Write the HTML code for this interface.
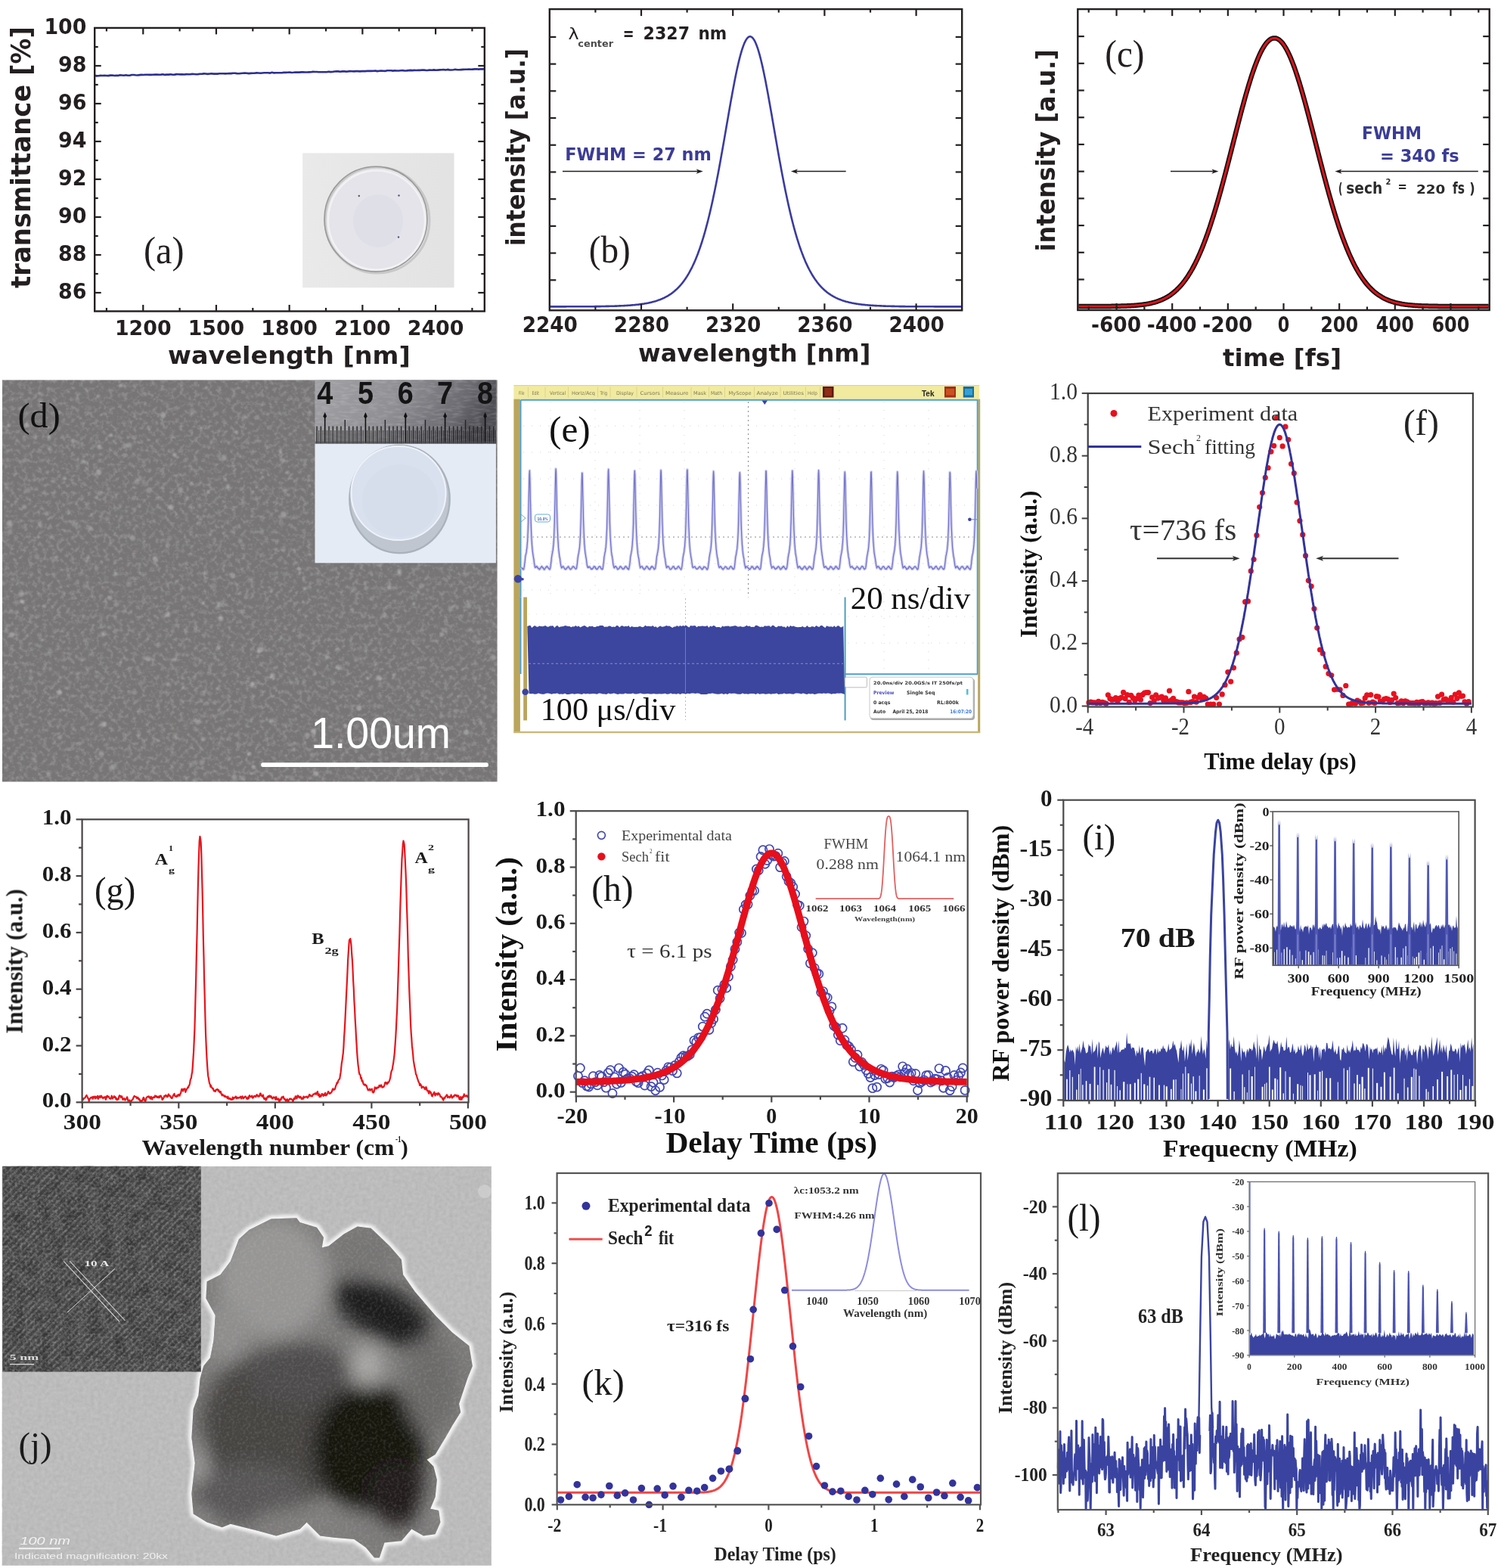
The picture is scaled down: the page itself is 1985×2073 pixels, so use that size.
<!DOCTYPE html>
<html><head><meta charset="utf-8"><title>Figure</title>
<style>html,body{margin:0;padding:0;background:#fff;} svg{display:block;}</style></head>
<body><svg xmlns="http://www.w3.org/2000/svg" width="1985" height="2073" viewBox="0 0 1985 2073">
<defs>
<linearGradient id="ga_inset" x1="0" y1="0" x2="1" y2="0"><stop offset="0" stop-color="#ececec" stop-opacity="0.5"/><stop offset="1" stop-color="#dedede" stop-opacity="0.5"/></linearGradient>
<filter id="semA" x="0" y="0" width="100%" height="100%" color-interpolation-filters="sRGB">
  <feTurbulence type="fractalNoise" baseFrequency="0.16" numOctaves="3" seed="7" result="n"/>
  <feColorMatrix in="n" type="matrix" values="0 0 0 0 1  0 0 0 0 1  0 0 0 0 1  0.6 0 0 0 -0.27"/>
  <feGaussianBlur stdDeviation="0.7"/>
</filter>
<filter id="semB" x="0" y="0" width="100%" height="100%" color-interpolation-filters="sRGB">
  <feTurbulence type="fractalNoise" baseFrequency="0.08 0.3" numOctaves="2" seed="3" result="n"/>
  <feColorMatrix in="n" type="matrix" values="0 0 0 0 1  0 0 0 0 1  0 0 0 0 1  0.8 0 0 0 -0.35"/>
</filter>
<filter id="blur1" x="-5%" y="-5%" width="110%" height="110%"><feGaussianBlur stdDeviation="0.9"/></filter>
<linearGradient id="ruler" x1="0" y1="0" x2="1" y2="0.2">
  <stop offset="0" stop-color="#a2a2a6"/><stop offset="0.5" stop-color="#8e8e93"/><stop offset="0.85" stop-color="#6a6a70"/><stop offset="1" stop-color="#4e4e54"/>
</linearGradient>
<filter id="blur3" x="-5%" y="-5%" width="110%" height="110%"><feGaussianBlur stdDeviation="2.2"/></filter>
<filter id="blur8" x="-20%" y="-20%" width="140%" height="140%"><feGaussianBlur stdDeviation="12"/></filter>
<filter id="temBg" x="0" y="0" width="100%" height="100%" color-interpolation-filters="sRGB">
  <feTurbulence type="fractalNoise" baseFrequency="0.2" numOctaves="2" seed="4" result="n"/>
  <feColorMatrix in="n" type="matrix" values="0 0 0 0 0.5  0 0 0 0 0.5  0 0 0 0 0.5  0 0 0 0.5 -0.1"/>
</filter>
<filter id="temTex" x="0" y="0" width="100%" height="100%" color-interpolation-filters="sRGB">
  <feTurbulence type="fractalNoise" baseFrequency="0.28" numOctaves="2" seed="9" result="n"/>
  <feColorMatrix in="n" type="matrix" values="0 0 0 0 0.85  0 0 0 0 0.85  0 0 0 0 0.85  1.0 0 0 0 -0.42"/>
</filter>
<filter id="temTex3" x="0" y="0" width="100%" height="100%" color-interpolation-filters="sRGB">
  <feTurbulence type="fractalNoise" baseFrequency="0.3" numOctaves="2" seed="15" result="n"/>
  <feColorMatrix in="n" type="matrix" values="0 0 0 0 1  0 0 0 0 1  0 0 0 0 1  1.2 0 0 0 -0.5"/>
</filter>
<filter id="temTex2" x="0" y="0" width="100%" height="100%" color-interpolation-filters="sRGB">
  <feTurbulence type="fractalNoise" baseFrequency="0.06" numOctaves="2" seed="12" result="n"/>
  <feColorMatrix in="n" type="matrix" values="0 0 0 0 0  0 0 0 0 0  0 0 0 0 0  1.0 0 0 0 -0.4"/>
</filter>
<pattern id="lattice" patternUnits="userSpaceOnUse" width="6.8" height="6.8" patternTransform="rotate(45)">
  <rect x="0" y="0" width="2.6" height="6.8" fill="#7a7a7a"/>
</pattern>

</defs>
<rect width="1985" height="2073" fill="#fff"/>
<!-- panel_a -->
<rect x="400.30" y="202.50" width="200.10" height="177.70" fill="#e7e7e7" stroke="none" stroke-width="1"/>
<rect x="400.30" y="202.50" width="200.10" height="177.70" fill="url(#ga_inset)" stroke="none" stroke-width="1"/>
<ellipse cx="499" cy="291" rx="69" ry="70" fill="#e4e4ea" stroke="#c8c8c8" stroke-width="3"/>
<ellipse cx="497" cy="289.7" rx="68" ry="69.4" fill="none" stroke="#9a9a9a" stroke-width="1.6"/>
<ellipse cx="498" cy="291" rx="64" ry="65.5" fill="none" stroke="#f2f2f2" stroke-width="2.5"/>
<ellipse cx="500" cy="292" rx="33" ry="35" fill="#dcdce6" opacity="0.6"/>
<circle cx="474.80" cy="259.00" r="1.20" fill="#555577" stroke="none" stroke-width="1"/>
<circle cx="527.50" cy="258.50" r="1.20" fill="#555577" stroke="none" stroke-width="1"/>
<circle cx="527.00" cy="313.50" r="1.20" fill="#555577" stroke="none" stroke-width="1"/>
<polyline points="125.2,99.9 127.8,100.4 130.4,100.3 132.9,99.9 135.5,100.0 138.1,99.9 140.7,100.0 143.2,100.1 145.8,99.6 148.4,99.5 151.0,100.0 153.6,99.7 156.1,99.9 158.7,99.3 161.3,99.5 163.9,99.7 166.4,99.3 169.0,99.8 171.6,99.7 174.2,99.0 176.8,99.0 179.3,99.3 181.9,99.5 184.5,99.1 187.1,98.9 189.6,99.0 192.2,98.7 194.8,98.8 197.4,98.9 200.0,98.9 202.5,98.7 205.1,98.6 207.7,98.6 210.3,98.7 212.9,98.6 215.4,98.3 218.0,98.9 220.6,98.6 223.2,98.6 225.7,98.3 228.3,98.8 230.9,98.6 233.5,98.1 236.1,98.2 238.6,98.4 241.2,98.4 243.8,98.5 246.4,98.1 248.9,98.3 251.5,98.2 254.1,97.9 256.7,98.0 259.3,98.2 261.8,98.1 264.4,97.8 267.0,97.8 269.6,97.4 272.1,97.5 274.7,97.9 277.3,97.5 279.9,97.3 282.5,97.6 285.0,97.6 287.6,97.6 290.2,97.3 292.8,97.3 295.3,97.3 297.9,97.4 300.5,97.2 303.1,97.1 305.7,97.1 308.2,96.7 310.8,96.7 313.4,97.1 316.0,97.3 318.5,97.0 321.1,96.8 323.7,96.6 326.3,96.8 328.9,97.1 331.4,96.9 334.0,96.7 336.6,96.8 339.2,96.4 341.8,96.5 344.3,96.8 346.9,96.5 349.5,96.3 352.1,96.2 354.6,96.3 357.2,96.6 359.8,95.8 362.4,96.4 365.0,96.3 367.5,96.3 370.1,96.2 372.7,96.2 375.3,95.9 377.8,95.9 380.4,95.8 383.0,95.5 385.6,96.0 388.2,95.8 390.7,95.5 393.3,95.6 395.9,95.6 398.5,95.4 401.0,95.4 403.6,95.5 406.2,95.5 408.8,95.4 411.4,95.3 413.9,94.9 416.5,95.0 419.1,95.0 421.7,95.2 424.2,95.3 426.8,95.3 429.4,95.2 432.0,95.2 434.6,94.7 437.1,95.1 439.7,95.0 442.3,94.5 444.9,94.4 447.4,94.4 450.0,94.8 452.6,94.4 455.2,94.3 457.8,94.6 460.3,94.4 462.9,94.1 465.5,94.2 468.1,94.4 470.7,94.1 473.2,94.1 475.8,94.4 478.4,94.1 481.0,94.0 483.5,94.1 486.1,93.7 488.7,93.9 491.3,93.9 493.9,93.7 496.4,93.6 499.0,94.1 501.6,93.8 504.2,93.5 506.7,93.8 509.3,93.9 511.9,93.3 514.5,93.2 517.1,93.3 519.6,93.6 522.2,93.2 524.8,93.5 527.4,93.5 529.9,93.3 532.5,93.1 535.1,93.5 537.7,93.4 540.3,93.1 542.8,92.9 545.4,93.1 548.0,92.9 550.6,93.0 553.1,92.8 555.7,92.9 558.3,92.5 560.9,92.6 563.5,93.0 566.0,92.9 568.6,92.5 571.2,92.8 573.8,92.4 576.3,92.8 578.9,92.6 581.5,92.4 584.1,92.2 586.7,92.0 589.2,92.5 591.8,91.9 594.4,92.4 597.0,92.5 599.6,92.2 602.1,91.8 604.7,92.3 607.3,92.3 609.9,92.1 612.4,91.9 615.0,91.8 617.6,91.7 620.2,91.5 622.8,91.8 625.3,91.6 627.9,91.4 630.5,91.3 633.1,91.6 635.6,91.3 638.2,91.4 640.8,91.3" fill="none" stroke="#2e2f8f" stroke-width="2.6" stroke-linejoin="round"/>
<rect x="125.20" y="36.90" width="515.60" height="374.60" fill="none" stroke="#231f20" stroke-width="2.4"/>
<line x1="125.20" y1="387.00" x2="133.70" y2="387.00" stroke="#231f20" stroke-width="2.2"/>
<line x1="640.80" y1="387.00" x2="632.30" y2="387.00" stroke="#231f20" stroke-width="2.2"/>
<line x1="125.20" y1="362.00" x2="129.70" y2="362.00" stroke="#231f20" stroke-width="2.2"/>
<line x1="640.80" y1="362.00" x2="636.30" y2="362.00" stroke="#231f20" stroke-width="2.2"/>
<line x1="125.20" y1="337.00" x2="133.70" y2="337.00" stroke="#231f20" stroke-width="2.2"/>
<line x1="640.80" y1="337.00" x2="632.30" y2="337.00" stroke="#231f20" stroke-width="2.2"/>
<line x1="125.20" y1="312.00" x2="129.70" y2="312.00" stroke="#231f20" stroke-width="2.2"/>
<line x1="640.80" y1="312.00" x2="636.30" y2="312.00" stroke="#231f20" stroke-width="2.2"/>
<line x1="125.20" y1="287.00" x2="133.70" y2="287.00" stroke="#231f20" stroke-width="2.2"/>
<line x1="640.80" y1="287.00" x2="632.30" y2="287.00" stroke="#231f20" stroke-width="2.2"/>
<line x1="125.20" y1="262.00" x2="129.70" y2="262.00" stroke="#231f20" stroke-width="2.2"/>
<line x1="640.80" y1="262.00" x2="636.30" y2="262.00" stroke="#231f20" stroke-width="2.2"/>
<line x1="125.20" y1="237.00" x2="133.70" y2="237.00" stroke="#231f20" stroke-width="2.2"/>
<line x1="640.80" y1="237.00" x2="632.30" y2="237.00" stroke="#231f20" stroke-width="2.2"/>
<line x1="125.20" y1="212.00" x2="129.70" y2="212.00" stroke="#231f20" stroke-width="2.2"/>
<line x1="640.80" y1="212.00" x2="636.30" y2="212.00" stroke="#231f20" stroke-width="2.2"/>
<line x1="125.20" y1="187.00" x2="133.70" y2="187.00" stroke="#231f20" stroke-width="2.2"/>
<line x1="640.80" y1="187.00" x2="632.30" y2="187.00" stroke="#231f20" stroke-width="2.2"/>
<line x1="125.20" y1="162.00" x2="129.70" y2="162.00" stroke="#231f20" stroke-width="2.2"/>
<line x1="640.80" y1="162.00" x2="636.30" y2="162.00" stroke="#231f20" stroke-width="2.2"/>
<line x1="125.20" y1="137.00" x2="133.70" y2="137.00" stroke="#231f20" stroke-width="2.2"/>
<line x1="640.80" y1="137.00" x2="632.30" y2="137.00" stroke="#231f20" stroke-width="2.2"/>
<line x1="125.20" y1="112.00" x2="129.70" y2="112.00" stroke="#231f20" stroke-width="2.2"/>
<line x1="640.80" y1="112.00" x2="636.30" y2="112.00" stroke="#231f20" stroke-width="2.2"/>
<line x1="125.20" y1="87.00" x2="133.70" y2="87.00" stroke="#231f20" stroke-width="2.2"/>
<line x1="640.80" y1="87.00" x2="632.30" y2="87.00" stroke="#231f20" stroke-width="2.2"/>
<line x1="125.20" y1="62.00" x2="129.70" y2="62.00" stroke="#231f20" stroke-width="2.2"/>
<line x1="640.80" y1="62.00" x2="636.30" y2="62.00" stroke="#231f20" stroke-width="2.2"/>
<line x1="140.92" y1="411.50" x2="140.92" y2="407.00" stroke="#231f20" stroke-width="2.2"/>
<line x1="140.92" y1="36.90" x2="140.92" y2="41.40" stroke="#231f20" stroke-width="2.2"/>
<line x1="189.27" y1="411.50" x2="189.27" y2="403.00" stroke="#231f20" stroke-width="2.2"/>
<line x1="189.27" y1="36.90" x2="189.27" y2="45.40" stroke="#231f20" stroke-width="2.2"/>
<line x1="237.62" y1="411.50" x2="237.62" y2="407.00" stroke="#231f20" stroke-width="2.2"/>
<line x1="237.62" y1="36.90" x2="237.62" y2="41.40" stroke="#231f20" stroke-width="2.2"/>
<line x1="285.96" y1="411.50" x2="285.96" y2="403.00" stroke="#231f20" stroke-width="2.2"/>
<line x1="285.96" y1="36.90" x2="285.96" y2="45.40" stroke="#231f20" stroke-width="2.2"/>
<line x1="334.31" y1="411.50" x2="334.31" y2="407.00" stroke="#231f20" stroke-width="2.2"/>
<line x1="334.31" y1="36.90" x2="334.31" y2="41.40" stroke="#231f20" stroke-width="2.2"/>
<line x1="382.66" y1="411.50" x2="382.66" y2="403.00" stroke="#231f20" stroke-width="2.2"/>
<line x1="382.66" y1="36.90" x2="382.66" y2="45.40" stroke="#231f20" stroke-width="2.2"/>
<line x1="431.01" y1="411.50" x2="431.01" y2="407.00" stroke="#231f20" stroke-width="2.2"/>
<line x1="431.01" y1="36.90" x2="431.01" y2="41.40" stroke="#231f20" stroke-width="2.2"/>
<line x1="479.36" y1="411.50" x2="479.36" y2="403.00" stroke="#231f20" stroke-width="2.2"/>
<line x1="479.36" y1="36.90" x2="479.36" y2="45.40" stroke="#231f20" stroke-width="2.2"/>
<line x1="527.71" y1="411.50" x2="527.71" y2="407.00" stroke="#231f20" stroke-width="2.2"/>
<line x1="527.71" y1="36.90" x2="527.71" y2="41.40" stroke="#231f20" stroke-width="2.2"/>
<line x1="576.06" y1="411.50" x2="576.06" y2="403.00" stroke="#231f20" stroke-width="2.2"/>
<line x1="576.06" y1="36.90" x2="576.06" y2="45.40" stroke="#231f20" stroke-width="2.2"/>
<line x1="624.41" y1="411.50" x2="624.41" y2="407.00" stroke="#231f20" stroke-width="2.2"/>
<line x1="624.41" y1="36.90" x2="624.41" y2="41.40" stroke="#231f20" stroke-width="2.2"/>
<text x="76.90" y="394.70" font-family='"DejaVu Sans", sans-serif' font-size="28.00" font-weight="bold" fill="#231f20" textLength="37.49" lengthAdjust="spacingAndGlyphs">86</text>
<text x="76.90" y="344.70" font-family='"DejaVu Sans", sans-serif' font-size="28.00" font-weight="bold" fill="#231f20" textLength="37.49" lengthAdjust="spacingAndGlyphs">88</text>
<text x="76.90" y="294.70" font-family='"DejaVu Sans", sans-serif' font-size="28.00" font-weight="bold" fill="#231f20" textLength="37.49" lengthAdjust="spacingAndGlyphs">90</text>
<text x="76.90" y="244.70" font-family='"DejaVu Sans", sans-serif' font-size="28.00" font-weight="bold" fill="#231f20" textLength="37.49" lengthAdjust="spacingAndGlyphs">92</text>
<text x="76.90" y="194.70" font-family='"DejaVu Sans", sans-serif' font-size="28.00" font-weight="bold" fill="#231f20" textLength="37.49" lengthAdjust="spacingAndGlyphs">94</text>
<text x="76.90" y="144.70" font-family='"DejaVu Sans", sans-serif' font-size="28.00" font-weight="bold" fill="#231f20" textLength="37.49" lengthAdjust="spacingAndGlyphs">96</text>
<text x="76.90" y="94.70" font-family='"DejaVu Sans", sans-serif' font-size="28.00" font-weight="bold" fill="#231f20" textLength="37.49" lengthAdjust="spacingAndGlyphs">98</text>
<text x="58.40" y="44.70" font-family='"DejaVu Sans", sans-serif' font-size="28.00" font-weight="bold" fill="#231f20" textLength="56.01" lengthAdjust="spacingAndGlyphs">100</text>
<text x="151.97" y="442.80" font-family='"DejaVu Sans", sans-serif' font-size="27.00" font-weight="bold" fill="#231f20" textLength="74.61" lengthAdjust="spacingAndGlyphs">1200</text>
<text x="248.66" y="442.80" font-family='"DejaVu Sans", sans-serif' font-size="27.00" font-weight="bold" fill="#231f20" textLength="74.61" lengthAdjust="spacingAndGlyphs">1500</text>
<text x="345.36" y="442.80" font-family='"DejaVu Sans", sans-serif' font-size="27.00" font-weight="bold" fill="#231f20" textLength="74.61" lengthAdjust="spacingAndGlyphs">1800</text>
<text x="442.06" y="442.80" font-family='"DejaVu Sans", sans-serif' font-size="27.00" font-weight="bold" fill="#231f20" textLength="74.61" lengthAdjust="spacingAndGlyphs">2100</text>
<text x="538.76" y="442.80" font-family='"DejaVu Sans", sans-serif' font-size="27.00" font-weight="bold" fill="#231f20" textLength="74.61" lengthAdjust="spacingAndGlyphs">2400</text>
<text x="222.10" y="481.20" font-family='"DejaVu Sans", sans-serif' font-size="32.00" font-weight="bold" fill="#231f20" textLength="320.68" lengthAdjust="spacingAndGlyphs">wavelength [nm]</text>
<text transform="translate(40.00,381.00) rotate(-90)" x="0" y="0" font-family='"DejaVu Sans", sans-serif' font-size="35.00" font-weight="bold" fill="#231f20" textLength="346.00" lengthAdjust="spacingAndGlyphs">transmittance [%]</text>
<text x="190.00" y="347.60" font-family='"Liberation Serif", serif' font-size="50.00" fill="#231f20" textLength="53.49" lengthAdjust="spacingAndGlyphs">(a)</text>
<!-- panel_b -->
<polyline points="726.8,405.4 727.6,405.4 728.4,405.4 729.2,405.4 730.0,405.4 730.8,405.4 731.6,405.4 732.4,405.4 733.2,405.4 734.0,405.4 734.8,405.4 735.6,405.4 736.4,405.4 737.2,405.4 738.0,405.4 738.8,405.4 739.6,405.4 740.4,405.4 741.2,405.4 742.0,405.4 742.8,405.4 743.6,405.4 744.4,405.4 745.2,405.4 746.0,405.4 746.8,405.4 747.6,405.4 748.4,405.4 749.2,405.3 750.0,405.3 750.8,405.3 751.6,405.3 752.4,405.3 753.2,405.3 754.0,405.3 754.8,405.3 755.6,405.3 756.4,405.3 757.2,405.3 758.0,405.3 758.8,405.3 759.6,405.3 760.4,405.3 761.2,405.3 762.0,405.3 762.8,405.3 763.6,405.3 764.4,405.3 765.2,405.3 766.0,405.3 766.8,405.3 767.6,405.3 768.4,405.3 769.2,405.3 770.0,405.3 770.8,405.3 771.6,405.3 772.4,405.3 773.2,405.3 774.0,405.3 774.8,405.2 775.6,405.2 776.4,405.2 777.2,405.2 778.0,405.2 778.8,405.2 779.6,405.2 780.4,405.2 781.2,405.2 782.0,405.2 782.8,405.2 783.6,405.2 784.4,405.2 785.2,405.2 786.0,405.2 786.8,405.1 787.6,405.1 788.4,405.1 789.2,405.1 790.0,405.1 790.8,405.1 791.6,405.1 792.4,405.1 793.2,405.1 794.0,405.1 794.8,405.0 795.6,405.0 796.4,405.0 797.2,405.0 798.0,405.0 798.8,405.0 799.6,405.0 800.4,405.0 801.2,404.9 802.0,404.9 802.8,404.9 803.6,404.9 804.4,404.9 805.2,404.9 806.0,404.8 806.8,404.8 807.6,404.8 808.4,404.8 809.2,404.8 810.0,404.7 810.8,404.7 811.6,404.7 812.4,404.7 813.2,404.6 814.0,404.6 814.8,404.6 815.6,404.6 816.4,404.5 817.2,404.5 818.0,404.5 818.8,404.4 819.6,404.4 820.4,404.4 821.2,404.3 822.0,404.3 822.8,404.3 823.6,404.2 824.4,404.2 825.2,404.1 826.0,404.1 826.8,404.0 827.6,404.0 828.4,404.0 829.2,403.9 830.0,403.9 830.8,403.8 831.6,403.7 832.4,403.7 833.2,403.6 834.0,403.6 834.8,403.5 835.6,403.4 836.4,403.4 837.2,403.3 838.0,403.2 838.8,403.2 839.6,403.1 840.4,403.0 841.2,402.9 842.0,402.8 842.8,402.8 843.6,402.7 844.4,402.6 845.2,402.5 846.0,402.4 846.8,402.3 847.6,402.2 848.4,402.0 849.2,401.9 850.0,401.8 850.8,401.7 851.6,401.6 852.4,401.4 853.2,401.3 854.0,401.2 854.8,401.0 855.6,400.9 856.4,400.7 857.2,400.6 858.0,400.4 858.8,400.2 859.6,400.0 860.4,399.9 861.2,399.7 862.0,399.5 862.8,399.3 863.6,399.1 864.4,398.9 865.2,398.6 866.0,398.4 866.8,398.2 867.6,397.9 868.4,397.7 869.2,397.4 870.0,397.1 870.8,396.8 871.6,396.6 872.4,396.3 873.2,396.0 874.0,395.6 874.8,395.3 875.6,395.0 876.4,394.6 877.2,394.2 878.0,393.9 878.8,393.5 879.6,393.1 880.4,392.7 881.2,392.2 882.0,391.8 882.8,391.3 883.6,390.9 884.4,390.4 885.2,389.9 886.0,389.3 886.8,388.8 887.6,388.3 888.4,387.7 889.2,387.1 890.0,386.5 890.8,385.8 891.6,385.2 892.4,384.5 893.2,383.8 894.0,383.1 894.8,382.4 895.6,381.6 896.4,380.8 897.2,380.0 898.0,379.2 898.8,378.3 899.6,377.4 900.4,376.5 901.2,375.5 902.0,374.6 902.8,373.6 903.6,372.5 904.4,371.4 905.2,370.3 906.0,369.2 906.8,368.0 907.6,366.8 908.4,365.6 909.2,364.3 910.0,362.9 910.8,361.6 911.6,360.2 912.4,358.7 913.2,357.2 914.0,355.7 914.8,354.1 915.6,352.5 916.4,350.8 917.2,349.1 918.0,347.4 918.8,345.5 919.6,343.7 920.4,341.8 921.2,339.8 922.0,337.8 922.8,335.7 923.6,333.5 924.4,331.3 925.2,329.1 926.0,326.8 926.8,324.4 927.6,322.0 928.4,319.5 929.2,316.9 930.0,314.3 930.8,311.6 931.6,308.9 932.4,306.1 933.2,303.2 934.0,300.2 934.8,297.2 935.6,294.1 936.4,291.0 937.2,287.8 938.0,284.5 938.8,281.1 939.6,277.7 940.4,274.2 941.2,270.7 942.0,267.1 942.8,263.4 943.6,259.6 944.4,255.8 945.2,251.9 946.0,248.0 946.8,244.0 947.6,239.9 948.4,235.8 949.2,231.7 950.0,227.4 950.8,223.2 951.6,218.8 952.4,214.5 953.2,210.0 954.0,205.6 954.8,201.1 955.6,196.6 956.4,192.0 957.2,187.5 958.0,182.9 958.8,178.2 959.6,173.6 960.4,169.0 961.2,164.3 962.0,159.7 962.8,155.1 963.6,150.5 964.4,145.9 965.2,141.3 966.0,136.8 966.8,132.3 967.6,127.9 968.4,123.5 969.2,119.2 970.0,114.9 970.8,110.7 971.6,106.6 972.4,102.6 973.2,98.6 974.0,94.8 974.8,91.1 975.6,87.5 976.4,84.0 977.2,80.6 978.0,77.4 978.8,74.3 979.6,71.4 980.4,68.6 981.2,65.9 982.0,63.5 982.8,61.2 983.6,59.1 984.4,57.1 985.2,55.4 986.0,53.8 986.8,52.4 987.6,51.3 988.4,50.3 989.2,49.5 990.0,48.9 990.8,48.5 991.6,48.3 992.4,48.3 993.2,48.6 994.0,49.0 994.8,49.6 995.6,50.4 996.4,51.5 997.2,52.7 998.0,54.1 998.8,55.7 999.6,57.5 1000.4,59.5 1001.2,61.6 1002.0,63.9 1002.8,66.4 1003.6,69.1 1004.4,71.9 1005.2,74.9 1006.0,78.0 1006.8,81.2 1007.6,84.6 1008.4,88.1 1009.2,91.8 1010.0,95.5 1010.8,99.4 1011.6,103.3 1012.4,107.3 1013.2,111.5 1014.0,115.7 1014.8,120.0 1015.6,124.3 1016.4,128.7 1017.2,133.2 1018.0,137.7 1018.8,142.2 1019.6,146.8 1020.4,151.3 1021.2,156.0 1022.0,160.6 1022.8,165.2 1023.6,169.9 1024.4,174.5 1025.2,179.1 1026.0,183.7 1026.8,188.3 1027.6,192.9 1028.4,197.4 1029.2,202.0 1030.0,206.4 1030.8,210.9 1031.6,215.3 1032.4,219.6 1033.2,224.0 1034.0,228.2 1034.8,232.4 1035.6,236.6 1036.4,240.7 1037.2,244.8 1038.0,248.7 1038.8,252.7 1039.6,256.5 1040.4,260.3 1041.2,264.1 1042.0,267.8 1042.8,271.4 1043.6,274.9 1044.4,278.4 1045.2,281.8 1046.0,285.1 1046.8,288.4 1047.6,291.6 1048.4,294.7 1049.2,297.8 1050.0,300.8 1050.8,303.7 1051.6,306.6 1052.4,309.4 1053.2,312.1 1054.0,314.8 1054.8,317.4 1055.6,319.9 1056.4,322.4 1057.2,324.9 1058.0,327.2 1058.8,329.5 1059.6,331.8 1060.4,333.9 1061.2,336.1 1062.0,338.1 1062.8,340.2 1063.6,342.1 1064.4,344.0 1065.2,345.9 1066.0,347.7 1066.8,349.4 1067.6,351.2 1068.4,352.8 1069.2,354.4 1070.0,356.0 1070.8,357.5 1071.6,359.0 1072.4,360.4 1073.2,361.8 1074.0,363.2 1074.8,364.5 1075.6,365.8 1076.4,367.0 1077.2,368.2 1078.0,369.4 1078.8,370.5 1079.6,371.6 1080.4,372.7 1081.2,373.7 1082.0,374.7 1082.8,375.7 1083.6,376.7 1084.4,377.6 1085.2,378.5 1086.0,379.3 1086.8,380.2 1087.6,381.0 1088.4,381.7 1089.2,382.5 1090.0,383.2 1090.8,384.0 1091.6,384.6 1092.4,385.3 1093.2,386.0 1094.0,386.6 1094.8,387.2 1095.6,387.8 1096.4,388.4 1097.2,388.9 1098.0,389.4 1098.8,390.0 1099.6,390.5 1100.4,390.9 1101.2,391.4 1102.0,391.9 1102.8,392.3 1103.6,392.7 1104.4,393.2 1105.2,393.6 1106.0,393.9 1106.8,394.3 1107.6,394.7 1108.4,395.0 1109.2,395.4 1110.0,395.7 1110.8,396.0 1111.6,396.3 1112.4,396.6 1113.2,396.9 1114.0,397.2 1114.8,397.4 1115.6,397.7 1116.4,398.0 1117.2,398.2 1118.0,398.4 1118.8,398.7 1119.6,398.9 1120.4,399.1 1121.2,399.3 1122.0,399.5 1122.8,399.7 1123.6,399.9 1124.4,400.1 1125.2,400.3 1126.0,400.4 1126.8,400.6 1127.6,400.7 1128.4,400.9 1129.2,401.0 1130.0,401.2 1130.8,401.3 1131.6,401.5 1132.4,401.6 1133.2,401.7 1134.0,401.8 1134.8,402.0 1135.6,402.1 1136.4,402.2 1137.2,402.3 1138.0,402.4 1138.8,402.5 1139.6,402.6 1140.4,402.7 1141.2,402.8 1142.0,402.9 1142.8,402.9 1143.6,403.0 1144.4,403.1 1145.2,403.2 1146.0,403.2 1146.8,403.3 1147.6,403.4 1148.4,403.5 1149.2,403.5 1150.0,403.6 1150.8,403.6 1151.6,403.7 1152.4,403.8 1153.2,403.8 1154.0,403.9 1154.8,403.9 1155.6,404.0 1156.4,404.0 1157.2,404.1 1158.0,404.1 1158.8,404.1 1159.6,404.2 1160.4,404.2 1161.2,404.3 1162.0,404.3 1162.8,404.3 1163.6,404.4 1164.4,404.4 1165.2,404.4 1166.0,404.5 1166.8,404.5 1167.6,404.5 1168.4,404.6 1169.2,404.6 1170.0,404.6 1170.8,404.6 1171.6,404.7 1172.4,404.7 1173.2,404.7 1174.0,404.7 1174.8,404.8 1175.6,404.8 1176.4,404.8 1177.2,404.8 1178.0,404.8 1178.8,404.9 1179.6,404.9 1180.4,404.9 1181.2,404.9 1182.0,404.9 1182.8,404.9 1183.6,405.0 1184.4,405.0 1185.2,405.0 1186.0,405.0 1186.8,405.0 1187.6,405.0 1188.4,405.0 1189.2,405.1 1190.0,405.1 1190.8,405.1 1191.6,405.1 1192.4,405.1 1193.2,405.1 1194.0,405.1 1194.8,405.1 1195.6,405.1 1196.4,405.1 1197.2,405.2 1198.0,405.2 1198.8,405.2 1199.6,405.2 1200.4,405.2 1201.2,405.2 1202.0,405.2 1202.8,405.2 1203.6,405.2 1204.4,405.2 1205.2,405.2 1206.0,405.2 1206.8,405.2 1207.6,405.2 1208.4,405.2 1209.2,405.2 1210.0,405.3 1210.8,405.3 1211.6,405.3 1212.4,405.3 1213.2,405.3 1214.0,405.3 1214.8,405.3 1215.6,405.3 1216.4,405.3 1217.2,405.3 1218.0,405.3 1218.8,405.3 1219.6,405.3 1220.4,405.3 1221.2,405.3 1222.0,405.3 1222.8,405.3 1223.6,405.3 1224.4,405.3 1225.2,405.3 1226.0,405.3 1226.8,405.3 1227.6,405.3 1228.4,405.3 1229.2,405.3 1230.0,405.3 1230.8,405.3 1231.6,405.3 1232.4,405.3 1233.2,405.3 1234.0,405.3 1234.8,405.3 1235.6,405.4 1236.4,405.4 1237.2,405.4 1238.0,405.4 1238.8,405.4 1239.6,405.4 1240.4,405.4 1241.2,405.4 1242.0,405.4 1242.8,405.4 1243.6,405.4 1244.4,405.4 1245.2,405.4 1246.0,405.4 1246.8,405.4 1247.6,405.4 1248.4,405.4 1249.2,405.4 1250.0,405.4 1250.8,405.4 1251.6,405.4 1252.4,405.4 1253.2,405.4 1254.0,405.4 1254.8,405.4 1255.6,405.4 1256.4,405.4 1257.2,405.4 1258.0,405.4 1258.8,405.4 1259.6,405.4 1260.4,405.4 1261.2,405.4 1262.0,405.4 1262.8,405.4 1263.6,405.4 1264.4,405.4 1265.2,405.4 1266.0,405.4 1266.8,405.4 1267.6,405.4 1268.4,405.4 1269.2,405.4 1270.0,405.4 1270.8,405.4 1271.6,405.4" fill="none" stroke="#3a3b9e" stroke-width="2.6" stroke-linejoin="round"/>
<rect x="726.80" y="12.10" width="545.40" height="398.20" fill="none" stroke="#231f20" stroke-width="2.4"/>
<line x1="726.80" y1="48.90" x2="735.30" y2="48.90" stroke="#231f20" stroke-width="2.2"/>
<line x1="1272.20" y1="48.90" x2="1263.70" y2="48.90" stroke="#231f20" stroke-width="2.2"/>
<line x1="726.80" y1="84.61" x2="735.30" y2="84.61" stroke="#231f20" stroke-width="2.2"/>
<line x1="1272.20" y1="84.61" x2="1263.70" y2="84.61" stroke="#231f20" stroke-width="2.2"/>
<line x1="726.80" y1="120.32" x2="735.30" y2="120.32" stroke="#231f20" stroke-width="2.2"/>
<line x1="1272.20" y1="120.32" x2="1263.70" y2="120.32" stroke="#231f20" stroke-width="2.2"/>
<line x1="726.80" y1="156.03" x2="735.30" y2="156.03" stroke="#231f20" stroke-width="2.2"/>
<line x1="1272.20" y1="156.03" x2="1263.70" y2="156.03" stroke="#231f20" stroke-width="2.2"/>
<line x1="726.80" y1="191.74" x2="735.30" y2="191.74" stroke="#231f20" stroke-width="2.2"/>
<line x1="1272.20" y1="191.74" x2="1263.70" y2="191.74" stroke="#231f20" stroke-width="2.2"/>
<line x1="726.80" y1="227.45" x2="735.30" y2="227.45" stroke="#231f20" stroke-width="2.2"/>
<line x1="1272.20" y1="227.45" x2="1263.70" y2="227.45" stroke="#231f20" stroke-width="2.2"/>
<line x1="726.80" y1="263.16" x2="735.30" y2="263.16" stroke="#231f20" stroke-width="2.2"/>
<line x1="1272.20" y1="263.16" x2="1263.70" y2="263.16" stroke="#231f20" stroke-width="2.2"/>
<line x1="726.80" y1="298.87" x2="735.30" y2="298.87" stroke="#231f20" stroke-width="2.2"/>
<line x1="1272.20" y1="298.87" x2="1263.70" y2="298.87" stroke="#231f20" stroke-width="2.2"/>
<line x1="726.80" y1="334.58" x2="735.30" y2="334.58" stroke="#231f20" stroke-width="2.2"/>
<line x1="1272.20" y1="334.58" x2="1263.70" y2="334.58" stroke="#231f20" stroke-width="2.2"/>
<line x1="726.80" y1="370.29" x2="735.30" y2="370.29" stroke="#231f20" stroke-width="2.2"/>
<line x1="1272.20" y1="370.29" x2="1263.70" y2="370.29" stroke="#231f20" stroke-width="2.2"/>
<line x1="787.40" y1="410.30" x2="787.40" y2="405.80" stroke="#231f20" stroke-width="2.2"/>
<line x1="787.40" y1="12.10" x2="787.40" y2="16.60" stroke="#231f20" stroke-width="2.2"/>
<line x1="848.00" y1="410.30" x2="848.00" y2="401.30" stroke="#231f20" stroke-width="2.2"/>
<line x1="848.00" y1="12.10" x2="848.00" y2="21.10" stroke="#231f20" stroke-width="2.2"/>
<line x1="908.60" y1="410.30" x2="908.60" y2="405.80" stroke="#231f20" stroke-width="2.2"/>
<line x1="908.60" y1="12.10" x2="908.60" y2="16.60" stroke="#231f20" stroke-width="2.2"/>
<line x1="969.20" y1="410.30" x2="969.20" y2="401.30" stroke="#231f20" stroke-width="2.2"/>
<line x1="969.20" y1="12.10" x2="969.20" y2="21.10" stroke="#231f20" stroke-width="2.2"/>
<line x1="1029.80" y1="410.30" x2="1029.80" y2="405.80" stroke="#231f20" stroke-width="2.2"/>
<line x1="1029.80" y1="12.10" x2="1029.80" y2="16.60" stroke="#231f20" stroke-width="2.2"/>
<line x1="1090.40" y1="410.30" x2="1090.40" y2="401.30" stroke="#231f20" stroke-width="2.2"/>
<line x1="1090.40" y1="12.10" x2="1090.40" y2="21.10" stroke="#231f20" stroke-width="2.2"/>
<line x1="1151.00" y1="410.30" x2="1151.00" y2="405.80" stroke="#231f20" stroke-width="2.2"/>
<line x1="1151.00" y1="12.10" x2="1151.00" y2="16.60" stroke="#231f20" stroke-width="2.2"/>
<line x1="1211.60" y1="410.30" x2="1211.60" y2="401.30" stroke="#231f20" stroke-width="2.2"/>
<line x1="1211.60" y1="12.10" x2="1211.60" y2="21.10" stroke="#231f20" stroke-width="2.2"/>
<text x="690.65" y="439.30" font-family='"DejaVu Sans", sans-serif' font-size="28.00" font-weight="bold" fill="#231f20" textLength="73.30" lengthAdjust="spacingAndGlyphs">2240</text>
<text x="811.85" y="439.30" font-family='"DejaVu Sans", sans-serif' font-size="28.00" font-weight="bold" fill="#231f20" textLength="73.30" lengthAdjust="spacingAndGlyphs">2280</text>
<text x="933.05" y="439.30" font-family='"DejaVu Sans", sans-serif' font-size="28.00" font-weight="bold" fill="#231f20" textLength="73.30" lengthAdjust="spacingAndGlyphs">2320</text>
<text x="1054.25" y="439.30" font-family='"DejaVu Sans", sans-serif' font-size="28.00" font-weight="bold" fill="#231f20" textLength="73.30" lengthAdjust="spacingAndGlyphs">2360</text>
<text x="1175.45" y="439.30" font-family='"DejaVu Sans", sans-serif' font-size="28.00" font-weight="bold" fill="#231f20" textLength="73.30" lengthAdjust="spacingAndGlyphs">2400</text>
<text x="844.00" y="477.50" font-family='"DejaVu Sans", sans-serif' font-size="32.00" font-weight="bold" fill="#231f20" textLength="307.39" lengthAdjust="spacingAndGlyphs">wavelength [nm]</text>
<text transform="translate(694.20,325.10) rotate(-90)" x="0" y="0" font-family='"DejaVu Sans", sans-serif' font-size="33.00" font-weight="bold" fill="#231f20" textLength="261.02" lengthAdjust="spacingAndGlyphs">intensity [a.u.]</text>
<text x="751.50" y="52.00" font-family='"DejaVu Sans", sans-serif' font-size="21.00" fill="#231f20" textLength="14.10" lengthAdjust="spacingAndGlyphs">λ</text>
<text x="764.30" y="62.10" font-family='"DejaVu Sans", sans-serif' font-size="11.50" font-weight="bold" fill="#4a4a4a" textLength="46.70" lengthAdjust="spacingAndGlyphs">center</text>
<text x="823.70" y="52.20" font-family='"DejaVu Sans", sans-serif' font-size="22.50" font-weight="bold" fill="#231f20" textLength="14.80" lengthAdjust="spacingAndGlyphs">=</text>
<text x="850.60" y="52.20" font-family='"DejaVu Sans", sans-serif' font-size="22.50" font-weight="bold" fill="#231f20" textLength="61.40" lengthAdjust="spacingAndGlyphs">2327</text>
<text x="923.50" y="52.20" font-family='"DejaVu Sans", sans-serif' font-size="22.50" font-weight="bold" fill="#231f20" textLength="37.70" lengthAdjust="spacingAndGlyphs">nm</text>
<text x="747.30" y="211.60" font-family='"DejaVu Sans", sans-serif' font-size="23.00" font-weight="bold" fill="#3b3c97" textLength="193.60" lengthAdjust="spacingAndGlyphs">FWHM = 27 nm</text>
<line x1="744.00" y1="226.60" x2="924.30" y2="226.60" stroke="#231f20" stroke-width="1.5"/>
<polygon points="929.7,226.6 920.7,223.4 923.0,226.6 920.7,229.8" fill="#231f20"/>
<line x1="1051.40" y1="226.60" x2="1118.70" y2="226.60" stroke="#231f20" stroke-width="1.5"/>
<polygon points="1046.0,226.6 1055.0,223.4 1052.8,226.6 1055.0,229.8" fill="#231f20"/>
<text x="778.70" y="347.00" font-family='"Liberation Serif", serif' font-size="50.00" fill="#231f20" textLength="55.00" lengthAdjust="spacingAndGlyphs">(b)</text>
<!-- panel_c -->
<polyline points="1426.3,405.0 1427.1,405.0 1427.9,405.0 1428.7,405.0 1429.5,405.0 1430.3,405.0 1431.1,405.0 1431.9,405.0 1432.7,405.0 1433.5,405.0 1434.3,405.0 1435.1,405.0 1435.9,405.0 1436.7,405.0 1437.5,405.0 1438.3,405.0 1439.1,405.0 1439.9,405.0 1440.7,405.0 1441.5,405.0 1442.3,405.0 1443.1,405.0 1443.9,405.0 1444.7,405.0 1445.5,405.0 1446.3,405.0 1447.1,405.0 1447.9,405.0 1448.7,405.0 1449.5,405.0 1450.3,405.0 1451.1,405.0 1451.9,405.0 1452.7,405.0 1453.5,405.0 1454.3,405.0 1455.1,404.9 1455.9,404.9 1456.7,404.9 1457.5,404.9 1458.3,404.9 1459.1,404.9 1459.9,404.9 1460.7,404.9 1461.5,404.9 1462.3,404.9 1463.1,404.9 1463.9,404.9 1464.7,404.9 1465.5,404.9 1466.3,404.9 1467.1,404.9 1467.9,404.9 1468.7,404.9 1469.5,404.9 1470.3,404.8 1471.1,404.8 1471.9,404.8 1472.7,404.8 1473.5,404.8 1474.3,404.8 1475.1,404.8 1475.9,404.8 1476.7,404.8 1477.5,404.7 1478.3,404.7 1479.1,404.7 1479.9,404.7 1480.7,404.7 1481.5,404.7 1482.3,404.6 1483.1,404.6 1483.9,404.6 1484.7,404.6 1485.5,404.5 1486.3,404.5 1487.1,404.5 1487.9,404.5 1488.7,404.4 1489.5,404.4 1490.3,404.4 1491.1,404.3 1491.9,404.3 1492.7,404.3 1493.5,404.2 1494.3,404.2 1495.1,404.2 1495.9,404.1 1496.7,404.1 1497.5,404.0 1498.3,404.0 1499.1,403.9 1499.9,403.9 1500.7,403.8 1501.5,403.7 1502.3,403.7 1503.1,403.6 1503.9,403.5 1504.7,403.5 1505.5,403.4 1506.3,403.3 1507.1,403.2 1507.9,403.1 1508.7,403.1 1509.5,403.0 1510.3,402.9 1511.1,402.8 1511.9,402.7 1512.7,402.5 1513.5,402.4 1514.3,402.3 1515.1,402.2 1515.9,402.1 1516.7,401.9 1517.5,401.8 1518.3,401.6 1519.1,401.5 1519.9,401.3 1520.7,401.2 1521.5,401.0 1522.3,400.8 1523.1,400.6 1523.9,400.4 1524.7,400.2 1525.5,400.0 1526.3,399.8 1527.1,399.6 1527.9,399.3 1528.7,399.1 1529.5,398.8 1530.3,398.6 1531.1,398.3 1531.9,398.0 1532.7,397.7 1533.5,397.4 1534.3,397.1 1535.1,396.8 1535.9,396.5 1536.7,396.1 1537.5,395.8 1538.3,395.4 1539.1,395.0 1539.9,394.6 1540.7,394.2 1541.5,393.8 1542.3,393.3 1543.1,392.9 1543.9,392.4 1544.7,391.9 1545.5,391.4 1546.3,390.9 1547.1,390.4 1547.9,389.9 1548.7,389.3 1549.5,388.7 1550.3,388.1 1551.1,387.5 1551.9,386.8 1552.7,386.2 1553.5,385.5 1554.3,384.8 1555.1,384.1 1555.9,383.4 1556.7,382.6 1557.5,381.8 1558.3,381.0 1559.1,380.2 1559.9,379.4 1560.7,378.5 1561.5,377.6 1562.3,376.7 1563.1,375.7 1563.9,374.8 1564.7,373.8 1565.5,372.7 1566.3,371.7 1567.1,370.6 1567.9,369.5 1568.7,368.4 1569.5,367.2 1570.3,366.1 1571.1,364.9 1571.9,363.6 1572.7,362.3 1573.5,361.0 1574.3,359.7 1575.1,358.4 1575.9,357.0 1576.7,355.6 1577.5,354.1 1578.3,352.6 1579.1,351.1 1579.9,349.6 1580.7,348.0 1581.5,346.4 1582.3,344.7 1583.1,343.1 1583.9,341.3 1584.7,339.6 1585.5,337.8 1586.3,336.0 1587.1,334.2 1587.9,332.3 1588.7,330.4 1589.5,328.5 1590.3,326.5 1591.1,324.5 1591.9,322.4 1592.7,320.4 1593.5,318.2 1594.3,316.1 1595.1,313.9 1595.9,311.7 1596.7,309.5 1597.5,307.2 1598.3,304.9 1599.1,302.5 1599.9,300.2 1600.7,297.7 1601.5,295.3 1602.3,292.8 1603.1,290.3 1603.9,287.8 1604.7,285.2 1605.5,282.6 1606.3,280.0 1607.1,277.4 1607.9,274.7 1608.7,272.0 1609.5,269.2 1610.3,266.5 1611.1,263.7 1611.9,260.9 1612.7,258.0 1613.5,255.2 1614.3,252.3 1615.1,249.4 1615.9,246.4 1616.7,243.5 1617.5,240.5 1618.3,237.5 1619.1,234.5 1619.9,231.5 1620.7,228.5 1621.5,225.4 1622.3,222.3 1623.1,219.2 1623.9,216.2 1624.7,213.1 1625.5,209.9 1626.3,206.8 1627.1,203.7 1627.9,200.6 1628.7,197.4 1629.5,194.3 1630.3,191.1 1631.1,188.0 1631.9,184.8 1632.7,181.7 1633.5,178.6 1634.3,175.4 1635.1,172.3 1635.9,169.2 1636.7,166.1 1637.5,163.0 1638.3,159.9 1639.1,156.8 1639.9,153.8 1640.7,150.7 1641.5,147.7 1642.3,144.7 1643.1,141.7 1643.9,138.8 1644.7,135.8 1645.5,132.9 1646.3,130.0 1647.1,127.2 1647.9,124.4 1648.7,121.6 1649.5,118.8 1650.3,116.1 1651.1,113.4 1651.9,110.8 1652.7,108.2 1653.5,105.6 1654.3,103.1 1655.1,100.6 1655.9,98.1 1656.7,95.8 1657.5,93.4 1658.3,91.1 1659.1,88.9 1659.9,86.7 1660.7,84.6 1661.5,82.5 1662.3,80.4 1663.1,78.5 1663.9,76.6 1664.7,74.7 1665.5,72.9 1666.3,71.2 1667.1,69.5 1667.9,67.9 1668.7,66.4 1669.5,64.9 1670.3,63.5 1671.1,62.2 1671.9,60.9 1672.7,59.7 1673.5,58.6 1674.3,57.5 1675.1,56.5 1675.9,55.6 1676.7,54.8 1677.5,54.0 1678.3,53.3 1679.1,52.7 1679.9,52.1 1680.7,51.6 1681.5,51.2 1682.3,50.9 1683.1,50.7 1683.9,50.5 1684.7,50.4 1685.5,50.4 1686.3,50.4 1687.1,50.5 1687.9,50.7 1688.7,51.0 1689.5,51.4 1690.3,51.8 1691.1,52.3 1691.9,52.9 1692.7,53.5 1693.5,54.3 1694.3,55.1 1695.1,55.9 1695.9,56.9 1696.7,57.9 1697.5,59.0 1698.3,60.1 1699.1,61.4 1699.9,62.7 1700.7,64.0 1701.5,65.5 1702.3,67.0 1703.1,68.5 1703.9,70.2 1704.7,71.8 1705.5,73.6 1706.3,75.4 1707.1,77.3 1707.9,79.2 1708.7,81.2 1709.5,83.3 1710.3,85.4 1711.1,87.5 1711.9,89.7 1712.7,92.0 1713.5,94.3 1714.3,96.7 1715.1,99.1 1715.9,101.5 1716.7,104.0 1717.5,106.6 1718.3,109.1 1719.1,111.8 1719.9,114.4 1720.7,117.1 1721.5,119.9 1722.3,122.6 1723.1,125.4 1723.9,128.3 1724.7,131.1 1725.5,134.0 1726.3,136.9 1727.1,139.9 1727.9,142.9 1728.7,145.8 1729.5,148.9 1730.3,151.9 1731.1,154.9 1731.9,158.0 1732.7,161.1 1733.5,164.2 1734.3,167.3 1735.1,170.4 1735.9,173.5 1736.7,176.6 1737.5,179.8 1738.3,182.9 1739.1,186.0 1739.9,189.2 1740.7,192.3 1741.5,195.5 1742.3,198.6 1743.1,201.7 1743.9,204.9 1744.7,208.0 1745.5,211.1 1746.3,214.2 1747.1,217.3 1747.9,220.4 1748.7,223.5 1749.5,226.6 1750.3,229.6 1751.1,232.6 1751.9,235.7 1752.7,238.7 1753.5,241.6 1754.3,244.6 1755.1,247.6 1755.9,250.5 1756.7,253.4 1757.5,256.3 1758.3,259.1 1759.1,261.9 1759.9,264.7 1760.7,267.5 1761.5,270.3 1762.3,273.0 1763.1,275.7 1763.9,278.4 1764.7,281.0 1765.5,283.6 1766.3,286.2 1767.1,288.8 1767.9,291.3 1768.7,293.8 1769.5,296.2 1770.3,298.7 1771.1,301.1 1771.9,303.4 1772.7,305.8 1773.5,308.1 1774.3,310.3 1775.1,312.6 1775.9,314.8 1776.7,316.9 1777.5,319.0 1778.3,321.1 1779.1,323.2 1779.9,325.2 1780.7,327.2 1781.5,329.2 1782.3,331.1 1783.1,333.0 1783.9,334.9 1784.7,336.7 1785.5,338.5 1786.3,340.3 1787.1,342.0 1787.9,343.7 1788.7,345.4 1789.5,347.0 1790.3,348.6 1791.1,350.2 1791.9,351.7 1792.7,353.2 1793.5,354.7 1794.3,356.1 1795.1,357.5 1795.9,358.9 1796.7,360.2 1797.5,361.5 1798.3,362.8 1799.1,364.1 1799.9,365.3 1800.7,366.5 1801.5,367.7 1802.3,368.8 1803.1,369.9 1803.9,371.0 1804.7,372.1 1805.5,373.1 1806.3,374.1 1807.1,375.1 1807.9,376.1 1808.7,377.0 1809.5,377.9 1810.3,378.8 1811.1,379.7 1811.9,380.5 1812.7,381.3 1813.5,382.1 1814.3,382.9 1815.1,383.6 1815.9,384.4 1816.7,385.1 1817.5,385.8 1818.3,386.4 1819.1,387.1 1819.9,387.7 1820.7,388.3 1821.5,388.9 1822.3,389.5 1823.1,390.1 1823.9,390.6 1824.7,391.1 1825.5,391.6 1826.3,392.1 1827.1,392.6 1827.9,393.1 1828.7,393.5 1829.5,393.9 1830.3,394.4 1831.1,394.8 1831.9,395.2 1832.7,395.5 1833.5,395.9 1834.3,396.3 1835.1,396.6 1835.9,396.9 1836.7,397.2 1837.5,397.6 1838.3,397.9 1839.1,398.1 1839.9,398.4 1840.7,398.7 1841.5,398.9 1842.3,399.2 1843.1,399.4 1843.9,399.7 1844.7,399.9 1845.5,400.1 1846.3,400.3 1847.1,400.5 1847.9,400.7 1848.7,400.9 1849.5,401.0 1850.3,401.2 1851.1,401.4 1851.9,401.5 1852.7,401.7 1853.5,401.8 1854.3,402.0 1855.1,402.1 1855.9,402.2 1856.7,402.4 1857.5,402.5 1858.3,402.6 1859.1,402.7 1859.9,402.8 1860.7,402.9 1861.5,403.0 1862.3,403.1 1863.1,403.2 1863.9,403.3 1864.7,403.3 1865.5,403.4 1866.3,403.5 1867.1,403.6 1867.9,403.6 1868.7,403.7 1869.5,403.8 1870.3,403.8 1871.1,403.9 1871.9,403.9 1872.7,404.0 1873.5,404.0 1874.3,404.1 1875.1,404.1 1875.9,404.2 1876.7,404.2 1877.5,404.3 1878.3,404.3 1879.1,404.3 1879.9,404.4 1880.7,404.4 1881.5,404.4 1882.3,404.5 1883.1,404.5 1883.9,404.5 1884.7,404.5 1885.5,404.6 1886.3,404.6 1887.1,404.6 1887.9,404.6 1888.7,404.6 1889.5,404.7 1890.3,404.7 1891.1,404.7 1891.9,404.7 1892.7,404.7 1893.5,404.7 1894.3,404.8 1895.1,404.8 1895.9,404.8 1896.7,404.8 1897.5,404.8 1898.3,404.8 1899.1,404.8 1899.9,404.8 1900.7,404.8 1901.5,404.9 1902.3,404.9 1903.1,404.9 1903.9,404.9 1904.7,404.9 1905.5,404.9 1906.3,404.9 1907.1,404.9 1907.9,404.9 1908.7,404.9 1909.5,404.9 1910.3,404.9 1911.1,404.9 1911.9,404.9 1912.7,404.9 1913.5,404.9 1914.3,404.9 1915.1,404.9 1915.9,405.0 1916.7,405.0 1917.5,405.0 1918.3,405.0 1919.1,405.0 1919.9,405.0 1920.7,405.0 1921.5,405.0 1922.3,405.0 1923.1,405.0 1923.9,405.0 1924.7,405.0 1925.5,405.0 1926.3,405.0 1927.1,405.0 1927.9,405.0 1928.7,405.0 1929.5,405.0 1930.3,405.0 1931.1,405.0 1931.9,405.0 1932.7,405.0 1933.5,405.0 1934.3,405.0 1935.1,405.0 1935.9,405.0 1936.7,405.0 1937.5,405.0 1938.3,405.0 1939.1,405.0 1939.9,405.0 1940.7,405.0 1941.5,405.0 1942.3,405.0 1943.1,405.0 1943.9,405.0 1944.7,405.0 1945.5,405.0 1946.3,405.0 1947.1,405.0 1947.9,405.0 1948.7,405.0 1949.5,405.0 1950.3,405.0 1951.1,405.0 1951.9,405.0 1952.7,405.0 1953.5,405.0 1954.3,405.0 1955.1,405.0 1955.9,405.0 1956.7,405.0 1957.5,405.0 1958.3,405.0 1959.1,405.0 1959.9,405.0 1960.7,405.0 1961.5,405.0 1962.3,405.0 1963.1,405.0 1963.9,405.0 1964.7,405.0 1965.5,405.0 1966.3,405.0 1967.1,405.0 1967.9,405.0 1968.7,405.0" fill="none" stroke="#111111" stroke-width="6.5" stroke-linejoin="round"/>
<polyline points="1426.3,405.0 1427.1,405.0 1427.9,405.0 1428.7,405.0 1429.5,405.0 1430.3,405.0 1431.1,405.0 1431.9,405.0 1432.7,405.0 1433.5,405.0 1434.3,405.0 1435.1,405.0 1435.9,405.0 1436.7,405.0 1437.5,405.0 1438.3,405.0 1439.1,405.0 1439.9,405.0 1440.7,405.0 1441.5,405.0 1442.3,405.0 1443.1,405.0 1443.9,405.0 1444.7,405.0 1445.5,405.0 1446.3,405.0 1447.1,405.0 1447.9,405.0 1448.7,405.0 1449.5,405.0 1450.3,405.0 1451.1,405.0 1451.9,405.0 1452.7,405.0 1453.5,405.0 1454.3,405.0 1455.1,404.9 1455.9,404.9 1456.7,404.9 1457.5,404.9 1458.3,404.9 1459.1,404.9 1459.9,404.9 1460.7,404.9 1461.5,404.9 1462.3,404.9 1463.1,404.9 1463.9,404.9 1464.7,404.9 1465.5,404.9 1466.3,404.9 1467.1,404.9 1467.9,404.9 1468.7,404.9 1469.5,404.9 1470.3,404.8 1471.1,404.8 1471.9,404.8 1472.7,404.8 1473.5,404.8 1474.3,404.8 1475.1,404.8 1475.9,404.8 1476.7,404.8 1477.5,404.7 1478.3,404.7 1479.1,404.7 1479.9,404.7 1480.7,404.7 1481.5,404.7 1482.3,404.6 1483.1,404.6 1483.9,404.6 1484.7,404.6 1485.5,404.5 1486.3,404.5 1487.1,404.5 1487.9,404.5 1488.7,404.4 1489.5,404.4 1490.3,404.4 1491.1,404.3 1491.9,404.3 1492.7,404.3 1493.5,404.2 1494.3,404.2 1495.1,404.2 1495.9,404.1 1496.7,404.1 1497.5,404.0 1498.3,404.0 1499.1,403.9 1499.9,403.9 1500.7,403.8 1501.5,403.7 1502.3,403.7 1503.1,403.6 1503.9,403.5 1504.7,403.5 1505.5,403.4 1506.3,403.3 1507.1,403.2 1507.9,403.1 1508.7,403.1 1509.5,403.0 1510.3,402.9 1511.1,402.8 1511.9,402.7 1512.7,402.5 1513.5,402.4 1514.3,402.3 1515.1,402.2 1515.9,402.1 1516.7,401.9 1517.5,401.8 1518.3,401.6 1519.1,401.5 1519.9,401.3 1520.7,401.2 1521.5,401.0 1522.3,400.8 1523.1,400.6 1523.9,400.4 1524.7,400.2 1525.5,400.0 1526.3,399.8 1527.1,399.6 1527.9,399.3 1528.7,399.1 1529.5,398.8 1530.3,398.6 1531.1,398.3 1531.9,398.0 1532.7,397.7 1533.5,397.4 1534.3,397.1 1535.1,396.8 1535.9,396.5 1536.7,396.1 1537.5,395.8 1538.3,395.4 1539.1,395.0 1539.9,394.6 1540.7,394.2 1541.5,393.8 1542.3,393.3 1543.1,392.9 1543.9,392.4 1544.7,391.9 1545.5,391.4 1546.3,390.9 1547.1,390.4 1547.9,389.9 1548.7,389.3 1549.5,388.7 1550.3,388.1 1551.1,387.5 1551.9,386.8 1552.7,386.2 1553.5,385.5 1554.3,384.8 1555.1,384.1 1555.9,383.4 1556.7,382.6 1557.5,381.8 1558.3,381.0 1559.1,380.2 1559.9,379.4 1560.7,378.5 1561.5,377.6 1562.3,376.7 1563.1,375.7 1563.9,374.8 1564.7,373.8 1565.5,372.7 1566.3,371.7 1567.1,370.6 1567.9,369.5 1568.7,368.4 1569.5,367.2 1570.3,366.1 1571.1,364.9 1571.9,363.6 1572.7,362.3 1573.5,361.0 1574.3,359.7 1575.1,358.4 1575.9,357.0 1576.7,355.6 1577.5,354.1 1578.3,352.6 1579.1,351.1 1579.9,349.6 1580.7,348.0 1581.5,346.4 1582.3,344.7 1583.1,343.1 1583.9,341.3 1584.7,339.6 1585.5,337.8 1586.3,336.0 1587.1,334.2 1587.9,332.3 1588.7,330.4 1589.5,328.5 1590.3,326.5 1591.1,324.5 1591.9,322.4 1592.7,320.4 1593.5,318.2 1594.3,316.1 1595.1,313.9 1595.9,311.7 1596.7,309.5 1597.5,307.2 1598.3,304.9 1599.1,302.5 1599.9,300.2 1600.7,297.7 1601.5,295.3 1602.3,292.8 1603.1,290.3 1603.9,287.8 1604.7,285.2 1605.5,282.6 1606.3,280.0 1607.1,277.4 1607.9,274.7 1608.7,272.0 1609.5,269.2 1610.3,266.5 1611.1,263.7 1611.9,260.9 1612.7,258.0 1613.5,255.2 1614.3,252.3 1615.1,249.4 1615.9,246.4 1616.7,243.5 1617.5,240.5 1618.3,237.5 1619.1,234.5 1619.9,231.5 1620.7,228.5 1621.5,225.4 1622.3,222.3 1623.1,219.2 1623.9,216.2 1624.7,213.1 1625.5,209.9 1626.3,206.8 1627.1,203.7 1627.9,200.6 1628.7,197.4 1629.5,194.3 1630.3,191.1 1631.1,188.0 1631.9,184.8 1632.7,181.7 1633.5,178.6 1634.3,175.4 1635.1,172.3 1635.9,169.2 1636.7,166.1 1637.5,163.0 1638.3,159.9 1639.1,156.8 1639.9,153.8 1640.7,150.7 1641.5,147.7 1642.3,144.7 1643.1,141.7 1643.9,138.8 1644.7,135.8 1645.5,132.9 1646.3,130.0 1647.1,127.2 1647.9,124.4 1648.7,121.6 1649.5,118.8 1650.3,116.1 1651.1,113.4 1651.9,110.8 1652.7,108.2 1653.5,105.6 1654.3,103.1 1655.1,100.6 1655.9,98.1 1656.7,95.8 1657.5,93.4 1658.3,91.1 1659.1,88.9 1659.9,86.7 1660.7,84.6 1661.5,82.5 1662.3,80.4 1663.1,78.5 1663.9,76.6 1664.7,74.7 1665.5,72.9 1666.3,71.2 1667.1,69.5 1667.9,67.9 1668.7,66.4 1669.5,64.9 1670.3,63.5 1671.1,62.2 1671.9,60.9 1672.7,59.7 1673.5,58.6 1674.3,57.5 1675.1,56.5 1675.9,55.6 1676.7,54.8 1677.5,54.0 1678.3,53.3 1679.1,52.7 1679.9,52.1 1680.7,51.6 1681.5,51.2 1682.3,50.9 1683.1,50.7 1683.9,50.5 1684.7,50.4 1685.5,50.4 1686.3,50.4 1687.1,50.5 1687.9,50.7 1688.7,51.0 1689.5,51.4 1690.3,51.8 1691.1,52.3 1691.9,52.9 1692.7,53.5 1693.5,54.3 1694.3,55.1 1695.1,55.9 1695.9,56.9 1696.7,57.9 1697.5,59.0 1698.3,60.1 1699.1,61.4 1699.9,62.7 1700.7,64.0 1701.5,65.5 1702.3,67.0 1703.1,68.5 1703.9,70.2 1704.7,71.8 1705.5,73.6 1706.3,75.4 1707.1,77.3 1707.9,79.2 1708.7,81.2 1709.5,83.3 1710.3,85.4 1711.1,87.5 1711.9,89.7 1712.7,92.0 1713.5,94.3 1714.3,96.7 1715.1,99.1 1715.9,101.5 1716.7,104.0 1717.5,106.6 1718.3,109.1 1719.1,111.8 1719.9,114.4 1720.7,117.1 1721.5,119.9 1722.3,122.6 1723.1,125.4 1723.9,128.3 1724.7,131.1 1725.5,134.0 1726.3,136.9 1727.1,139.9 1727.9,142.9 1728.7,145.8 1729.5,148.9 1730.3,151.9 1731.1,154.9 1731.9,158.0 1732.7,161.1 1733.5,164.2 1734.3,167.3 1735.1,170.4 1735.9,173.5 1736.7,176.6 1737.5,179.8 1738.3,182.9 1739.1,186.0 1739.9,189.2 1740.7,192.3 1741.5,195.5 1742.3,198.6 1743.1,201.7 1743.9,204.9 1744.7,208.0 1745.5,211.1 1746.3,214.2 1747.1,217.3 1747.9,220.4 1748.7,223.5 1749.5,226.6 1750.3,229.6 1751.1,232.6 1751.9,235.7 1752.7,238.7 1753.5,241.6 1754.3,244.6 1755.1,247.6 1755.9,250.5 1756.7,253.4 1757.5,256.3 1758.3,259.1 1759.1,261.9 1759.9,264.7 1760.7,267.5 1761.5,270.3 1762.3,273.0 1763.1,275.7 1763.9,278.4 1764.7,281.0 1765.5,283.6 1766.3,286.2 1767.1,288.8 1767.9,291.3 1768.7,293.8 1769.5,296.2 1770.3,298.7 1771.1,301.1 1771.9,303.4 1772.7,305.8 1773.5,308.1 1774.3,310.3 1775.1,312.6 1775.9,314.8 1776.7,316.9 1777.5,319.0 1778.3,321.1 1779.1,323.2 1779.9,325.2 1780.7,327.2 1781.5,329.2 1782.3,331.1 1783.1,333.0 1783.9,334.9 1784.7,336.7 1785.5,338.5 1786.3,340.3 1787.1,342.0 1787.9,343.7 1788.7,345.4 1789.5,347.0 1790.3,348.6 1791.1,350.2 1791.9,351.7 1792.7,353.2 1793.5,354.7 1794.3,356.1 1795.1,357.5 1795.9,358.9 1796.7,360.2 1797.5,361.5 1798.3,362.8 1799.1,364.1 1799.9,365.3 1800.7,366.5 1801.5,367.7 1802.3,368.8 1803.1,369.9 1803.9,371.0 1804.7,372.1 1805.5,373.1 1806.3,374.1 1807.1,375.1 1807.9,376.1 1808.7,377.0 1809.5,377.9 1810.3,378.8 1811.1,379.7 1811.9,380.5 1812.7,381.3 1813.5,382.1 1814.3,382.9 1815.1,383.6 1815.9,384.4 1816.7,385.1 1817.5,385.8 1818.3,386.4 1819.1,387.1 1819.9,387.7 1820.7,388.3 1821.5,388.9 1822.3,389.5 1823.1,390.1 1823.9,390.6 1824.7,391.1 1825.5,391.6 1826.3,392.1 1827.1,392.6 1827.9,393.1 1828.7,393.5 1829.5,393.9 1830.3,394.4 1831.1,394.8 1831.9,395.2 1832.7,395.5 1833.5,395.9 1834.3,396.3 1835.1,396.6 1835.9,396.9 1836.7,397.2 1837.5,397.6 1838.3,397.9 1839.1,398.1 1839.9,398.4 1840.7,398.7 1841.5,398.9 1842.3,399.2 1843.1,399.4 1843.9,399.7 1844.7,399.9 1845.5,400.1 1846.3,400.3 1847.1,400.5 1847.9,400.7 1848.7,400.9 1849.5,401.0 1850.3,401.2 1851.1,401.4 1851.9,401.5 1852.7,401.7 1853.5,401.8 1854.3,402.0 1855.1,402.1 1855.9,402.2 1856.7,402.4 1857.5,402.5 1858.3,402.6 1859.1,402.7 1859.9,402.8 1860.7,402.9 1861.5,403.0 1862.3,403.1 1863.1,403.2 1863.9,403.3 1864.7,403.3 1865.5,403.4 1866.3,403.5 1867.1,403.6 1867.9,403.6 1868.7,403.7 1869.5,403.8 1870.3,403.8 1871.1,403.9 1871.9,403.9 1872.7,404.0 1873.5,404.0 1874.3,404.1 1875.1,404.1 1875.9,404.2 1876.7,404.2 1877.5,404.3 1878.3,404.3 1879.1,404.3 1879.9,404.4 1880.7,404.4 1881.5,404.4 1882.3,404.5 1883.1,404.5 1883.9,404.5 1884.7,404.5 1885.5,404.6 1886.3,404.6 1887.1,404.6 1887.9,404.6 1888.7,404.6 1889.5,404.7 1890.3,404.7 1891.1,404.7 1891.9,404.7 1892.7,404.7 1893.5,404.7 1894.3,404.8 1895.1,404.8 1895.9,404.8 1896.7,404.8 1897.5,404.8 1898.3,404.8 1899.1,404.8 1899.9,404.8 1900.7,404.8 1901.5,404.9 1902.3,404.9 1903.1,404.9 1903.9,404.9 1904.7,404.9 1905.5,404.9 1906.3,404.9 1907.1,404.9 1907.9,404.9 1908.7,404.9 1909.5,404.9 1910.3,404.9 1911.1,404.9 1911.9,404.9 1912.7,404.9 1913.5,404.9 1914.3,404.9 1915.1,404.9 1915.9,405.0 1916.7,405.0 1917.5,405.0 1918.3,405.0 1919.1,405.0 1919.9,405.0 1920.7,405.0 1921.5,405.0 1922.3,405.0 1923.1,405.0 1923.9,405.0 1924.7,405.0 1925.5,405.0 1926.3,405.0 1927.1,405.0 1927.9,405.0 1928.7,405.0 1929.5,405.0 1930.3,405.0 1931.1,405.0 1931.9,405.0 1932.7,405.0 1933.5,405.0 1934.3,405.0 1935.1,405.0 1935.9,405.0 1936.7,405.0 1937.5,405.0 1938.3,405.0 1939.1,405.0 1939.9,405.0 1940.7,405.0 1941.5,405.0 1942.3,405.0 1943.1,405.0 1943.9,405.0 1944.7,405.0 1945.5,405.0 1946.3,405.0 1947.1,405.0 1947.9,405.0 1948.7,405.0 1949.5,405.0 1950.3,405.0 1951.1,405.0 1951.9,405.0 1952.7,405.0 1953.5,405.0 1954.3,405.0 1955.1,405.0 1955.9,405.0 1956.7,405.0 1957.5,405.0 1958.3,405.0 1959.1,405.0 1959.9,405.0 1960.7,405.0 1961.5,405.0 1962.3,405.0 1963.1,405.0 1963.9,405.0 1964.7,405.0 1965.5,405.0 1966.3,405.0 1967.1,405.0 1967.9,405.0 1968.7,405.0" fill="none" stroke="#d8141c" stroke-width="3.0" stroke-linejoin="round"/>
<rect x="1425.30" y="12.10" width="544.40" height="397.90" fill="none" stroke="#231f20" stroke-width="2.4"/>
<line x1="1425.30" y1="48.10" x2="1433.80" y2="48.10" stroke="#231f20" stroke-width="2.2"/>
<line x1="1969.70" y1="48.10" x2="1961.20" y2="48.10" stroke="#231f20" stroke-width="2.2"/>
<line x1="1425.30" y1="83.81" x2="1433.80" y2="83.81" stroke="#231f20" stroke-width="2.2"/>
<line x1="1969.70" y1="83.81" x2="1961.20" y2="83.81" stroke="#231f20" stroke-width="2.2"/>
<line x1="1425.30" y1="119.52" x2="1433.80" y2="119.52" stroke="#231f20" stroke-width="2.2"/>
<line x1="1969.70" y1="119.52" x2="1961.20" y2="119.52" stroke="#231f20" stroke-width="2.2"/>
<line x1="1425.30" y1="155.23" x2="1433.80" y2="155.23" stroke="#231f20" stroke-width="2.2"/>
<line x1="1969.70" y1="155.23" x2="1961.20" y2="155.23" stroke="#231f20" stroke-width="2.2"/>
<line x1="1425.30" y1="190.94" x2="1433.80" y2="190.94" stroke="#231f20" stroke-width="2.2"/>
<line x1="1969.70" y1="190.94" x2="1961.20" y2="190.94" stroke="#231f20" stroke-width="2.2"/>
<line x1="1425.30" y1="226.65" x2="1433.80" y2="226.65" stroke="#231f20" stroke-width="2.2"/>
<line x1="1969.70" y1="226.65" x2="1961.20" y2="226.65" stroke="#231f20" stroke-width="2.2"/>
<line x1="1425.30" y1="262.36" x2="1433.80" y2="262.36" stroke="#231f20" stroke-width="2.2"/>
<line x1="1969.70" y1="262.36" x2="1961.20" y2="262.36" stroke="#231f20" stroke-width="2.2"/>
<line x1="1425.30" y1="298.07" x2="1433.80" y2="298.07" stroke="#231f20" stroke-width="2.2"/>
<line x1="1969.70" y1="298.07" x2="1961.20" y2="298.07" stroke="#231f20" stroke-width="2.2"/>
<line x1="1425.30" y1="333.78" x2="1433.80" y2="333.78" stroke="#231f20" stroke-width="2.2"/>
<line x1="1969.70" y1="333.78" x2="1961.20" y2="333.78" stroke="#231f20" stroke-width="2.2"/>
<line x1="1425.30" y1="369.49" x2="1433.80" y2="369.49" stroke="#231f20" stroke-width="2.2"/>
<line x1="1969.70" y1="369.49" x2="1961.20" y2="369.49" stroke="#231f20" stroke-width="2.2"/>
<line x1="1439.72" y1="410.00" x2="1439.72" y2="405.50" stroke="#231f20" stroke-width="2.2"/>
<line x1="1439.72" y1="12.10" x2="1439.72" y2="16.60" stroke="#231f20" stroke-width="2.2"/>
<line x1="1476.55" y1="410.00" x2="1476.55" y2="401.00" stroke="#231f20" stroke-width="2.2"/>
<line x1="1476.55" y1="12.10" x2="1476.55" y2="21.10" stroke="#231f20" stroke-width="2.2"/>
<line x1="1513.38" y1="410.00" x2="1513.38" y2="405.50" stroke="#231f20" stroke-width="2.2"/>
<line x1="1513.38" y1="12.10" x2="1513.38" y2="16.60" stroke="#231f20" stroke-width="2.2"/>
<line x1="1550.20" y1="410.00" x2="1550.20" y2="401.00" stroke="#231f20" stroke-width="2.2"/>
<line x1="1550.20" y1="12.10" x2="1550.20" y2="21.10" stroke="#231f20" stroke-width="2.2"/>
<line x1="1587.03" y1="410.00" x2="1587.03" y2="405.50" stroke="#231f20" stroke-width="2.2"/>
<line x1="1587.03" y1="12.10" x2="1587.03" y2="16.60" stroke="#231f20" stroke-width="2.2"/>
<line x1="1623.85" y1="410.00" x2="1623.85" y2="401.00" stroke="#231f20" stroke-width="2.2"/>
<line x1="1623.85" y1="12.10" x2="1623.85" y2="21.10" stroke="#231f20" stroke-width="2.2"/>
<line x1="1660.67" y1="410.00" x2="1660.67" y2="405.50" stroke="#231f20" stroke-width="2.2"/>
<line x1="1660.67" y1="12.10" x2="1660.67" y2="16.60" stroke="#231f20" stroke-width="2.2"/>
<line x1="1697.50" y1="410.00" x2="1697.50" y2="401.00" stroke="#231f20" stroke-width="2.2"/>
<line x1="1697.50" y1="12.10" x2="1697.50" y2="21.10" stroke="#231f20" stroke-width="2.2"/>
<line x1="1734.33" y1="410.00" x2="1734.33" y2="405.50" stroke="#231f20" stroke-width="2.2"/>
<line x1="1734.33" y1="12.10" x2="1734.33" y2="16.60" stroke="#231f20" stroke-width="2.2"/>
<line x1="1771.15" y1="410.00" x2="1771.15" y2="401.00" stroke="#231f20" stroke-width="2.2"/>
<line x1="1771.15" y1="12.10" x2="1771.15" y2="21.10" stroke="#231f20" stroke-width="2.2"/>
<line x1="1807.97" y1="410.00" x2="1807.97" y2="405.50" stroke="#231f20" stroke-width="2.2"/>
<line x1="1807.97" y1="12.10" x2="1807.97" y2="16.60" stroke="#231f20" stroke-width="2.2"/>
<line x1="1844.80" y1="410.00" x2="1844.80" y2="401.00" stroke="#231f20" stroke-width="2.2"/>
<line x1="1844.80" y1="12.10" x2="1844.80" y2="21.10" stroke="#231f20" stroke-width="2.2"/>
<line x1="1881.62" y1="410.00" x2="1881.62" y2="405.50" stroke="#231f20" stroke-width="2.2"/>
<line x1="1881.62" y1="12.10" x2="1881.62" y2="16.60" stroke="#231f20" stroke-width="2.2"/>
<line x1="1918.45" y1="410.00" x2="1918.45" y2="401.00" stroke="#231f20" stroke-width="2.2"/>
<line x1="1918.45" y1="12.10" x2="1918.45" y2="21.10" stroke="#231f20" stroke-width="2.2"/>
<line x1="1955.28" y1="410.00" x2="1955.28" y2="405.50" stroke="#231f20" stroke-width="2.2"/>
<line x1="1955.28" y1="12.10" x2="1955.28" y2="16.60" stroke="#231f20" stroke-width="2.2"/>
<text x="1443.05" y="439.00" font-family='"DejaVu Sans", sans-serif' font-size="28.00" font-weight="bold" fill="#231f20" textLength="66.01" lengthAdjust="spacingAndGlyphs">-600</text>
<text x="1516.70" y="439.00" font-family='"DejaVu Sans", sans-serif' font-size="28.00" font-weight="bold" fill="#231f20" textLength="66.01" lengthAdjust="spacingAndGlyphs">-400</text>
<text x="1590.35" y="439.00" font-family='"DejaVu Sans", sans-serif' font-size="28.00" font-weight="bold" fill="#231f20" textLength="66.01" lengthAdjust="spacingAndGlyphs">-200</text>
<text x="1689.75" y="439.00" font-family='"DejaVu Sans", sans-serif' font-size="28.00" font-weight="bold" fill="#231f20" textLength="15.50" lengthAdjust="spacingAndGlyphs">0</text>
<text x="1746.15" y="439.00" font-family='"DejaVu Sans", sans-serif' font-size="28.00" font-weight="bold" fill="#231f20" textLength="50.01" lengthAdjust="spacingAndGlyphs">200</text>
<text x="1819.80" y="439.00" font-family='"DejaVu Sans", sans-serif' font-size="28.00" font-weight="bold" fill="#231f20" textLength="50.01" lengthAdjust="spacingAndGlyphs">400</text>
<text x="1893.45" y="439.00" font-family='"DejaVu Sans", sans-serif' font-size="28.00" font-weight="bold" fill="#231f20" textLength="50.01" lengthAdjust="spacingAndGlyphs">600</text>
<text x="1617.00" y="483.80" font-family='"DejaVu Sans", sans-serif' font-size="32.00" font-weight="bold" fill="#231f20" textLength="156.98" lengthAdjust="spacingAndGlyphs">time [fs]</text>
<text transform="translate(1394.50,332.40) rotate(-90)" x="0" y="0" font-family='"DejaVu Sans", sans-serif' font-size="33.00" font-weight="bold" fill="#231f20" textLength="267.12" lengthAdjust="spacingAndGlyphs">intensity [a.u.]</text>
<text x="1801.00" y="183.70" font-family='"DejaVu Sans", sans-serif' font-size="23.00" font-weight="bold" fill="#3b3c97" textLength="79.00" lengthAdjust="spacingAndGlyphs">FWHM</text>
<text x="1825.00" y="214.40" font-family='"DejaVu Sans", sans-serif' font-size="23.00" font-weight="bold" fill="#3b3c97" textLength="104.60" lengthAdjust="spacingAndGlyphs">= 340 fs</text>
<text x="1770.10" y="255.60" font-family='"DejaVu Sans", sans-serif' font-size="20.00" font-weight="bold" fill="#2a2a2a" textLength="5.40" lengthAdjust="spacingAndGlyphs">(</text>
<text x="1780.20" y="255.60" font-family='"DejaVu Sans", sans-serif' font-size="21.00" font-weight="bold" fill="#2a2a2a" textLength="48.00" lengthAdjust="spacingAndGlyphs">sech</text>
<text x="1832.50" y="243.90" font-family='"DejaVu Sans", sans-serif' font-size="10.00" font-weight="bold" fill="#2a2a2a" textLength="6.90" lengthAdjust="spacingAndGlyphs">2</text>
<text x="1848.40" y="253.00" font-family='"DejaVu Sans", sans-serif' font-size="17.00" font-weight="bold" fill="#2a2a2a" textLength="12.30" lengthAdjust="spacingAndGlyphs">=</text>
<text x="1873.00" y="255.60" font-family='"DejaVu Sans", sans-serif' font-size="16.00" font-weight="bold" fill="#2a2a2a" textLength="38.31" lengthAdjust="spacingAndGlyphs">220</text>
<text x="1920.90" y="255.60" font-family='"DejaVu Sans", sans-serif' font-size="21.00" font-weight="bold" fill="#2a2a2a" textLength="16.00" lengthAdjust="spacingAndGlyphs">fs</text>
<text x="1943.30" y="255.60" font-family='"DejaVu Sans", sans-serif' font-size="20.00" font-weight="bold" fill="#2a2a2a" textLength="7.40" lengthAdjust="spacingAndGlyphs">)</text>
<line x1="1548.00" y1="226.60" x2="1606.00" y2="226.60" stroke="#231f20" stroke-width="1.5"/>
<polygon points="1611.4,226.6 1602.4,223.4 1604.7,226.6 1602.4,229.8" fill="#231f20"/>
<line x1="1770.90" y1="226.60" x2="1954.80" y2="226.60" stroke="#231f20" stroke-width="1.5"/>
<polygon points="1765.5,226.6 1774.5,223.4 1772.2,226.6 1774.5,229.8" fill="#231f20"/>
<text x="1461.30" y="87.60" font-family='"Liberation Serif", serif' font-size="50.00" fill="#231f20" textLength="52.19" lengthAdjust="spacingAndGlyphs">(c)</text>
<rect x="3.00" y="502.40" width="654.60" height="531.10" fill="#777575" stroke="none" stroke-width="1"/>
<rect x="3.00" y="502.40" width="654.60" height="531.10" fill="#000" stroke="none" stroke-width="1" filter="url(#semA)" opacity="0.9"/>
<g filter="url(#blur1)"><circle cx="299.3" cy="799.5" r="2.2" fill="#d0d0d0" opacity="0.29"/><circle cx="528.0" cy="755.2" r="2.8" fill="#d0d0d0" opacity="0.39"/><circle cx="66.2" cy="664.3" r="1.2" fill="#d0d0d0" opacity="0.31"/><circle cx="584.3" cy="838.8" r="2.8" fill="#d0d0d0" opacity="0.44"/><circle cx="632.7" cy="849.1" r="2.8" fill="#d0d0d0" opacity="0.35"/><circle cx="410.4" cy="942.8" r="1.2" fill="#d0d0d0" opacity="0.17"/><circle cx="128.7" cy="631.9" r="1.2" fill="#d0d0d0" opacity="0.38"/><circle cx="217.3" cy="815.9" r="1.5" fill="#d0d0d0" opacity="0.31"/><circle cx="421.6" cy="767.8" r="3.5" fill="#d0d0d0" opacity="0.18"/><circle cx="363.7" cy="995.5" r="1.2" fill="#d0d0d0" opacity="0.36"/><circle cx="210.1" cy="625.5" r="1.8" fill="#d0d0d0" opacity="0.16"/><circle cx="371.4" cy="561.3" r="1.2" fill="#d0d0d0" opacity="0.40"/><circle cx="256.5" cy="1009.4" r="3.5" fill="#d0d0d0" opacity="0.15"/><circle cx="141.4" cy="984.2" r="2.2" fill="#d0d0d0" opacity="0.26"/><circle cx="373.4" cy="609.0" r="3.5" fill="#d0d0d0" opacity="0.23"/><circle cx="61.7" cy="679.7" r="2.2" fill="#d0d0d0" opacity="0.38"/><circle cx="81.8" cy="634.3" r="1.2" fill="#d0d0d0" opacity="0.15"/><circle cx="307.5" cy="761.0" r="3.5" fill="#d0d0d0" opacity="0.32"/><circle cx="296.1" cy="604.9" r="3.5" fill="#d0d0d0" opacity="0.38"/><circle cx="277.8" cy="706.7" r="2.2" fill="#d0d0d0" opacity="0.28"/><circle cx="143.5" cy="646.6" r="2.8" fill="#d0d0d0" opacity="0.24"/><circle cx="261.5" cy="954.7" r="3.5" fill="#d0d0d0" opacity="0.32"/><circle cx="32.4" cy="581.5" r="2.2" fill="#d0d0d0" opacity="0.23"/><circle cx="197.8" cy="543.1" r="1.2" fill="#d0d0d0" opacity="0.21"/><circle cx="244.9" cy="832.3" r="1.5" fill="#d0d0d0" opacity="0.44"/><circle cx="319.7" cy="807.3" r="2.2" fill="#d0d0d0" opacity="0.20"/><circle cx="105.3" cy="983.2" r="2.8" fill="#d0d0d0" opacity="0.22"/><circle cx="128.5" cy="894.2" r="2.8" fill="#d0d0d0" opacity="0.21"/><circle cx="623.2" cy="969.4" r="2.8" fill="#d0d0d0" opacity="0.17"/><circle cx="35.8" cy="561.9" r="2.8" fill="#d0d0d0" opacity="0.44"/><circle cx="160.1" cy="875.8" r="1.8" fill="#d0d0d0" opacity="0.28"/><circle cx="593.7" cy="763.2" r="2.8" fill="#d0d0d0" opacity="0.20"/><circle cx="153.6" cy="799.2" r="2.8" fill="#d0d0d0" opacity="0.33"/><circle cx="187.3" cy="987.9" r="1.5" fill="#d0d0d0" opacity="0.37"/><circle cx="50.0" cy="721.3" r="1.5" fill="#d0d0d0" opacity="0.17"/><circle cx="119.7" cy="698.8" r="2.8" fill="#d0d0d0" opacity="0.44"/><circle cx="65.0" cy="577.4" r="2.2" fill="#d0d0d0" opacity="0.44"/><circle cx="432.4" cy="868.7" r="2.8" fill="#d0d0d0" opacity="0.43"/><circle cx="388.8" cy="991.2" r="2.2" fill="#d0d0d0" opacity="0.42"/><circle cx="461.1" cy="1011.9" r="1.2" fill="#d0d0d0" opacity="0.33"/><circle cx="53.7" cy="539.9" r="1.8" fill="#d0d0d0" opacity="0.25"/><circle cx="360.3" cy="892.9" r="3.5" fill="#d0d0d0" opacity="0.37"/><circle cx="89.3" cy="1012.2" r="1.8" fill="#d0d0d0" opacity="0.26"/><circle cx="450.8" cy="979.2" r="2.2" fill="#d0d0d0" opacity="0.43"/><circle cx="24.7" cy="767.9" r="1.2" fill="#d0d0d0" opacity="0.34"/><circle cx="253.7" cy="811.5" r="2.8" fill="#d0d0d0" opacity="0.17"/><circle cx="64.0" cy="565.3" r="1.8" fill="#d0d0d0" opacity="0.41"/><circle cx="483.2" cy="810.6" r="2.2" fill="#d0d0d0" opacity="0.29"/><circle cx="357.1" cy="777.8" r="2.8" fill="#d0d0d0" opacity="0.16"/><circle cx="396.2" cy="757.9" r="1.5" fill="#d0d0d0" opacity="0.44"/><circle cx="78.4" cy="915.5" r="3.5" fill="#d0d0d0" opacity="0.43"/><circle cx="171.4" cy="510.4" r="1.8" fill="#d0d0d0" opacity="0.19"/><circle cx="403.0" cy="777.6" r="1.8" fill="#d0d0d0" opacity="0.35"/><circle cx="292.5" cy="974.4" r="1.8" fill="#d0d0d0" opacity="0.27"/><circle cx="168.0" cy="838.7" r="1.5" fill="#d0d0d0" opacity="0.41"/><circle cx="255.1" cy="811.8" r="1.8" fill="#d0d0d0" opacity="0.21"/><circle cx="92.5" cy="689.3" r="1.2" fill="#d0d0d0" opacity="0.36"/><circle cx="115.0" cy="741.9" r="1.8" fill="#d0d0d0" opacity="0.43"/><circle cx="343.3" cy="858.7" r="3.5" fill="#d0d0d0" opacity="0.40"/><circle cx="53.6" cy="521.0" r="2.8" fill="#d0d0d0" opacity="0.16"/><circle cx="466.0" cy="805.2" r="1.8" fill="#d0d0d0" opacity="0.34"/><circle cx="372.0" cy="842.3" r="2.2" fill="#d0d0d0" opacity="0.29"/><circle cx="21.1" cy="941.7" r="1.5" fill="#d0d0d0" opacity="0.38"/><circle cx="523.4" cy="1023.1" r="1.2" fill="#d0d0d0" opacity="0.28"/><circle cx="414.9" cy="849.7" r="1.8" fill="#d0d0d0" opacity="0.44"/><circle cx="314.1" cy="598.6" r="1.2" fill="#d0d0d0" opacity="0.38"/><circle cx="353.0" cy="523.5" r="1.5" fill="#d0d0d0" opacity="0.23"/><circle cx="229.9" cy="872.0" r="2.8" fill="#d0d0d0" opacity="0.30"/><circle cx="557.2" cy="873.3" r="1.5" fill="#d0d0d0" opacity="0.18"/><circle cx="611.8" cy="885.2" r="1.5" fill="#d0d0d0" opacity="0.29"/><circle cx="133.1" cy="972.1" r="1.2" fill="#d0d0d0" opacity="0.26"/><circle cx="375.1" cy="967.9" r="1.8" fill="#d0d0d0" opacity="0.29"/><circle cx="474.7" cy="935.7" r="3.5" fill="#d0d0d0" opacity="0.43"/><circle cx="85.3" cy="632.1" r="2.2" fill="#d0d0d0" opacity="0.44"/><circle cx="640.9" cy="787.4" r="1.8" fill="#d0d0d0" opacity="0.23"/><circle cx="333.4" cy="524.0" r="1.8" fill="#d0d0d0" opacity="0.32"/><circle cx="504.8" cy="761.3" r="1.2" fill="#d0d0d0" opacity="0.22"/><circle cx="27.8" cy="785.4" r="3.5" fill="#d0d0d0" opacity="0.39"/><circle cx="96.4" cy="582.8" r="2.8" fill="#d0d0d0" opacity="0.42"/><circle cx="342.1" cy="861.7" r="2.2" fill="#d0d0d0" opacity="0.43"/><circle cx="325.5" cy="1004.7" r="1.2" fill="#d0d0d0" opacity="0.38"/><circle cx="290.9" cy="798.9" r="3.5" fill="#d0d0d0" opacity="0.32"/><circle cx="111.9" cy="775.4" r="2.8" fill="#d0d0d0" opacity="0.23"/><circle cx="441.7" cy="1007.7" r="2.8" fill="#d0d0d0" opacity="0.21"/><circle cx="558.5" cy="1014.9" r="2.8" fill="#d0d0d0" opacity="0.23"/><circle cx="328.8" cy="721.1" r="1.2" fill="#d0d0d0" opacity="0.30"/><circle cx="398.8" cy="519.0" r="1.2" fill="#d0d0d0" opacity="0.30"/><circle cx="265.6" cy="926.6" r="2.8" fill="#d0d0d0" opacity="0.19"/><circle cx="65.7" cy="592.3" r="2.8" fill="#d0d0d0" opacity="0.29"/><circle cx="604.1" cy="926.3" r="2.2" fill="#d0d0d0" opacity="0.23"/><circle cx="312.8" cy="571.3" r="2.2" fill="#d0d0d0" opacity="0.42"/><circle cx="613.8" cy="989.3" r="2.8" fill="#d0d0d0" opacity="0.25"/><circle cx="129.6" cy="830.1" r="1.8" fill="#d0d0d0" opacity="0.19"/><circle cx="131.3" cy="624.2" r="3.5" fill="#d0d0d0" opacity="0.24"/><circle cx="329.5" cy="767.8" r="2.8" fill="#d0d0d0" opacity="0.19"/><circle cx="337.1" cy="636.5" r="1.5" fill="#d0d0d0" opacity="0.36"/><circle cx="416.8" cy="939.4" r="2.8" fill="#d0d0d0" opacity="0.20"/><circle cx="137.9" cy="837.2" r="3.5" fill="#d0d0d0" opacity="0.22"/><circle cx="145.6" cy="790.6" r="2.8" fill="#d0d0d0" opacity="0.41"/><circle cx="156.4" cy="894.9" r="1.8" fill="#d0d0d0" opacity="0.42"/><circle cx="210.5" cy="670.4" r="1.5" fill="#d0d0d0" opacity="0.22"/><circle cx="654.5" cy="972.2" r="1.5" fill="#d0d0d0" opacity="0.42"/><circle cx="91.2" cy="550.9" r="2.2" fill="#d0d0d0" opacity="0.18"/><circle cx="267.0" cy="865.6" r="1.2" fill="#d0d0d0" opacity="0.18"/><circle cx="375.8" cy="692.9" r="1.8" fill="#d0d0d0" opacity="0.18"/><circle cx="334.0" cy="904.0" r="2.8" fill="#d0d0d0" opacity="0.45"/><circle cx="546.9" cy="927.6" r="2.2" fill="#d0d0d0" opacity="0.18"/><circle cx="29.4" cy="795.2" r="2.8" fill="#d0d0d0" opacity="0.42"/><circle cx="318.1" cy="604.3" r="1.2" fill="#d0d0d0" opacity="0.21"/><circle cx="551.6" cy="1026.4" r="3.5" fill="#d0d0d0" opacity="0.18"/><circle cx="45.3" cy="1005.9" r="2.2" fill="#d0d0d0" opacity="0.17"/><circle cx="67.9" cy="710.4" r="2.2" fill="#d0d0d0" opacity="0.30"/><circle cx="284.8" cy="821.2" r="1.2" fill="#d0d0d0" opacity="0.34"/><circle cx="31.6" cy="610.0" r="2.2" fill="#d0d0d0" opacity="0.29"/><circle cx="131.9" cy="591.4" r="2.8" fill="#d0d0d0" opacity="0.39"/><circle cx="215.6" cy="549.1" r="3.5" fill="#d0d0d0" opacity="0.41"/><circle cx="596.2" cy="999.7" r="2.8" fill="#d0d0d0" opacity="0.33"/><circle cx="333.1" cy="1022.4" r="1.8" fill="#d0d0d0" opacity="0.23"/><circle cx="80.6" cy="896.0" r="1.5" fill="#d0d0d0" opacity="0.39"/><circle cx="268.9" cy="977.0" r="2.8" fill="#d0d0d0" opacity="0.36"/><circle cx="504.2" cy="907.8" r="2.2" fill="#d0d0d0" opacity="0.21"/><circle cx="125.2" cy="924.7" r="1.8" fill="#d0d0d0" opacity="0.29"/><circle cx="11.9" cy="691.9" r="3.5" fill="#d0d0d0" opacity="0.42"/><circle cx="37.3" cy="648.3" r="3.5" fill="#d0d0d0" opacity="0.24"/><circle cx="145.6" cy="718.5" r="1.5" fill="#d0d0d0" opacity="0.31"/><circle cx="258.5" cy="1031.4" r="3.5" fill="#d0d0d0" opacity="0.21"/><circle cx="82.8" cy="712.8" r="2.8" fill="#d0d0d0" opacity="0.16"/><circle cx="405.4" cy="893.8" r="1.8" fill="#d0d0d0" opacity="0.28"/><circle cx="333.4" cy="905.7" r="3.5" fill="#d0d0d0" opacity="0.26"/><circle cx="69.1" cy="636.6" r="1.8" fill="#d0d0d0" opacity="0.32"/><circle cx="335.4" cy="1014.2" r="2.8" fill="#d0d0d0" opacity="0.40"/><circle cx="69.8" cy="738.6" r="3.5" fill="#d0d0d0" opacity="0.17"/><circle cx="393.8" cy="904.6" r="1.2" fill="#d0d0d0" opacity="0.27"/><circle cx="636.1" cy="955.4" r="2.8" fill="#d0d0d0" opacity="0.33"/><circle cx="43.1" cy="1002.7" r="2.2" fill="#d0d0d0" opacity="0.24"/><circle cx="264.3" cy="669.1" r="2.8" fill="#d0d0d0" opacity="0.24"/><circle cx="431.2" cy="799.9" r="1.8" fill="#d0d0d0" opacity="0.35"/><circle cx="507.6" cy="813.2" r="3.5" fill="#d0d0d0" opacity="0.20"/><circle cx="588.9" cy="898.9" r="1.2" fill="#d0d0d0" opacity="0.32"/><circle cx="69.1" cy="931.4" r="2.2" fill="#d0d0d0" opacity="0.19"/><circle cx="276.4" cy="566.6" r="1.2" fill="#d0d0d0" opacity="0.26"/><circle cx="105.7" cy="695.9" r="1.5" fill="#d0d0d0" opacity="0.35"/><circle cx="301.4" cy="642.6" r="2.8" fill="#d0d0d0" opacity="0.35"/><circle cx="241.8" cy="896.5" r="1.5" fill="#d0d0d0" opacity="0.44"/><circle cx="79.1" cy="974.9" r="2.8" fill="#d0d0d0" opacity="0.34"/><circle cx="238.7" cy="647.5" r="3.5" fill="#d0d0d0" opacity="0.37"/><circle cx="186.3" cy="630.6" r="1.5" fill="#d0d0d0" opacity="0.30"/><circle cx="449.5" cy="835.6" r="1.2" fill="#d0d0d0" opacity="0.23"/><circle cx="281.6" cy="833.0" r="1.2" fill="#d0d0d0" opacity="0.22"/><circle cx="186.1" cy="902.8" r="3.5" fill="#d0d0d0" opacity="0.20"/><circle cx="157.7" cy="1021.7" r="2.2" fill="#d0d0d0" opacity="0.29"/><circle cx="142.0" cy="685.6" r="3.5" fill="#d0d0d0" opacity="0.19"/><circle cx="570.8" cy="927.3" r="2.2" fill="#d0d0d0" opacity="0.39"/><circle cx="410.8" cy="909.6" r="1.5" fill="#d0d0d0" opacity="0.28"/><circle cx="103.0" cy="585.3" r="2.8" fill="#d0d0d0" opacity="0.25"/><circle cx="361.9" cy="897.7" r="1.5" fill="#d0d0d0" opacity="0.28"/><circle cx="245.2" cy="555.5" r="1.8" fill="#d0d0d0" opacity="0.17"/><circle cx="59.0" cy="801.8" r="2.2" fill="#d0d0d0" opacity="0.39"/><circle cx="306.6" cy="938.5" r="1.2" fill="#d0d0d0" opacity="0.17"/><circle cx="143.7" cy="853.4" r="1.2" fill="#d0d0d0" opacity="0.36"/><circle cx="326.9" cy="907.2" r="1.8" fill="#d0d0d0" opacity="0.23"/><circle cx="98.0" cy="693.0" r="3.5" fill="#d0d0d0" opacity="0.25"/><circle cx="291.9" cy="817.9" r="3.5" fill="#d0d0d0" opacity="0.42"/><circle cx="290.0" cy="927.7" r="1.8" fill="#d0d0d0" opacity="0.29"/><circle cx="148.9" cy="1014.5" r="3.5" fill="#d0d0d0" opacity="0.42"/><circle cx="166.5" cy="695.0" r="1.8" fill="#d0d0d0" opacity="0.16"/><circle cx="445.5" cy="812.7" r="1.5" fill="#d0d0d0" opacity="0.37"/><circle cx="244.6" cy="710.1" r="1.5" fill="#d0d0d0" opacity="0.40"/><circle cx="371.1" cy="597.5" r="2.2" fill="#d0d0d0" opacity="0.41"/><circle cx="188.1" cy="516.1" r="2.8" fill="#d0d0d0" opacity="0.17"/><circle cx="108.2" cy="660.4" r="1.2" fill="#d0d0d0" opacity="0.35"/><circle cx="360.8" cy="919.8" r="1.2" fill="#d0d0d0" opacity="0.25"/><circle cx="183.0" cy="560.0" r="1.8" fill="#d0d0d0" opacity="0.18"/><circle cx="490.2" cy="846.5" r="1.5" fill="#d0d0d0" opacity="0.36"/><circle cx="323.1" cy="982.9" r="1.8" fill="#d0d0d0" opacity="0.38"/><circle cx="261.6" cy="682.5" r="1.8" fill="#d0d0d0" opacity="0.35"/><circle cx="326.2" cy="787.6" r="3.5" fill="#d0d0d0" opacity="0.17"/><circle cx="407.2" cy="528.8" r="3.5" fill="#d0d0d0" opacity="0.25"/><circle cx="7.5" cy="703.6" r="1.2" fill="#d0d0d0" opacity="0.42"/><circle cx="628.1" cy="841.9" r="2.8" fill="#d0d0d0" opacity="0.26"/><circle cx="11.6" cy="562.3" r="2.2" fill="#d0d0d0" opacity="0.42"/><circle cx="164.9" cy="589.9" r="3.5" fill="#d0d0d0" opacity="0.26"/><circle cx="114.1" cy="612.1" r="2.2" fill="#d0d0d0" opacity="0.31"/><circle cx="183.3" cy="971.5" r="2.2" fill="#d0d0d0" opacity="0.24"/><circle cx="79.7" cy="846.0" r="1.5" fill="#d0d0d0" opacity="0.42"/><circle cx="318.0" cy="926.3" r="1.8" fill="#d0d0d0" opacity="0.18"/><circle cx="125.1" cy="619.0" r="1.5" fill="#d0d0d0" opacity="0.33"/><circle cx="312.0" cy="772.5" r="2.2" fill="#d0d0d0" opacity="0.21"/><circle cx="187.9" cy="595.3" r="1.8" fill="#d0d0d0" opacity="0.34"/><circle cx="617.9" cy="794.5" r="1.8" fill="#d0d0d0" opacity="0.30"/><circle cx="266.9" cy="1008.1" r="3.5" fill="#d0d0d0" opacity="0.31"/><circle cx="627.6" cy="758.8" r="1.5" fill="#d0d0d0" opacity="0.27"/><circle cx="146.5" cy="575.2" r="2.2" fill="#d0d0d0" opacity="0.44"/><circle cx="522.0" cy="912.5" r="1.2" fill="#d0d0d0" opacity="0.35"/><circle cx="159.6" cy="510.1" r="2.2" fill="#d0d0d0" opacity="0.42"/><circle cx="297.8" cy="634.4" r="2.2" fill="#d0d0d0" opacity="0.33"/><circle cx="107.3" cy="587.1" r="1.8" fill="#d0d0d0" opacity="0.19"/><circle cx="595.8" cy="931.4" r="1.5" fill="#d0d0d0" opacity="0.34"/><circle cx="352.8" cy="583.8" r="1.5" fill="#d0d0d0" opacity="0.15"/><circle cx="539.4" cy="950.4" r="1.5" fill="#d0d0d0" opacity="0.17"/><circle cx="180.6" cy="882.1" r="1.2" fill="#d0d0d0" opacity="0.42"/><circle cx="492.0" cy="790.8" r="2.8" fill="#d0d0d0" opacity="0.24"/><circle cx="358.5" cy="781.5" r="1.5" fill="#d0d0d0" opacity="0.43"/><circle cx="268.8" cy="797.7" r="2.2" fill="#d0d0d0" opacity="0.35"/><circle cx="48.6" cy="543.6" r="1.5" fill="#d0d0d0" opacity="0.18"/><circle cx="261.5" cy="747.8" r="1.2" fill="#d0d0d0" opacity="0.35"/><circle cx="13.0" cy="703.2" r="3.5" fill="#d0d0d0" opacity="0.29"/><circle cx="195.9" cy="564.1" r="1.2" fill="#d0d0d0" opacity="0.41"/><circle cx="554.4" cy="883.5" r="2.8" fill="#d0d0d0" opacity="0.20"/><circle cx="413.4" cy="998.5" r="3.5" fill="#d0d0d0" opacity="0.24"/><circle cx="224.5" cy="711.1" r="3.5" fill="#d0d0d0" opacity="0.18"/><circle cx="127.7" cy="702.9" r="1.2" fill="#d0d0d0" opacity="0.25"/><circle cx="619.8" cy="801.1" r="3.5" fill="#d0d0d0" opacity="0.34"/><circle cx="295.7" cy="706.0" r="1.2" fill="#d0d0d0" opacity="0.19"/><circle cx="66.4" cy="861.6" r="3.5" fill="#d0d0d0" opacity="0.20"/><circle cx="130.7" cy="523.6" r="2.2" fill="#d0d0d0" opacity="0.33"/><circle cx="63.6" cy="623.8" r="1.5" fill="#d0d0d0" opacity="0.45"/><circle cx="287.2" cy="910.9" r="1.8" fill="#d0d0d0" opacity="0.43"/><circle cx="282.8" cy="774.0" r="3.5" fill="#d0d0d0" opacity="0.21"/><circle cx="101.3" cy="868.8" r="2.2" fill="#d0d0d0" opacity="0.25"/><circle cx="273.1" cy="512.5" r="2.2" fill="#d0d0d0" opacity="0.33"/><circle cx="211.7" cy="920.2" r="1.5" fill="#d0d0d0" opacity="0.35"/><circle cx="401.0" cy="514.2" r="1.8" fill="#d0d0d0" opacity="0.21"/><circle cx="204.6" cy="737.0" r="2.8" fill="#d0d0d0" opacity="0.26"/><circle cx="336.4" cy="920.0" r="1.2" fill="#d0d0d0" opacity="0.33"/><circle cx="108.0" cy="908.4" r="1.8" fill="#d0d0d0" opacity="0.31"/><circle cx="234.4" cy="768.2" r="1.5" fill="#d0d0d0" opacity="0.32"/><circle cx="133.9" cy="996.5" r="3.5" fill="#d0d0d0" opacity="0.36"/><circle cx="613.9" cy="803.5" r="1.2" fill="#d0d0d0" opacity="0.34"/><circle cx="133.8" cy="548.3" r="1.5" fill="#d0d0d0" opacity="0.29"/><circle cx="276.6" cy="680.2" r="1.2" fill="#d0d0d0" opacity="0.43"/><circle cx="240.0" cy="748.5" r="1.2" fill="#d0d0d0" opacity="0.29"/><circle cx="375.4" cy="792.3" r="1.2" fill="#d0d0d0" opacity="0.32"/><circle cx="177.0" cy="983.7" r="1.8" fill="#d0d0d0" opacity="0.33"/><circle cx="84.8" cy="939.1" r="1.8" fill="#d0d0d0" opacity="0.36"/><circle cx="241.6" cy="904.1" r="1.8" fill="#d0d0d0" opacity="0.40"/><circle cx="125.7" cy="793.2" r="1.2" fill="#d0d0d0" opacity="0.29"/><circle cx="267.4" cy="917.0" r="3.5" fill="#d0d0d0" opacity="0.19"/><circle cx="496.9" cy="951.0" r="2.2" fill="#d0d0d0" opacity="0.33"/><circle cx="421.6" cy="906.7" r="1.5" fill="#d0d0d0" opacity="0.21"/><circle cx="309.5" cy="579.8" r="2.2" fill="#d0d0d0" opacity="0.19"/><circle cx="269.0" cy="681.6" r="1.5" fill="#d0d0d0" opacity="0.23"/><circle cx="374.6" cy="679.4" r="3.5" fill="#d0d0d0" opacity="0.39"/><circle cx="474.5" cy="919.5" r="2.2" fill="#d0d0d0" opacity="0.44"/><circle cx="395.4" cy="752.1" r="2.2" fill="#d0d0d0" opacity="0.42"/><circle cx="599.0" cy="802.1" r="2.2" fill="#d0d0d0" opacity="0.38"/><circle cx="321.1" cy="1028.7" r="3.5" fill="#d0d0d0" opacity="0.27"/><circle cx="287.3" cy="802.7" r="2.8" fill="#d0d0d0" opacity="0.25"/><circle cx="343.8" cy="726.0" r="1.2" fill="#d0d0d0" opacity="0.25"/><circle cx="40.6" cy="886.9" r="2.2" fill="#d0d0d0" opacity="0.37"/><circle cx="393.7" cy="900.7" r="1.8" fill="#d0d0d0" opacity="0.41"/><circle cx="573.0" cy="1017.0" r="2.2" fill="#d0d0d0" opacity="0.36"/><circle cx="347.4" cy="630.5" r="1.8" fill="#d0d0d0" opacity="0.35"/><circle cx="616.7" cy="968.1" r="3.5" fill="#d0d0d0" opacity="0.44"/><circle cx="438.1" cy="961.1" r="2.2" fill="#d0d0d0" opacity="0.32"/><circle cx="111.8" cy="846.8" r="2.2" fill="#d0d0d0" opacity="0.32"/><circle cx="354.8" cy="1005.7" r="1.2" fill="#d0d0d0" opacity="0.24"/><circle cx="116.9" cy="736.7" r="2.2" fill="#d0d0d0" opacity="0.39"/><circle cx="263.5" cy="692.3" r="2.8" fill="#d0d0d0" opacity="0.22"/><circle cx="204.2" cy="744.2" r="1.8" fill="#d0d0d0" opacity="0.24"/><circle cx="329.3" cy="996.7" r="2.2" fill="#d0d0d0" opacity="0.41"/><circle cx="136.9" cy="957.2" r="3.5" fill="#d0d0d0" opacity="0.42"/><circle cx="132.2" cy="946.1" r="1.8" fill="#d0d0d0" opacity="0.42"/><circle cx="15.4" cy="839.3" r="3.5" fill="#d0d0d0" opacity="0.45"/><circle cx="136.4" cy="837.7" r="1.5" fill="#d0d0d0" opacity="0.43"/><circle cx="640.2" cy="847.1" r="1.8" fill="#d0d0d0" opacity="0.37"/><circle cx="208.6" cy="979.0" r="2.2" fill="#d0d0d0" opacity="0.36"/><circle cx="92.8" cy="871.2" r="2.2" fill="#d0d0d0" opacity="0.27"/><circle cx="115.2" cy="958.5" r="1.2" fill="#d0d0d0" opacity="0.36"/><circle cx="132.8" cy="599.8" r="1.5" fill="#d0d0d0" opacity="0.30"/><circle cx="197.2" cy="648.5" r="3.5" fill="#d0d0d0" opacity="0.31"/><circle cx="80.3" cy="776.3" r="1.8" fill="#d0d0d0" opacity="0.42"/><circle cx="122.5" cy="623.5" r="1.5" fill="#d0d0d0" opacity="0.34"/><circle cx="63.5" cy="1022.6" r="2.2" fill="#d0d0d0" opacity="0.43"/><circle cx="53.0" cy="982.7" r="1.2" fill="#d0d0d0" opacity="0.33"/><circle cx="190.1" cy="636.7" r="2.8" fill="#d0d0d0" opacity="0.18"/><circle cx="190.5" cy="902.7" r="1.5" fill="#d0d0d0" opacity="0.20"/><circle cx="589.2" cy="832.2" r="2.8" fill="#d0d0d0" opacity="0.27"/><circle cx="609.6" cy="767.9" r="1.5" fill="#d0d0d0" opacity="0.17"/><circle cx="510.4" cy="983.9" r="1.8" fill="#d0d0d0" opacity="0.35"/><circle cx="514.4" cy="776.8" r="2.8" fill="#d0d0d0" opacity="0.40"/><circle cx="418.0" cy="1022.8" r="3.5" fill="#d0d0d0" opacity="0.44"/><circle cx="118.2" cy="915.4" r="1.5" fill="#d0d0d0" opacity="0.18"/><circle cx="288.4" cy="856.7" r="2.8" fill="#d0d0d0" opacity="0.38"/><circle cx="516.7" cy="921.4" r="1.5" fill="#d0d0d0" opacity="0.23"/><circle cx="359.0" cy="953.8" r="2.8" fill="#d0d0d0" opacity="0.30"/><circle cx="28.0" cy="819.0" r="3.5" fill="#d0d0d0" opacity="0.17"/><circle cx="296.7" cy="968.6" r="1.8" fill="#d0d0d0" opacity="0.20"/><circle cx="16.6" cy="765.9" r="2.2" fill="#d0d0d0" opacity="0.30"/><circle cx="475.5" cy="956.0" r="1.2" fill="#d0d0d0" opacity="0.17"/><circle cx="595.3" cy="804.3" r="2.8" fill="#d0d0d0" opacity="0.32"/><circle cx="474.9" cy="832.9" r="1.2" fill="#d0d0d0" opacity="0.24"/><circle cx="32.5" cy="670.1" r="2.8" fill="#d0d0d0" opacity="0.37"/><circle cx="512.9" cy="907.8" r="2.2" fill="#d0d0d0" opacity="0.18"/><circle cx="170.8" cy="588.6" r="3.5" fill="#d0d0d0" opacity="0.35"/><circle cx="392.7" cy="744.0" r="1.8" fill="#d0d0d0" opacity="0.27"/><circle cx="242.1" cy="618.4" r="1.2" fill="#d0d0d0" opacity="0.19"/><circle cx="496.5" cy="821.1" r="1.5" fill="#d0d0d0" opacity="0.19"/><circle cx="301.2" cy="897.1" r="1.2" fill="#d0d0d0" opacity="0.15"/><circle cx="271.7" cy="781.4" r="1.2" fill="#d0d0d0" opacity="0.27"/><circle cx="198.9" cy="728.1" r="1.2" fill="#d0d0d0" opacity="0.44"/><circle cx="447.3" cy="882.3" r="3.5" fill="#d0d0d0" opacity="0.33"/><circle cx="197.4" cy="567.0" r="1.5" fill="#d0d0d0" opacity="0.28"/><circle cx="61.0" cy="624.2" r="1.8" fill="#d0d0d0" opacity="0.25"/><circle cx="643.4" cy="826.4" r="1.2" fill="#d0d0d0" opacity="0.20"/><circle cx="385.7" cy="1028.7" r="3.5" fill="#d0d0d0" opacity="0.25"/><circle cx="457.0" cy="960.0" r="2.8" fill="#d0d0d0" opacity="0.43"/><circle cx="120.3" cy="957.7" r="1.5" fill="#d0d0d0" opacity="0.26"/><circle cx="231.0" cy="601.2" r="2.8" fill="#d0d0d0" opacity="0.39"/><circle cx="317.4" cy="715.4" r="2.8" fill="#d0d0d0" opacity="0.29"/><circle cx="205.7" cy="740.1" r="3.5" fill="#d0d0d0" opacity="0.35"/><circle cx="254.2" cy="542.8" r="3.5" fill="#d0d0d0" opacity="0.23"/><circle cx="622.2" cy="831.7" r="2.8" fill="#d0d0d0" opacity="0.20"/><circle cx="175.7" cy="711.5" r="3.5" fill="#d0d0d0" opacity="0.36"/><circle cx="179.8" cy="694.7" r="1.5" fill="#d0d0d0" opacity="0.37"/><circle cx="161.7" cy="946.8" r="1.2" fill="#d0d0d0" opacity="0.16"/><circle cx="214.5" cy="707.0" r="1.2" fill="#d0d0d0" opacity="0.41"/><circle cx="253.1" cy="639.5" r="2.8" fill="#d0d0d0" opacity="0.35"/><circle cx="201.6" cy="824.8" r="2.2" fill="#d0d0d0" opacity="0.16"/><circle cx="103.2" cy="818.2" r="1.2" fill="#d0d0d0" opacity="0.21"/><circle cx="272.2" cy="756.7" r="3.5" fill="#d0d0d0" opacity="0.19"/><circle cx="477.0" cy="855.5" r="1.5" fill="#d0d0d0" opacity="0.41"/><circle cx="548.0" cy="786.4" r="2.2" fill="#d0d0d0" opacity="0.27"/><circle cx="256.5" cy="960.9" r="1.5" fill="#d0d0d0" opacity="0.18"/><circle cx="246.0" cy="826.6" r="1.5" fill="#d0d0d0" opacity="0.16"/><circle cx="21.0" cy="836.7" r="2.8" fill="#d0d0d0" opacity="0.15"/><circle cx="500.5" cy="896.1" r="3.5" fill="#d0d0d0" opacity="0.35"/><circle cx="453.4" cy="855.8" r="1.8" fill="#d0d0d0" opacity="0.22"/><circle cx="283.3" cy="711.3" r="1.2" fill="#d0d0d0" opacity="0.30"/><circle cx="468.4" cy="778.7" r="3.5" fill="#d0d0d0" opacity="0.25"/><circle cx="279.8" cy="583.9" r="2.8" fill="#d0d0d0" opacity="0.23"/><circle cx="600.0" cy="980.1" r="1.2" fill="#d0d0d0" opacity="0.26"/><circle cx="45.9" cy="717.5" r="1.2" fill="#d0d0d0" opacity="0.26"/><circle cx="472.9" cy="971.5" r="1.2" fill="#d0d0d0" opacity="0.16"/><circle cx="230.8" cy="974.4" r="2.8" fill="#d0d0d0" opacity="0.24"/><circle cx="535.3" cy="972.0" r="3.5" fill="#d0d0d0" opacity="0.29"/><circle cx="405.3" cy="1007.6" r="1.8" fill="#d0d0d0" opacity="0.16"/><circle cx="54.1" cy="529.5" r="2.8" fill="#d0d0d0" opacity="0.27"/><circle cx="275.4" cy="650.0" r="2.2" fill="#d0d0d0" opacity="0.41"/><circle cx="253.4" cy="983.9" r="1.2" fill="#d0d0d0" opacity="0.39"/><circle cx="327.1" cy="753.7" r="1.2" fill="#d0d0d0" opacity="0.19"/><circle cx="130.2" cy="624.8" r="3.5" fill="#d0d0d0" opacity="0.22"/><circle cx="343.7" cy="992.7" r="2.2" fill="#d0d0d0" opacity="0.15"/><circle cx="360.9" cy="951.9" r="2.8" fill="#d0d0d0" opacity="0.17"/><circle cx="540.7" cy="970.4" r="3.5" fill="#d0d0d0" opacity="0.44"/><circle cx="222.0" cy="687.1" r="1.2" fill="#d0d0d0" opacity="0.24"/><circle cx="470.8" cy="870.9" r="3.5" fill="#d0d0d0" opacity="0.20"/><circle cx="130.0" cy="589.3" r="1.8" fill="#d0d0d0" opacity="0.34"/><circle cx="324.2" cy="801.6" r="1.8" fill="#d0d0d0" opacity="0.27"/><circle cx="243.7" cy="856.5" r="2.2" fill="#d0d0d0" opacity="0.22"/><circle cx="167.2" cy="675.7" r="1.5" fill="#d0d0d0" opacity="0.43"/><circle cx="484.8" cy="966.9" r="1.2" fill="#d0d0d0" opacity="0.40"/><circle cx="557.3" cy="774.5" r="3.5" fill="#d0d0d0" opacity="0.29"/><circle cx="110.8" cy="961.0" r="2.2" fill="#d0d0d0" opacity="0.17"/><circle cx="170.2" cy="771.9" r="3.5" fill="#d0d0d0" opacity="0.27"/><circle cx="222.2" cy="904.6" r="2.8" fill="#d0d0d0" opacity="0.40"/><circle cx="374.2" cy="726.1" r="3.5" fill="#d0d0d0" opacity="0.19"/><circle cx="109.6" cy="610.3" r="2.8" fill="#d0d0d0" opacity="0.35"/><circle cx="155.3" cy="601.7" r="1.2" fill="#d0d0d0" opacity="0.29"/><circle cx="456.4" cy="921.2" r="1.5" fill="#d0d0d0" opacity="0.23"/><circle cx="181.4" cy="637.2" r="3.5" fill="#d0d0d0" opacity="0.27"/><circle cx="612.3" cy="1025.6" r="1.2" fill="#d0d0d0" opacity="0.20"/><circle cx="653.9" cy="963.4" r="1.5" fill="#d0d0d0" opacity="0.24"/><circle cx="480.7" cy="1028.1" r="1.2" fill="#d0d0d0" opacity="0.27"/><circle cx="593.6" cy="943.4" r="2.2" fill="#d0d0d0" opacity="0.20"/><circle cx="48.8" cy="735.7" r="3.5" fill="#d0d0d0" opacity="0.24"/><circle cx="259.8" cy="830.0" r="1.5" fill="#d0d0d0" opacity="0.44"/><circle cx="258.3" cy="870.2" r="2.8" fill="#d0d0d0" opacity="0.23"/><circle cx="547.5" cy="797.6" r="1.8" fill="#d0d0d0" opacity="0.41"/><circle cx="286.5" cy="584.4" r="1.2" fill="#d0d0d0" opacity="0.23"/><circle cx="375.1" cy="648.7" r="2.2" fill="#d0d0d0" opacity="0.23"/><circle cx="153.1" cy="758.6" r="1.8" fill="#d0d0d0" opacity="0.32"/><circle cx="368.6" cy="584.3" r="1.2" fill="#d0d0d0" opacity="0.42"/><circle cx="206.3" cy="545.7" r="1.5" fill="#d0d0d0" opacity="0.25"/><circle cx="95.9" cy="920.3" r="2.2" fill="#d0d0d0" opacity="0.30"/><circle cx="274.7" cy="929.8" r="2.2" fill="#d0d0d0" opacity="0.32"/><circle cx="144.8" cy="829.5" r="2.8" fill="#d0d0d0" opacity="0.23"/><circle cx="127.7" cy="657.7" r="1.5" fill="#d0d0d0" opacity="0.45"/><circle cx="293.3" cy="943.9" r="3.5" fill="#d0d0d0" opacity="0.16"/><circle cx="562.7" cy="1002.4" r="2.8" fill="#d0d0d0" opacity="0.19"/><circle cx="53.6" cy="693.6" r="2.8" fill="#d0d0d0" opacity="0.24"/><circle cx="339.6" cy="509.9" r="1.5" fill="#d0d0d0" opacity="0.17"/><circle cx="242.2" cy="908.6" r="1.8" fill="#d0d0d0" opacity="0.39"/><circle cx="520.5" cy="892.0" r="2.2" fill="#d0d0d0" opacity="0.24"/><circle cx="350.7" cy="855.4" r="1.2" fill="#d0d0d0" opacity="0.43"/><circle cx="318.6" cy="947.1" r="2.2" fill="#d0d0d0" opacity="0.23"/><circle cx="380.3" cy="624.2" r="2.2" fill="#d0d0d0" opacity="0.37"/><circle cx="334.3" cy="650.3" r="1.8" fill="#d0d0d0" opacity="0.34"/><circle cx="297.6" cy="668.9" r="1.2" fill="#d0d0d0" opacity="0.42"/><circle cx="214.2" cy="554.0" r="1.8" fill="#d0d0d0" opacity="0.21"/><circle cx="122.2" cy="529.1" r="1.5" fill="#d0d0d0" opacity="0.31"/><circle cx="73.8" cy="579.7" r="1.8" fill="#d0d0d0" opacity="0.20"/><circle cx="19.3" cy="715.1" r="1.2" fill="#d0d0d0" opacity="0.27"/><circle cx="214.2" cy="787.5" r="1.5" fill="#d0d0d0" opacity="0.16"/><circle cx="118.6" cy="539.5" r="2.8" fill="#d0d0d0" opacity="0.18"/><circle cx="270.6" cy="876.6" r="1.5" fill="#d0d0d0" opacity="0.39"/><circle cx="50.5" cy="710.0" r="1.8" fill="#d0d0d0" opacity="0.41"/><circle cx="511.0" cy="781.2" r="1.2" fill="#d0d0d0" opacity="0.19"/><circle cx="405.9" cy="972.3" r="3.5" fill="#d0d0d0" opacity="0.34"/><circle cx="333.5" cy="803.7" r="1.2" fill="#d0d0d0" opacity="0.19"/><circle cx="485.6" cy="896.6" r="2.2" fill="#d0d0d0" opacity="0.35"/><circle cx="277.8" cy="707.1" r="1.5" fill="#d0d0d0" opacity="0.26"/><circle cx="357.1" cy="526.8" r="1.2" fill="#d0d0d0" opacity="0.31"/><circle cx="298.9" cy="654.2" r="1.2" fill="#d0d0d0" opacity="0.33"/><circle cx="309.9" cy="1027.7" r="3.5" fill="#d0d0d0" opacity="0.34"/><circle cx="127.5" cy="751.6" r="2.8" fill="#d0d0d0" opacity="0.27"/><circle cx="649.1" cy="763.2" r="1.5" fill="#d0d0d0" opacity="0.21"/><circle cx="606.1" cy="920.8" r="1.5" fill="#d0d0d0" opacity="0.40"/><circle cx="524.0" cy="774.1" r="1.8" fill="#d0d0d0" opacity="0.17"/><circle cx="571.1" cy="879.5" r="1.8" fill="#d0d0d0" opacity="0.31"/><circle cx="231.9" cy="613.7" r="1.2" fill="#d0d0d0" opacity="0.41"/><circle cx="132.5" cy="651.8" r="3.5" fill="#d0d0d0" opacity="0.22"/><circle cx="74.8" cy="736.6" r="2.2" fill="#d0d0d0" opacity="0.41"/><circle cx="51.9" cy="766.2" r="1.2" fill="#d0d0d0" opacity="0.38"/><circle cx="362.4" cy="981.8" r="1.5" fill="#d0d0d0" opacity="0.39"/><circle cx="121.2" cy="680.3" r="1.8" fill="#d0d0d0" opacity="0.44"/><circle cx="147.9" cy="656.5" r="2.2" fill="#d0d0d0" opacity="0.20"/><circle cx="257.8" cy="952.0" r="2.8" fill="#d0d0d0" opacity="0.29"/><circle cx="323.3" cy="550.9" r="3.5" fill="#d0d0d0" opacity="0.21"/><circle cx="414.4" cy="966.4" r="3.5" fill="#d0d0d0" opacity="0.44"/><circle cx="369.3" cy="1028.5" r="2.2" fill="#d0d0d0" opacity="0.15"/><circle cx="225.9" cy="670.6" r="3.5" fill="#d0d0d0" opacity="0.43"/><circle cx="141.4" cy="908.4" r="1.5" fill="#d0d0d0" opacity="0.36"/><circle cx="308.5" cy="572.5" r="1.2" fill="#d0d0d0" opacity="0.23"/><circle cx="228.8" cy="832.7" r="1.8" fill="#d0d0d0" opacity="0.21"/><circle cx="652.2" cy="869.0" r="3.5" fill="#d0d0d0" opacity="0.37"/><circle cx="571.3" cy="910.2" r="1.5" fill="#d0d0d0" opacity="0.19"/><circle cx="302.2" cy="771.4" r="1.2" fill="#d0d0d0" opacity="0.25"/><circle cx="381.9" cy="654.6" r="1.8" fill="#d0d0d0" opacity="0.44"/><circle cx="55.9" cy="846.1" r="1.5" fill="#d0d0d0" opacity="0.43"/><circle cx="257.2" cy="896.2" r="2.8" fill="#d0d0d0" opacity="0.22"/><circle cx="221.8" cy="812.4" r="3.5" fill="#d0d0d0" opacity="0.44"/><circle cx="195.6" cy="870.7" r="3.5" fill="#d0d0d0" opacity="0.33"/></g>
<rect x="416.50" y="502.50" width="239.40" height="84.20" fill="url(#ruler)" stroke="none" stroke-width="1"/>
<rect x="416.50" y="502.50" width="239.40" height="84.20" fill="#000" stroke="none" stroke-width="1" filter="url(#semB)" opacity="0.5"/>
<text x="419.20" y="534.40" font-family='"Liberation Sans", sans-serif' font-size="43.00" font-weight="bold" fill="#141414" textLength="21.01" lengthAdjust="spacingAndGlyphs">4</text>
<line x1="429.70" y1="550.00" x2="429.70" y2="586.00" stroke="#111" stroke-width="1.6"/>
<polygon points="429.7,545.0 432.1,550.5 429.7,553.5 427.3,550.5" fill="#111"/>
<text x="472.90" y="534.40" font-family='"Liberation Sans", sans-serif' font-size="43.00" font-weight="bold" fill="#141414" textLength="21.01" lengthAdjust="spacingAndGlyphs">5</text>
<line x1="483.40" y1="550.00" x2="483.40" y2="586.00" stroke="#111" stroke-width="1.6"/>
<polygon points="483.4,545.0 485.8,550.5 483.4,553.5 481.0,550.5" fill="#111"/>
<text x="525.80" y="534.40" font-family='"Liberation Sans", sans-serif' font-size="43.00" font-weight="bold" fill="#141414" textLength="21.01" lengthAdjust="spacingAndGlyphs">6</text>
<line x1="536.30" y1="550.00" x2="536.30" y2="586.00" stroke="#111" stroke-width="1.6"/>
<polygon points="536.3,545.0 538.7,550.5 536.3,553.5 533.9,550.5" fill="#111"/>
<text x="578.10" y="534.40" font-family='"Liberation Sans", sans-serif' font-size="43.00" font-weight="bold" fill="#141414" textLength="21.01" lengthAdjust="spacingAndGlyphs">7</text>
<line x1="588.60" y1="550.00" x2="588.60" y2="586.00" stroke="#111" stroke-width="1.6"/>
<polygon points="588.6,545.0 591.0,550.5 588.6,553.5 586.2,550.5" fill="#111"/>
<text x="631.10" y="534.40" font-family='"Liberation Sans", sans-serif' font-size="43.00" font-weight="bold" fill="#141414" textLength="21.01" lengthAdjust="spacingAndGlyphs">8</text>
<line x1="641.60" y1="550.00" x2="641.60" y2="586.00" stroke="#111" stroke-width="1.6"/>
<polygon points="641.6,545.0 644.0,550.5 641.6,553.5 639.2,550.5" fill="#111"/>
<line x1="419.08" y1="563.50" x2="419.08" y2="586.70" stroke="#262626" stroke-width="1.4"/>
<line x1="421.73" y1="569.00" x2="421.73" y2="586.70" stroke="#3a3a3a" stroke-width="1.0"/>
<line x1="424.39" y1="563.50" x2="424.39" y2="586.70" stroke="#262626" stroke-width="1.4"/>
<line x1="427.04" y1="569.00" x2="427.04" y2="586.70" stroke="#3a3a3a" stroke-width="1.0"/>
<line x1="432.35" y1="569.00" x2="432.35" y2="586.70" stroke="#3a3a3a" stroke-width="1.0"/>
<line x1="435.01" y1="563.50" x2="435.01" y2="586.70" stroke="#262626" stroke-width="1.4"/>
<line x1="437.66" y1="569.00" x2="437.66" y2="586.70" stroke="#3a3a3a" stroke-width="1.0"/>
<line x1="440.32" y1="563.50" x2="440.32" y2="586.70" stroke="#262626" stroke-width="1.4"/>
<line x1="442.97" y1="569.00" x2="442.97" y2="586.70" stroke="#3a3a3a" stroke-width="1.0"/>
<line x1="445.63" y1="563.50" x2="445.63" y2="586.70" stroke="#262626" stroke-width="1.4"/>
<line x1="448.28" y1="569.00" x2="448.28" y2="586.70" stroke="#3a3a3a" stroke-width="1.0"/>
<line x1="450.94" y1="563.50" x2="450.94" y2="586.70" stroke="#262626" stroke-width="1.4"/>
<line x1="453.59" y1="569.00" x2="453.59" y2="586.70" stroke="#3a3a3a" stroke-width="1.0"/>
<line x1="456.25" y1="555.00" x2="456.25" y2="586.70" stroke="#262626" stroke-width="1.4"/>
<line x1="458.90" y1="569.00" x2="458.90" y2="586.70" stroke="#3a3a3a" stroke-width="1.0"/>
<line x1="461.56" y1="563.50" x2="461.56" y2="586.70" stroke="#262626" stroke-width="1.4"/>
<line x1="464.21" y1="569.00" x2="464.21" y2="586.70" stroke="#3a3a3a" stroke-width="1.0"/>
<line x1="466.87" y1="563.50" x2="466.87" y2="586.70" stroke="#262626" stroke-width="1.4"/>
<line x1="469.52" y1="569.00" x2="469.52" y2="586.70" stroke="#3a3a3a" stroke-width="1.0"/>
<line x1="472.18" y1="563.50" x2="472.18" y2="586.70" stroke="#262626" stroke-width="1.4"/>
<line x1="474.83" y1="569.00" x2="474.83" y2="586.70" stroke="#3a3a3a" stroke-width="1.0"/>
<line x1="477.49" y1="563.50" x2="477.49" y2="586.70" stroke="#262626" stroke-width="1.4"/>
<line x1="480.14" y1="569.00" x2="480.14" y2="586.70" stroke="#3a3a3a" stroke-width="1.0"/>
<line x1="485.45" y1="569.00" x2="485.45" y2="586.70" stroke="#3a3a3a" stroke-width="1.0"/>
<line x1="488.11" y1="563.50" x2="488.11" y2="586.70" stroke="#262626" stroke-width="1.4"/>
<line x1="490.76" y1="569.00" x2="490.76" y2="586.70" stroke="#3a3a3a" stroke-width="1.0"/>
<line x1="493.42" y1="563.50" x2="493.42" y2="586.70" stroke="#262626" stroke-width="1.4"/>
<line x1="496.07" y1="569.00" x2="496.07" y2="586.70" stroke="#3a3a3a" stroke-width="1.0"/>
<line x1="498.73" y1="563.50" x2="498.73" y2="586.70" stroke="#262626" stroke-width="1.4"/>
<line x1="501.38" y1="569.00" x2="501.38" y2="586.70" stroke="#3a3a3a" stroke-width="1.0"/>
<line x1="504.04" y1="563.50" x2="504.04" y2="586.70" stroke="#262626" stroke-width="1.4"/>
<line x1="506.69" y1="569.00" x2="506.69" y2="586.70" stroke="#3a3a3a" stroke-width="1.0"/>
<line x1="509.35" y1="555.00" x2="509.35" y2="586.70" stroke="#262626" stroke-width="1.4"/>
<line x1="512.00" y1="569.00" x2="512.00" y2="586.70" stroke="#3a3a3a" stroke-width="1.0"/>
<line x1="514.66" y1="563.50" x2="514.66" y2="586.70" stroke="#262626" stroke-width="1.4"/>
<line x1="517.31" y1="569.00" x2="517.31" y2="586.70" stroke="#3a3a3a" stroke-width="1.0"/>
<line x1="519.97" y1="563.50" x2="519.97" y2="586.70" stroke="#262626" stroke-width="1.4"/>
<line x1="522.62" y1="569.00" x2="522.62" y2="586.70" stroke="#3a3a3a" stroke-width="1.0"/>
<line x1="525.28" y1="563.50" x2="525.28" y2="586.70" stroke="#262626" stroke-width="1.4"/>
<line x1="527.93" y1="569.00" x2="527.93" y2="586.70" stroke="#3a3a3a" stroke-width="1.0"/>
<line x1="530.59" y1="563.50" x2="530.59" y2="586.70" stroke="#262626" stroke-width="1.4"/>
<line x1="533.24" y1="569.00" x2="533.24" y2="586.70" stroke="#3a3a3a" stroke-width="1.0"/>
<line x1="538.55" y1="569.00" x2="538.55" y2="586.70" stroke="#3a3a3a" stroke-width="1.0"/>
<line x1="541.21" y1="563.50" x2="541.21" y2="586.70" stroke="#262626" stroke-width="1.4"/>
<line x1="543.86" y1="569.00" x2="543.86" y2="586.70" stroke="#3a3a3a" stroke-width="1.0"/>
<line x1="546.52" y1="563.50" x2="546.52" y2="586.70" stroke="#262626" stroke-width="1.4"/>
<line x1="549.17" y1="569.00" x2="549.17" y2="586.70" stroke="#3a3a3a" stroke-width="1.0"/>
<line x1="551.83" y1="563.50" x2="551.83" y2="586.70" stroke="#262626" stroke-width="1.4"/>
<line x1="554.48" y1="569.00" x2="554.48" y2="586.70" stroke="#3a3a3a" stroke-width="1.0"/>
<line x1="557.14" y1="563.50" x2="557.14" y2="586.70" stroke="#262626" stroke-width="1.4"/>
<line x1="559.79" y1="569.00" x2="559.79" y2="586.70" stroke="#3a3a3a" stroke-width="1.0"/>
<line x1="562.45" y1="555.00" x2="562.45" y2="586.70" stroke="#262626" stroke-width="1.4"/>
<line x1="565.10" y1="569.00" x2="565.10" y2="586.70" stroke="#3a3a3a" stroke-width="1.0"/>
<line x1="567.76" y1="563.50" x2="567.76" y2="586.70" stroke="#262626" stroke-width="1.4"/>
<line x1="570.41" y1="569.00" x2="570.41" y2="586.70" stroke="#3a3a3a" stroke-width="1.0"/>
<line x1="573.07" y1="563.50" x2="573.07" y2="586.70" stroke="#262626" stroke-width="1.4"/>
<line x1="575.72" y1="569.00" x2="575.72" y2="586.70" stroke="#3a3a3a" stroke-width="1.0"/>
<line x1="578.38" y1="563.50" x2="578.38" y2="586.70" stroke="#262626" stroke-width="1.4"/>
<line x1="581.03" y1="569.00" x2="581.03" y2="586.70" stroke="#3a3a3a" stroke-width="1.0"/>
<line x1="583.69" y1="563.50" x2="583.69" y2="586.70" stroke="#262626" stroke-width="1.4"/>
<line x1="586.34" y1="569.00" x2="586.34" y2="586.70" stroke="#3a3a3a" stroke-width="1.0"/>
<line x1="591.65" y1="569.00" x2="591.65" y2="586.70" stroke="#3a3a3a" stroke-width="1.0"/>
<line x1="594.31" y1="563.50" x2="594.31" y2="586.70" stroke="#262626" stroke-width="1.4"/>
<line x1="596.96" y1="569.00" x2="596.96" y2="586.70" stroke="#3a3a3a" stroke-width="1.0"/>
<line x1="599.62" y1="563.50" x2="599.62" y2="586.70" stroke="#262626" stroke-width="1.4"/>
<line x1="602.27" y1="569.00" x2="602.27" y2="586.70" stroke="#3a3a3a" stroke-width="1.0"/>
<line x1="604.93" y1="563.50" x2="604.93" y2="586.70" stroke="#262626" stroke-width="1.4"/>
<line x1="607.58" y1="569.00" x2="607.58" y2="586.70" stroke="#3a3a3a" stroke-width="1.0"/>
<line x1="610.24" y1="563.50" x2="610.24" y2="586.70" stroke="#262626" stroke-width="1.4"/>
<line x1="612.89" y1="569.00" x2="612.89" y2="586.70" stroke="#3a3a3a" stroke-width="1.0"/>
<line x1="615.55" y1="555.00" x2="615.55" y2="586.70" stroke="#262626" stroke-width="1.4"/>
<line x1="618.20" y1="569.00" x2="618.20" y2="586.70" stroke="#3a3a3a" stroke-width="1.0"/>
<line x1="620.86" y1="563.50" x2="620.86" y2="586.70" stroke="#262626" stroke-width="1.4"/>
<line x1="623.51" y1="569.00" x2="623.51" y2="586.70" stroke="#3a3a3a" stroke-width="1.0"/>
<line x1="626.17" y1="563.50" x2="626.17" y2="586.70" stroke="#262626" stroke-width="1.4"/>
<line x1="628.82" y1="569.00" x2="628.82" y2="586.70" stroke="#3a3a3a" stroke-width="1.0"/>
<line x1="631.48" y1="563.50" x2="631.48" y2="586.70" stroke="#262626" stroke-width="1.4"/>
<line x1="634.13" y1="569.00" x2="634.13" y2="586.70" stroke="#3a3a3a" stroke-width="1.0"/>
<line x1="636.79" y1="563.50" x2="636.79" y2="586.70" stroke="#262626" stroke-width="1.4"/>
<line x1="639.44" y1="569.00" x2="639.44" y2="586.70" stroke="#3a3a3a" stroke-width="1.0"/>
<line x1="644.75" y1="569.00" x2="644.75" y2="586.70" stroke="#3a3a3a" stroke-width="1.0"/>
<line x1="647.41" y1="563.50" x2="647.41" y2="586.70" stroke="#262626" stroke-width="1.4"/>
<line x1="650.06" y1="569.00" x2="650.06" y2="586.70" stroke="#3a3a3a" stroke-width="1.0"/>
<line x1="652.72" y1="563.50" x2="652.72" y2="586.70" stroke="#262626" stroke-width="1.4"/>
<line x1="655.37" y1="569.00" x2="655.37" y2="586.70" stroke="#3a3a3a" stroke-width="1.0"/>
<rect x="416.50" y="583.50" width="239.40" height="3.20" fill="#4a4a4e" stroke="none" stroke-width="1" opacity="0.6"/>
<rect x="416.50" y="586.70" width="239.40" height="157.60" fill="#e5ebf5" stroke="none" stroke-width="1"/>
<ellipse cx="528.5" cy="660" rx="67.5" ry="72.5" fill="#bfc6cf"/>
<ellipse cx="528.5" cy="660" rx="66" ry="71" fill="none" stroke="#a9b1bb" stroke-width="2"/>
<ellipse cx="527" cy="652" rx="63.5" ry="63" fill="#d9e1ef"/>
<ellipse cx="527" cy="652" rx="62.5" ry="62" fill="none" stroke="#eef2f8" stroke-width="2"/>
<ellipse cx="529" cy="662" rx="50" ry="48" fill="#d3dbea" opacity="0.5"/>
<text x="23.50" y="565.00" font-family='"Liberation Serif", serif' font-size="47.00" fill="#111" textLength="56.20" lengthAdjust="spacingAndGlyphs">(d)</text>
<text x="411.20" y="988.70" font-family='"Liberation Sans", sans-serif' font-size="58.00" fill="#ffffff" textLength="184.73" lengthAdjust="spacingAndGlyphs">1.00um</text>
<rect x="345.2" y="1008.3" width="300.7" height="5.6" rx="2.5" fill="#ffffff"/>
<rect x="679.40" y="508.80" width="616.60" height="460.20" fill="#ffffff" stroke="none" stroke-width="1"/>
<rect x="679.40" y="509.50" width="615.80" height="18.10" fill="#f1ea9f" stroke="none" stroke-width="1"/>
<line x1="679.40" y1="509.60" x2="1295.20" y2="509.60" stroke="#d9d08a" stroke-width="1.0"/>
<text x="686.00" y="521.60" font-family='"DejaVu Sans", sans-serif' font-size="6.50" fill="#7a7a5a" textLength="7.50" lengthAdjust="spacingAndGlyphs">File</text>
<text x="703.50" y="521.60" font-family='"DejaVu Sans", sans-serif' font-size="6.50" fill="#7a7a5a" textLength="9.50" lengthAdjust="spacingAndGlyphs">Edit</text>
<text x="727.00" y="521.60" font-family='"DejaVu Sans", sans-serif' font-size="6.50" fill="#7a7a5a" textLength="21.00" lengthAdjust="spacingAndGlyphs">Vertical</text>
<text x="756.00" y="521.60" font-family='"DejaVu Sans", sans-serif' font-size="6.50" fill="#7a7a5a" textLength="31.00" lengthAdjust="spacingAndGlyphs">Horiz/Acq</text>
<text x="793.52" y="521.60" font-family='"DejaVu Sans", sans-serif' font-size="6.50" fill="#7a7a5a" textLength="9.48" lengthAdjust="spacingAndGlyphs">Trig</text>
<text x="815.00" y="521.60" font-family='"DejaVu Sans", sans-serif' font-size="6.50" fill="#7a7a5a" textLength="23.00" lengthAdjust="spacingAndGlyphs">Display</text>
<text x="846.50" y="521.60" font-family='"DejaVu Sans", sans-serif' font-size="6.50" fill="#7a7a5a" textLength="26.50" lengthAdjust="spacingAndGlyphs">Cursors</text>
<text x="880.00" y="521.60" font-family='"DejaVu Sans", sans-serif' font-size="6.50" fill="#7a7a5a" textLength="30.50" lengthAdjust="spacingAndGlyphs">Measure</text>
<text x="917.00" y="521.60" font-family='"DejaVu Sans", sans-serif' font-size="6.50" fill="#7a7a5a" textLength="17.00" lengthAdjust="spacingAndGlyphs">Mask</text>
<text x="940.00" y="521.60" font-family='"DejaVu Sans", sans-serif' font-size="6.50" fill="#7a7a5a" textLength="15.00" lengthAdjust="spacingAndGlyphs">Math</text>
<text x="963.50" y="521.60" font-family='"DejaVu Sans", sans-serif' font-size="6.50" fill="#7a7a5a" textLength="30.00" lengthAdjust="spacingAndGlyphs">MyScope</text>
<text x="1000.50" y="521.60" font-family='"DejaVu Sans", sans-serif' font-size="6.50" fill="#7a7a5a" textLength="28.50" lengthAdjust="spacingAndGlyphs">Analyze</text>
<text x="1035.50" y="521.60" font-family='"DejaVu Sans", sans-serif' font-size="6.50" fill="#7a7a5a" textLength="27.50" lengthAdjust="spacingAndGlyphs">Utilities</text>
<text x="1068.00" y="521.60" font-family='"DejaVu Sans", sans-serif' font-size="6.50" fill="#7a7a5a" textLength="13.00" lengthAdjust="spacingAndGlyphs">Help</text>
<line x1="698.50" y1="511.50" x2="698.50" y2="525.50" stroke="#d8cf8c" stroke-width="0.8"/>
<line x1="721.00" y1="511.50" x2="721.00" y2="525.50" stroke="#d8cf8c" stroke-width="0.8"/>
<line x1="751.50" y1="511.50" x2="751.50" y2="525.50" stroke="#d8cf8c" stroke-width="0.8"/>
<line x1="790.50" y1="511.50" x2="790.50" y2="525.50" stroke="#d8cf8c" stroke-width="0.8"/>
<line x1="807.00" y1="511.50" x2="807.00" y2="525.50" stroke="#d8cf8c" stroke-width="0.8"/>
<line x1="842.00" y1="511.50" x2="842.00" y2="525.50" stroke="#d8cf8c" stroke-width="0.8"/>
<line x1="876.50" y1="511.50" x2="876.50" y2="525.50" stroke="#d8cf8c" stroke-width="0.8"/>
<line x1="914.00" y1="511.50" x2="914.00" y2="525.50" stroke="#d8cf8c" stroke-width="0.8"/>
<line x1="937.50" y1="511.50" x2="937.50" y2="525.50" stroke="#d8cf8c" stroke-width="0.8"/>
<line x1="958.50" y1="511.50" x2="958.50" y2="525.50" stroke="#d8cf8c" stroke-width="0.8"/>
<line x1="997.50" y1="511.50" x2="997.50" y2="525.50" stroke="#d8cf8c" stroke-width="0.8"/>
<line x1="1032.00" y1="511.50" x2="1032.00" y2="525.50" stroke="#d8cf8c" stroke-width="0.8"/>
<line x1="1065.50" y1="511.50" x2="1065.50" y2="525.50" stroke="#d8cf8c" stroke-width="0.8"/>
<line x1="1084.50" y1="511.50" x2="1084.50" y2="525.50" stroke="#d8cf8c" stroke-width="0.8"/>
<rect x="1088.00" y="511.00" width="14.50" height="14.50" fill="#5a1a10" stroke="none" stroke-width="1"/>
<rect x="1090.50" y="513.00" width="9.50" height="10.50" fill="#b83a20" stroke="none" stroke-width="1" opacity="0.6"/>
<text x="1219.00" y="523.50" font-family='"Liberation Sans", sans-serif' font-size="11.00" font-weight="bold" fill="#222" textLength="16.48" lengthAdjust="spacingAndGlyphs">Tek</text>
<rect x="1249.00" y="511.00" width="15.00" height="14.50" fill="#a0301a" stroke="none" stroke-width="1"/>
<rect x="1251.00" y="514.00" width="11.00" height="8.50" fill="#d85a20" stroke="none" stroke-width="1" opacity="0.8"/>
<rect x="1273.80" y="511.00" width="14.20" height="14.50" fill="#1a6aa0" stroke="none" stroke-width="1"/>
<rect x="1275.80" y="514.00" width="10.20" height="8.50" fill="#38b0e0" stroke="none" stroke-width="1" opacity="0.8"/>
<rect x="679.40" y="527.60" width="8.50" height="441.40" fill="#bba55c" stroke="none" stroke-width="1"/>
<rect x="1293.20" y="527.60" width="3.00" height="441.40" fill="#bba55c" stroke="none" stroke-width="1"/>
<rect x="679.40" y="966.80" width="616.80" height="2.40" fill="#c9b77a" stroke="none" stroke-width="1"/>
<line x1="688.60" y1="528.70" x2="1293.00" y2="528.70" stroke="#4a9fd3" stroke-width="2.0"/>
<line x1="688.60" y1="528.70" x2="688.60" y2="891.00" stroke="#4a9fd3" stroke-width="1.8"/>
<line x1="1292.60" y1="528.70" x2="1292.60" y2="891.00" stroke="#4a9fd3" stroke-width="1.8"/>
<line x1="1117.50" y1="891.20" x2="1293.00" y2="891.20" stroke="#4a9fd3" stroke-width="2.0"/>
<g opacity="0.8"><line x1="692.00" y1="563.00" x2="1290.00" y2="563.00" stroke="#c8c8c8" stroke-width="0.9" stroke-dasharray="1.2,9.8"/><line x1="692.00" y1="598.00" x2="1290.00" y2="598.00" stroke="#c8c8c8" stroke-width="0.9" stroke-dasharray="1.2,9.8"/><line x1="692.00" y1="633.00" x2="1290.00" y2="633.00" stroke="#c8c8c8" stroke-width="0.9" stroke-dasharray="1.2,9.8"/><line x1="692.00" y1="668.00" x2="1290.00" y2="668.00" stroke="#c8c8c8" stroke-width="0.9" stroke-dasharray="1.2,9.8"/><line x1="692.00" y1="745.00" x2="1290.00" y2="745.00" stroke="#c8c8c8" stroke-width="0.9" stroke-dasharray="1.2,9.8"/><line x1="692.00" y1="780.00" x2="1290.00" y2="780.00" stroke="#c8c8c8" stroke-width="0.9" stroke-dasharray="1.2,9.8"/><line x1="692.00" y1="815.00" x2="1290.00" y2="815.00" stroke="#c8c8c8" stroke-width="0.9" stroke-dasharray="1.2,9.8"/><line x1="692.00" y1="850.00" x2="1290.00" y2="850.00" stroke="#c8c8c8" stroke-width="0.9" stroke-dasharray="1.2,9.8"/><line x1="728.00" y1="531.00" x2="728.00" y2="888.00" stroke="#c8c8c8" stroke-width="0.9" stroke-dasharray="1.2,9.8"/><line x1="787.00" y1="531.00" x2="787.00" y2="888.00" stroke="#c8c8c8" stroke-width="0.9" stroke-dasharray="1.2,9.8"/><line x1="846.00" y1="531.00" x2="846.00" y2="888.00" stroke="#c8c8c8" stroke-width="0.9" stroke-dasharray="1.2,9.8"/><line x1="905.00" y1="531.00" x2="905.00" y2="888.00" stroke="#c8c8c8" stroke-width="0.9" stroke-dasharray="1.2,9.8"/><line x1="1051.00" y1="531.00" x2="1051.00" y2="888.00" stroke="#c8c8c8" stroke-width="0.9" stroke-dasharray="1.2,9.8"/><line x1="1110.00" y1="531.00" x2="1110.00" y2="888.00" stroke="#c8c8c8" stroke-width="0.9" stroke-dasharray="1.2,9.8"/><line x1="1169.00" y1="531.00" x2="1169.00" y2="888.00" stroke="#c8c8c8" stroke-width="0.9" stroke-dasharray="1.2,9.8"/><line x1="1228.00" y1="531.00" x2="1228.00" y2="888.00" stroke="#c8c8c8" stroke-width="0.9" stroke-dasharray="1.2,9.8"/></g>
<line x1="692.00" y1="710.00" x2="1290.00" y2="710.00" stroke="#8a8a8a" stroke-width="1.0" stroke-dasharray="2,4"/>
<line x1="989.50" y1="531.00" x2="989.50" y2="790.00" stroke="#8a8a8a" stroke-width="1.0" stroke-dasharray="2,4"/>
<polyline points="689.5,750.0 689.9,750.5 690.2,751.2 690.6,751.5 690.9,752.2 691.3,751.5 691.6,752.3 692.0,753.0 692.3,752.6 692.7,752.7 693.0,750.5 693.4,748.6 693.7,745.7 694.1,743.2 694.4,740.0 694.8,735.7 695.1,734.1 695.5,732.6 695.8,731.6 696.2,729.5 696.5,726.4 696.9,724.3 697.2,719.9 697.6,715.7 697.9,708.7 698.3,700.1 698.6,690.0 699.0,675.0 699.3,658.1 699.7,641.4 700.0,627.4 700.4,622.1 700.7,629.7 701.1,643.8 701.4,661.1 701.8,676.4 702.1,690.5 702.5,700.7 702.8,709.3 703.2,715.8 703.5,720.4 703.9,724.8 704.2,728.2 704.6,731.2 704.9,733.6 705.3,736.0 705.6,738.0 706.0,739.6 706.3,743.4 706.7,745.5 707.0,747.4 707.4,749.6 707.7,750.4 708.1,750.2 708.4,749.9 708.8,749.8 709.1,748.7 709.5,749.7 709.8,748.6 710.2,749.6 710.5,750.1 710.9,749.6 711.2,751.0 711.6,751.0 711.9,751.8 712.3,751.5 712.6,751.8 713.0,752.1 713.3,753.0 713.7,751.9 714.0,752.2 714.4,752.0 714.7,751.5 715.1,750.2 715.4,749.8 715.8,749.5 716.1,749.6 716.5,748.6 716.8,749.4 717.2,749.7 717.5,750.1 717.9,751.0 718.2,750.5 718.6,751.3 718.9,752.1 719.3,752.8 719.6,752.3 720.0,753.0 720.3,752.4 720.7,751.8 721.0,751.4 721.4,750.7 721.7,750.1 722.1,749.6 722.4,749.9 722.8,749.9 723.1,748.7 723.5,748.6 723.8,749.9 724.2,749.6 724.5,749.9 724.9,750.2 725.2,751.1 725.6,751.9 725.9,751.9 726.3,752.2 726.6,751.9 727.0,753.0 727.3,751.8 727.7,751.5 728.0,749.7 728.4,746.3 728.7,744.2 729.1,741.2 729.4,737.3 729.8,735.0 730.1,732.6 730.5,731.2 730.8,729.0 731.2,727.6 731.5,724.2 731.9,720.9 732.2,717.0 732.6,710.8 732.9,703.0 733.3,691.8 733.6,678.3 734.0,662.0 734.3,643.5 734.7,627.5 735.0,619.8 735.4,623.2 735.7,636.7 736.1,654.7 736.4,671.5 736.8,685.4 737.1,696.7 737.5,705.6 737.8,712.4 738.2,718.4 738.5,723.7 738.9,727.7 739.2,730.3 739.6,733.5 739.9,735.8 740.3,737.5 740.6,739.2 741.0,742.6 741.3,744.8 741.7,747.3 742.0,748.5 742.4,750.1 742.7,750.9 743.1,750.3 743.4,749.4 743.8,749.8 744.1,749.3 744.5,749.2 744.8,748.7 745.2,749.6 745.5,749.7 745.9,750.7 746.2,751.0 746.6,751.9 746.9,752.2 747.3,752.7 747.6,752.3 748.0,752.7 748.3,752.6 748.7,752.4 749.0,751.4 749.4,751.5 749.7,751.0 750.1,750.3 750.4,750.2 750.8,749.9 751.1,749.1 751.5,749.2 751.8,748.9 752.2,750.0 752.5,750.3 752.9,751.1 753.2,751.7 753.6,752.1 753.9,751.8 754.3,752.8 754.6,752.6 755.0,752.6 755.3,752.0 755.7,751.9 756.0,751.6 756.4,750.9 756.7,750.5 757.1,749.2 757.4,749.0 757.8,749.1 758.1,749.3 758.5,748.9 758.8,749.7 759.2,750.0 759.5,749.8 759.9,750.8 760.2,751.1 760.6,751.3 760.9,751.8 761.3,752.2 761.6,752.1 762.0,752.0 762.3,751.6 762.7,750.0 763.0,747.4 763.4,745.0 763.7,741.9 764.1,738.1 764.4,735.9 764.8,733.3 765.1,732.1 765.5,730.2 765.8,728.3 766.2,725.4 766.5,723.2 766.9,718.6 767.2,712.8 767.6,706.4 767.9,696.4 768.3,684.6 768.6,669.1 769.0,652.0 769.3,635.9 769.7,625.4 770.0,625.3 770.4,636.4 770.7,652.3 771.1,668.7 771.4,683.1 771.8,695.5 772.1,704.8 772.5,712.7 772.8,718.6 773.2,723.0 773.5,726.7 773.9,730.6 774.2,732.3 774.6,734.8 774.9,737.2 775.3,738.8 775.6,741.2 776.0,744.6 776.3,747.1 776.7,748.2 777.0,749.7 777.4,750.4 777.7,750.0 778.1,750.3 778.4,749.2 778.8,749.7 779.1,749.6 779.5,749.3 779.8,749.2 780.2,750.4 780.5,750.3 780.9,750.8 781.2,751.2 781.6,752.4 781.9,752.2 782.3,752.2 782.6,752.5 783.0,751.9 783.3,752.3 783.7,751.7 784.0,751.0 784.4,751.1 784.7,750.6 785.1,749.2 785.4,749.4 785.8,748.9 786.1,749.6 786.5,749.5 786.8,749.2 787.2,749.6 787.5,751.3 787.9,751.0 788.2,751.9 788.6,752.1 788.9,752.6 789.3,752.6 789.6,752.7 790.0,751.8 790.3,752.2 790.7,751.2 791.0,750.9 791.4,750.2 791.7,749.6 792.1,749.5 792.4,749.2 792.8,748.9 793.1,749.5 793.5,749.5 793.8,749.2 794.2,749.9 794.5,750.7 794.9,751.8 795.2,752.2 795.6,752.2 795.9,751.8 796.3,752.8 796.6,752.4 797.0,752.3 797.3,750.9 797.7,748.4 798.0,745.5 798.4,743.1 798.7,739.1 799.1,735.4 799.4,734.4 799.8,732.0 800.1,730.3 800.5,729.0 800.8,725.6 801.2,723.5 801.5,719.5 801.9,714.1 802.2,707.2 802.6,698.8 802.9,687.2 803.3,671.4 803.6,654.3 804.0,636.7 804.3,623.6 804.7,620.4 805.0,628.5 805.4,644.6 805.7,662.3 806.1,677.2 806.4,690.4 806.8,701.4 807.1,709.6 807.5,715.9 807.8,720.3 808.2,725.5 808.5,729.4 808.9,732.4 809.2,734.5 809.6,735.8 809.9,738.4 810.3,740.2 810.6,743.7 811.0,746.4 811.3,748.1 811.7,748.9 812.0,750.4 812.4,750.8 812.7,749.4 813.1,749.6 813.4,749.1 813.8,748.7 814.1,749.3 814.5,748.8 814.8,749.3 815.2,750.1 815.5,750.2 815.9,750.7 816.2,751.8 816.6,752.4 816.9,752.8 817.3,752.1 817.6,752.4 818.0,752.0 818.3,752.0 818.7,751.4 819.0,751.4 819.4,750.2 819.7,749.3 820.1,749.7 820.4,748.8 820.8,749.3 821.1,749.2 821.5,749.9 821.8,749.8 822.2,750.3 822.5,751.2 822.9,751.3 823.2,752.3 823.6,752.4 823.9,752.0 824.3,752.2 824.6,752.1 825.0,752.3 825.3,751.2 825.7,751.3 826.0,750.7 826.4,749.5 826.7,749.8 827.1,748.8 827.4,748.7 827.8,749.2 828.1,749.0 828.5,750.1 828.8,750.0 829.2,750.4 829.5,751.5 829.9,751.0 830.2,752.3 830.6,751.8 830.9,752.1 831.3,753.0 831.6,752.5 832.0,750.9 832.3,748.5 832.7,747.0 833.0,743.7 833.4,740.7 833.7,736.4 834.1,734.8 834.4,732.9 834.8,731.0 835.1,729.2 835.5,727.3 835.8,724.2 836.2,720.8 836.5,715.8 836.9,710.6 837.2,702.2 837.6,691.7 837.9,677.5 838.3,661.4 838.6,643.2 839.0,628.6 839.3,622.4 839.7,627.8 840.0,641.3 840.4,658.0 840.7,674.1 841.1,687.9 841.4,698.6 841.8,708.2 842.1,714.5 842.5,720.3 842.8,723.8 843.2,728.1 843.5,731.7 843.9,734.0 844.2,735.9 844.6,737.6 844.9,739.2 845.3,742.4 845.6,744.9 846.0,747.2 846.3,748.8 846.7,750.8 847.0,750.1 847.4,749.7 847.7,749.3 848.1,748.9 848.4,748.9 848.8,748.8 849.1,749.3 849.5,749.1 849.8,750.6 850.2,750.4 850.5,751.6 850.9,751.8 851.2,752.2 851.6,752.3 851.9,753.0 852.3,752.0 852.6,752.5 853.0,751.7 853.3,751.7 853.7,751.3 854.0,750.1 854.4,749.6 854.7,749.0 855.1,748.9 855.4,748.6 855.8,749.0 856.1,749.9 856.5,749.5 856.8,750.4 857.2,750.7 857.5,751.7 857.9,752.2 858.2,751.9 858.6,752.1 858.9,752.7 859.3,752.9 859.6,752.3 860.0,751.6 860.3,751.7 860.7,750.1 861.0,749.6 861.4,750.0 861.7,749.2 862.1,748.6 862.4,749.2 862.8,749.8 863.1,749.5 863.5,749.7 863.8,749.9 864.2,750.4 864.5,751.9 864.9,751.9 865.2,752.8 865.6,751.9 865.9,752.2 866.3,751.8 866.6,751.7 867.0,749.1 867.3,746.9 867.7,744.2 868.0,741.0 868.4,737.2 868.7,734.4 869.1,733.9 869.4,731.3 869.8,729.9 870.1,727.6 870.5,725.1 870.8,721.2 871.2,717.2 871.5,711.2 871.9,704.2 872.2,694.6 872.6,681.2 872.9,665.4 873.3,646.7 873.6,630.2 874.0,621.6 874.3,623.6 874.7,635.7 875.0,652.4 875.4,669.6 875.7,684.3 876.1,696.2 876.4,704.8 876.8,712.3 877.1,718.6 877.5,722.6 877.8,726.5 878.2,730.0 878.5,732.5 878.9,735.6 879.2,737.5 879.6,738.4 879.9,741.5 880.3,744.1 880.6,746.5 881.0,748.0 881.3,749.9 881.7,750.7 882.0,749.8 882.4,749.2 882.7,749.6 883.1,748.6 883.4,748.7 883.8,749.0 884.1,749.4 884.5,749.4 884.8,750.3 885.2,750.7 885.5,751.8 885.9,752.0 886.2,752.7 886.6,752.6 886.9,752.8 887.3,752.5 887.6,752.0 888.0,752.1 888.3,751.4 888.7,751.2 889.0,750.4 889.4,749.9 889.7,749.1 890.1,749.5 890.4,749.0 890.8,748.8 891.1,749.0 891.5,750.0 891.8,751.0 892.2,751.1 892.5,751.3 892.9,752.5 893.2,752.5 893.6,751.9 893.9,751.9 894.3,751.7 894.6,751.6 895.0,751.8 895.3,751.3 895.7,750.4 896.0,749.5 896.4,749.3 896.7,749.0 897.1,748.9 897.4,748.6 897.8,749.5 898.1,750.2 898.5,750.5 898.8,750.3 899.2,751.4 899.5,751.4 899.9,752.4 900.2,752.4 900.6,753.0 900.9,752.8 901.3,751.7 901.6,750.1 902.0,748.4 902.3,745.1 902.7,742.1 903.0,738.7 903.4,735.6 903.7,734.3 904.1,732.2 904.4,730.9 904.8,728.4 905.1,725.3 905.5,723.0 905.8,718.5 906.2,712.8 906.5,706.9 906.9,696.4 907.2,684.9 907.6,669.5 907.9,652.2 908.3,634.3 908.6,622.2 909.0,620.9 909.3,630.5 909.7,647.1 910.0,664.2 910.4,680.1 910.7,692.1 911.1,702.2 911.4,709.9 911.8,717.1 912.1,722.0 912.5,726.2 912.8,729.4 913.2,732.0 913.5,734.2 913.9,737.0 914.2,738.1 914.6,740.4 914.9,743.5 915.3,745.7 915.6,748.3 916.0,750.0 916.3,750.4 916.7,750.6 917.0,749.6 917.4,749.6 917.7,749.6 918.1,749.2 918.4,749.5 918.8,749.3 919.1,749.2 919.5,750.3 919.8,750.9 920.2,750.9 920.5,751.7 920.9,752.0 921.2,751.8 921.6,752.3 921.9,752.3 922.3,752.1 922.6,752.0 923.0,751.2 923.3,751.4 923.7,750.7 924.0,750.3 924.4,749.7 924.7,749.4 925.1,749.1 925.4,749.5 925.8,749.3 926.1,749.9 926.5,750.7 926.8,750.9 927.2,751.2 927.5,751.6 927.9,752.2 928.2,752.6 928.6,752.8 928.9,752.5 929.3,751.7 929.6,752.0 930.0,750.7 930.3,750.7 930.7,749.4 931.0,749.8 931.4,749.4 931.7,749.7 932.1,749.6 932.4,749.6 932.8,750.1 933.1,750.4 933.5,750.8 933.8,750.8 934.2,751.7 934.5,752.6 934.9,752.1 935.2,753.1 935.6,752.5 935.9,752.1 936.3,750.3 936.6,748.5 937.0,745.6 937.3,743.3 937.7,740.4 938.0,736.8 938.4,734.6 938.7,732.7 939.1,730.7 939.4,729.4 939.8,726.9 940.1,724.3 940.5,720.2 940.8,716.0 941.2,708.9 941.5,700.5 941.9,689.4 942.2,675.7 942.6,659.1 942.9,640.6 943.3,627.4 943.6,623.0 944.0,629.0 944.3,643.5 944.7,661.2 945.0,677.3 945.4,690.5 945.7,700.8 946.1,708.7 946.4,715.3 946.8,720.7 947.1,725.5 947.5,728.4 947.8,731.4 948.2,734.3 948.5,736.8 948.9,737.6 949.2,739.6 949.6,742.8 949.9,745.7 950.3,747.7 950.6,748.8 951.0,750.1 951.3,750.5 951.7,750.1 952.0,749.7 952.4,749.5 952.7,748.6 953.1,749.1 953.4,749.7 953.8,750.2 954.1,749.9 954.5,751.1 954.8,751.4 955.2,752.2 955.5,751.8 955.9,752.6 956.2,752.9 956.6,752.4 956.9,751.8 957.3,751.6 957.6,751.1 958.0,750.5 958.3,750.0 958.7,750.1 959.0,749.0 959.4,749.5 959.7,749.4 960.1,749.5 960.4,749.7 960.8,749.9 961.1,751.0 961.5,751.2 961.8,752.1 962.2,751.5 962.5,751.8 962.9,752.0 963.2,752.1 963.6,752.2 963.9,752.0 964.3,751.8 964.6,751.4 965.0,750.1 965.3,749.9 965.7,749.7 966.0,749.2 966.4,748.7 966.7,749.2 967.1,749.1 967.4,749.8 967.8,750.0 968.1,751.1 968.5,751.6 968.8,751.0 969.2,752.3 969.5,752.6 969.9,752.2 970.2,752.0 970.6,752.3 970.9,751.4 971.3,749.6 971.6,747.3 972.0,743.9 972.3,740.6 972.7,737.4 973.0,735.2 973.4,733.8 973.7,731.8 974.1,729.7 974.4,727.5 974.8,725.5 975.1,721.8 975.5,716.8 975.8,711.5 976.2,703.5 976.5,693.8 976.9,680.0 977.2,664.1 977.6,646.3 977.9,631.4 978.3,624.5 978.6,627.5 979.0,640.1 979.3,657.5 979.7,672.8 980.0,687.0 980.4,698.6 980.7,706.4 981.1,714.3 981.4,719.4 981.8,723.5 982.1,727.5 982.5,731.0 982.8,733.5 983.2,735.8 983.5,737.1 983.9,739.0 984.2,743.1 984.6,745.0 984.9,747.1 985.3,748.3 985.6,749.9 986.0,751.1 986.3,750.3 986.7,749.6 987.0,748.8 987.4,749.0 987.7,749.4 988.1,749.2 988.4,749.7 988.8,750.5 989.1,750.7 989.5,751.2 989.8,751.0 990.2,751.4 990.5,752.6 990.9,752.4 991.2,752.9 991.6,752.7 991.9,752.5 992.3,751.5 992.6,751.7 993.0,750.9 993.3,750.5 993.7,749.2 994.0,749.6 994.4,749.0 994.7,749.7 995.1,749.9 995.4,749.2 995.8,750.1 996.1,750.8 996.5,751.1 996.8,752.1 997.2,751.8 997.5,752.0 997.9,752.4 998.2,751.9 998.6,752.0 998.9,752.2 999.3,751.7 999.6,750.4 1000.0,749.6 1000.3,750.1 1000.7,749.9 1001.0,749.3 1001.4,748.7 1001.7,748.9 1002.1,750.0 1002.4,750.4 1002.8,749.8 1003.1,750.5 1003.5,751.3 1003.8,751.6 1004.2,752.5 1004.5,752.3 1004.9,752.8 1005.2,752.0 1005.6,752.2 1005.9,750.6 1006.3,747.8 1006.6,744.3 1007.0,741.3 1007.3,738.5 1007.7,735.1 1008.0,733.5 1008.4,732.0 1008.7,730.3 1009.1,728.6 1009.4,725.2 1009.8,722.4 1010.1,717.9 1010.5,712.8 1010.8,705.8 1011.2,695.5 1011.5,683.4 1011.9,668.0 1012.2,649.5 1012.6,633.6 1012.9,622.6 1013.3,623.1 1013.6,634.1 1014.0,650.8 1014.3,666.9 1014.7,682.3 1015.0,693.9 1015.4,703.8 1015.7,711.3 1016.1,717.0 1016.4,722.2 1016.8,726.4 1017.1,730.0 1017.5,733.2 1017.8,734.9 1018.2,737.0 1018.5,738.7 1018.9,742.0 1019.2,744.8 1019.6,747.1 1019.9,748.1 1020.3,749.4 1020.6,751.2 1021.0,749.7 1021.3,749.7 1021.7,749.7 1022.0,749.2 1022.4,749.0 1022.7,749.7 1023.1,749.2 1023.4,749.9 1023.8,750.7 1024.1,750.4 1024.5,751.2 1024.8,751.9 1025.2,752.3 1025.5,752.1 1025.9,752.4 1026.2,751.9 1026.6,751.6 1026.9,751.5 1027.3,750.8 1027.6,751.3 1028.0,749.9 1028.3,749.5 1028.7,749.7 1029.0,749.5 1029.4,748.8 1029.7,749.6 1030.1,749.6 1030.4,749.7 1030.8,750.4 1031.1,751.0 1031.5,752.2 1031.8,752.1 1032.2,752.9 1032.5,752.1 1032.9,752.0 1033.2,751.7 1033.6,752.1 1033.9,751.5 1034.3,750.3 1034.6,749.8 1035.0,750.3 1035.3,749.5 1035.7,749.7 1036.0,748.5 1036.4,749.3 1036.7,748.9 1037.1,750.0 1037.4,750.3 1037.8,750.9 1038.1,750.9 1038.5,752.3 1038.8,751.7 1039.2,751.9 1039.5,752.7 1039.9,752.0 1040.2,751.7 1040.6,750.6 1040.9,748.5 1041.3,746.1 1041.6,742.9 1042.0,738.9 1042.3,735.9 1042.7,734.6 1043.0,732.1 1043.4,731.1 1043.7,728.5 1044.1,726.2 1044.4,722.9 1044.8,720.0 1045.1,714.7 1045.5,708.6 1045.8,699.2 1046.2,687.3 1046.5,672.8 1046.9,655.6 1047.2,639.0 1047.6,625.3 1047.9,622.2 1048.3,630.7 1048.6,645.7 1049.0,663.2 1049.3,679.0 1049.7,691.8 1050.0,701.4 1050.4,709.4 1050.7,716.2 1051.1,721.5 1051.4,725.5 1051.8,729.2 1052.1,732.5 1052.5,734.1 1052.8,736.2 1053.2,738.1 1053.5,740.7 1053.9,744.1 1054.2,746.0 1054.6,748.1 1054.9,749.3 1055.3,751.0 1055.6,750.8 1056.0,749.6 1056.3,749.0 1056.7,748.9 1057.0,748.9 1057.4,749.6 1057.7,749.1 1058.1,749.9 1058.4,750.4 1058.8,751.3 1059.1,750.8 1059.5,752.1 1059.8,751.9 1060.2,751.9 1060.5,752.7 1060.9,752.9 1061.2,752.3 1061.6,751.3 1061.9,752.0 1062.3,750.7 1062.6,750.5 1063.0,750.1 1063.3,749.2 1063.7,749.1 1064.0,748.9 1064.4,748.7 1064.7,748.9 1065.1,750.0 1065.4,751.0 1065.8,750.6 1066.1,751.4 1066.5,751.6 1066.8,752.9 1067.2,752.8 1067.5,752.9 1067.9,752.3 1068.2,751.5 1068.6,751.4 1068.9,750.7 1069.3,749.9 1069.6,750.1 1070.0,749.3 1070.3,748.8 1070.7,749.1 1071.0,749.6 1071.4,749.8 1071.7,749.6 1072.1,749.6 1072.4,750.9 1072.8,750.6 1073.1,751.7 1073.5,751.5 1073.8,752.9 1074.2,752.5 1074.5,752.4 1074.9,752.0 1075.2,751.3 1075.6,749.5 1075.9,746.3 1076.3,743.2 1076.6,740.3 1077.0,737.2 1077.3,734.4 1077.7,733.1 1078.0,731.7 1078.4,729.1 1078.7,727.4 1079.1,724.3 1079.4,720.3 1079.8,715.5 1080.1,710.4 1080.5,701.7 1080.8,690.8 1081.2,677.5 1081.5,660.4 1081.9,642.4 1082.2,627.3 1082.6,621.7 1082.9,626.3 1083.3,640.6 1083.6,658.1 1084.0,674.2 1084.3,687.4 1084.7,698.4 1085.0,707.6 1085.4,714.5 1085.7,719.3 1086.1,724.9 1086.4,727.6 1086.8,730.7 1087.1,733.2 1087.5,735.8 1087.8,737.8 1088.2,740.1 1088.5,742.4 1088.9,745.5 1089.2,746.9 1089.6,749.1 1089.9,750.0 1090.3,750.3 1090.6,749.5 1091.0,749.8 1091.3,748.8 1091.7,749.4 1092.0,748.9 1092.4,749.4 1092.7,749.8 1093.1,750.0 1093.4,751.0 1093.8,751.6 1094.1,751.3 1094.5,751.8 1094.8,752.8 1095.2,752.0 1095.5,752.4 1095.9,752.2 1096.2,752.5 1096.6,751.1 1096.9,751.2 1097.3,750.8 1097.6,750.3 1098.0,749.0 1098.3,749.8 1098.7,748.9 1099.0,749.6 1099.4,749.5 1099.7,749.5 1100.1,750.6 1100.4,750.8 1100.8,751.7 1101.1,751.9 1101.5,752.5 1101.8,752.6 1102.2,752.8 1102.5,752.0 1102.9,752.1 1103.2,751.1 1103.6,751.5 1103.9,751.0 1104.3,750.5 1104.6,749.1 1105.0,749.4 1105.3,749.1 1105.7,748.7 1106.0,748.9 1106.4,750.1 1106.7,750.4 1107.1,750.1 1107.4,751.3 1107.8,751.6 1108.1,751.8 1108.4,752.4 1108.8,752.1 1109.1,752.2 1109.5,751.8 1109.8,752.0 1110.2,749.8 1110.5,747.5 1110.9,744.4 1111.2,741.3 1111.6,737.7 1111.9,735.4 1112.3,733.5 1112.6,732.1 1113.0,730.4 1113.3,727.9 1113.7,725.7 1114.0,721.7 1114.4,717.7 1114.7,712.8 1115.1,704.5 1115.4,694.6 1115.8,681.8 1116.1,666.9 1116.5,648.5 1116.8,632.9 1117.2,623.9 1117.5,626.3 1117.9,637.7 1118.2,654.3 1118.6,670.3 1118.9,685.5 1119.3,697.0 1119.6,705.9 1120.0,713.4 1120.3,718.8 1120.7,723.7 1121.0,727.7 1121.4,730.7 1121.7,732.7 1122.1,736.0 1122.4,737.9 1122.8,738.4 1123.1,741.5 1123.5,744.5 1123.8,746.4 1124.2,748.4 1124.5,749.5 1124.9,750.3 1125.2,749.5 1125.6,749.6 1125.9,749.1 1126.3,749.4 1126.6,749.0 1127.0,748.8 1127.3,750.1 1127.7,750.4 1128.0,750.6 1128.4,750.6 1128.7,751.4 1129.1,751.9 1129.4,752.1 1129.8,751.9 1130.1,752.4 1130.5,752.7 1130.8,752.3 1131.2,752.1 1131.5,751.4 1131.9,751.0 1132.2,750.6 1132.6,750.2 1132.9,749.7 1133.3,749.0 1133.6,749.3 1134.0,749.4 1134.3,750.0 1134.7,750.2 1135.0,750.4 1135.4,751.1 1135.7,751.5 1136.1,752.4 1136.4,752.7 1136.8,752.1 1137.1,752.5 1137.5,752.6 1137.8,751.6 1138.2,750.8 1138.5,750.9 1138.9,750.1 1139.2,749.4 1139.6,749.2 1139.9,748.6 1140.3,748.7 1140.6,749.1 1141.0,749.0 1141.3,749.2 1141.7,750.3 1142.0,751.3 1142.4,751.7 1142.7,751.6 1143.1,752.7 1143.4,751.9 1143.8,752.1 1144.1,751.8 1144.5,751.6 1144.8,750.4 1145.2,748.2 1145.5,745.2 1145.9,742.6 1146.2,738.8 1146.6,736.0 1146.9,734.1 1147.3,732.4 1147.6,730.2 1148.0,728.5 1148.3,726.1 1148.7,723.5 1149.0,718.8 1149.4,713.7 1149.7,707.5 1150.1,697.5 1150.4,686.1 1150.8,670.7 1151.1,653.8 1151.5,636.7 1151.8,624.4 1152.2,623.9 1152.5,633.0 1152.9,648.7 1153.2,666.4 1153.6,681.4 1153.9,693.2 1154.3,703.4 1154.6,710.5 1155.0,717.1 1155.3,721.5 1155.7,726.3 1156.0,730.1 1156.4,732.6 1156.7,734.3 1157.1,736.8 1157.4,738.3 1157.8,741.1 1158.1,743.6 1158.5,746.0 1158.8,748.0 1159.2,749.1 1159.5,751.0 1159.9,750.0 1160.2,749.5 1160.6,748.9 1160.9,748.9 1161.3,749.6 1161.6,748.9 1162.0,748.9 1162.3,749.6 1162.7,750.8 1163.0,750.3 1163.4,751.1 1163.7,751.5 1164.1,752.4 1164.4,752.4 1164.8,752.0 1165.1,752.9 1165.5,752.0 1165.8,752.0 1166.2,751.3 1166.5,751.2 1166.9,749.7 1167.2,749.5 1167.6,749.2 1167.9,748.9 1168.3,749.5 1168.6,749.2 1169.0,749.2 1169.3,749.8 1169.7,750.7 1170.0,751.1 1170.4,751.9 1170.7,752.2 1171.1,752.2 1171.4,752.4 1171.8,752.0 1172.1,752.2 1172.5,752.4 1172.8,751.2 1173.2,750.8 1173.5,750.5 1173.9,750.0 1174.2,749.1 1174.6,749.2 1174.9,749.4 1175.3,748.6 1175.6,748.9 1176.0,750.0 1176.3,750.6 1176.7,750.1 1177.0,750.7 1177.4,751.8 1177.7,751.8 1178.1,752.6 1178.4,751.9 1178.8,752.4 1179.1,751.9 1179.5,750.7 1179.8,748.9 1180.2,746.1 1180.5,743.6 1180.9,740.3 1181.2,736.5 1181.6,734.9 1181.9,732.5 1182.3,731.2 1182.6,729.1 1183.0,727.1 1183.3,723.7 1183.7,721.0 1184.0,715.6 1184.4,709.8 1184.7,701.6 1185.1,690.6 1185.4,675.8 1185.8,659.6 1186.1,642.3 1186.5,627.5 1186.8,623.7 1187.2,630.3 1187.5,644.5 1187.9,661.3 1188.2,676.9 1188.6,690.3 1188.9,701.4 1189.3,708.9 1189.6,715.3 1190.0,721.0 1190.3,725.1 1190.7,728.9 1191.0,731.7 1191.4,734.0 1191.7,735.8 1192.1,738.4 1192.4,740.5 1192.8,743.0 1193.1,745.7 1193.5,747.7 1193.8,749.2 1194.2,751.0 1194.5,750.8 1194.9,749.7 1195.2,749.3 1195.6,749.4 1195.9,748.7 1196.3,749.7 1196.6,748.8 1197.0,749.7 1197.3,749.9 1197.7,750.7 1198.0,750.6 1198.4,751.3 1198.7,752.7 1199.1,752.7 1199.4,752.2 1199.8,752.4 1200.1,751.7 1200.5,751.5 1200.8,751.1 1201.2,751.5 1201.5,750.2 1201.9,749.6 1202.2,749.0 1202.6,748.8 1202.9,749.7 1203.3,749.4 1203.6,749.8 1204.0,750.1 1204.3,750.2 1204.7,750.6 1205.0,751.3 1205.4,751.5 1205.7,751.9 1206.1,752.7 1206.4,752.5 1206.8,751.7 1207.1,751.8 1207.5,752.0 1207.8,751.5 1208.2,750.8 1208.5,750.3 1208.9,750.1 1209.2,749.4 1209.6,749.0 1209.9,749.2 1210.3,749.0 1210.6,749.0 1211.0,749.7 1211.3,750.4 1211.7,750.6 1212.0,751.0 1212.4,751.7 1212.7,752.1 1213.1,753.0 1213.4,752.5 1213.8,752.7 1214.1,751.8 1214.5,749.4 1214.8,746.6 1215.2,743.9 1215.5,740.6 1215.9,737.5 1216.2,735.3 1216.6,733.7 1216.9,731.4 1217.3,729.4 1217.6,727.0 1218.0,725.1 1218.3,721.3 1218.7,716.6 1219.0,711.1 1219.4,703.3 1219.7,693.0 1220.1,680.3 1220.4,664.1 1220.8,646.0 1221.1,631.1 1221.5,622.9 1221.8,627.4 1222.2,639.3 1222.5,656.7 1222.9,673.2 1223.2,687.1 1223.6,698.0 1223.9,707.3 1224.3,713.9 1224.6,719.6 1225.0,723.5 1225.3,727.4 1225.7,730.9 1226.0,733.6 1226.4,735.3 1226.7,737.8 1227.1,739.1 1227.4,742.4 1227.8,745.1 1228.1,747.5 1228.5,748.5 1228.8,750.2 1229.2,750.7 1229.5,750.2 1229.9,749.4 1230.2,749.0 1230.6,749.1 1230.9,749.2 1231.3,749.4 1231.6,749.1 1232.0,749.9 1232.3,750.6 1232.7,750.7 1233.0,751.1 1233.4,752.5 1233.7,751.7 1234.1,752.5 1234.4,752.2 1234.8,751.8 1235.1,751.8 1235.5,751.2 1235.8,751.0 1236.2,751.1 1236.5,749.6 1236.9,749.4 1237.2,749.5 1237.6,749.3 1237.9,748.5 1238.3,748.9 1238.6,749.3 1239.0,750.3 1239.3,750.6 1239.7,751.4 1240.0,751.8 1240.4,751.8 1240.7,752.6 1241.1,752.8 1241.4,752.4 1241.8,752.2 1242.1,752.1 1242.5,751.8 1242.8,750.9 1243.2,749.7 1243.5,749.7 1243.9,749.6 1244.2,749.0 1244.6,749.3 1244.9,749.0 1245.3,749.6 1245.6,750.0 1246.0,750.6 1246.3,751.4 1246.7,751.6 1247.0,752.1 1247.4,752.5 1247.7,752.1 1248.1,752.6 1248.4,752.5 1248.8,751.6 1249.1,750.3 1249.5,747.2 1249.8,744.8 1250.2,741.8 1250.5,738.7 1250.9,735.7 1251.2,733.8 1251.6,732.8 1251.9,730.4 1252.3,728.5 1252.6,726.5 1253.0,722.5 1253.3,719.0 1253.7,713.9 1254.0,705.7 1254.4,697.1 1254.7,684.7 1255.1,669.2 1255.4,652.1 1255.8,635.6 1256.1,624.4 1256.5,625.2 1256.8,636.0 1257.2,652.3 1257.5,669.3 1257.9,683.8 1258.2,695.7 1258.6,704.1 1258.9,712.0 1259.3,718.5 1259.6,723.4 1260.0,727.1 1260.3,729.9 1260.7,733.2 1261.0,735.3 1261.4,737.3 1261.7,738.8 1262.1,742.1 1262.4,744.6 1262.8,747.2 1263.1,748.3 1263.5,749.8 1263.8,750.9 1264.2,750.3 1264.5,749.2 1264.9,749.9 1265.2,748.9 1265.6,749.1 1265.9,748.7 1266.3,749.1 1266.6,750.4 1267.0,750.1 1267.3,750.6 1267.7,751.8 1268.0,751.5 1268.4,752.4 1268.7,752.5 1269.1,753.0 1269.4,752.4 1269.8,751.9 1270.1,751.4 1270.5,751.1 1270.8,750.1 1271.2,749.7 1271.5,749.3 1271.9,749.2 1272.2,749.5 1272.6,749.6 1272.9,749.0 1273.3,749.2 1273.6,749.6 1274.0,750.7 1274.3,750.8 1274.7,751.8 1275.0,751.9 1275.4,752.0 1275.7,752.8 1276.1,752.0 1276.4,752.1 1276.8,752.2 1277.1,751.4 1277.5,751.3 1277.8,750.1 1278.2,750.4 1278.5,748.9 1278.9,749.7 1279.2,749.0 1279.6,748.6 1279.9,749.1 1280.3,750.3 1280.6,750.5 1281.0,751.0 1281.3,751.6 1281.7,751.1 1282.0,751.9 1282.4,752.4 1282.7,753.0 1283.1,752.9 1283.4,751.8 1283.8,751.2 1284.1,748.3 1284.5,745.4 1284.8,742.2 1285.2,739.3 1285.5,735.7 1285.9,734.1 1286.2,732.4 1286.6,731.4 1286.9,728.8 1287.3,726.2 1287.6,723.8 1288.0,719.4 1288.3,714.6 1288.7,707.6 1289.0,699.0 1289.4,688.3 1289.7,673.2 1290.1,655.9 1290.4,638.7 1290.8,625.9 1291.1,622.7 1291.5,630.7 1291.8,645.8" fill="none" stroke="#d0d0f2" stroke-width="3.6" stroke-linejoin="round"/>
<polyline points="689.5,750.0 689.9,750.5 690.2,751.2 690.6,751.5 690.9,752.2 691.3,751.5 691.6,752.3 692.0,753.0 692.3,752.6 692.7,752.7 693.0,750.5 693.4,748.6 693.7,745.7 694.1,743.2 694.4,740.0 694.8,735.7 695.1,734.1 695.5,732.6 695.8,731.6 696.2,729.5 696.5,726.4 696.9,724.3 697.2,719.9 697.6,715.7 697.9,708.7 698.3,700.1 698.6,690.0 699.0,675.0 699.3,658.1 699.7,641.4 700.0,627.4 700.4,622.1 700.7,629.7 701.1,643.8 701.4,661.1 701.8,676.4 702.1,690.5 702.5,700.7 702.8,709.3 703.2,715.8 703.5,720.4 703.9,724.8 704.2,728.2 704.6,731.2 704.9,733.6 705.3,736.0 705.6,738.0 706.0,739.6 706.3,743.4 706.7,745.5 707.0,747.4 707.4,749.6 707.7,750.4 708.1,750.2 708.4,749.9 708.8,749.8 709.1,748.7 709.5,749.7 709.8,748.6 710.2,749.6 710.5,750.1 710.9,749.6 711.2,751.0 711.6,751.0 711.9,751.8 712.3,751.5 712.6,751.8 713.0,752.1 713.3,753.0 713.7,751.9 714.0,752.2 714.4,752.0 714.7,751.5 715.1,750.2 715.4,749.8 715.8,749.5 716.1,749.6 716.5,748.6 716.8,749.4 717.2,749.7 717.5,750.1 717.9,751.0 718.2,750.5 718.6,751.3 718.9,752.1 719.3,752.8 719.6,752.3 720.0,753.0 720.3,752.4 720.7,751.8 721.0,751.4 721.4,750.7 721.7,750.1 722.1,749.6 722.4,749.9 722.8,749.9 723.1,748.7 723.5,748.6 723.8,749.9 724.2,749.6 724.5,749.9 724.9,750.2 725.2,751.1 725.6,751.9 725.9,751.9 726.3,752.2 726.6,751.9 727.0,753.0 727.3,751.8 727.7,751.5 728.0,749.7 728.4,746.3 728.7,744.2 729.1,741.2 729.4,737.3 729.8,735.0 730.1,732.6 730.5,731.2 730.8,729.0 731.2,727.6 731.5,724.2 731.9,720.9 732.2,717.0 732.6,710.8 732.9,703.0 733.3,691.8 733.6,678.3 734.0,662.0 734.3,643.5 734.7,627.5 735.0,619.8 735.4,623.2 735.7,636.7 736.1,654.7 736.4,671.5 736.8,685.4 737.1,696.7 737.5,705.6 737.8,712.4 738.2,718.4 738.5,723.7 738.9,727.7 739.2,730.3 739.6,733.5 739.9,735.8 740.3,737.5 740.6,739.2 741.0,742.6 741.3,744.8 741.7,747.3 742.0,748.5 742.4,750.1 742.7,750.9 743.1,750.3 743.4,749.4 743.8,749.8 744.1,749.3 744.5,749.2 744.8,748.7 745.2,749.6 745.5,749.7 745.9,750.7 746.2,751.0 746.6,751.9 746.9,752.2 747.3,752.7 747.6,752.3 748.0,752.7 748.3,752.6 748.7,752.4 749.0,751.4 749.4,751.5 749.7,751.0 750.1,750.3 750.4,750.2 750.8,749.9 751.1,749.1 751.5,749.2 751.8,748.9 752.2,750.0 752.5,750.3 752.9,751.1 753.2,751.7 753.6,752.1 753.9,751.8 754.3,752.8 754.6,752.6 755.0,752.6 755.3,752.0 755.7,751.9 756.0,751.6 756.4,750.9 756.7,750.5 757.1,749.2 757.4,749.0 757.8,749.1 758.1,749.3 758.5,748.9 758.8,749.7 759.2,750.0 759.5,749.8 759.9,750.8 760.2,751.1 760.6,751.3 760.9,751.8 761.3,752.2 761.6,752.1 762.0,752.0 762.3,751.6 762.7,750.0 763.0,747.4 763.4,745.0 763.7,741.9 764.1,738.1 764.4,735.9 764.8,733.3 765.1,732.1 765.5,730.2 765.8,728.3 766.2,725.4 766.5,723.2 766.9,718.6 767.2,712.8 767.6,706.4 767.9,696.4 768.3,684.6 768.6,669.1 769.0,652.0 769.3,635.9 769.7,625.4 770.0,625.3 770.4,636.4 770.7,652.3 771.1,668.7 771.4,683.1 771.8,695.5 772.1,704.8 772.5,712.7 772.8,718.6 773.2,723.0 773.5,726.7 773.9,730.6 774.2,732.3 774.6,734.8 774.9,737.2 775.3,738.8 775.6,741.2 776.0,744.6 776.3,747.1 776.7,748.2 777.0,749.7 777.4,750.4 777.7,750.0 778.1,750.3 778.4,749.2 778.8,749.7 779.1,749.6 779.5,749.3 779.8,749.2 780.2,750.4 780.5,750.3 780.9,750.8 781.2,751.2 781.6,752.4 781.9,752.2 782.3,752.2 782.6,752.5 783.0,751.9 783.3,752.3 783.7,751.7 784.0,751.0 784.4,751.1 784.7,750.6 785.1,749.2 785.4,749.4 785.8,748.9 786.1,749.6 786.5,749.5 786.8,749.2 787.2,749.6 787.5,751.3 787.9,751.0 788.2,751.9 788.6,752.1 788.9,752.6 789.3,752.6 789.6,752.7 790.0,751.8 790.3,752.2 790.7,751.2 791.0,750.9 791.4,750.2 791.7,749.6 792.1,749.5 792.4,749.2 792.8,748.9 793.1,749.5 793.5,749.5 793.8,749.2 794.2,749.9 794.5,750.7 794.9,751.8 795.2,752.2 795.6,752.2 795.9,751.8 796.3,752.8 796.6,752.4 797.0,752.3 797.3,750.9 797.7,748.4 798.0,745.5 798.4,743.1 798.7,739.1 799.1,735.4 799.4,734.4 799.8,732.0 800.1,730.3 800.5,729.0 800.8,725.6 801.2,723.5 801.5,719.5 801.9,714.1 802.2,707.2 802.6,698.8 802.9,687.2 803.3,671.4 803.6,654.3 804.0,636.7 804.3,623.6 804.7,620.4 805.0,628.5 805.4,644.6 805.7,662.3 806.1,677.2 806.4,690.4 806.8,701.4 807.1,709.6 807.5,715.9 807.8,720.3 808.2,725.5 808.5,729.4 808.9,732.4 809.2,734.5 809.6,735.8 809.9,738.4 810.3,740.2 810.6,743.7 811.0,746.4 811.3,748.1 811.7,748.9 812.0,750.4 812.4,750.8 812.7,749.4 813.1,749.6 813.4,749.1 813.8,748.7 814.1,749.3 814.5,748.8 814.8,749.3 815.2,750.1 815.5,750.2 815.9,750.7 816.2,751.8 816.6,752.4 816.9,752.8 817.3,752.1 817.6,752.4 818.0,752.0 818.3,752.0 818.7,751.4 819.0,751.4 819.4,750.2 819.7,749.3 820.1,749.7 820.4,748.8 820.8,749.3 821.1,749.2 821.5,749.9 821.8,749.8 822.2,750.3 822.5,751.2 822.9,751.3 823.2,752.3 823.6,752.4 823.9,752.0 824.3,752.2 824.6,752.1 825.0,752.3 825.3,751.2 825.7,751.3 826.0,750.7 826.4,749.5 826.7,749.8 827.1,748.8 827.4,748.7 827.8,749.2 828.1,749.0 828.5,750.1 828.8,750.0 829.2,750.4 829.5,751.5 829.9,751.0 830.2,752.3 830.6,751.8 830.9,752.1 831.3,753.0 831.6,752.5 832.0,750.9 832.3,748.5 832.7,747.0 833.0,743.7 833.4,740.7 833.7,736.4 834.1,734.8 834.4,732.9 834.8,731.0 835.1,729.2 835.5,727.3 835.8,724.2 836.2,720.8 836.5,715.8 836.9,710.6 837.2,702.2 837.6,691.7 837.9,677.5 838.3,661.4 838.6,643.2 839.0,628.6 839.3,622.4 839.7,627.8 840.0,641.3 840.4,658.0 840.7,674.1 841.1,687.9 841.4,698.6 841.8,708.2 842.1,714.5 842.5,720.3 842.8,723.8 843.2,728.1 843.5,731.7 843.9,734.0 844.2,735.9 844.6,737.6 844.9,739.2 845.3,742.4 845.6,744.9 846.0,747.2 846.3,748.8 846.7,750.8 847.0,750.1 847.4,749.7 847.7,749.3 848.1,748.9 848.4,748.9 848.8,748.8 849.1,749.3 849.5,749.1 849.8,750.6 850.2,750.4 850.5,751.6 850.9,751.8 851.2,752.2 851.6,752.3 851.9,753.0 852.3,752.0 852.6,752.5 853.0,751.7 853.3,751.7 853.7,751.3 854.0,750.1 854.4,749.6 854.7,749.0 855.1,748.9 855.4,748.6 855.8,749.0 856.1,749.9 856.5,749.5 856.8,750.4 857.2,750.7 857.5,751.7 857.9,752.2 858.2,751.9 858.6,752.1 858.9,752.7 859.3,752.9 859.6,752.3 860.0,751.6 860.3,751.7 860.7,750.1 861.0,749.6 861.4,750.0 861.7,749.2 862.1,748.6 862.4,749.2 862.8,749.8 863.1,749.5 863.5,749.7 863.8,749.9 864.2,750.4 864.5,751.9 864.9,751.9 865.2,752.8 865.6,751.9 865.9,752.2 866.3,751.8 866.6,751.7 867.0,749.1 867.3,746.9 867.7,744.2 868.0,741.0 868.4,737.2 868.7,734.4 869.1,733.9 869.4,731.3 869.8,729.9 870.1,727.6 870.5,725.1 870.8,721.2 871.2,717.2 871.5,711.2 871.9,704.2 872.2,694.6 872.6,681.2 872.9,665.4 873.3,646.7 873.6,630.2 874.0,621.6 874.3,623.6 874.7,635.7 875.0,652.4 875.4,669.6 875.7,684.3 876.1,696.2 876.4,704.8 876.8,712.3 877.1,718.6 877.5,722.6 877.8,726.5 878.2,730.0 878.5,732.5 878.9,735.6 879.2,737.5 879.6,738.4 879.9,741.5 880.3,744.1 880.6,746.5 881.0,748.0 881.3,749.9 881.7,750.7 882.0,749.8 882.4,749.2 882.7,749.6 883.1,748.6 883.4,748.7 883.8,749.0 884.1,749.4 884.5,749.4 884.8,750.3 885.2,750.7 885.5,751.8 885.9,752.0 886.2,752.7 886.6,752.6 886.9,752.8 887.3,752.5 887.6,752.0 888.0,752.1 888.3,751.4 888.7,751.2 889.0,750.4 889.4,749.9 889.7,749.1 890.1,749.5 890.4,749.0 890.8,748.8 891.1,749.0 891.5,750.0 891.8,751.0 892.2,751.1 892.5,751.3 892.9,752.5 893.2,752.5 893.6,751.9 893.9,751.9 894.3,751.7 894.6,751.6 895.0,751.8 895.3,751.3 895.7,750.4 896.0,749.5 896.4,749.3 896.7,749.0 897.1,748.9 897.4,748.6 897.8,749.5 898.1,750.2 898.5,750.5 898.8,750.3 899.2,751.4 899.5,751.4 899.9,752.4 900.2,752.4 900.6,753.0 900.9,752.8 901.3,751.7 901.6,750.1 902.0,748.4 902.3,745.1 902.7,742.1 903.0,738.7 903.4,735.6 903.7,734.3 904.1,732.2 904.4,730.9 904.8,728.4 905.1,725.3 905.5,723.0 905.8,718.5 906.2,712.8 906.5,706.9 906.9,696.4 907.2,684.9 907.6,669.5 907.9,652.2 908.3,634.3 908.6,622.2 909.0,620.9 909.3,630.5 909.7,647.1 910.0,664.2 910.4,680.1 910.7,692.1 911.1,702.2 911.4,709.9 911.8,717.1 912.1,722.0 912.5,726.2 912.8,729.4 913.2,732.0 913.5,734.2 913.9,737.0 914.2,738.1 914.6,740.4 914.9,743.5 915.3,745.7 915.6,748.3 916.0,750.0 916.3,750.4 916.7,750.6 917.0,749.6 917.4,749.6 917.7,749.6 918.1,749.2 918.4,749.5 918.8,749.3 919.1,749.2 919.5,750.3 919.8,750.9 920.2,750.9 920.5,751.7 920.9,752.0 921.2,751.8 921.6,752.3 921.9,752.3 922.3,752.1 922.6,752.0 923.0,751.2 923.3,751.4 923.7,750.7 924.0,750.3 924.4,749.7 924.7,749.4 925.1,749.1 925.4,749.5 925.8,749.3 926.1,749.9 926.5,750.7 926.8,750.9 927.2,751.2 927.5,751.6 927.9,752.2 928.2,752.6 928.6,752.8 928.9,752.5 929.3,751.7 929.6,752.0 930.0,750.7 930.3,750.7 930.7,749.4 931.0,749.8 931.4,749.4 931.7,749.7 932.1,749.6 932.4,749.6 932.8,750.1 933.1,750.4 933.5,750.8 933.8,750.8 934.2,751.7 934.5,752.6 934.9,752.1 935.2,753.1 935.6,752.5 935.9,752.1 936.3,750.3 936.6,748.5 937.0,745.6 937.3,743.3 937.7,740.4 938.0,736.8 938.4,734.6 938.7,732.7 939.1,730.7 939.4,729.4 939.8,726.9 940.1,724.3 940.5,720.2 940.8,716.0 941.2,708.9 941.5,700.5 941.9,689.4 942.2,675.7 942.6,659.1 942.9,640.6 943.3,627.4 943.6,623.0 944.0,629.0 944.3,643.5 944.7,661.2 945.0,677.3 945.4,690.5 945.7,700.8 946.1,708.7 946.4,715.3 946.8,720.7 947.1,725.5 947.5,728.4 947.8,731.4 948.2,734.3 948.5,736.8 948.9,737.6 949.2,739.6 949.6,742.8 949.9,745.7 950.3,747.7 950.6,748.8 951.0,750.1 951.3,750.5 951.7,750.1 952.0,749.7 952.4,749.5 952.7,748.6 953.1,749.1 953.4,749.7 953.8,750.2 954.1,749.9 954.5,751.1 954.8,751.4 955.2,752.2 955.5,751.8 955.9,752.6 956.2,752.9 956.6,752.4 956.9,751.8 957.3,751.6 957.6,751.1 958.0,750.5 958.3,750.0 958.7,750.1 959.0,749.0 959.4,749.5 959.7,749.4 960.1,749.5 960.4,749.7 960.8,749.9 961.1,751.0 961.5,751.2 961.8,752.1 962.2,751.5 962.5,751.8 962.9,752.0 963.2,752.1 963.6,752.2 963.9,752.0 964.3,751.8 964.6,751.4 965.0,750.1 965.3,749.9 965.7,749.7 966.0,749.2 966.4,748.7 966.7,749.2 967.1,749.1 967.4,749.8 967.8,750.0 968.1,751.1 968.5,751.6 968.8,751.0 969.2,752.3 969.5,752.6 969.9,752.2 970.2,752.0 970.6,752.3 970.9,751.4 971.3,749.6 971.6,747.3 972.0,743.9 972.3,740.6 972.7,737.4 973.0,735.2 973.4,733.8 973.7,731.8 974.1,729.7 974.4,727.5 974.8,725.5 975.1,721.8 975.5,716.8 975.8,711.5 976.2,703.5 976.5,693.8 976.9,680.0 977.2,664.1 977.6,646.3 977.9,631.4 978.3,624.5 978.6,627.5 979.0,640.1 979.3,657.5 979.7,672.8 980.0,687.0 980.4,698.6 980.7,706.4 981.1,714.3 981.4,719.4 981.8,723.5 982.1,727.5 982.5,731.0 982.8,733.5 983.2,735.8 983.5,737.1 983.9,739.0 984.2,743.1 984.6,745.0 984.9,747.1 985.3,748.3 985.6,749.9 986.0,751.1 986.3,750.3 986.7,749.6 987.0,748.8 987.4,749.0 987.7,749.4 988.1,749.2 988.4,749.7 988.8,750.5 989.1,750.7 989.5,751.2 989.8,751.0 990.2,751.4 990.5,752.6 990.9,752.4 991.2,752.9 991.6,752.7 991.9,752.5 992.3,751.5 992.6,751.7 993.0,750.9 993.3,750.5 993.7,749.2 994.0,749.6 994.4,749.0 994.7,749.7 995.1,749.9 995.4,749.2 995.8,750.1 996.1,750.8 996.5,751.1 996.8,752.1 997.2,751.8 997.5,752.0 997.9,752.4 998.2,751.9 998.6,752.0 998.9,752.2 999.3,751.7 999.6,750.4 1000.0,749.6 1000.3,750.1 1000.7,749.9 1001.0,749.3 1001.4,748.7 1001.7,748.9 1002.1,750.0 1002.4,750.4 1002.8,749.8 1003.1,750.5 1003.5,751.3 1003.8,751.6 1004.2,752.5 1004.5,752.3 1004.9,752.8 1005.2,752.0 1005.6,752.2 1005.9,750.6 1006.3,747.8 1006.6,744.3 1007.0,741.3 1007.3,738.5 1007.7,735.1 1008.0,733.5 1008.4,732.0 1008.7,730.3 1009.1,728.6 1009.4,725.2 1009.8,722.4 1010.1,717.9 1010.5,712.8 1010.8,705.8 1011.2,695.5 1011.5,683.4 1011.9,668.0 1012.2,649.5 1012.6,633.6 1012.9,622.6 1013.3,623.1 1013.6,634.1 1014.0,650.8 1014.3,666.9 1014.7,682.3 1015.0,693.9 1015.4,703.8 1015.7,711.3 1016.1,717.0 1016.4,722.2 1016.8,726.4 1017.1,730.0 1017.5,733.2 1017.8,734.9 1018.2,737.0 1018.5,738.7 1018.9,742.0 1019.2,744.8 1019.6,747.1 1019.9,748.1 1020.3,749.4 1020.6,751.2 1021.0,749.7 1021.3,749.7 1021.7,749.7 1022.0,749.2 1022.4,749.0 1022.7,749.7 1023.1,749.2 1023.4,749.9 1023.8,750.7 1024.1,750.4 1024.5,751.2 1024.8,751.9 1025.2,752.3 1025.5,752.1 1025.9,752.4 1026.2,751.9 1026.6,751.6 1026.9,751.5 1027.3,750.8 1027.6,751.3 1028.0,749.9 1028.3,749.5 1028.7,749.7 1029.0,749.5 1029.4,748.8 1029.7,749.6 1030.1,749.6 1030.4,749.7 1030.8,750.4 1031.1,751.0 1031.5,752.2 1031.8,752.1 1032.2,752.9 1032.5,752.1 1032.9,752.0 1033.2,751.7 1033.6,752.1 1033.9,751.5 1034.3,750.3 1034.6,749.8 1035.0,750.3 1035.3,749.5 1035.7,749.7 1036.0,748.5 1036.4,749.3 1036.7,748.9 1037.1,750.0 1037.4,750.3 1037.8,750.9 1038.1,750.9 1038.5,752.3 1038.8,751.7 1039.2,751.9 1039.5,752.7 1039.9,752.0 1040.2,751.7 1040.6,750.6 1040.9,748.5 1041.3,746.1 1041.6,742.9 1042.0,738.9 1042.3,735.9 1042.7,734.6 1043.0,732.1 1043.4,731.1 1043.7,728.5 1044.1,726.2 1044.4,722.9 1044.8,720.0 1045.1,714.7 1045.5,708.6 1045.8,699.2 1046.2,687.3 1046.5,672.8 1046.9,655.6 1047.2,639.0 1047.6,625.3 1047.9,622.2 1048.3,630.7 1048.6,645.7 1049.0,663.2 1049.3,679.0 1049.7,691.8 1050.0,701.4 1050.4,709.4 1050.7,716.2 1051.1,721.5 1051.4,725.5 1051.8,729.2 1052.1,732.5 1052.5,734.1 1052.8,736.2 1053.2,738.1 1053.5,740.7 1053.9,744.1 1054.2,746.0 1054.6,748.1 1054.9,749.3 1055.3,751.0 1055.6,750.8 1056.0,749.6 1056.3,749.0 1056.7,748.9 1057.0,748.9 1057.4,749.6 1057.7,749.1 1058.1,749.9 1058.4,750.4 1058.8,751.3 1059.1,750.8 1059.5,752.1 1059.8,751.9 1060.2,751.9 1060.5,752.7 1060.9,752.9 1061.2,752.3 1061.6,751.3 1061.9,752.0 1062.3,750.7 1062.6,750.5 1063.0,750.1 1063.3,749.2 1063.7,749.1 1064.0,748.9 1064.4,748.7 1064.7,748.9 1065.1,750.0 1065.4,751.0 1065.8,750.6 1066.1,751.4 1066.5,751.6 1066.8,752.9 1067.2,752.8 1067.5,752.9 1067.9,752.3 1068.2,751.5 1068.6,751.4 1068.9,750.7 1069.3,749.9 1069.6,750.1 1070.0,749.3 1070.3,748.8 1070.7,749.1 1071.0,749.6 1071.4,749.8 1071.7,749.6 1072.1,749.6 1072.4,750.9 1072.8,750.6 1073.1,751.7 1073.5,751.5 1073.8,752.9 1074.2,752.5 1074.5,752.4 1074.9,752.0 1075.2,751.3 1075.6,749.5 1075.9,746.3 1076.3,743.2 1076.6,740.3 1077.0,737.2 1077.3,734.4 1077.7,733.1 1078.0,731.7 1078.4,729.1 1078.7,727.4 1079.1,724.3 1079.4,720.3 1079.8,715.5 1080.1,710.4 1080.5,701.7 1080.8,690.8 1081.2,677.5 1081.5,660.4 1081.9,642.4 1082.2,627.3 1082.6,621.7 1082.9,626.3 1083.3,640.6 1083.6,658.1 1084.0,674.2 1084.3,687.4 1084.7,698.4 1085.0,707.6 1085.4,714.5 1085.7,719.3 1086.1,724.9 1086.4,727.6 1086.8,730.7 1087.1,733.2 1087.5,735.8 1087.8,737.8 1088.2,740.1 1088.5,742.4 1088.9,745.5 1089.2,746.9 1089.6,749.1 1089.9,750.0 1090.3,750.3 1090.6,749.5 1091.0,749.8 1091.3,748.8 1091.7,749.4 1092.0,748.9 1092.4,749.4 1092.7,749.8 1093.1,750.0 1093.4,751.0 1093.8,751.6 1094.1,751.3 1094.5,751.8 1094.8,752.8 1095.2,752.0 1095.5,752.4 1095.9,752.2 1096.2,752.5 1096.6,751.1 1096.9,751.2 1097.3,750.8 1097.6,750.3 1098.0,749.0 1098.3,749.8 1098.7,748.9 1099.0,749.6 1099.4,749.5 1099.7,749.5 1100.1,750.6 1100.4,750.8 1100.8,751.7 1101.1,751.9 1101.5,752.5 1101.8,752.6 1102.2,752.8 1102.5,752.0 1102.9,752.1 1103.2,751.1 1103.6,751.5 1103.9,751.0 1104.3,750.5 1104.6,749.1 1105.0,749.4 1105.3,749.1 1105.7,748.7 1106.0,748.9 1106.4,750.1 1106.7,750.4 1107.1,750.1 1107.4,751.3 1107.8,751.6 1108.1,751.8 1108.4,752.4 1108.8,752.1 1109.1,752.2 1109.5,751.8 1109.8,752.0 1110.2,749.8 1110.5,747.5 1110.9,744.4 1111.2,741.3 1111.6,737.7 1111.9,735.4 1112.3,733.5 1112.6,732.1 1113.0,730.4 1113.3,727.9 1113.7,725.7 1114.0,721.7 1114.4,717.7 1114.7,712.8 1115.1,704.5 1115.4,694.6 1115.8,681.8 1116.1,666.9 1116.5,648.5 1116.8,632.9 1117.2,623.9 1117.5,626.3 1117.9,637.7 1118.2,654.3 1118.6,670.3 1118.9,685.5 1119.3,697.0 1119.6,705.9 1120.0,713.4 1120.3,718.8 1120.7,723.7 1121.0,727.7 1121.4,730.7 1121.7,732.7 1122.1,736.0 1122.4,737.9 1122.8,738.4 1123.1,741.5 1123.5,744.5 1123.8,746.4 1124.2,748.4 1124.5,749.5 1124.9,750.3 1125.2,749.5 1125.6,749.6 1125.9,749.1 1126.3,749.4 1126.6,749.0 1127.0,748.8 1127.3,750.1 1127.7,750.4 1128.0,750.6 1128.4,750.6 1128.7,751.4 1129.1,751.9 1129.4,752.1 1129.8,751.9 1130.1,752.4 1130.5,752.7 1130.8,752.3 1131.2,752.1 1131.5,751.4 1131.9,751.0 1132.2,750.6 1132.6,750.2 1132.9,749.7 1133.3,749.0 1133.6,749.3 1134.0,749.4 1134.3,750.0 1134.7,750.2 1135.0,750.4 1135.4,751.1 1135.7,751.5 1136.1,752.4 1136.4,752.7 1136.8,752.1 1137.1,752.5 1137.5,752.6 1137.8,751.6 1138.2,750.8 1138.5,750.9 1138.9,750.1 1139.2,749.4 1139.6,749.2 1139.9,748.6 1140.3,748.7 1140.6,749.1 1141.0,749.0 1141.3,749.2 1141.7,750.3 1142.0,751.3 1142.4,751.7 1142.7,751.6 1143.1,752.7 1143.4,751.9 1143.8,752.1 1144.1,751.8 1144.5,751.6 1144.8,750.4 1145.2,748.2 1145.5,745.2 1145.9,742.6 1146.2,738.8 1146.6,736.0 1146.9,734.1 1147.3,732.4 1147.6,730.2 1148.0,728.5 1148.3,726.1 1148.7,723.5 1149.0,718.8 1149.4,713.7 1149.7,707.5 1150.1,697.5 1150.4,686.1 1150.8,670.7 1151.1,653.8 1151.5,636.7 1151.8,624.4 1152.2,623.9 1152.5,633.0 1152.9,648.7 1153.2,666.4 1153.6,681.4 1153.9,693.2 1154.3,703.4 1154.6,710.5 1155.0,717.1 1155.3,721.5 1155.7,726.3 1156.0,730.1 1156.4,732.6 1156.7,734.3 1157.1,736.8 1157.4,738.3 1157.8,741.1 1158.1,743.6 1158.5,746.0 1158.8,748.0 1159.2,749.1 1159.5,751.0 1159.9,750.0 1160.2,749.5 1160.6,748.9 1160.9,748.9 1161.3,749.6 1161.6,748.9 1162.0,748.9 1162.3,749.6 1162.7,750.8 1163.0,750.3 1163.4,751.1 1163.7,751.5 1164.1,752.4 1164.4,752.4 1164.8,752.0 1165.1,752.9 1165.5,752.0 1165.8,752.0 1166.2,751.3 1166.5,751.2 1166.9,749.7 1167.2,749.5 1167.6,749.2 1167.9,748.9 1168.3,749.5 1168.6,749.2 1169.0,749.2 1169.3,749.8 1169.7,750.7 1170.0,751.1 1170.4,751.9 1170.7,752.2 1171.1,752.2 1171.4,752.4 1171.8,752.0 1172.1,752.2 1172.5,752.4 1172.8,751.2 1173.2,750.8 1173.5,750.5 1173.9,750.0 1174.2,749.1 1174.6,749.2 1174.9,749.4 1175.3,748.6 1175.6,748.9 1176.0,750.0 1176.3,750.6 1176.7,750.1 1177.0,750.7 1177.4,751.8 1177.7,751.8 1178.1,752.6 1178.4,751.9 1178.8,752.4 1179.1,751.9 1179.5,750.7 1179.8,748.9 1180.2,746.1 1180.5,743.6 1180.9,740.3 1181.2,736.5 1181.6,734.9 1181.9,732.5 1182.3,731.2 1182.6,729.1 1183.0,727.1 1183.3,723.7 1183.7,721.0 1184.0,715.6 1184.4,709.8 1184.7,701.6 1185.1,690.6 1185.4,675.8 1185.8,659.6 1186.1,642.3 1186.5,627.5 1186.8,623.7 1187.2,630.3 1187.5,644.5 1187.9,661.3 1188.2,676.9 1188.6,690.3 1188.9,701.4 1189.3,708.9 1189.6,715.3 1190.0,721.0 1190.3,725.1 1190.7,728.9 1191.0,731.7 1191.4,734.0 1191.7,735.8 1192.1,738.4 1192.4,740.5 1192.8,743.0 1193.1,745.7 1193.5,747.7 1193.8,749.2 1194.2,751.0 1194.5,750.8 1194.9,749.7 1195.2,749.3 1195.6,749.4 1195.9,748.7 1196.3,749.7 1196.6,748.8 1197.0,749.7 1197.3,749.9 1197.7,750.7 1198.0,750.6 1198.4,751.3 1198.7,752.7 1199.1,752.7 1199.4,752.2 1199.8,752.4 1200.1,751.7 1200.5,751.5 1200.8,751.1 1201.2,751.5 1201.5,750.2 1201.9,749.6 1202.2,749.0 1202.6,748.8 1202.9,749.7 1203.3,749.4 1203.6,749.8 1204.0,750.1 1204.3,750.2 1204.7,750.6 1205.0,751.3 1205.4,751.5 1205.7,751.9 1206.1,752.7 1206.4,752.5 1206.8,751.7 1207.1,751.8 1207.5,752.0 1207.8,751.5 1208.2,750.8 1208.5,750.3 1208.9,750.1 1209.2,749.4 1209.6,749.0 1209.9,749.2 1210.3,749.0 1210.6,749.0 1211.0,749.7 1211.3,750.4 1211.7,750.6 1212.0,751.0 1212.4,751.7 1212.7,752.1 1213.1,753.0 1213.4,752.5 1213.8,752.7 1214.1,751.8 1214.5,749.4 1214.8,746.6 1215.2,743.9 1215.5,740.6 1215.9,737.5 1216.2,735.3 1216.6,733.7 1216.9,731.4 1217.3,729.4 1217.6,727.0 1218.0,725.1 1218.3,721.3 1218.7,716.6 1219.0,711.1 1219.4,703.3 1219.7,693.0 1220.1,680.3 1220.4,664.1 1220.8,646.0 1221.1,631.1 1221.5,622.9 1221.8,627.4 1222.2,639.3 1222.5,656.7 1222.9,673.2 1223.2,687.1 1223.6,698.0 1223.9,707.3 1224.3,713.9 1224.6,719.6 1225.0,723.5 1225.3,727.4 1225.7,730.9 1226.0,733.6 1226.4,735.3 1226.7,737.8 1227.1,739.1 1227.4,742.4 1227.8,745.1 1228.1,747.5 1228.5,748.5 1228.8,750.2 1229.2,750.7 1229.5,750.2 1229.9,749.4 1230.2,749.0 1230.6,749.1 1230.9,749.2 1231.3,749.4 1231.6,749.1 1232.0,749.9 1232.3,750.6 1232.7,750.7 1233.0,751.1 1233.4,752.5 1233.7,751.7 1234.1,752.5 1234.4,752.2 1234.8,751.8 1235.1,751.8 1235.5,751.2 1235.8,751.0 1236.2,751.1 1236.5,749.6 1236.9,749.4 1237.2,749.5 1237.6,749.3 1237.9,748.5 1238.3,748.9 1238.6,749.3 1239.0,750.3 1239.3,750.6 1239.7,751.4 1240.0,751.8 1240.4,751.8 1240.7,752.6 1241.1,752.8 1241.4,752.4 1241.8,752.2 1242.1,752.1 1242.5,751.8 1242.8,750.9 1243.2,749.7 1243.5,749.7 1243.9,749.6 1244.2,749.0 1244.6,749.3 1244.9,749.0 1245.3,749.6 1245.6,750.0 1246.0,750.6 1246.3,751.4 1246.7,751.6 1247.0,752.1 1247.4,752.5 1247.7,752.1 1248.1,752.6 1248.4,752.5 1248.8,751.6 1249.1,750.3 1249.5,747.2 1249.8,744.8 1250.2,741.8 1250.5,738.7 1250.9,735.7 1251.2,733.8 1251.6,732.8 1251.9,730.4 1252.3,728.5 1252.6,726.5 1253.0,722.5 1253.3,719.0 1253.7,713.9 1254.0,705.7 1254.4,697.1 1254.7,684.7 1255.1,669.2 1255.4,652.1 1255.8,635.6 1256.1,624.4 1256.5,625.2 1256.8,636.0 1257.2,652.3 1257.5,669.3 1257.9,683.8 1258.2,695.7 1258.6,704.1 1258.9,712.0 1259.3,718.5 1259.6,723.4 1260.0,727.1 1260.3,729.9 1260.7,733.2 1261.0,735.3 1261.4,737.3 1261.7,738.8 1262.1,742.1 1262.4,744.6 1262.8,747.2 1263.1,748.3 1263.5,749.8 1263.8,750.9 1264.2,750.3 1264.5,749.2 1264.9,749.9 1265.2,748.9 1265.6,749.1 1265.9,748.7 1266.3,749.1 1266.6,750.4 1267.0,750.1 1267.3,750.6 1267.7,751.8 1268.0,751.5 1268.4,752.4 1268.7,752.5 1269.1,753.0 1269.4,752.4 1269.8,751.9 1270.1,751.4 1270.5,751.1 1270.8,750.1 1271.2,749.7 1271.5,749.3 1271.9,749.2 1272.2,749.5 1272.6,749.6 1272.9,749.0 1273.3,749.2 1273.6,749.6 1274.0,750.7 1274.3,750.8 1274.7,751.8 1275.0,751.9 1275.4,752.0 1275.7,752.8 1276.1,752.0 1276.4,752.1 1276.8,752.2 1277.1,751.4 1277.5,751.3 1277.8,750.1 1278.2,750.4 1278.5,748.9 1278.9,749.7 1279.2,749.0 1279.6,748.6 1279.9,749.1 1280.3,750.3 1280.6,750.5 1281.0,751.0 1281.3,751.6 1281.7,751.1 1282.0,751.9 1282.4,752.4 1282.7,753.0 1283.1,752.9 1283.4,751.8 1283.8,751.2 1284.1,748.3 1284.5,745.4 1284.8,742.2 1285.2,739.3 1285.5,735.7 1285.9,734.1 1286.2,732.4 1286.6,731.4 1286.9,728.8 1287.3,726.2 1287.6,723.8 1288.0,719.4 1288.3,714.6 1288.7,707.6 1289.0,699.0 1289.4,688.3 1289.7,673.2 1290.1,655.9 1290.4,638.7 1290.8,625.9 1291.1,622.7 1291.5,630.7 1291.8,645.8" fill="none" stroke="#7272c8" stroke-width="1.2" stroke-linejoin="round"/>
<polygon points="1007.5,529.5 1015.0,529.5 1011.3,535.0" fill="#3c44a0"/>
<circle cx="1282.40" cy="686.80" r="2.30" fill="#3c44a0" stroke="none" stroke-width="1"/>
<line x1="1284.00" y1="686.80" x2="1292.00" y2="686.80" stroke="#7c84c8" stroke-width="1.0"/>
<rect x="707.5" y="680.0" width="20" height="10" rx="3" fill="#ffffff" stroke="#6aa8d8" stroke-width="1"/>
<text x="710.50" y="687.80" font-family='"DejaVu Sans", sans-serif' font-size="5.50" font-weight="bold" fill="#4a70b0" textLength="14.00" lengthAdjust="spacingAndGlyphs">10.0%</text>
<path d="M689,680 L695,685 L689,690" fill="none" stroke="#6aa8d8" stroke-width="1"/>
<rect x="688.00" y="789.50" width="429.00" height="177.00" fill="#ffffff" stroke="none" stroke-width="1"/>
<rect x="692.20" y="789.50" width="4.80" height="162.90" fill="#bba55c" stroke="none" stroke-width="1"/>
<line x1="1117.60" y1="789.50" x2="1117.60" y2="952.40" stroke="#4a9fc0" stroke-width="2.0"/>
<line x1="688.60" y1="789.50" x2="688.60" y2="891.00" stroke="#4a9fd3" stroke-width="1.8"/>
<line x1="699.00" y1="812.00" x2="1115.00" y2="812.00" stroke="#d8d8d8" stroke-width="0.8" stroke-dasharray="1,9"/><line x1="699.00" y1="836.00" x2="1115.00" y2="836.00" stroke="#d8d8d8" stroke-width="0.8" stroke-dasharray="1,9"/>
<line x1="906.50" y1="791.00" x2="906.50" y2="952.00" stroke="#b0b0b0" stroke-width="0.9" stroke-dasharray="2,3"/>
<polygon points="697.3,828.0 699.3,827.2 701.3,826.8 703.3,829.9 705.3,828.2 707.3,826.9 709.3,828.6 711.3,828.7 713.3,827.4 715.3,828.1 717.3,828.3 719.3,827.8 721.3,827.1 723.3,828.6 725.3,828.7 727.3,827.5 729.3,827.5 731.3,827.3 733.3,829.9 735.3,827.8 737.3,826.9 739.3,829.2 741.3,828.4 743.3,828.3 745.3,828.1 747.3,827.0 749.3,827.6 751.3,828.1 753.3,827.9 755.3,829.3 757.3,828.3 759.3,828.4 761.3,826.9 763.3,828.4 765.3,827.5 767.3,829.4 769.3,828.6 771.3,827.4 773.3,826.9 775.3,828.6 777.3,829.6 779.3,827.7 781.3,828.3 783.3,827.8 785.3,829.1 787.3,828.9 789.3,827.9 791.3,828.0 793.3,827.0 795.3,827.1 797.3,826.9 799.3,828.9 801.3,828.6 803.3,828.7 805.3,827.4 807.3,827.8 809.3,829.0 811.3,828.5 813.3,829.0 815.3,826.9 817.3,827.2 819.3,829.4 821.3,827.6 823.3,827.3 825.3,828.4 827.3,827.7 829.3,828.3 831.3,827.0 833.3,829.4 835.3,828.0 837.3,828.8 839.3,829.1 841.3,828.7 843.3,829.1 845.3,827.9 847.3,828.2 849.3,829.2 851.3,828.8 853.3,826.8 855.3,828.0 857.3,827.8 859.3,828.1 861.3,828.2 863.3,826.9 865.3,829.1 867.3,828.2 869.3,830.0 871.3,828.5 873.3,827.6 875.3,828.7 877.3,828.6 879.3,828.1 881.3,826.9 883.3,827.8 885.3,827.4 887.3,828.7 889.3,829.9 891.3,828.4 893.3,828.6 895.3,827.0 897.3,828.4 899.3,827.0 901.3,828.0 903.3,826.9 905.3,827.7 907.3,826.8 909.3,828.3 911.3,829.4 913.3,827.1 915.3,827.4 917.3,827.3 919.3,827.1 921.3,829.2 923.3,827.8 925.3,828.0 927.3,827.8 929.3,827.4 931.3,828.1 933.3,827.9 935.3,826.9 937.3,829.7 939.3,827.5 941.3,828.4 943.3,827.0 945.3,827.6 947.3,829.3 949.3,829.1 951.3,829.1 953.3,830.1 955.3,827.6 957.3,828.4 959.3,827.7 961.3,827.8 963.3,827.5 965.3,828.4 967.3,827.9 969.3,827.8 971.3,827.2 973.3,827.3 975.3,828.5 977.3,828.4 979.3,828.0 981.3,828.8 983.3,828.7 985.3,828.2 987.3,826.8 989.3,828.0 991.3,827.6 993.3,828.9 995.3,828.7 997.3,829.0 999.3,826.8 1001.3,826.9 1003.3,828.0 1005.3,828.9 1007.3,828.5 1009.3,829.1 1011.3,827.2 1013.3,827.7 1015.3,827.6 1017.3,827.3 1019.3,829.1 1021.3,826.8 1023.3,826.9 1025.3,829.1 1027.3,829.2 1029.3,827.5 1031.3,828.0 1033.3,827.4 1035.3,828.7 1037.3,828.4 1039.3,830.0 1041.3,827.3 1043.3,829.3 1045.3,827.1 1047.3,828.2 1049.3,827.4 1051.3,828.6 1053.3,829.0 1055.3,829.2 1057.3,828.9 1059.3,828.9 1061.3,828.0 1063.3,829.3 1065.3,829.2 1067.3,827.0 1069.3,829.1 1071.3,829.3 1073.3,828.2 1075.3,828.2 1077.3,829.3 1079.3,826.9 1081.3,828.3 1083.3,829.0 1085.3,827.1 1087.3,826.9 1089.3,828.8 1091.3,830.1 1093.3,827.2 1095.3,828.3 1097.3,828.5 1099.3,828.3 1101.3,828.9 1103.3,827.2 1105.3,829.3 1107.3,827.5 1109.3,827.3 1111.3,829.3 1113.3,829.3 1115.3,827.5 1117.0,917.9 1114.5,917.0 1112.0,916.4 1109.5,916.7 1107.0,916.5 1104.5,917.2 1102.0,916.9 1099.5,917.8 1097.0,916.7 1094.5,916.4 1092.0,917.1 1089.5,916.6 1087.0,916.9 1084.5,916.8 1082.0,916.7 1079.5,917.4 1077.0,917.9 1074.5,917.0 1072.0,917.4 1069.5,916.9 1067.0,917.9 1064.5,917.3 1062.0,916.4 1059.5,917.6 1057.0,916.7 1054.5,916.5 1052.0,916.4 1049.5,917.7 1047.0,917.5 1044.5,917.0 1042.0,917.3 1039.5,917.5 1037.0,916.5 1034.5,917.5 1032.0,917.5 1029.5,917.9 1027.0,916.5 1024.5,917.3 1022.0,917.2 1019.5,917.8 1017.0,917.0 1014.5,917.5 1012.0,917.8 1009.5,917.0 1007.0,917.2 1004.5,917.8 1002.0,916.5 999.5,918.0 997.0,916.9 994.5,917.1 992.0,916.9 989.5,917.7 987.0,917.3 984.5,917.6 982.0,916.6 979.5,917.8 977.0,917.7 974.5,917.5 972.0,916.8 969.5,916.8 967.0,917.1 964.5,916.5 962.0,917.9 959.5,917.1 957.0,917.9 954.5,916.7 952.0,917.4 949.5,917.7 947.0,917.4 944.5,917.1 942.0,916.4 939.5,917.1 937.0,917.0 934.5,917.9 932.0,918.0 929.5,917.9 927.0,918.0 924.5,916.7 922.0,916.4 919.5,916.9 917.0,916.4 914.5,916.6 912.0,917.3 909.5,916.7 907.0,917.4 904.5,917.0 902.0,916.8 899.5,918.0 897.0,916.7 894.5,917.8 892.0,917.2 889.5,917.5 887.0,916.6 884.5,917.6 882.0,917.8 879.5,916.7 877.0,917.2 874.5,917.4 872.0,917.2 869.5,917.6 867.0,917.4 864.5,916.9 862.0,917.5 859.5,917.6 857.0,917.1 854.5,917.3 852.0,917.4 849.5,917.2 847.0,916.5 844.5,917.1 842.0,917.6 839.5,917.6 837.0,916.5 834.5,917.2 832.0,917.3 829.5,917.3 827.0,916.6 824.5,917.4 822.0,917.5 819.5,917.3 817.0,917.9 814.5,917.3 812.0,916.4 809.5,916.9 807.0,917.5 804.5,916.5 802.0,917.9 799.5,917.5 797.0,917.6 794.5,916.7 792.0,916.4 789.5,917.8 787.0,917.2 784.5,917.1 782.0,917.2 779.5,917.6 777.0,917.0 774.5,917.6 772.0,916.7 769.5,918.0 767.0,917.5 764.5,916.9 762.0,917.2 759.5,917.8 757.0,916.9 754.5,917.5 752.0,917.9 749.5,917.9 747.0,916.8 744.5,917.7 742.0,917.4 739.5,917.7 737.0,916.5 734.5,917.1 732.0,917.1 729.5,917.7 727.0,917.1 724.5,916.5 722.0,916.7 719.5,917.7 717.0,917.8 714.5,917.3 712.0,916.5 709.5,917.6 707.0,917.8 704.5,916.9 702.0,917.2 699.5,916.9" fill="#3d469e"/>
<line x1="699.00" y1="877.30" x2="1115.00" y2="877.30" stroke="#8f96d0" stroke-width="0.9" stroke-dasharray="3,3"/>
<line x1="906.50" y1="830.00" x2="906.50" y2="916.00" stroke="#7f86c8" stroke-width="0.8"/>
<circle cx="685.00" cy="765.30" r="5.20" fill="#3c44a0" stroke="none" stroke-width="1"/>
<circle cx="691.00" cy="765.80" r="1.80" fill="#3c44a0" stroke="none" stroke-width="1"/>
<circle cx="694.70" cy="914.80" r="4.30" fill="#3c44a0" stroke="none" stroke-width="1"/>
<rect x="1117.5" y="895.2" width="29" height="13.6" rx="2" fill="#ffffff" stroke="#bdbdbd" stroke-width="1"/>
<rect x="1151.0" y="897.0" width="138" height="55" rx="4" fill="#a8a8a8"/>
<rect x="1150.0" y="895.2" width="137" height="54.5" rx="4" fill="#ffffff" stroke="#c8c8c8" stroke-width="1"/>
<text x="1155.00" y="905.20" font-family='"DejaVu Sans", sans-serif' font-size="6.00" font-weight="bold" fill="#333" textLength="118.00" lengthAdjust="spacingAndGlyphs">20.0ns/div  20.0GS/s  IT   250fs/pt</text>
<text x="1155.00" y="917.90" font-family='"DejaVu Sans", sans-serif' font-size="6.50" font-weight="bold" fill="#4a4ac8" textLength="27.40" lengthAdjust="spacingAndGlyphs">Preview</text>
<text x="1199.00" y="917.90" font-family='"DejaVu Sans", sans-serif' font-size="6.50" font-weight="bold" fill="#333" textLength="37.50" lengthAdjust="spacingAndGlyphs">Single Seq</text>
<rect x="1278.00" y="911.00" width="2.50" height="7.50" fill="#50c0d8" stroke="none" stroke-width="1"/>
<text x="1155.00" y="930.60" font-family='"DejaVu Sans", sans-serif' font-size="6.50" font-weight="bold" fill="#333" textLength="22.30" lengthAdjust="spacingAndGlyphs">0 acqs</text>
<text x="1239.00" y="930.60" font-family='"DejaVu Sans", sans-serif' font-size="6.50" font-weight="bold" fill="#333" textLength="28.87" lengthAdjust="spacingAndGlyphs">RL:800k</text>
<text x="1155.00" y="943.20" font-family='"DejaVu Sans", sans-serif' font-size="6.50" font-weight="bold" fill="#333" textLength="16.20" lengthAdjust="spacingAndGlyphs">Auto</text>
<text x="1180.40" y="943.20" font-family='"DejaVu Sans", sans-serif' font-size="6.50" font-weight="bold" fill="#333" textLength="47.00" lengthAdjust="spacingAndGlyphs">April 25, 2018</text>
<text x="1256.30" y="943.20" font-family='"DejaVu Sans", sans-serif' font-size="6.50" font-weight="bold" fill="#3a7ad8" textLength="28.70" lengthAdjust="spacingAndGlyphs">16:07:20</text>
<text x="726.00" y="583.60" font-family='"Liberation Serif", serif' font-size="48.00" fill="#111" textLength="54.79" lengthAdjust="spacingAndGlyphs">(e)</text>
<text x="1124.70" y="804.90" font-family='"Liberation Serif", serif' font-size="43.00" fill="#111" textLength="158.49" lengthAdjust="spacingAndGlyphs">20 ns/div</text>
<text x="714.70" y="951.50" font-family='"Liberation Serif", serif' font-size="43.00" fill="#111" textLength="178.60" lengthAdjust="spacingAndGlyphs">100 μs/div</text>
<g><circle cx="1439.97" cy="928.90" r="3.60" fill="#e8101e" stroke="none" stroke-width="1"/><circle cx="1442.50" cy="928.01" r="3.60" fill="#e8101e" stroke="none" stroke-width="1"/><circle cx="1445.04" cy="928.94" r="3.60" fill="#e8101e" stroke="none" stroke-width="1"/><circle cx="1447.58" cy="928.77" r="3.60" fill="#e8101e" stroke="none" stroke-width="1"/><circle cx="1450.11" cy="929.57" r="3.60" fill="#e8101e" stroke="none" stroke-width="1"/><circle cx="1452.65" cy="927.32" r="3.60" fill="#e8101e" stroke="none" stroke-width="1"/><circle cx="1455.18" cy="929.49" r="3.60" fill="#e8101e" stroke="none" stroke-width="1"/><circle cx="1457.72" cy="928.34" r="3.60" fill="#e8101e" stroke="none" stroke-width="1"/><circle cx="1460.26" cy="928.98" r="3.60" fill="#e8101e" stroke="none" stroke-width="1"/><circle cx="1462.79" cy="930.15" r="3.60" fill="#e8101e" stroke="none" stroke-width="1"/><circle cx="1465.33" cy="918.79" r="3.60" fill="#e8101e" stroke="none" stroke-width="1"/><circle cx="1467.86" cy="923.48" r="3.60" fill="#e8101e" stroke="none" stroke-width="1"/><circle cx="1470.40" cy="925.19" r="3.60" fill="#e8101e" stroke="none" stroke-width="1"/><circle cx="1472.94" cy="924.53" r="3.60" fill="#e8101e" stroke="none" stroke-width="1"/><circle cx="1475.47" cy="922.59" r="3.60" fill="#e8101e" stroke="none" stroke-width="1"/><circle cx="1478.01" cy="927.05" r="3.60" fill="#e8101e" stroke="none" stroke-width="1"/><circle cx="1480.54" cy="923.42" r="3.60" fill="#e8101e" stroke="none" stroke-width="1"/><circle cx="1483.08" cy="922.12" r="3.60" fill="#e8101e" stroke="none" stroke-width="1"/><circle cx="1485.62" cy="915.44" r="3.60" fill="#e8101e" stroke="none" stroke-width="1"/><circle cx="1488.15" cy="923.70" r="3.60" fill="#e8101e" stroke="none" stroke-width="1"/><circle cx="1490.69" cy="918.72" r="3.60" fill="#e8101e" stroke="none" stroke-width="1"/><circle cx="1493.22" cy="928.43" r="3.60" fill="#e8101e" stroke="none" stroke-width="1"/><circle cx="1495.76" cy="919.24" r="3.60" fill="#e8101e" stroke="none" stroke-width="1"/><circle cx="1498.30" cy="922.63" r="3.60" fill="#e8101e" stroke="none" stroke-width="1"/><circle cx="1500.83" cy="926.04" r="3.60" fill="#e8101e" stroke="none" stroke-width="1"/><circle cx="1503.37" cy="923.54" r="3.60" fill="#e8101e" stroke="none" stroke-width="1"/><circle cx="1505.90" cy="919.03" r="3.60" fill="#e8101e" stroke="none" stroke-width="1"/><circle cx="1508.44" cy="924.99" r="3.60" fill="#e8101e" stroke="none" stroke-width="1"/><circle cx="1510.98" cy="918.42" r="3.60" fill="#e8101e" stroke="none" stroke-width="1"/><circle cx="1513.51" cy="916.01" r="3.60" fill="#e8101e" stroke="none" stroke-width="1"/><circle cx="1516.05" cy="915.52" r="3.60" fill="#e8101e" stroke="none" stroke-width="1"/><circle cx="1518.58" cy="915.53" r="3.60" fill="#e8101e" stroke="none" stroke-width="1"/><circle cx="1521.12" cy="929.59" r="3.60" fill="#e8101e" stroke="none" stroke-width="1"/><circle cx="1523.66" cy="921.75" r="3.60" fill="#e8101e" stroke="none" stroke-width="1"/><circle cx="1526.19" cy="926.72" r="3.60" fill="#e8101e" stroke="none" stroke-width="1"/><circle cx="1528.73" cy="918.81" r="3.60" fill="#e8101e" stroke="none" stroke-width="1"/><circle cx="1531.26" cy="923.05" r="3.60" fill="#e8101e" stroke="none" stroke-width="1"/><circle cx="1533.80" cy="922.31" r="3.60" fill="#e8101e" stroke="none" stroke-width="1"/><circle cx="1536.34" cy="921.16" r="3.60" fill="#e8101e" stroke="none" stroke-width="1"/><circle cx="1538.87" cy="926.28" r="3.60" fill="#e8101e" stroke="none" stroke-width="1"/><circle cx="1541.41" cy="922.93" r="3.60" fill="#e8101e" stroke="none" stroke-width="1"/><circle cx="1543.94" cy="926.91" r="3.60" fill="#e8101e" stroke="none" stroke-width="1"/><circle cx="1546.48" cy="913.26" r="3.60" fill="#e8101e" stroke="none" stroke-width="1"/><circle cx="1549.02" cy="925.62" r="3.60" fill="#e8101e" stroke="none" stroke-width="1"/><circle cx="1551.55" cy="923.32" r="3.60" fill="#e8101e" stroke="none" stroke-width="1"/><circle cx="1554.09" cy="927.39" r="3.60" fill="#e8101e" stroke="none" stroke-width="1"/><circle cx="1556.62" cy="927.85" r="3.60" fill="#e8101e" stroke="none" stroke-width="1"/><circle cx="1559.16" cy="928.89" r="3.60" fill="#e8101e" stroke="none" stroke-width="1"/><circle cx="1561.70" cy="928.84" r="3.60" fill="#e8101e" stroke="none" stroke-width="1"/><circle cx="1564.23" cy="928.88" r="3.60" fill="#e8101e" stroke="none" stroke-width="1"/><circle cx="1566.77" cy="929.68" r="3.60" fill="#e8101e" stroke="none" stroke-width="1"/><circle cx="1569.30" cy="929.21" r="3.60" fill="#e8101e" stroke="none" stroke-width="1"/><circle cx="1571.84" cy="914.38" r="3.60" fill="#e8101e" stroke="none" stroke-width="1"/><circle cx="1574.38" cy="928.39" r="3.60" fill="#e8101e" stroke="none" stroke-width="1"/><circle cx="1576.91" cy="927.56" r="3.60" fill="#e8101e" stroke="none" stroke-width="1"/><circle cx="1579.45" cy="921.03" r="3.60" fill="#e8101e" stroke="none" stroke-width="1"/><circle cx="1581.98" cy="928.25" r="3.60" fill="#e8101e" stroke="none" stroke-width="1"/><circle cx="1584.52" cy="922.10" r="3.60" fill="#e8101e" stroke="none" stroke-width="1"/><circle cx="1587.06" cy="918.67" r="3.60" fill="#e8101e" stroke="none" stroke-width="1"/><circle cx="1589.59" cy="923.73" r="3.60" fill="#e8101e" stroke="none" stroke-width="1"/><circle cx="1592.13" cy="921.41" r="3.60" fill="#e8101e" stroke="none" stroke-width="1"/><circle cx="1594.66" cy="923.21" r="3.60" fill="#e8101e" stroke="none" stroke-width="1"/><circle cx="1597.20" cy="931.02" r="3.60" fill="#e8101e" stroke="none" stroke-width="1"/><circle cx="1601.00" cy="931.02" r="3.60" fill="#e8101e" stroke="none" stroke-width="1"/><circle cx="1604.81" cy="931.02" r="3.60" fill="#e8101e" stroke="none" stroke-width="1"/><circle cx="1608.61" cy="922.32" r="3.60" fill="#e8101e" stroke="none" stroke-width="1"/><circle cx="1612.42" cy="931.02" r="3.60" fill="#e8101e" stroke="none" stroke-width="1"/><circle cx="1616.22" cy="917.96" r="3.60" fill="#e8101e" stroke="none" stroke-width="1"/><circle cx="1620.02" cy="905.46" r="3.60" fill="#e8101e" stroke="none" stroke-width="1"/><circle cx="1623.83" cy="888.54" r="3.60" fill="#e8101e" stroke="none" stroke-width="1"/><circle cx="1627.63" cy="901.07" r="3.60" fill="#e8101e" stroke="none" stroke-width="1"/><circle cx="1631.44" cy="882.87" r="3.60" fill="#e8101e" stroke="none" stroke-width="1"/><circle cx="1635.24" cy="863.22" r="3.60" fill="#e8101e" stroke="none" stroke-width="1"/><circle cx="1639.04" cy="845.02" r="3.60" fill="#e8101e" stroke="none" stroke-width="1"/><circle cx="1642.85" cy="842.48" r="3.60" fill="#e8101e" stroke="none" stroke-width="1"/><circle cx="1646.65" cy="795.71" r="3.60" fill="#e8101e" stroke="none" stroke-width="1"/><circle cx="1650.46" cy="794.96" r="3.60" fill="#e8101e" stroke="none" stroke-width="1"/><circle cx="1654.26" cy="754.97" r="3.60" fill="#e8101e" stroke="none" stroke-width="1"/><circle cx="1658.06" cy="739.51" r="3.60" fill="#e8101e" stroke="none" stroke-width="1"/><circle cx="1661.87" cy="707.65" r="3.60" fill="#e8101e" stroke="none" stroke-width="1"/><circle cx="1665.67" cy="670.27" r="3.60" fill="#e8101e" stroke="none" stroke-width="1"/><circle cx="1669.48" cy="651.61" r="3.60" fill="#e8101e" stroke="none" stroke-width="1"/><circle cx="1673.28" cy="631.47" r="3.60" fill="#e8101e" stroke="none" stroke-width="1"/><circle cx="1677.08" cy="618.48" r="3.60" fill="#e8101e" stroke="none" stroke-width="1"/><circle cx="1680.89" cy="597.03" r="3.60" fill="#e8101e" stroke="none" stroke-width="1"/><circle cx="1684.69" cy="589.28" r="3.60" fill="#e8101e" stroke="none" stroke-width="1"/><circle cx="1688.50" cy="552.43" r="3.60" fill="#e8101e" stroke="none" stroke-width="1"/><circle cx="1692.30" cy="578.62" r="3.60" fill="#e8101e" stroke="none" stroke-width="1"/><circle cx="1696.10" cy="589.94" r="3.60" fill="#e8101e" stroke="none" stroke-width="1"/><circle cx="1699.91" cy="564.22" r="3.60" fill="#e8101e" stroke="none" stroke-width="1"/><circle cx="1703.71" cy="581.25" r="3.60" fill="#e8101e" stroke="none" stroke-width="1"/><circle cx="1707.52" cy="613.23" r="3.60" fill="#e8101e" stroke="none" stroke-width="1"/><circle cx="1711.32" cy="625.68" r="3.60" fill="#e8101e" stroke="none" stroke-width="1"/><circle cx="1715.12" cy="664.13" r="3.60" fill="#e8101e" stroke="none" stroke-width="1"/><circle cx="1718.93" cy="688.58" r="3.60" fill="#e8101e" stroke="none" stroke-width="1"/><circle cx="1722.73" cy="706.88" r="3.60" fill="#e8101e" stroke="none" stroke-width="1"/><circle cx="1726.54" cy="734.66" r="3.60" fill="#e8101e" stroke="none" stroke-width="1"/><circle cx="1730.34" cy="767.59" r="3.60" fill="#e8101e" stroke="none" stroke-width="1"/><circle cx="1734.14" cy="775.03" r="3.60" fill="#e8101e" stroke="none" stroke-width="1"/><circle cx="1737.95" cy="804.83" r="3.60" fill="#e8101e" stroke="none" stroke-width="1"/><circle cx="1741.75" cy="830.10" r="3.60" fill="#e8101e" stroke="none" stroke-width="1"/><circle cx="1745.56" cy="859.00" r="3.60" fill="#e8101e" stroke="none" stroke-width="1"/><circle cx="1749.36" cy="863.95" r="3.60" fill="#e8101e" stroke="none" stroke-width="1"/><circle cx="1753.16" cy="881.17" r="3.60" fill="#e8101e" stroke="none" stroke-width="1"/><circle cx="1756.97" cy="890.59" r="3.60" fill="#e8101e" stroke="none" stroke-width="1"/><circle cx="1760.77" cy="892.86" r="3.60" fill="#e8101e" stroke="none" stroke-width="1"/><circle cx="1764.58" cy="911.86" r="3.60" fill="#e8101e" stroke="none" stroke-width="1"/><circle cx="1768.38" cy="911.23" r="3.60" fill="#e8101e" stroke="none" stroke-width="1"/><circle cx="1772.18" cy="911.84" r="3.60" fill="#e8101e" stroke="none" stroke-width="1"/><circle cx="1775.99" cy="919.39" r="3.60" fill="#e8101e" stroke="none" stroke-width="1"/><circle cx="1779.79" cy="906.51" r="3.60" fill="#e8101e" stroke="none" stroke-width="1"/><circle cx="1783.60" cy="931.02" r="3.60" fill="#e8101e" stroke="none" stroke-width="1"/><circle cx="1787.40" cy="930.14" r="3.60" fill="#e8101e" stroke="none" stroke-width="1"/><circle cx="1789.94" cy="928.30" r="3.60" fill="#e8101e" stroke="none" stroke-width="1"/><circle cx="1792.47" cy="930.13" r="3.60" fill="#e8101e" stroke="none" stroke-width="1"/><circle cx="1795.01" cy="926.01" r="3.60" fill="#e8101e" stroke="none" stroke-width="1"/><circle cx="1797.54" cy="927.55" r="3.60" fill="#e8101e" stroke="none" stroke-width="1"/><circle cx="1800.08" cy="929.76" r="3.60" fill="#e8101e" stroke="none" stroke-width="1"/><circle cx="1802.62" cy="929.07" r="3.60" fill="#e8101e" stroke="none" stroke-width="1"/><circle cx="1805.15" cy="922.97" r="3.60" fill="#e8101e" stroke="none" stroke-width="1"/><circle cx="1807.69" cy="918.92" r="3.60" fill="#e8101e" stroke="none" stroke-width="1"/><circle cx="1810.22" cy="929.29" r="3.60" fill="#e8101e" stroke="none" stroke-width="1"/><circle cx="1812.76" cy="918.62" r="3.60" fill="#e8101e" stroke="none" stroke-width="1"/><circle cx="1815.30" cy="928.14" r="3.60" fill="#e8101e" stroke="none" stroke-width="1"/><circle cx="1817.83" cy="929.43" r="3.60" fill="#e8101e" stroke="none" stroke-width="1"/><circle cx="1820.37" cy="920.64" r="3.60" fill="#e8101e" stroke="none" stroke-width="1"/><circle cx="1822.90" cy="921.08" r="3.60" fill="#e8101e" stroke="none" stroke-width="1"/><circle cx="1825.44" cy="927.03" r="3.60" fill="#e8101e" stroke="none" stroke-width="1"/><circle cx="1827.98" cy="927.47" r="3.60" fill="#e8101e" stroke="none" stroke-width="1"/><circle cx="1830.51" cy="924.43" r="3.60" fill="#e8101e" stroke="none" stroke-width="1"/><circle cx="1833.05" cy="923.49" r="3.60" fill="#e8101e" stroke="none" stroke-width="1"/><circle cx="1835.58" cy="924.28" r="3.60" fill="#e8101e" stroke="none" stroke-width="1"/><circle cx="1838.12" cy="928.44" r="3.60" fill="#e8101e" stroke="none" stroke-width="1"/><circle cx="1840.66" cy="925.50" r="3.60" fill="#e8101e" stroke="none" stroke-width="1"/><circle cx="1843.19" cy="916.98" r="3.60" fill="#e8101e" stroke="none" stroke-width="1"/><circle cx="1845.73" cy="922.59" r="3.60" fill="#e8101e" stroke="none" stroke-width="1"/><circle cx="1848.26" cy="929.57" r="3.60" fill="#e8101e" stroke="none" stroke-width="1"/><circle cx="1850.80" cy="929.19" r="3.60" fill="#e8101e" stroke="none" stroke-width="1"/><circle cx="1853.34" cy="926.88" r="3.60" fill="#e8101e" stroke="none" stroke-width="1"/><circle cx="1855.87" cy="929.55" r="3.60" fill="#e8101e" stroke="none" stroke-width="1"/><circle cx="1858.41" cy="926.73" r="3.60" fill="#e8101e" stroke="none" stroke-width="1"/><circle cx="1860.94" cy="927.86" r="3.60" fill="#e8101e" stroke="none" stroke-width="1"/><circle cx="1863.48" cy="929.46" r="3.60" fill="#e8101e" stroke="none" stroke-width="1"/><circle cx="1866.02" cy="929.70" r="3.60" fill="#e8101e" stroke="none" stroke-width="1"/><circle cx="1868.55" cy="929.58" r="3.60" fill="#e8101e" stroke="none" stroke-width="1"/><circle cx="1871.09" cy="929.78" r="3.60" fill="#e8101e" stroke="none" stroke-width="1"/><circle cx="1873.62" cy="928.41" r="3.60" fill="#e8101e" stroke="none" stroke-width="1"/><circle cx="1876.16" cy="929.91" r="3.60" fill="#e8101e" stroke="none" stroke-width="1"/><circle cx="1878.70" cy="928.08" r="3.60" fill="#e8101e" stroke="none" stroke-width="1"/><circle cx="1881.23" cy="927.62" r="3.60" fill="#e8101e" stroke="none" stroke-width="1"/><circle cx="1883.77" cy="929.71" r="3.60" fill="#e8101e" stroke="none" stroke-width="1"/><circle cx="1886.30" cy="929.48" r="3.60" fill="#e8101e" stroke="none" stroke-width="1"/><circle cx="1888.84" cy="928.77" r="3.60" fill="#e8101e" stroke="none" stroke-width="1"/><circle cx="1891.38" cy="929.84" r="3.60" fill="#e8101e" stroke="none" stroke-width="1"/><circle cx="1893.91" cy="929.03" r="3.60" fill="#e8101e" stroke="none" stroke-width="1"/><circle cx="1896.45" cy="930.15" r="3.60" fill="#e8101e" stroke="none" stroke-width="1"/><circle cx="1898.98" cy="929.66" r="3.60" fill="#e8101e" stroke="none" stroke-width="1"/><circle cx="1901.52" cy="920.84" r="3.60" fill="#e8101e" stroke="none" stroke-width="1"/><circle cx="1904.06" cy="929.19" r="3.60" fill="#e8101e" stroke="none" stroke-width="1"/><circle cx="1906.59" cy="918.15" r="3.60" fill="#e8101e" stroke="none" stroke-width="1"/><circle cx="1909.13" cy="925.03" r="3.60" fill="#e8101e" stroke="none" stroke-width="1"/><circle cx="1911.66" cy="924.05" r="3.60" fill="#e8101e" stroke="none" stroke-width="1"/><circle cx="1914.20" cy="926.03" r="3.60" fill="#e8101e" stroke="none" stroke-width="1"/><circle cx="1916.74" cy="927.01" r="3.60" fill="#e8101e" stroke="none" stroke-width="1"/><circle cx="1919.27" cy="922.24" r="3.60" fill="#e8101e" stroke="none" stroke-width="1"/><circle cx="1921.81" cy="928.13" r="3.60" fill="#e8101e" stroke="none" stroke-width="1"/><circle cx="1924.34" cy="918.04" r="3.60" fill="#e8101e" stroke="none" stroke-width="1"/><circle cx="1926.88" cy="923.30" r="3.60" fill="#e8101e" stroke="none" stroke-width="1"/><circle cx="1929.42" cy="915.80" r="3.60" fill="#e8101e" stroke="none" stroke-width="1"/><circle cx="1931.95" cy="920.30" r="3.60" fill="#e8101e" stroke="none" stroke-width="1"/><circle cx="1934.49" cy="920.03" r="3.60" fill="#e8101e" stroke="none" stroke-width="1"/><circle cx="1937.02" cy="927.86" r="3.60" fill="#e8101e" stroke="none" stroke-width="1"/><circle cx="1939.56" cy="930.14" r="3.60" fill="#e8101e" stroke="none" stroke-width="1"/><circle cx="1942.10" cy="927.64" r="3.60" fill="#e8101e" stroke="none" stroke-width="1"/></g>
<polyline points="1438.7,930.2 1439.3,930.2 1440.0,930.2 1440.6,930.2 1441.2,930.2 1441.9,930.2 1442.5,930.2 1443.1,930.2 1443.8,930.2 1444.4,930.2 1445.0,930.2 1445.7,930.2 1446.3,930.2 1446.9,930.2 1447.6,930.2 1448.2,930.2 1448.8,930.2 1449.5,930.2 1450.1,930.2 1450.7,930.2 1451.4,930.2 1452.0,930.2 1452.6,930.2 1453.3,930.2 1453.9,930.2 1454.5,930.2 1455.2,930.2 1455.8,930.2 1456.5,930.2 1457.1,930.2 1457.7,930.2 1458.4,930.2 1459.0,930.2 1459.6,930.2 1460.3,930.2 1460.9,930.2 1461.5,930.2 1462.2,930.2 1462.8,930.2 1463.4,930.2 1464.1,930.2 1464.7,930.2 1465.3,930.2 1466.0,930.2 1466.6,930.2 1467.2,930.2 1467.9,930.2 1468.5,930.2 1469.1,930.2 1469.8,930.2 1470.4,930.2 1471.0,930.2 1471.7,930.2 1472.3,930.2 1472.9,930.2 1473.6,930.2 1474.2,930.2 1474.8,930.2 1475.5,930.2 1476.1,930.2 1476.7,930.2 1477.4,930.2 1478.0,930.2 1478.6,930.2 1479.3,930.2 1479.9,930.2 1480.5,930.2 1481.2,930.2 1481.8,930.2 1482.4,930.2 1483.1,930.2 1483.7,930.2 1484.3,930.2 1485.0,930.2 1485.6,930.2 1486.2,930.2 1486.9,930.2 1487.5,930.2 1488.2,930.2 1488.8,930.2 1489.4,930.2 1490.1,930.2 1490.7,930.2 1491.3,930.2 1492.0,930.2 1492.6,930.2 1493.2,930.2 1493.9,930.2 1494.5,930.2 1495.1,930.2 1495.8,930.2 1496.4,930.2 1497.0,930.2 1497.7,930.2 1498.3,930.2 1498.9,930.2 1499.6,930.2 1500.2,930.2 1500.8,930.2 1501.5,930.2 1502.1,930.2 1502.7,930.2 1503.4,930.2 1504.0,930.2 1504.6,930.2 1505.3,930.2 1505.9,930.2 1506.5,930.2 1507.2,930.2 1507.8,930.2 1508.4,930.2 1509.1,930.2 1509.7,930.2 1510.3,930.2 1511.0,930.2 1511.6,930.2 1512.2,930.2 1512.9,930.2 1513.5,930.2 1514.1,930.2 1514.8,930.2 1515.4,930.2 1516.0,930.2 1516.7,930.2 1517.3,930.2 1518.0,930.2 1518.6,930.1 1519.2,930.1 1519.9,930.1 1520.5,930.1 1521.1,930.1 1521.8,930.1 1522.4,930.1 1523.0,930.1 1523.7,930.1 1524.3,930.1 1524.9,930.1 1525.6,930.1 1526.2,930.1 1526.8,930.1 1527.5,930.1 1528.1,930.1 1528.7,930.1 1529.4,930.1 1530.0,930.1 1530.6,930.1 1531.3,930.1 1531.9,930.1 1532.5,930.1 1533.2,930.1 1533.8,930.1 1534.4,930.1 1535.1,930.1 1535.7,930.1 1536.3,930.1 1537.0,930.1 1537.6,930.1 1538.2,930.1 1538.9,930.1 1539.5,930.1 1540.1,930.1 1540.8,930.1 1541.4,930.0 1542.0,930.0 1542.7,930.0 1543.3,930.0 1543.9,930.0 1544.6,930.0 1545.2,930.0 1545.8,930.0 1546.5,930.0 1547.1,930.0 1547.7,930.0 1548.4,930.0 1549.0,930.0 1549.6,930.0 1550.3,930.0 1550.9,929.9 1551.6,929.9 1552.2,929.9 1552.8,929.9 1553.5,929.9 1554.1,929.9 1554.7,929.9 1555.4,929.9 1556.0,929.9 1556.6,929.9 1557.3,929.8 1557.9,929.8 1558.5,929.8 1559.2,929.8 1559.8,929.8 1560.4,929.8 1561.1,929.8 1561.7,929.7 1562.3,929.7 1563.0,929.7 1563.6,929.7 1564.2,929.7 1564.9,929.6 1565.5,929.6 1566.1,929.6 1566.8,929.6 1567.4,929.5 1568.0,929.5 1568.7,929.5 1569.3,929.5 1569.9,929.4 1570.6,929.4 1571.2,929.4 1571.8,929.3 1572.5,929.3 1573.1,929.2 1573.7,929.2 1574.4,929.2 1575.0,929.1 1575.6,929.1 1576.3,929.0 1576.9,929.0 1577.5,928.9 1578.2,928.8 1578.8,928.8 1579.4,928.7 1580.1,928.6 1580.7,928.6 1581.3,928.5 1582.0,928.4 1582.6,928.3 1583.3,928.3 1583.9,928.2 1584.5,928.1 1585.2,928.0 1585.8,927.9 1586.4,927.7 1587.1,927.6 1587.7,927.5 1588.3,927.4 1589.0,927.2 1589.6,927.1 1590.2,927.0 1590.9,926.8 1591.5,926.6 1592.1,926.5 1592.8,926.3 1593.4,926.1 1594.0,925.9 1594.7,925.7 1595.3,925.5 1595.9,925.2 1596.6,925.0 1597.2,924.8 1597.8,924.5 1598.5,924.2 1599.1,923.9 1599.7,923.6 1600.4,923.3 1601.0,923.0 1601.6,922.6 1602.3,922.3 1602.9,921.9 1603.5,921.5 1604.2,921.1 1604.8,920.6 1605.4,920.2 1606.1,919.7 1606.7,919.2 1607.3,918.7 1608.0,918.2 1608.6,917.6 1609.2,917.0 1609.9,916.4 1610.5,915.8 1611.1,915.1 1611.8,914.4 1612.4,913.7 1613.0,912.9 1613.7,912.2 1614.3,911.4 1615.0,910.5 1615.6,909.6 1616.2,908.7 1616.9,907.8 1617.5,906.8 1618.1,905.8 1618.8,904.7 1619.4,903.6 1620.0,902.5 1620.7,901.3 1621.3,900.1 1621.9,898.8 1622.6,897.5 1623.2,896.1 1623.8,894.7 1624.5,893.3 1625.1,891.8 1625.7,890.2 1626.4,888.6 1627.0,887.0 1627.6,885.3 1628.3,883.5 1628.9,881.7 1629.5,879.8 1630.2,877.9 1630.8,875.9 1631.4,873.9 1632.1,871.8 1632.7,869.6 1633.3,867.4 1634.0,865.1 1634.6,862.8 1635.2,860.4 1635.9,857.9 1636.5,855.4 1637.1,852.8 1637.8,850.1 1638.4,847.4 1639.0,844.6 1639.7,841.8 1640.3,838.9 1640.9,835.9 1641.6,832.8 1642.2,829.7 1642.8,826.6 1643.5,823.3 1644.1,820.0 1644.8,816.7 1645.4,813.2 1646.0,809.7 1646.7,806.2 1647.3,802.6 1647.9,798.9 1648.6,795.2 1649.2,791.4 1649.8,787.5 1650.5,783.6 1651.1,779.7 1651.7,775.7 1652.4,771.6 1653.0,767.5 1653.6,763.4 1654.3,759.2 1654.9,754.9 1655.5,750.7 1656.2,746.3 1656.8,742.0 1657.4,737.6 1658.1,733.2 1658.7,728.8 1659.3,724.3 1660.0,719.8 1660.6,715.3 1661.2,710.8 1661.9,706.3 1662.5,701.8 1663.1,697.3 1663.8,692.7 1664.4,688.2 1665.0,683.7 1665.7,679.2 1666.3,674.7 1666.9,670.3 1667.6,665.8 1668.2,661.4 1668.8,657.1 1669.5,652.7 1670.1,648.4 1670.7,644.2 1671.4,640.0 1672.0,635.9 1672.6,631.8 1673.3,627.9 1673.9,623.9 1674.5,620.1 1675.2,616.3 1675.8,612.7 1676.5,609.1 1677.1,605.6 1677.7,602.2 1678.4,599.0 1679.0,595.8 1679.6,592.8 1680.3,589.8 1680.9,587.0 1681.5,584.3 1682.2,581.8 1682.8,579.4 1683.4,577.1 1684.1,575.0 1684.7,573.0 1685.3,571.1 1686.0,569.4 1686.6,567.9 1687.2,566.5 1687.9,565.3 1688.5,564.2 1689.1,563.3 1689.8,562.6 1690.4,562.0 1691.0,561.6 1691.7,561.3 1692.3,561.3 1692.9,561.3 1693.6,561.6 1694.2,562.0 1694.8,562.6 1695.5,563.3 1696.1,564.2 1696.7,565.3 1697.4,566.5 1698.0,567.9 1698.6,569.4 1699.3,571.1 1699.9,573.0 1700.5,575.0 1701.2,577.1 1701.8,579.4 1702.4,581.8 1703.1,584.3 1703.7,587.0 1704.3,589.8 1705.0,592.8 1705.6,595.8 1706.2,599.0 1706.9,602.2 1707.5,605.6 1708.1,609.1 1708.8,612.7 1709.4,616.3 1710.1,620.1 1710.7,623.9 1711.3,627.9 1712.0,631.8 1712.6,635.9 1713.2,640.0 1713.9,644.2 1714.5,648.4 1715.1,652.7 1715.8,657.1 1716.4,661.4 1717.0,665.8 1717.7,670.3 1718.3,674.7 1718.9,679.2 1719.6,683.7 1720.2,688.2 1720.8,692.7 1721.5,697.3 1722.1,701.8 1722.7,706.3 1723.4,710.8 1724.0,715.3 1724.6,719.8 1725.3,724.3 1725.9,728.8 1726.5,733.2 1727.2,737.6 1727.8,742.0 1728.4,746.3 1729.1,750.7 1729.7,754.9 1730.3,759.2 1731.0,763.4 1731.6,767.5 1732.2,771.6 1732.9,775.7 1733.5,779.7 1734.1,783.6 1734.8,787.5 1735.4,791.4 1736.0,795.2 1736.7,798.9 1737.3,802.6 1737.9,806.2 1738.6,809.7 1739.2,813.2 1739.8,816.7 1740.5,820.0 1741.1,823.3 1741.8,826.6 1742.4,829.7 1743.0,832.8 1743.7,835.9 1744.3,838.9 1744.9,841.8 1745.6,844.6 1746.2,847.4 1746.8,850.1 1747.5,852.8 1748.1,855.4 1748.7,857.9 1749.4,860.4 1750.0,862.8 1750.6,865.1 1751.3,867.4 1751.9,869.6 1752.5,871.8 1753.2,873.9 1753.8,875.9 1754.4,877.9 1755.1,879.8 1755.7,881.7 1756.3,883.5 1757.0,885.3 1757.6,887.0 1758.2,888.6 1758.9,890.2 1759.5,891.8 1760.1,893.3 1760.8,894.7 1761.4,896.1 1762.0,897.5 1762.7,898.8 1763.3,900.1 1763.9,901.3 1764.6,902.5 1765.2,903.6 1765.8,904.7 1766.5,905.8 1767.1,906.8 1767.7,907.8 1768.4,908.7 1769.0,909.6 1769.6,910.5 1770.3,911.4 1770.9,912.2 1771.5,912.9 1772.2,913.7 1772.8,914.4 1773.5,915.1 1774.1,915.8 1774.7,916.4 1775.4,917.0 1776.0,917.6 1776.6,918.2 1777.3,918.7 1777.9,919.2 1778.5,919.7 1779.2,920.2 1779.8,920.6 1780.4,921.1 1781.1,921.5 1781.7,921.9 1782.3,922.3 1783.0,922.6 1783.6,923.0 1784.2,923.3 1784.9,923.6 1785.5,923.9 1786.1,924.2 1786.8,924.5 1787.4,924.8 1788.0,925.0 1788.7,925.2 1789.3,925.5 1789.9,925.7 1790.6,925.9 1791.2,926.1 1791.8,926.3 1792.5,926.5 1793.1,926.6 1793.7,926.8 1794.4,927.0 1795.0,927.1 1795.6,927.2 1796.3,927.4 1796.9,927.5 1797.5,927.6 1798.2,927.7 1798.8,927.9 1799.4,928.0 1800.1,928.1 1800.7,928.2 1801.3,928.3 1802.0,928.3 1802.6,928.4 1803.2,928.5 1803.9,928.6 1804.5,928.6 1805.2,928.7 1805.8,928.8 1806.4,928.8 1807.1,928.9 1807.7,929.0 1808.3,929.0 1809.0,929.1 1809.6,929.1 1810.2,929.2 1810.9,929.2 1811.5,929.2 1812.1,929.3 1812.8,929.3 1813.4,929.4 1814.0,929.4 1814.7,929.4 1815.3,929.5 1815.9,929.5 1816.6,929.5 1817.2,929.5 1817.8,929.6 1818.5,929.6 1819.1,929.6 1819.7,929.6 1820.4,929.7 1821.0,929.7 1821.6,929.7 1822.3,929.7 1822.9,929.7 1823.5,929.8 1824.2,929.8 1824.8,929.8 1825.4,929.8 1826.1,929.8 1826.7,929.8 1827.3,929.8 1828.0,929.9 1828.6,929.9 1829.2,929.9 1829.9,929.9 1830.5,929.9 1831.1,929.9 1831.8,929.9 1832.4,929.9 1833.0,929.9 1833.7,929.9 1834.3,930.0 1835.0,930.0 1835.6,930.0 1836.2,930.0 1836.9,930.0 1837.5,930.0 1838.1,930.0 1838.8,930.0 1839.4,930.0 1840.0,930.0 1840.7,930.0 1841.3,930.0 1841.9,930.0 1842.6,930.0 1843.2,930.0 1843.8,930.1 1844.5,930.1 1845.1,930.1 1845.7,930.1 1846.4,930.1 1847.0,930.1 1847.6,930.1 1848.3,930.1 1848.9,930.1 1849.5,930.1 1850.2,930.1 1850.8,930.1 1851.4,930.1 1852.1,930.1 1852.7,930.1 1853.3,930.1 1854.0,930.1 1854.6,930.1 1855.2,930.1 1855.9,930.1 1856.5,930.1 1857.1,930.1 1857.8,930.1 1858.4,930.1 1859.0,930.1 1859.7,930.1 1860.3,930.1 1860.9,930.1 1861.6,930.1 1862.2,930.1 1862.8,930.1 1863.5,930.1 1864.1,930.1 1864.7,930.1 1865.4,930.1 1866.0,930.1 1866.6,930.2 1867.3,930.2 1867.9,930.2 1868.6,930.2 1869.2,930.2 1869.8,930.2 1870.5,930.2 1871.1,930.2 1871.7,930.2 1872.4,930.2 1873.0,930.2 1873.6,930.2 1874.3,930.2 1874.9,930.2 1875.5,930.2 1876.2,930.2 1876.8,930.2 1877.4,930.2 1878.1,930.2 1878.7,930.2 1879.3,930.2 1880.0,930.2 1880.6,930.2 1881.2,930.2 1881.9,930.2 1882.5,930.2 1883.1,930.2 1883.8,930.2 1884.4,930.2 1885.0,930.2 1885.7,930.2 1886.3,930.2 1886.9,930.2 1887.6,930.2 1888.2,930.2 1888.8,930.2 1889.5,930.2 1890.1,930.2 1890.7,930.2 1891.4,930.2 1892.0,930.2 1892.6,930.2 1893.3,930.2 1893.9,930.2 1894.5,930.2 1895.2,930.2 1895.8,930.2 1896.4,930.2 1897.1,930.2 1897.7,930.2 1898.3,930.2 1899.0,930.2 1899.6,930.2 1900.3,930.2 1900.9,930.2 1901.5,930.2 1902.2,930.2 1902.8,930.2 1903.4,930.2 1904.1,930.2 1904.7,930.2 1905.3,930.2 1906.0,930.2 1906.6,930.2 1907.2,930.2 1907.9,930.2 1908.5,930.2 1909.1,930.2 1909.8,930.2 1910.4,930.2 1911.0,930.2 1911.7,930.2 1912.3,930.2 1912.9,930.2 1913.6,930.2 1914.2,930.2 1914.8,930.2 1915.5,930.2 1916.1,930.2 1916.7,930.2 1917.4,930.2 1918.0,930.2 1918.6,930.2 1919.3,930.2 1919.9,930.2 1920.5,930.2 1921.2,930.2 1921.8,930.2 1922.4,930.2 1923.1,930.2 1923.7,930.2 1924.3,930.2 1925.0,930.2 1925.6,930.2 1926.2,930.2 1926.9,930.2 1927.5,930.2 1928.1,930.2 1928.8,930.2 1929.4,930.2 1930.0,930.2 1930.7,930.2 1931.3,930.2 1932.0,930.2 1932.6,930.2 1933.2,930.2 1933.9,930.2 1934.5,930.2 1935.1,930.2 1935.8,930.2 1936.4,930.2 1937.0,930.2 1937.7,930.2 1938.3,930.2 1938.9,930.2 1939.6,930.2 1940.2,930.2 1940.8,930.2 1941.5,930.2 1942.1,930.2 1942.7,930.2 1943.4,930.2 1944.0,930.2 1944.6,930.2 1945.3,930.2 1945.9,930.2" fill="none" stroke="#33339a" stroke-width="3.0" stroke-linejoin="round"/>
<rect x="1438.70" y="520.00" width="509.20" height="414.50" fill="none" stroke="#404040" stroke-width="2.2"/>
<line x1="1430.70" y1="933.50" x2="1438.70" y2="933.50" stroke="#404040" stroke-width="2.0"/>
<line x1="1433.70" y1="892.14" x2="1438.70" y2="892.14" stroke="#404040" stroke-width="2.0"/>
<line x1="1430.70" y1="850.78" x2="1438.70" y2="850.78" stroke="#404040" stroke-width="2.0"/>
<line x1="1433.70" y1="809.42" x2="1438.70" y2="809.42" stroke="#404040" stroke-width="2.0"/>
<line x1="1430.70" y1="768.06" x2="1438.70" y2="768.06" stroke="#404040" stroke-width="2.0"/>
<line x1="1433.70" y1="726.70" x2="1438.70" y2="726.70" stroke="#404040" stroke-width="2.0"/>
<line x1="1430.70" y1="685.34" x2="1438.70" y2="685.34" stroke="#404040" stroke-width="2.0"/>
<line x1="1433.70" y1="643.98" x2="1438.70" y2="643.98" stroke="#404040" stroke-width="2.0"/>
<line x1="1430.70" y1="602.62" x2="1438.70" y2="602.62" stroke="#404040" stroke-width="2.0"/>
<line x1="1433.70" y1="561.26" x2="1438.70" y2="561.26" stroke="#404040" stroke-width="2.0"/>
<line x1="1430.70" y1="519.90" x2="1438.70" y2="519.90" stroke="#404040" stroke-width="2.0"/>
<line x1="1438.70" y1="934.50" x2="1438.70" y2="942.50" stroke="#404040" stroke-width="2.0"/>
<line x1="1502.10" y1="934.50" x2="1502.10" y2="939.50" stroke="#404040" stroke-width="2.0"/>
<line x1="1565.50" y1="934.50" x2="1565.50" y2="942.50" stroke="#404040" stroke-width="2.0"/>
<line x1="1628.90" y1="934.50" x2="1628.90" y2="939.50" stroke="#404040" stroke-width="2.0"/>
<line x1="1692.30" y1="934.50" x2="1692.30" y2="942.50" stroke="#404040" stroke-width="2.0"/>
<line x1="1755.70" y1="934.50" x2="1755.70" y2="939.50" stroke="#404040" stroke-width="2.0"/>
<line x1="1819.10" y1="934.50" x2="1819.10" y2="942.50" stroke="#404040" stroke-width="2.0"/>
<line x1="1882.50" y1="934.50" x2="1882.50" y2="939.50" stroke="#404040" stroke-width="2.0"/>
<line x1="1945.90" y1="934.50" x2="1945.90" y2="942.50" stroke="#404040" stroke-width="2.0"/>
<text x="1388.00" y="941.50" font-family='"Liberation Serif", serif' font-size="31.00" fill="#333" textLength="37.00" lengthAdjust="spacingAndGlyphs">0.0</text>
<text x="1388.00" y="858.78" font-family='"Liberation Serif", serif' font-size="31.00" fill="#333" textLength="37.00" lengthAdjust="spacingAndGlyphs">0.2</text>
<text x="1388.00" y="776.06" font-family='"Liberation Serif", serif' font-size="31.00" fill="#333" textLength="37.00" lengthAdjust="spacingAndGlyphs">0.4</text>
<text x="1388.00" y="693.34" font-family='"Liberation Serif", serif' font-size="31.00" fill="#333" textLength="37.00" lengthAdjust="spacingAndGlyphs">0.6</text>
<text x="1388.00" y="610.62" font-family='"Liberation Serif", serif' font-size="31.00" fill="#333" textLength="37.00" lengthAdjust="spacingAndGlyphs">0.8</text>
<text x="1388.00" y="527.90" font-family='"Liberation Serif", serif' font-size="31.00" fill="#333" textLength="37.00" lengthAdjust="spacingAndGlyphs">1.0</text>
<text x="1422.20" y="971.00" font-family='"Liberation Serif", serif' font-size="31.00" fill="#333" textLength="24.00" lengthAdjust="spacingAndGlyphs">-4</text>
<text x="1549.00" y="971.00" font-family='"Liberation Serif", serif' font-size="31.00" fill="#333" textLength="24.00" lengthAdjust="spacingAndGlyphs">-2</text>
<text x="1685.05" y="971.00" font-family='"Liberation Serif", serif' font-size="31.00" fill="#333" textLength="14.50" lengthAdjust="spacingAndGlyphs">0</text>
<text x="1811.85" y="971.00" font-family='"Liberation Serif", serif' font-size="31.00" fill="#333" textLength="14.50" lengthAdjust="spacingAndGlyphs">2</text>
<text x="1938.65" y="971.00" font-family='"Liberation Serif", serif' font-size="31.00" fill="#333" textLength="14.50" lengthAdjust="spacingAndGlyphs">4</text>
<text x="1592.20" y="1017.20" font-family='"Liberation Serif", serif' font-size="31.00" font-weight="bold" fill="#111" textLength="201.39" lengthAdjust="spacingAndGlyphs">Time delay (ps)</text>
<text transform="translate(1371.30,842.90) rotate(-90)" x="0" y="0" font-family='"Liberation Serif", serif' font-size="32.00" font-weight="bold" fill="#111" textLength="194.38" lengthAdjust="spacingAndGlyphs">Intensity (a.u.)</text>
<circle cx="1473.00" cy="546.50" r="4.50" fill="#e8101e" stroke="none" stroke-width="1"/>
<text x="1517.50" y="556.00" font-family='"Liberation Serif", serif' font-size="28.00" fill="#333" textLength="198.79" lengthAdjust="spacingAndGlyphs">Experiment data</text>
<line x1="1438.70" y1="590.50" x2="1509.30" y2="590.50" stroke="#33339a" stroke-width="3.2"/>
<text x="1517.50" y="599.60" font-family='"Liberation Serif", serif' font-size="28.00" fill="#333" textLength="62.99" lengthAdjust="spacingAndGlyphs">Sech</text>
<text x="1582.00" y="583.00" font-family='"Liberation Serif", serif' font-size="13.00" fill="#333" textLength="6.00" lengthAdjust="spacingAndGlyphs">2</text>
<text x="1593.00" y="599.60" font-family='"Liberation Serif", serif' font-size="28.00" fill="#333" textLength="67.01" lengthAdjust="spacingAndGlyphs">fitting</text>
<text x="1494.00" y="713.70" font-family='"Liberation Serif", serif' font-size="41.00" fill="#333" textLength="141.20" lengthAdjust="spacingAndGlyphs">τ=736 fs</text>
<line x1="1530.00" y1="738.20" x2="1633.70" y2="738.20" stroke="#333" stroke-width="2.0"/>
<polygon points="1639.7,738.2 1629.7,734.7 1632.2,738.2 1629.7,741.7" fill="#333"/>
<line x1="1746.20" y1="738.20" x2="1849.50" y2="738.20" stroke="#333" stroke-width="2.0"/>
<polygon points="1740.2,738.2 1750.2,734.7 1747.7,738.2 1750.2,741.7" fill="#333"/>
<text x="1856.00" y="574.50" font-family='"Liberation Serif", serif' font-size="48.00" fill="#222" textLength="46.80" lengthAdjust="spacingAndGlyphs">(f)</text>
<polyline points="108.8,1452.2 109.4,1452.2 110.1,1453.9 110.7,1452.3 111.4,1451.9 112.0,1451.5 112.6,1451.5 113.3,1449.5 113.9,1448.9 114.5,1448.0 115.2,1449.4 115.8,1450.7 116.5,1452.4 117.1,1452.6 117.7,1456.2 118.4,1452.9 119.0,1452.4 119.6,1452.1 120.3,1450.8 120.9,1451.5 121.6,1451.2 122.2,1450.2 122.8,1452.7 123.5,1450.0 124.1,1450.2 124.7,1449.6 125.4,1451.5 126.0,1452.3 126.7,1449.7 127.3,1450.9 127.9,1451.5 128.6,1450.8 129.2,1448.9 129.8,1452.9 130.5,1450.4 131.1,1450.2 131.8,1449.2 132.4,1451.1 133.0,1450.7 133.7,1448.6 134.3,1449.3 134.9,1450.7 135.6,1451.4 136.2,1452.1 136.9,1450.7 137.5,1450.6 138.1,1451.4 138.8,1450.2 139.4,1452.0 140.0,1453.8 140.7,1449.7 141.3,1451.0 142.0,1448.7 142.6,1449.5 143.2,1450.2 143.9,1449.8 144.5,1451.3 145.1,1452.5 145.8,1452.5 146.4,1452.8 147.1,1451.4 147.7,1448.7 148.3,1451.0 149.0,1452.4 149.6,1451.1 150.2,1450.5 150.9,1449.2 151.5,1450.9 152.2,1450.2 152.8,1450.7 153.4,1453.2 154.1,1452.2 154.7,1454.3 155.3,1453.0 156.0,1453.3 156.6,1453.3 157.3,1449.9 157.9,1448.3 158.5,1448.6 159.2,1449.0 159.8,1450.8 160.4,1449.4 161.1,1449.3 161.7,1451.2 162.4,1453.8 163.0,1453.5 163.6,1453.4 164.3,1452.0 164.9,1453.5 165.5,1454.5 166.2,1453.4 166.8,1453.1 167.5,1451.6 168.1,1450.3 168.7,1452.2 169.4,1455.6 170.0,1454.8 170.6,1455.3 171.3,1454.4 171.9,1457.3 172.6,1456.7 173.2,1455.6 173.8,1455.7 174.5,1454.3 175.1,1453.8 175.8,1453.2 176.4,1451.3 177.0,1449.9 177.7,1449.0 178.3,1449.4 178.9,1450.1 179.6,1450.0 180.2,1450.3 180.9,1452.0 181.5,1451.7 182.1,1450.7 182.8,1451.8 183.4,1453.6 184.0,1452.6 184.7,1453.7 185.3,1455.6 186.0,1455.2 186.6,1456.7 187.2,1455.2 187.9,1455.3 188.5,1454.6 189.1,1452.5 189.8,1451.0 190.4,1451.5 191.1,1454.9 191.7,1455.0 192.3,1456.0 193.0,1453.8 193.6,1451.3 194.2,1450.6 194.9,1450.1 195.5,1449.9 196.2,1449.5 196.8,1450.6 197.4,1449.7 198.1,1450.7 198.7,1452.7 199.3,1452.4 200.0,1450.0 200.6,1450.7 201.3,1453.4 201.9,1451.2 202.5,1451.0 203.2,1450.3 203.8,1451.2 204.4,1450.6 205.1,1448.5 205.7,1450.0 206.4,1449.3 207.0,1449.2 207.6,1450.9 208.3,1450.6 208.9,1449.8 209.5,1451.2 210.2,1449.4 210.8,1451.2 211.5,1449.4 212.1,1448.7 212.7,1448.7 213.4,1450.2 214.0,1451.2 214.6,1454.0 215.3,1453.0 215.9,1452.3 216.6,1450.9 217.2,1449.1 217.8,1448.9 218.5,1449.5 219.1,1448.0 219.7,1448.3 220.4,1448.5 221.0,1450.3 221.7,1448.4 222.3,1449.4 222.9,1446.5 223.6,1448.2 224.2,1448.9 224.8,1448.6 225.5,1449.5 226.1,1451.1 226.8,1451.9 227.4,1452.0 228.0,1451.2 228.7,1448.9 229.3,1447.6 229.9,1447.0 230.6,1445.9 231.2,1449.1 231.9,1449.4 232.5,1449.4 233.1,1450.1 233.8,1448.4 234.4,1448.7 235.0,1449.4 235.7,1447.2 236.3,1447.6 237.0,1447.3 237.6,1448.7 238.2,1446.3 238.9,1445.7 239.5,1443.2 240.2,1440.1 240.8,1439.9 241.4,1441.0 242.1,1442.4 242.7,1439.9 243.3,1440.5 244.0,1439.6 244.6,1439.3 245.3,1443.9 245.9,1442.4 246.5,1440.9 247.2,1439.6 247.8,1438.8 248.4,1437.4 249.1,1437.8 249.7,1435.4 250.4,1434.8 251.0,1432.7 251.6,1428.4 252.3,1426.2 252.9,1425.1 253.5,1420.6 254.2,1417.6 254.8,1410.2 255.5,1399.4 256.1,1390.1 256.7,1376.4 257.4,1360.6 258.0,1339.7 258.6,1315.4 259.3,1288.6 259.9,1260.2 260.6,1232.7 261.2,1203.0 261.8,1174.2 262.5,1146.9 263.1,1128.8 263.7,1112.1 264.4,1105.8 265.0,1108.5 265.7,1114.1 266.3,1129.1 266.9,1152.0 267.6,1177.6 268.2,1205.7 268.8,1238.1 269.5,1265.9 270.1,1295.7 270.8,1320.3 271.4,1344.1 272.0,1365.9 272.7,1382.4 273.3,1395.7 273.9,1405.4 274.6,1415.5 275.2,1422.4 275.9,1425.8 276.5,1429.5 277.1,1432.5 277.8,1433.6 278.4,1436.9 279.0,1435.0 279.7,1437.5 280.3,1438.0 281.0,1439.2 281.6,1438.7 282.2,1440.4 282.9,1442.3 283.5,1442.4 284.1,1442.1 284.8,1443.0 285.4,1440.8 286.1,1441.0 286.7,1440.3 287.3,1440.1 288.0,1440.3 288.6,1442.2 289.2,1441.2 289.9,1443.2 290.5,1444.1 291.2,1443.1 291.8,1443.0 292.4,1445.7 293.1,1446.8 293.7,1448.4 294.3,1446.8 295.0,1447.8 295.6,1448.0 296.3,1449.1 296.9,1449.8 297.5,1448.6 298.2,1450.1 298.8,1449.8 299.4,1450.3 300.1,1450.6 300.7,1452.0 301.4,1449.7 302.0,1451.9 302.6,1452.9 303.3,1452.7 303.9,1451.8 304.6,1452.3 305.2,1453.8 305.8,1453.4 306.5,1453.8 307.1,1453.7 307.7,1450.5 308.4,1453.1 309.0,1452.3 309.7,1451.1 310.3,1451.4 310.9,1451.4 311.6,1449.6 312.2,1449.9 312.8,1452.2 313.5,1452.1 314.1,1451.0 314.8,1451.3 315.4,1451.7 316.0,1451.0 316.7,1451.3 317.3,1450.8 317.9,1449.7 318.6,1450.5 319.2,1452.5 319.9,1450.0 320.5,1449.4 321.1,1450.6 321.8,1452.3 322.4,1451.7 323.0,1451.0 323.7,1450.0 324.3,1449.5 325.0,1450.2 325.6,1450.7 326.2,1452.5 326.9,1452.9 327.5,1452.8 328.1,1450.7 328.8,1452.3 329.4,1449.2 330.1,1448.2 330.7,1449.3 331.3,1450.3 332.0,1450.0 332.6,1449.5 333.2,1448.7 333.9,1451.4 334.5,1451.6 335.2,1450.6 335.8,1449.3 336.4,1448.9 337.1,1449.4 337.7,1449.2 338.3,1450.2 339.0,1448.0 339.6,1447.4 340.3,1447.6 340.9,1449.1 341.5,1449.6 342.2,1449.3 342.8,1449.6 343.4,1447.7 344.1,1445.7 344.7,1445.6 345.4,1448.5 346.0,1448.2 346.6,1449.6 347.3,1449.9 347.9,1447.6 348.5,1450.8 349.2,1452.7 349.8,1453.2 350.5,1451.7 351.1,1452.1 351.7,1454.6 352.4,1453.3 353.0,1451.9 353.6,1450.1 354.3,1450.3 354.9,1449.1 355.6,1450.5 356.2,1449.6 356.8,1448.5 357.5,1449.7 358.1,1450.7 358.7,1449.3 359.4,1451.0 360.0,1452.4 360.7,1452.2 361.3,1451.4 361.9,1450.3 362.6,1451.3 363.2,1450.8 363.9,1452.3 364.5,1453.8 365.1,1450.1 365.8,1451.6 366.4,1453.7 367.0,1452.9 367.7,1453.7 368.3,1452.4 369.0,1455.7 369.6,1456.3 370.2,1453.9 370.9,1453.1 371.5,1454.1 372.1,1451.6 372.8,1450.4 373.4,1451.3 374.1,1450.0 374.7,1449.7 375.3,1452.0 376.0,1453.1 376.6,1452.6 377.2,1454.0 377.9,1455.6 378.5,1455.4 379.2,1453.6 379.8,1453.1 380.4,1454.2 381.1,1457.0 381.7,1454.7 382.3,1454.4 383.0,1452.7 383.6,1452.7 384.3,1453.2 384.9,1452.6 385.5,1453.4 386.2,1453.8 386.8,1454.5 387.4,1456.8 388.1,1454.2 388.7,1452.1 389.4,1452.8 390.0,1453.0 390.6,1449.6 391.3,1449.3 391.9,1450.4 392.5,1452.3 393.2,1449.7 393.8,1448.3 394.5,1450.1 395.1,1449.4 395.7,1451.1 396.4,1451.4 397.0,1449.8 397.6,1450.4 398.3,1451.4 398.9,1453.1 399.6,1451.7 400.2,1451.6 400.8,1452.9 401.5,1449.5 402.1,1450.5 402.7,1451.1 403.4,1450.3 404.0,1450.5 404.7,1450.3 405.3,1449.6 405.9,1450.2 406.6,1451.3 407.2,1451.2 407.8,1449.3 408.5,1449.3 409.1,1447.1 409.8,1447.4 410.4,1449.0 411.0,1448.6 411.7,1448.8 412.3,1449.4 412.9,1449.4 413.6,1447.8 414.2,1446.7 414.9,1446.6 415.5,1446.6 416.1,1446.0 416.8,1445.4 417.4,1445.4 418.0,1446.8 418.7,1445.3 419.3,1444.2 420.0,1443.1 420.6,1448.0 421.2,1446.9 421.9,1446.5 422.5,1450.2 423.1,1447.6 423.8,1449.8 424.4,1449.5 425.1,1448.3 425.7,1446.2 426.3,1446.3 427.0,1446.9 427.6,1448.9 428.3,1448.2 428.9,1446.5 429.5,1447.8 430.2,1444.9 430.8,1448.5 431.4,1448.1 432.1,1447.5 432.7,1446.4 433.4,1445.1 434.0,1443.0 434.6,1443.6 435.3,1445.3 435.9,1446.0 436.5,1445.2 437.2,1445.3 437.8,1444.5 438.5,1443.6 439.1,1442.6 439.7,1440.4 440.4,1439.3 441.0,1440.7 441.6,1440.8 442.3,1440.4 442.9,1439.9 443.6,1437.5 444.2,1435.3 444.8,1434.2 445.5,1431.4 446.1,1432.3 446.7,1431.3 447.4,1428.5 448.0,1427.5 448.7,1426.9 449.3,1425.9 449.9,1421.8 450.6,1417.9 451.2,1412.0 451.8,1406.0 452.5,1401.9 453.1,1397.5 453.8,1392.1 454.4,1384.5 455.0,1372.2 455.7,1362.2 456.3,1351.4 456.9,1338.6 457.6,1324.3 458.2,1311.2 458.9,1297.8 459.5,1284.7 460.1,1269.7 460.8,1258.9 461.4,1249.4 462.0,1242.6 462.7,1242.2 463.3,1240.9 464.0,1245.1 464.6,1250.8 465.2,1261.2 465.9,1269.7 466.5,1281.3 467.1,1295.8 467.8,1307.7 468.4,1323.1 469.1,1334.8 469.7,1348.4 470.3,1357.7 471.0,1371.4 471.6,1380.9 472.2,1391.6 472.9,1400.7 473.5,1407.3 474.2,1412.3 474.8,1417.8 475.4,1420.1 476.1,1420.5 476.7,1422.2 477.3,1425.8 478.0,1424.9 478.6,1429.3 479.3,1428.3 479.9,1430.3 480.5,1432.9 481.2,1433.8 481.8,1434.5 482.4,1433.7 483.1,1433.8 483.7,1435.3 484.4,1434.8 485.0,1436.2 485.6,1438.3 486.3,1440.2 486.9,1441.4 487.5,1440.6 488.2,1440.9 488.8,1439.6 489.5,1441.6 490.1,1441.1 490.7,1440.3 491.4,1440.1 492.0,1439.6 492.7,1443.6 493.3,1444.5 493.9,1444.5 494.6,1443.2 495.2,1440.7 495.8,1437.4 496.5,1438.9 497.1,1439.3 497.8,1438.1 498.4,1439.1 499.0,1437.5 499.7,1437.9 500.3,1438.0 500.9,1437.2 501.6,1434.9 502.2,1435.3 502.9,1436.7 503.5,1434.8 504.1,1434.4 504.8,1435.8 505.4,1437.7 506.0,1437.1 506.7,1437.1 507.3,1437.1 508.0,1435.7 508.6,1433.7 509.2,1431.3 509.9,1430.8 510.5,1431.9 511.1,1432.8 511.8,1433.4 512.4,1430.9 513.1,1431.8 513.7,1430.7 514.3,1430.4 515.0,1428.6 515.6,1426.8 516.2,1424.8 516.9,1420.0 517.5,1416.7 518.2,1415.0 518.8,1413.7 519.4,1409.4 520.1,1405.8 520.7,1401.2 521.3,1397.0 522.0,1389.3 522.6,1380.8 523.3,1370.5 523.9,1359.6 524.5,1346.7 525.2,1333.8 525.8,1315.7 526.4,1297.2 527.1,1275.4 527.7,1255.4 528.4,1234.4 529.0,1211.0 529.6,1190.4 530.3,1169.2 530.9,1151.0 531.5,1135.5 532.2,1125.9 532.8,1116.2 533.5,1111.7 534.1,1113.8 534.7,1116.7 535.4,1129.0 536.0,1142.0 536.6,1154.9 537.3,1173.3 537.9,1195.8 538.6,1217.0 539.2,1238.4 539.8,1265.3 540.5,1285.6 541.1,1304.7 541.7,1320.2 542.4,1336.5 543.0,1352.8 543.7,1365.6 544.3,1373.2 544.9,1382.9 545.6,1388.3 546.2,1394.5 546.8,1401.9 547.5,1406.0 548.1,1410.1 548.8,1413.1 549.4,1416.2 550.0,1420.2 550.7,1421.1 551.3,1423.3 551.9,1425.7 552.6,1427.4 553.2,1429.5 553.9,1430.8 554.5,1432.1 555.1,1434.9 555.8,1433.1 556.4,1433.9 557.1,1435.3 557.7,1438.4 558.3,1436.8 559.0,1437.0 559.6,1436.6 560.2,1437.8 560.9,1437.7 561.5,1439.5 562.2,1440.2 562.8,1438.9 563.4,1437.1 564.1,1438.6 564.7,1441.7 565.3,1442.0 566.0,1442.1 566.6,1444.2 567.3,1445.7 567.9,1442.3 568.5,1443.0 569.2,1444.5 569.8,1444.2 570.4,1446.7 571.1,1448.9 571.7,1449.3 572.4,1447.5 573.0,1446.0 573.6,1445.9 574.3,1443.8 574.9,1446.7 575.5,1448.5 576.2,1446.3 576.8,1445.6 577.5,1446.3 578.1,1446.1 578.7,1447.5 579.4,1445.0 580.0,1446.5 580.6,1445.8 581.3,1446.8 581.9,1448.1 582.6,1450.2 583.2,1450.2 583.8,1450.1 584.5,1451.0 585.1,1452.6 585.7,1453.5 586.4,1454.6 587.0,1451.5 587.7,1451.3 588.3,1451.8 588.9,1450.0 589.6,1449.4 590.2,1448.6 590.8,1447.4 591.5,1448.1 592.1,1451.1 592.8,1450.1 593.4,1449.8 594.0,1450.1 594.7,1451.3 595.3,1450.0 595.9,1449.7 596.6,1447.5 597.2,1449.8 597.9,1451.5 598.5,1450.4 599.1,1449.6 599.8,1450.1 600.4,1448.5 601.0,1448.8 601.7,1447.4 602.3,1448.2 603.0,1448.2 603.6,1447.8 604.2,1449.7 604.9,1448.4 605.5,1449.6 606.1,1448.5 606.8,1450.1 607.4,1453.1 608.1,1452.1 608.7,1453.8 609.3,1450.0 610.0,1452.7 610.6,1453.6 611.2,1451.3 611.9,1450.0 612.5,1450.9 613.2,1448.4 613.8,1446.5 614.4,1448.7 615.1,1449.4 615.7,1449.2 616.3,1448.5 617.0,1449.0 617.6,1448.4 618.3,1450.3 618.9,1450.5" fill="none" stroke="#e8141c" stroke-width="2.2" stroke-linejoin="round"/>
<rect x="108.60" y="1083.30" width="511.00" height="374.10" fill="none" stroke="#4a4546" stroke-width="2.2"/>
<line x1="100.60" y1="1457.30" x2="108.60" y2="1457.30" stroke="#4a4546" stroke-width="2.2"/>
<line x1="100.60" y1="1382.50" x2="108.60" y2="1382.50" stroke="#4a4546" stroke-width="2.2"/>
<line x1="100.60" y1="1307.70" x2="108.60" y2="1307.70" stroke="#4a4546" stroke-width="2.2"/>
<line x1="100.60" y1="1232.90" x2="108.60" y2="1232.90" stroke="#4a4546" stroke-width="2.2"/>
<line x1="100.60" y1="1158.10" x2="108.60" y2="1158.10" stroke="#4a4546" stroke-width="2.2"/>
<line x1="100.60" y1="1083.30" x2="108.60" y2="1083.30" stroke="#4a4546" stroke-width="2.2"/>
<line x1="104.10" y1="1419.90" x2="108.60" y2="1419.90" stroke="#4a4546" stroke-width="2.2"/>
<line x1="104.10" y1="1345.10" x2="108.60" y2="1345.10" stroke="#4a4546" stroke-width="2.2"/>
<line x1="104.10" y1="1270.30" x2="108.60" y2="1270.30" stroke="#4a4546" stroke-width="2.2"/>
<line x1="104.10" y1="1195.50" x2="108.60" y2="1195.50" stroke="#4a4546" stroke-width="2.2"/>
<line x1="104.10" y1="1120.70" x2="108.60" y2="1120.70" stroke="#4a4546" stroke-width="2.2"/>
<line x1="108.80" y1="1457.40" x2="108.80" y2="1465.40" stroke="#4a4546" stroke-width="2.2"/>
<line x1="236.32" y1="1457.40" x2="236.32" y2="1465.40" stroke="#4a4546" stroke-width="2.2"/>
<line x1="363.85" y1="1457.40" x2="363.85" y2="1465.40" stroke="#4a4546" stroke-width="2.2"/>
<line x1="491.38" y1="1457.40" x2="491.38" y2="1465.40" stroke="#4a4546" stroke-width="2.2"/>
<line x1="618.90" y1="1457.40" x2="618.90" y2="1465.40" stroke="#4a4546" stroke-width="2.2"/>
<line x1="172.56" y1="1457.40" x2="172.56" y2="1461.90" stroke="#4a4546" stroke-width="2.2"/>
<line x1="300.09" y1="1457.40" x2="300.09" y2="1461.90" stroke="#4a4546" stroke-width="2.2"/>
<line x1="427.61" y1="1457.40" x2="427.61" y2="1461.90" stroke="#4a4546" stroke-width="2.2"/>
<line x1="555.14" y1="1457.40" x2="555.14" y2="1461.90" stroke="#4a4546" stroke-width="2.2"/>
<text x="55.70" y="1464.30" font-family='"Liberation Serif", serif' font-size="28.50" font-weight="bold" fill="#1a1a1a" textLength="38.80" lengthAdjust="spacingAndGlyphs">0.0</text>
<text x="55.70" y="1389.50" font-family='"Liberation Serif", serif' font-size="28.50" font-weight="bold" fill="#1a1a1a" textLength="38.80" lengthAdjust="spacingAndGlyphs">0.2</text>
<text x="55.70" y="1314.70" font-family='"Liberation Serif", serif' font-size="28.50" font-weight="bold" fill="#1a1a1a" textLength="38.80" lengthAdjust="spacingAndGlyphs">0.4</text>
<text x="55.70" y="1239.90" font-family='"Liberation Serif", serif' font-size="28.50" font-weight="bold" fill="#1a1a1a" textLength="38.80" lengthAdjust="spacingAndGlyphs">0.6</text>
<text x="55.70" y="1165.10" font-family='"Liberation Serif", serif' font-size="28.50" font-weight="bold" fill="#1a1a1a" textLength="38.80" lengthAdjust="spacingAndGlyphs">0.8</text>
<text x="55.70" y="1090.30" font-family='"Liberation Serif", serif' font-size="28.50" font-weight="bold" fill="#1a1a1a" textLength="38.80" lengthAdjust="spacingAndGlyphs">1.0</text>
<text x="83.80" y="1492.90" font-family='"Liberation Serif", serif' font-size="28.50" font-weight="bold" fill="#1a1a1a" textLength="50.00" lengthAdjust="spacingAndGlyphs">300</text>
<text x="211.32" y="1492.90" font-family='"Liberation Serif", serif' font-size="28.50" font-weight="bold" fill="#1a1a1a" textLength="50.00" lengthAdjust="spacingAndGlyphs">350</text>
<text x="338.85" y="1492.90" font-family='"Liberation Serif", serif' font-size="28.50" font-weight="bold" fill="#1a1a1a" textLength="50.00" lengthAdjust="spacingAndGlyphs">400</text>
<text x="466.38" y="1492.90" font-family='"Liberation Serif", serif' font-size="28.50" font-weight="bold" fill="#1a1a1a" textLength="50.00" lengthAdjust="spacingAndGlyphs">450</text>
<text x="593.90" y="1492.90" font-family='"Liberation Serif", serif' font-size="28.50" font-weight="bold" fill="#1a1a1a" textLength="50.00" lengthAdjust="spacingAndGlyphs">500</text>
<text x="187.50" y="1527.00" font-family='"Liberation Serif", serif' font-size="30.00" font-weight="bold" fill="#1a1a1a" textLength="333.99" lengthAdjust="spacingAndGlyphs">Wavelength number (cm</text>
<text x="523.00" y="1510.00" font-family='"Liberation Serif", serif' font-size="13.00" font-weight="bold" fill="#1a1a1a" textLength="7.50" lengthAdjust="spacingAndGlyphs">-1</text>
<text x="530.00" y="1527.00" font-family='"Liberation Serif", serif' font-size="30.00" font-weight="bold" fill="#1a1a1a" textLength="9.70" lengthAdjust="spacingAndGlyphs">)</text>
<text transform="translate(29.60,1366.50) rotate(-90)" x="0" y="0" font-family='"Liberation Serif", serif' font-size="30.80" font-weight="bold" fill="#1a1a1a" textLength="191.19" lengthAdjust="spacingAndGlyphs">Intensity (a.u.)</text>
<text x="125.00" y="1193.00" font-family='"Liberation Serif", serif' font-size="48.00" fill="#1a1a1a" textLength="54.30" lengthAdjust="spacingAndGlyphs">(g)</text>
<text x="204.70" y="1143.30" font-family='"Liberation Serif", serif' font-size="21.50" font-weight="bold" fill="#1a1a1a" textLength="17.30" lengthAdjust="spacingAndGlyphs">A</text>
<text x="223.00" y="1125.00" font-family='"Liberation Serif", serif' font-size="11.00" font-weight="bold" fill="#1a1a1a" textLength="6.00" lengthAdjust="spacingAndGlyphs">1</text>
<text x="223.00" y="1154.00" font-family='"Liberation Serif", serif' font-size="11.00" font-weight="bold" fill="#1a1a1a" textLength="8.00" lengthAdjust="spacingAndGlyphs">g</text>
<text x="412.20" y="1248.00" font-family='"Liberation Serif", serif' font-size="21.50" font-weight="bold" fill="#1a1a1a" textLength="16.30" lengthAdjust="spacingAndGlyphs">B</text>
<text x="429.50" y="1260.50" font-family='"Liberation Serif", serif' font-size="13.00" font-weight="bold" fill="#1a1a1a" textLength="18.20" lengthAdjust="spacingAndGlyphs">2g</text>
<text x="548.40" y="1140.70" font-family='"Liberation Serif", serif' font-size="21.50" font-weight="bold" fill="#1a1a1a" textLength="17.20" lengthAdjust="spacingAndGlyphs">A</text>
<text x="566.00" y="1123.50" font-family='"Liberation Serif", serif' font-size="11.00" font-weight="bold" fill="#1a1a1a" textLength="8.00" lengthAdjust="spacingAndGlyphs">2</text>
<text x="566.00" y="1152.50" font-family='"Liberation Serif", serif' font-size="11.00" font-weight="bold" fill="#1a1a1a" textLength="9.00" lengthAdjust="spacingAndGlyphs">g</text>
<g><circle cx="764.48" cy="1422.58" r="5.60" fill="none" stroke="#4248b0" stroke-width="1.7"/><circle cx="767.33" cy="1412.02" r="5.60" fill="none" stroke="#4248b0" stroke-width="1.7"/><circle cx="770.17" cy="1431.59" r="5.60" fill="none" stroke="#4248b0" stroke-width="1.7"/><circle cx="773.01" cy="1428.63" r="5.60" fill="none" stroke="#4248b0" stroke-width="1.7"/><circle cx="775.85" cy="1435.91" r="5.60" fill="none" stroke="#4248b0" stroke-width="1.7"/><circle cx="778.70" cy="1436.97" r="5.60" fill="none" stroke="#4248b0" stroke-width="1.7"/><circle cx="781.54" cy="1433.01" r="5.60" fill="none" stroke="#4248b0" stroke-width="1.7"/><circle cx="784.38" cy="1422.74" r="5.60" fill="none" stroke="#4248b0" stroke-width="1.7"/><circle cx="787.22" cy="1430.67" r="5.60" fill="none" stroke="#4248b0" stroke-width="1.7"/><circle cx="790.07" cy="1434.78" r="5.60" fill="none" stroke="#4248b0" stroke-width="1.7"/><circle cx="792.91" cy="1421.49" r="5.60" fill="none" stroke="#4248b0" stroke-width="1.7"/><circle cx="795.75" cy="1423.17" r="5.60" fill="none" stroke="#4248b0" stroke-width="1.7"/><circle cx="798.59" cy="1430.60" r="5.60" fill="none" stroke="#4248b0" stroke-width="1.7"/><circle cx="801.44" cy="1438.17" r="5.60" fill="none" stroke="#4248b0" stroke-width="1.7"/><circle cx="804.28" cy="1418.42" r="5.60" fill="none" stroke="#4248b0" stroke-width="1.7"/><circle cx="807.12" cy="1414.71" r="5.60" fill="none" stroke="#4248b0" stroke-width="1.7"/><circle cx="809.96" cy="1445.51" r="5.60" fill="none" stroke="#4248b0" stroke-width="1.7"/><circle cx="812.80" cy="1424.09" r="5.60" fill="none" stroke="#4248b0" stroke-width="1.7"/><circle cx="815.65" cy="1433.20" r="5.60" fill="none" stroke="#4248b0" stroke-width="1.7"/><circle cx="818.49" cy="1412.09" r="5.60" fill="none" stroke="#4248b0" stroke-width="1.7"/><circle cx="821.33" cy="1431.41" r="5.60" fill="none" stroke="#4248b0" stroke-width="1.7"/><circle cx="824.17" cy="1417.49" r="5.60" fill="none" stroke="#4248b0" stroke-width="1.7"/><circle cx="827.02" cy="1420.20" r="5.60" fill="none" stroke="#4248b0" stroke-width="1.7"/><circle cx="829.86" cy="1425.92" r="5.60" fill="none" stroke="#4248b0" stroke-width="1.7"/><circle cx="832.70" cy="1425.70" r="5.60" fill="none" stroke="#4248b0" stroke-width="1.7"/><circle cx="835.54" cy="1423.14" r="5.60" fill="none" stroke="#4248b0" stroke-width="1.7"/><circle cx="838.39" cy="1420.71" r="5.60" fill="none" stroke="#4248b0" stroke-width="1.7"/><circle cx="841.23" cy="1430.03" r="5.60" fill="none" stroke="#4248b0" stroke-width="1.7"/><circle cx="844.07" cy="1431.66" r="5.60" fill="none" stroke="#4248b0" stroke-width="1.7"/><circle cx="846.91" cy="1424.14" r="5.60" fill="none" stroke="#4248b0" stroke-width="1.7"/><circle cx="849.76" cy="1422.60" r="5.60" fill="none" stroke="#4248b0" stroke-width="1.7"/><circle cx="852.60" cy="1435.03" r="5.60" fill="none" stroke="#4248b0" stroke-width="1.7"/><circle cx="855.44" cy="1419.31" r="5.60" fill="none" stroke="#4248b0" stroke-width="1.7"/><circle cx="858.28" cy="1415.04" r="5.60" fill="none" stroke="#4248b0" stroke-width="1.7"/><circle cx="861.13" cy="1436.49" r="5.60" fill="none" stroke="#4248b0" stroke-width="1.7"/><circle cx="863.97" cy="1431.13" r="5.60" fill="none" stroke="#4248b0" stroke-width="1.7"/><circle cx="866.81" cy="1441.70" r="5.60" fill="none" stroke="#4248b0" stroke-width="1.7"/><circle cx="869.65" cy="1418.28" r="5.60" fill="none" stroke="#4248b0" stroke-width="1.7"/><circle cx="872.50" cy="1437.39" r="5.60" fill="none" stroke="#4248b0" stroke-width="1.7"/><circle cx="875.34" cy="1421.91" r="5.60" fill="none" stroke="#4248b0" stroke-width="1.7"/><circle cx="878.18" cy="1427.45" r="5.60" fill="none" stroke="#4248b0" stroke-width="1.7"/><circle cx="881.02" cy="1415.26" r="5.60" fill="none" stroke="#4248b0" stroke-width="1.7"/><circle cx="883.86" cy="1410.61" r="5.60" fill="none" stroke="#4248b0" stroke-width="1.7"/><circle cx="886.71" cy="1411.22" r="5.60" fill="none" stroke="#4248b0" stroke-width="1.7"/><circle cx="889.55" cy="1415.65" r="5.60" fill="none" stroke="#4248b0" stroke-width="1.7"/><circle cx="892.39" cy="1408.53" r="5.60" fill="none" stroke="#4248b0" stroke-width="1.7"/><circle cx="895.23" cy="1418.84" r="5.60" fill="none" stroke="#4248b0" stroke-width="1.7"/><circle cx="898.08" cy="1403.79" r="5.60" fill="none" stroke="#4248b0" stroke-width="1.7"/><circle cx="900.92" cy="1398.27" r="5.60" fill="none" stroke="#4248b0" stroke-width="1.7"/><circle cx="903.76" cy="1395.66" r="5.60" fill="none" stroke="#4248b0" stroke-width="1.7"/><circle cx="906.60" cy="1396.80" r="5.60" fill="none" stroke="#4248b0" stroke-width="1.7"/><circle cx="909.45" cy="1396.29" r="5.60" fill="none" stroke="#4248b0" stroke-width="1.7"/><circle cx="912.29" cy="1394.28" r="5.60" fill="none" stroke="#4248b0" stroke-width="1.7"/><circle cx="915.13" cy="1387.92" r="5.60" fill="none" stroke="#4248b0" stroke-width="1.7"/><circle cx="917.97" cy="1375.60" r="5.60" fill="none" stroke="#4248b0" stroke-width="1.7"/><circle cx="920.82" cy="1377.68" r="5.60" fill="none" stroke="#4248b0" stroke-width="1.7"/><circle cx="923.66" cy="1371.83" r="5.60" fill="none" stroke="#4248b0" stroke-width="1.7"/><circle cx="926.50" cy="1371.42" r="5.60" fill="none" stroke="#4248b0" stroke-width="1.7"/><circle cx="929.34" cy="1357.16" r="5.60" fill="none" stroke="#4248b0" stroke-width="1.7"/><circle cx="932.19" cy="1344.22" r="5.60" fill="none" stroke="#4248b0" stroke-width="1.7"/><circle cx="935.03" cy="1340.28" r="5.60" fill="none" stroke="#4248b0" stroke-width="1.7"/><circle cx="937.87" cy="1361.47" r="5.60" fill="none" stroke="#4248b0" stroke-width="1.7"/><circle cx="940.71" cy="1352.56" r="5.60" fill="none" stroke="#4248b0" stroke-width="1.7"/><circle cx="943.56" cy="1347.40" r="5.60" fill="none" stroke="#4248b0" stroke-width="1.7"/><circle cx="946.40" cy="1334.99" r="5.60" fill="none" stroke="#4248b0" stroke-width="1.7"/><circle cx="949.24" cy="1309.30" r="5.60" fill="none" stroke="#4248b0" stroke-width="1.7"/><circle cx="952.08" cy="1319.84" r="5.60" fill="none" stroke="#4248b0" stroke-width="1.7"/><circle cx="954.92" cy="1307.94" r="5.60" fill="none" stroke="#4248b0" stroke-width="1.7"/><circle cx="957.77" cy="1301.78" r="5.60" fill="none" stroke="#4248b0" stroke-width="1.7"/><circle cx="960.61" cy="1306.13" r="5.60" fill="none" stroke="#4248b0" stroke-width="1.7"/><circle cx="963.45" cy="1291.25" r="5.60" fill="none" stroke="#4248b0" stroke-width="1.7"/><circle cx="966.29" cy="1277.89" r="5.60" fill="none" stroke="#4248b0" stroke-width="1.7"/><circle cx="969.14" cy="1268.99" r="5.60" fill="none" stroke="#4248b0" stroke-width="1.7"/><circle cx="971.98" cy="1254.73" r="5.60" fill="none" stroke="#4248b0" stroke-width="1.7"/><circle cx="974.82" cy="1245.38" r="5.60" fill="none" stroke="#4248b0" stroke-width="1.7"/><circle cx="977.66" cy="1232.98" r="5.60" fill="none" stroke="#4248b0" stroke-width="1.7"/><circle cx="980.51" cy="1233.53" r="5.60" fill="none" stroke="#4248b0" stroke-width="1.7"/><circle cx="983.35" cy="1202.22" r="5.60" fill="none" stroke="#4248b0" stroke-width="1.7"/><circle cx="986.19" cy="1196.04" r="5.60" fill="none" stroke="#4248b0" stroke-width="1.7"/><circle cx="989.03" cy="1195.57" r="5.60" fill="none" stroke="#4248b0" stroke-width="1.7"/><circle cx="991.88" cy="1184.05" r="5.60" fill="none" stroke="#4248b0" stroke-width="1.7"/><circle cx="994.72" cy="1177.91" r="5.60" fill="none" stroke="#4248b0" stroke-width="1.7"/><circle cx="997.56" cy="1177.54" r="5.60" fill="none" stroke="#4248b0" stroke-width="1.7"/><circle cx="1000.40" cy="1149.04" r="5.60" fill="none" stroke="#4248b0" stroke-width="1.7"/><circle cx="1003.25" cy="1150.73" r="5.60" fill="none" stroke="#4248b0" stroke-width="1.7"/><circle cx="1006.09" cy="1132.52" r="5.60" fill="none" stroke="#4248b0" stroke-width="1.7"/><circle cx="1008.93" cy="1123.82" r="5.60" fill="none" stroke="#4248b0" stroke-width="1.7"/><circle cx="1011.77" cy="1142.20" r="5.60" fill="none" stroke="#4248b0" stroke-width="1.7"/><circle cx="1014.62" cy="1137.56" r="5.60" fill="none" stroke="#4248b0" stroke-width="1.7"/><circle cx="1017.46" cy="1122.59" r="5.60" fill="none" stroke="#4248b0" stroke-width="1.7"/><circle cx="1020.30" cy="1130.48" r="5.60" fill="none" stroke="#4248b0" stroke-width="1.7"/><circle cx="1023.14" cy="1132.07" r="5.60" fill="none" stroke="#4248b0" stroke-width="1.7"/><circle cx="1025.98" cy="1131.81" r="5.60" fill="none" stroke="#4248b0" stroke-width="1.7"/><circle cx="1028.83" cy="1128.19" r="5.60" fill="none" stroke="#4248b0" stroke-width="1.7"/><circle cx="1031.67" cy="1146.60" r="5.60" fill="none" stroke="#4248b0" stroke-width="1.7"/><circle cx="1034.51" cy="1140.35" r="5.60" fill="none" stroke="#4248b0" stroke-width="1.7"/><circle cx="1037.35" cy="1138.46" r="5.60" fill="none" stroke="#4248b0" stroke-width="1.7"/><circle cx="1040.20" cy="1158.83" r="5.60" fill="none" stroke="#4248b0" stroke-width="1.7"/><circle cx="1043.04" cy="1165.30" r="5.60" fill="none" stroke="#4248b0" stroke-width="1.7"/><circle cx="1045.88" cy="1167.46" r="5.60" fill="none" stroke="#4248b0" stroke-width="1.7"/><circle cx="1048.72" cy="1172.48" r="5.60" fill="none" stroke="#4248b0" stroke-width="1.7"/><circle cx="1051.57" cy="1182.04" r="5.60" fill="none" stroke="#4248b0" stroke-width="1.7"/><circle cx="1054.41" cy="1196.10" r="5.60" fill="none" stroke="#4248b0" stroke-width="1.7"/><circle cx="1057.25" cy="1197.29" r="5.60" fill="none" stroke="#4248b0" stroke-width="1.7"/><circle cx="1060.09" cy="1225.78" r="5.60" fill="none" stroke="#4248b0" stroke-width="1.7"/><circle cx="1062.94" cy="1218.08" r="5.60" fill="none" stroke="#4248b0" stroke-width="1.7"/><circle cx="1065.78" cy="1236.99" r="5.60" fill="none" stroke="#4248b0" stroke-width="1.7"/><circle cx="1068.62" cy="1254.44" r="5.60" fill="none" stroke="#4248b0" stroke-width="1.7"/><circle cx="1071.46" cy="1273.59" r="5.60" fill="none" stroke="#4248b0" stroke-width="1.7"/><circle cx="1074.31" cy="1259.76" r="5.60" fill="none" stroke="#4248b0" stroke-width="1.7"/><circle cx="1077.15" cy="1279.70" r="5.60" fill="none" stroke="#4248b0" stroke-width="1.7"/><circle cx="1079.99" cy="1286.64" r="5.60" fill="none" stroke="#4248b0" stroke-width="1.7"/><circle cx="1082.83" cy="1287.52" r="5.60" fill="none" stroke="#4248b0" stroke-width="1.7"/><circle cx="1085.68" cy="1311.86" r="5.60" fill="none" stroke="#4248b0" stroke-width="1.7"/><circle cx="1088.52" cy="1310.58" r="5.60" fill="none" stroke="#4248b0" stroke-width="1.7"/><circle cx="1091.36" cy="1317.75" r="5.60" fill="none" stroke="#4248b0" stroke-width="1.7"/><circle cx="1094.20" cy="1318.97" r="5.60" fill="none" stroke="#4248b0" stroke-width="1.7"/><circle cx="1097.04" cy="1336.49" r="5.60" fill="none" stroke="#4248b0" stroke-width="1.7"/><circle cx="1099.89" cy="1330.88" r="5.60" fill="none" stroke="#4248b0" stroke-width="1.7"/><circle cx="1102.73" cy="1356.12" r="5.60" fill="none" stroke="#4248b0" stroke-width="1.7"/><circle cx="1105.57" cy="1358.09" r="5.60" fill="none" stroke="#4248b0" stroke-width="1.7"/><circle cx="1108.41" cy="1368.28" r="5.60" fill="none" stroke="#4248b0" stroke-width="1.7"/><circle cx="1111.26" cy="1375.78" r="5.60" fill="none" stroke="#4248b0" stroke-width="1.7"/><circle cx="1114.10" cy="1359.29" r="5.60" fill="none" stroke="#4248b0" stroke-width="1.7"/><circle cx="1116.94" cy="1374.98" r="5.60" fill="none" stroke="#4248b0" stroke-width="1.7"/><circle cx="1119.78" cy="1381.62" r="5.60" fill="none" stroke="#4248b0" stroke-width="1.7"/><circle cx="1122.63" cy="1383.57" r="5.60" fill="none" stroke="#4248b0" stroke-width="1.7"/><circle cx="1125.47" cy="1387.46" r="5.60" fill="none" stroke="#4248b0" stroke-width="1.7"/><circle cx="1128.31" cy="1403.85" r="5.60" fill="none" stroke="#4248b0" stroke-width="1.7"/><circle cx="1131.15" cy="1398.53" r="5.60" fill="none" stroke="#4248b0" stroke-width="1.7"/><circle cx="1134.00" cy="1394.57" r="5.60" fill="none" stroke="#4248b0" stroke-width="1.7"/><circle cx="1136.84" cy="1409.99" r="5.60" fill="none" stroke="#4248b0" stroke-width="1.7"/><circle cx="1139.68" cy="1404.28" r="5.60" fill="none" stroke="#4248b0" stroke-width="1.7"/><circle cx="1142.52" cy="1407.98" r="5.60" fill="none" stroke="#4248b0" stroke-width="1.7"/><circle cx="1145.37" cy="1414.78" r="5.60" fill="none" stroke="#4248b0" stroke-width="1.7"/><circle cx="1148.21" cy="1419.43" r="5.60" fill="none" stroke="#4248b0" stroke-width="1.7"/><circle cx="1151.05" cy="1424.50" r="5.60" fill="none" stroke="#4248b0" stroke-width="1.7"/><circle cx="1153.89" cy="1438.63" r="5.60" fill="none" stroke="#4248b0" stroke-width="1.7"/><circle cx="1156.74" cy="1421.50" r="5.60" fill="none" stroke="#4248b0" stroke-width="1.7"/><circle cx="1159.58" cy="1437.14" r="5.60" fill="none" stroke="#4248b0" stroke-width="1.7"/><circle cx="1162.42" cy="1420.45" r="5.60" fill="none" stroke="#4248b0" stroke-width="1.7"/><circle cx="1165.26" cy="1413.35" r="5.60" fill="none" stroke="#4248b0" stroke-width="1.7"/><circle cx="1168.10" cy="1415.18" r="5.60" fill="none" stroke="#4248b0" stroke-width="1.7"/><circle cx="1170.95" cy="1426.13" r="5.60" fill="none" stroke="#4248b0" stroke-width="1.7"/><circle cx="1173.79" cy="1425.37" r="5.60" fill="none" stroke="#4248b0" stroke-width="1.7"/><circle cx="1176.63" cy="1430.99" r="5.60" fill="none" stroke="#4248b0" stroke-width="1.7"/><circle cx="1179.47" cy="1423.23" r="5.60" fill="none" stroke="#4248b0" stroke-width="1.7"/><circle cx="1182.32" cy="1424.50" r="5.60" fill="none" stroke="#4248b0" stroke-width="1.7"/><circle cx="1185.16" cy="1422.68" r="5.60" fill="none" stroke="#4248b0" stroke-width="1.7"/><circle cx="1188.00" cy="1420.96" r="5.60" fill="none" stroke="#4248b0" stroke-width="1.7"/><circle cx="1190.84" cy="1423.70" r="5.60" fill="none" stroke="#4248b0" stroke-width="1.7"/><circle cx="1193.69" cy="1409.85" r="5.60" fill="none" stroke="#4248b0" stroke-width="1.7"/><circle cx="1196.53" cy="1418.01" r="5.60" fill="none" stroke="#4248b0" stroke-width="1.7"/><circle cx="1199.37" cy="1413.14" r="5.60" fill="none" stroke="#4248b0" stroke-width="1.7"/><circle cx="1202.21" cy="1420.43" r="5.60" fill="none" stroke="#4248b0" stroke-width="1.7"/><circle cx="1205.06" cy="1418.65" r="5.60" fill="none" stroke="#4248b0" stroke-width="1.7"/><circle cx="1207.90" cy="1428.79" r="5.60" fill="none" stroke="#4248b0" stroke-width="1.7"/><circle cx="1210.74" cy="1419.45" r="5.60" fill="none" stroke="#4248b0" stroke-width="1.7"/><circle cx="1213.58" cy="1441.46" r="5.60" fill="none" stroke="#4248b0" stroke-width="1.7"/><circle cx="1216.43" cy="1431.88" r="5.60" fill="none" stroke="#4248b0" stroke-width="1.7"/><circle cx="1219.27" cy="1429.83" r="5.60" fill="none" stroke="#4248b0" stroke-width="1.7"/><circle cx="1222.11" cy="1427.84" r="5.60" fill="none" stroke="#4248b0" stroke-width="1.7"/><circle cx="1224.95" cy="1421.64" r="5.60" fill="none" stroke="#4248b0" stroke-width="1.7"/><circle cx="1227.80" cy="1421.46" r="5.60" fill="none" stroke="#4248b0" stroke-width="1.7"/><circle cx="1230.64" cy="1431.06" r="5.60" fill="none" stroke="#4248b0" stroke-width="1.7"/><circle cx="1233.48" cy="1429.32" r="5.60" fill="none" stroke="#4248b0" stroke-width="1.7"/><circle cx="1236.32" cy="1426.31" r="5.60" fill="none" stroke="#4248b0" stroke-width="1.7"/><circle cx="1239.16" cy="1426.66" r="5.60" fill="none" stroke="#4248b0" stroke-width="1.7"/><circle cx="1242.01" cy="1412.62" r="5.60" fill="none" stroke="#4248b0" stroke-width="1.7"/><circle cx="1244.85" cy="1428.82" r="5.60" fill="none" stroke="#4248b0" stroke-width="1.7"/><circle cx="1247.69" cy="1438.18" r="5.60" fill="none" stroke="#4248b0" stroke-width="1.7"/><circle cx="1250.53" cy="1415.53" r="5.60" fill="none" stroke="#4248b0" stroke-width="1.7"/><circle cx="1253.38" cy="1424.49" r="5.60" fill="none" stroke="#4248b0" stroke-width="1.7"/><circle cx="1256.22" cy="1441.59" r="5.60" fill="none" stroke="#4248b0" stroke-width="1.7"/><circle cx="1259.06" cy="1436.55" r="5.60" fill="none" stroke="#4248b0" stroke-width="1.7"/><circle cx="1261.90" cy="1421.38" r="5.60" fill="none" stroke="#4248b0" stroke-width="1.7"/><circle cx="1264.75" cy="1428.28" r="5.60" fill="none" stroke="#4248b0" stroke-width="1.7"/><circle cx="1267.59" cy="1422.63" r="5.60" fill="none" stroke="#4248b0" stroke-width="1.7"/><circle cx="1270.43" cy="1418.07" r="5.60" fill="none" stroke="#4248b0" stroke-width="1.7"/><circle cx="1273.27" cy="1411.98" r="5.60" fill="none" stroke="#4248b0" stroke-width="1.7"/><circle cx="1276.12" cy="1441.39" r="5.60" fill="none" stroke="#4248b0" stroke-width="1.7"/></g>
<polyline points="761.9,1430.4 762.5,1430.4 763.2,1430.4 763.8,1430.3 764.5,1430.3 765.1,1430.3 765.8,1430.3 766.4,1430.3 767.1,1430.3 767.7,1430.3 768.4,1430.3 769.0,1430.3 769.7,1430.3 770.3,1430.3 770.9,1430.3 771.6,1430.2 772.2,1430.2 772.9,1430.2 773.5,1430.2 774.2,1430.2 774.8,1430.2 775.5,1430.2 776.1,1430.2 776.8,1430.2 777.4,1430.2 778.0,1430.1 778.7,1430.1 779.3,1430.1 780.0,1430.1 780.6,1430.1 781.3,1430.1 781.9,1430.1 782.6,1430.1 783.2,1430.0 783.9,1430.0 784.5,1430.0 785.2,1430.0 785.8,1430.0 786.4,1430.0 787.1,1430.0 787.7,1429.9 788.4,1429.9 789.0,1429.9 789.7,1429.9 790.3,1429.9 791.0,1429.9 791.6,1429.8 792.3,1429.8 792.9,1429.8 793.6,1429.8 794.2,1429.8 794.8,1429.8 795.5,1429.7 796.1,1429.7 796.8,1429.7 797.4,1429.7 798.1,1429.6 798.7,1429.6 799.4,1429.6 800.0,1429.6 800.7,1429.6 801.3,1429.5 802.0,1429.5 802.6,1429.5 803.2,1429.5 803.9,1429.4 804.5,1429.4 805.2,1429.4 805.8,1429.4 806.5,1429.3 807.1,1429.3 807.8,1429.3 808.4,1429.2 809.1,1429.2 809.7,1429.2 810.3,1429.2 811.0,1429.1 811.6,1429.1 812.3,1429.1 812.9,1429.0 813.6,1429.0 814.2,1429.0 814.9,1428.9 815.5,1428.9 816.2,1428.8 816.8,1428.8 817.5,1428.8 818.1,1428.7 818.7,1428.7 819.4,1428.6 820.0,1428.6 820.7,1428.6 821.3,1428.5 822.0,1428.5 822.6,1428.4 823.3,1428.4 823.9,1428.3 824.6,1428.3 825.2,1428.2 825.9,1428.2 826.5,1428.1 827.1,1428.1 827.8,1428.0 828.4,1428.0 829.1,1427.9 829.7,1427.8 830.4,1427.8 831.0,1427.7 831.7,1427.7 832.3,1427.6 833.0,1427.5 833.6,1427.5 834.3,1427.4 834.9,1427.3 835.5,1427.3 836.2,1427.2 836.8,1427.1 837.5,1427.1 838.1,1427.0 838.8,1426.9 839.4,1426.8 840.1,1426.7 840.7,1426.7 841.4,1426.6 842.0,1426.5 842.6,1426.4 843.3,1426.3 843.9,1426.2 844.6,1426.1 845.2,1426.0 845.9,1426.0 846.5,1425.9 847.2,1425.8 847.8,1425.7 848.5,1425.5 849.1,1425.4 849.8,1425.3 850.4,1425.2 851.0,1425.1 851.7,1425.0 852.3,1424.9 853.0,1424.8 853.6,1424.6 854.3,1424.5 854.9,1424.4 855.6,1424.3 856.2,1424.1 856.9,1424.0 857.5,1423.9 858.2,1423.7 858.8,1423.6 859.4,1423.4 860.1,1423.3 860.7,1423.1 861.4,1423.0 862.0,1422.8 862.7,1422.7 863.3,1422.5 864.0,1422.3 864.6,1422.2 865.3,1422.0 865.9,1421.8 866.6,1421.6 867.2,1421.4 867.8,1421.2 868.5,1421.1 869.1,1420.9 869.8,1420.7 870.4,1420.5 871.1,1420.2 871.7,1420.0 872.4,1419.8 873.0,1419.6 873.7,1419.4 874.3,1419.1 874.9,1418.9 875.6,1418.7 876.2,1418.4 876.9,1418.2 877.5,1417.9 878.2,1417.7 878.8,1417.4 879.5,1417.1 880.1,1416.8 880.8,1416.6 881.4,1416.3 882.1,1416.0 882.7,1415.7 883.3,1415.4 884.0,1415.1 884.6,1414.8 885.3,1414.4 885.9,1414.1 886.6,1413.8 887.2,1413.4 887.9,1413.1 888.5,1412.7 889.2,1412.4 889.8,1412.0 890.5,1411.6 891.1,1411.3 891.7,1410.9 892.4,1410.5 893.0,1410.1 893.7,1409.7 894.3,1409.2 895.0,1408.8 895.6,1408.4 896.3,1407.9 896.9,1407.5 897.6,1407.0 898.2,1406.5 898.9,1406.1 899.5,1405.6 900.1,1405.1 900.8,1404.6 901.4,1404.1 902.1,1403.5 902.7,1403.0 903.4,1402.4 904.0,1401.9 904.7,1401.3 905.3,1400.7 906.0,1400.2 906.6,1399.6 907.2,1399.0 907.9,1398.3 908.5,1397.7 909.2,1397.1 909.8,1396.4 910.5,1395.7 911.1,1395.0 911.8,1394.4 912.4,1393.7 913.1,1392.9 913.7,1392.2 914.4,1391.5 915.0,1390.7 915.6,1389.9 916.3,1389.1 916.9,1388.3 917.6,1387.5 918.2,1386.7 918.9,1385.9 919.5,1385.0 920.2,1384.1 920.8,1383.3 921.5,1382.4 922.1,1381.4 922.8,1380.5 923.4,1379.6 924.0,1378.6 924.7,1377.6 925.3,1376.6 926.0,1375.6 926.6,1374.6 927.3,1373.5 927.9,1372.5 928.6,1371.4 929.2,1370.3 929.9,1369.2 930.5,1368.0 931.2,1366.9 931.8,1365.7 932.4,1364.5 933.1,1363.3 933.7,1362.1 934.4,1360.8 935.0,1359.6 935.7,1358.3 936.3,1357.0 937.0,1355.7 937.6,1354.3 938.3,1353.0 938.9,1351.6 939.5,1350.2 940.2,1348.7 940.8,1347.3 941.5,1345.8 942.1,1344.4 942.8,1342.8 943.4,1341.3 944.1,1339.8 944.7,1338.2 945.4,1336.6 946.0,1335.0 946.7,1333.4 947.3,1331.7 947.9,1330.0 948.6,1328.3 949.2,1326.6 949.9,1324.9 950.5,1323.1 951.2,1321.3 951.8,1319.5 952.5,1317.7 953.1,1315.9 953.8,1314.0 954.4,1312.1 955.1,1310.2 955.7,1308.3 956.3,1306.3 957.0,1304.4 957.6,1302.4 958.3,1300.4 958.9,1298.4 959.6,1296.3 960.2,1294.3 960.9,1292.2 961.5,1290.1 962.2,1288.0 962.8,1285.8 963.5,1283.7 964.1,1281.5 964.7,1279.3 965.4,1277.1 966.0,1274.9 966.7,1272.7 967.3,1270.4 968.0,1268.1 968.6,1265.9 969.3,1263.6 969.9,1261.3 970.6,1259.0 971.2,1256.7 971.8,1254.3 972.5,1252.0 973.1,1249.6 973.8,1247.3 974.4,1244.9 975.1,1242.5 975.7,1240.2 976.4,1237.8 977.0,1235.4 977.7,1233.0 978.3,1230.6 979.0,1228.2 979.6,1225.9 980.2,1223.5 980.9,1221.1 981.5,1218.7 982.2,1216.3 982.8,1214.0 983.5,1211.6 984.1,1209.2 984.8,1206.9 985.4,1204.6 986.1,1202.2 986.7,1199.9 987.4,1197.6 988.0,1195.3 988.6,1193.1 989.3,1190.8 989.9,1188.6 990.6,1186.4 991.2,1184.2 991.9,1182.0 992.5,1179.9 993.2,1177.8 993.8,1175.7 994.5,1173.6 995.1,1171.6 995.8,1169.6 996.4,1167.6 997.0,1165.7 997.7,1163.8 998.3,1161.9 999.0,1160.1 999.6,1158.3 1000.3,1156.5 1000.9,1154.8 1001.6,1153.2 1002.2,1151.5 1002.9,1150.0 1003.5,1148.4 1004.1,1147.0 1004.8,1145.5 1005.4,1144.1 1006.1,1142.8 1006.7,1141.5 1007.4,1140.3 1008.0,1139.1 1008.7,1138.0 1009.3,1136.9 1010.0,1135.9 1010.6,1135.0 1011.3,1134.1 1011.9,1133.2 1012.5,1132.5 1013.2,1131.7 1013.8,1131.1 1014.5,1130.5 1015.1,1130.0 1015.8,1129.5 1016.4,1129.1 1017.1,1128.7 1017.7,1128.4 1018.4,1128.2 1019.0,1128.1 1019.7,1128.0 1020.3,1127.9 1020.9,1128.0 1021.6,1128.1 1022.2,1128.2 1022.9,1128.4 1023.5,1128.7 1024.2,1129.1 1024.8,1129.5 1025.5,1130.0 1026.1,1130.5 1026.8,1131.1 1027.4,1131.7 1028.1,1132.5 1028.7,1133.2 1029.3,1134.1 1030.0,1135.0 1030.6,1135.9 1031.3,1136.9 1031.9,1138.0 1032.6,1139.1 1033.2,1140.3 1033.9,1141.5 1034.5,1142.8 1035.2,1144.1 1035.8,1145.5 1036.5,1147.0 1037.1,1148.4 1037.7,1150.0 1038.4,1151.5 1039.0,1153.2 1039.7,1154.8 1040.3,1156.5 1041.0,1158.3 1041.6,1160.1 1042.3,1161.9 1042.9,1163.8 1043.6,1165.7 1044.2,1167.6 1044.8,1169.6 1045.5,1171.6 1046.1,1173.6 1046.8,1175.7 1047.4,1177.8 1048.1,1179.9 1048.7,1182.0 1049.4,1184.2 1050.0,1186.4 1050.7,1188.6 1051.3,1190.8 1052.0,1193.1 1052.6,1195.3 1053.2,1197.6 1053.9,1199.9 1054.5,1202.2 1055.2,1204.6 1055.8,1206.9 1056.5,1209.2 1057.1,1211.6 1057.8,1214.0 1058.4,1216.3 1059.1,1218.7 1059.7,1221.1 1060.4,1223.5 1061.0,1225.9 1061.6,1228.2 1062.3,1230.6 1062.9,1233.0 1063.6,1235.4 1064.2,1237.8 1064.9,1240.2 1065.5,1242.5 1066.2,1244.9 1066.8,1247.3 1067.5,1249.6 1068.1,1252.0 1068.8,1254.3 1069.4,1256.7 1070.0,1259.0 1070.7,1261.3 1071.3,1263.6 1072.0,1265.9 1072.6,1268.1 1073.3,1270.4 1073.9,1272.7 1074.6,1274.9 1075.2,1277.1 1075.9,1279.3 1076.5,1281.5 1077.1,1283.7 1077.8,1285.8 1078.4,1288.0 1079.1,1290.1 1079.7,1292.2 1080.4,1294.3 1081.0,1296.3 1081.7,1298.4 1082.3,1300.4 1083.0,1302.4 1083.6,1304.4 1084.3,1306.3 1084.9,1308.3 1085.5,1310.2 1086.2,1312.1 1086.8,1314.0 1087.5,1315.9 1088.1,1317.7 1088.8,1319.5 1089.4,1321.3 1090.1,1323.1 1090.7,1324.9 1091.4,1326.6 1092.0,1328.3 1092.7,1330.0 1093.3,1331.7 1093.9,1333.4 1094.6,1335.0 1095.2,1336.6 1095.9,1338.2 1096.5,1339.8 1097.2,1341.3 1097.8,1342.8 1098.5,1344.4 1099.1,1345.8 1099.8,1347.3 1100.4,1348.7 1101.0,1350.2 1101.7,1351.6 1102.3,1353.0 1103.0,1354.3 1103.6,1355.7 1104.3,1357.0 1104.9,1358.3 1105.6,1359.6 1106.2,1360.8 1106.9,1362.1 1107.5,1363.3 1108.2,1364.5 1108.8,1365.7 1109.4,1366.9 1110.1,1368.0 1110.7,1369.2 1111.4,1370.3 1112.0,1371.4 1112.7,1372.5 1113.3,1373.5 1114.0,1374.6 1114.6,1375.6 1115.3,1376.6 1115.9,1377.6 1116.6,1378.6 1117.2,1379.6 1117.8,1380.5 1118.5,1381.4 1119.1,1382.4 1119.8,1383.3 1120.4,1384.1 1121.1,1385.0 1121.7,1385.9 1122.4,1386.7 1123.0,1387.5 1123.7,1388.3 1124.3,1389.1 1125.0,1389.9 1125.6,1390.7 1126.2,1391.5 1126.9,1392.2 1127.5,1392.9 1128.2,1393.7 1128.8,1394.4 1129.5,1395.0 1130.1,1395.7 1130.8,1396.4 1131.4,1397.1 1132.1,1397.7 1132.7,1398.3 1133.3,1399.0 1134.0,1399.6 1134.6,1400.2 1135.3,1400.7 1135.9,1401.3 1136.6,1401.9 1137.2,1402.4 1137.9,1403.0 1138.5,1403.5 1139.2,1404.1 1139.8,1404.6 1140.5,1405.1 1141.1,1405.6 1141.7,1406.1 1142.4,1406.5 1143.0,1407.0 1143.7,1407.5 1144.3,1407.9 1145.0,1408.4 1145.6,1408.8 1146.3,1409.2 1146.9,1409.7 1147.6,1410.1 1148.2,1410.5 1148.9,1410.9 1149.5,1411.3 1150.1,1411.6 1150.8,1412.0 1151.4,1412.4 1152.1,1412.7 1152.7,1413.1 1153.4,1413.4 1154.0,1413.8 1154.7,1414.1 1155.3,1414.4 1156.0,1414.8 1156.6,1415.1 1157.3,1415.4 1157.9,1415.7 1158.5,1416.0 1159.2,1416.3 1159.8,1416.6 1160.5,1416.8 1161.1,1417.1 1161.8,1417.4 1162.4,1417.7 1163.1,1417.9 1163.7,1418.2 1164.4,1418.4 1165.0,1418.7 1165.6,1418.9 1166.3,1419.1 1166.9,1419.4 1167.6,1419.6 1168.2,1419.8 1168.9,1420.0 1169.5,1420.2 1170.2,1420.5 1170.8,1420.7 1171.5,1420.9 1172.1,1421.1 1172.8,1421.2 1173.4,1421.4 1174.0,1421.6 1174.7,1421.8 1175.3,1422.0 1176.0,1422.2 1176.6,1422.3 1177.3,1422.5 1177.9,1422.7 1178.6,1422.8 1179.2,1423.0 1179.9,1423.1 1180.5,1423.3 1181.2,1423.4 1181.8,1423.6 1182.4,1423.7 1183.1,1423.9 1183.7,1424.0 1184.4,1424.1 1185.0,1424.3 1185.7,1424.4 1186.3,1424.5 1187.0,1424.6 1187.6,1424.8 1188.3,1424.9 1188.9,1425.0 1189.6,1425.1 1190.2,1425.2 1190.8,1425.3 1191.5,1425.4 1192.1,1425.5 1192.8,1425.7 1193.4,1425.8 1194.1,1425.9 1194.7,1426.0 1195.4,1426.0 1196.0,1426.1 1196.7,1426.2 1197.3,1426.3 1198.0,1426.4 1198.6,1426.5 1199.2,1426.6 1199.9,1426.7 1200.5,1426.7 1201.2,1426.8 1201.8,1426.9 1202.5,1427.0 1203.1,1427.1 1203.8,1427.1 1204.4,1427.2 1205.1,1427.3 1205.7,1427.3 1206.3,1427.4 1207.0,1427.5 1207.6,1427.5 1208.3,1427.6 1208.9,1427.7 1209.6,1427.7 1210.2,1427.8 1210.9,1427.8 1211.5,1427.9 1212.2,1428.0 1212.8,1428.0 1213.5,1428.1 1214.1,1428.1 1214.7,1428.2 1215.4,1428.2 1216.0,1428.3 1216.7,1428.3 1217.3,1428.4 1218.0,1428.4 1218.6,1428.5 1219.3,1428.5 1219.9,1428.6 1220.6,1428.6 1221.2,1428.6 1221.9,1428.7 1222.5,1428.7 1223.1,1428.8 1223.8,1428.8 1224.4,1428.8 1225.1,1428.9 1225.7,1428.9 1226.4,1429.0 1227.0,1429.0 1227.7,1429.0 1228.3,1429.1 1229.0,1429.1 1229.6,1429.1 1230.2,1429.2 1230.9,1429.2 1231.5,1429.2 1232.2,1429.2 1232.8,1429.3 1233.5,1429.3 1234.1,1429.3 1234.8,1429.4 1235.4,1429.4 1236.1,1429.4 1236.7,1429.4 1237.4,1429.5 1238.0,1429.5 1238.6,1429.5 1239.3,1429.5 1239.9,1429.6 1240.6,1429.6 1241.2,1429.6 1241.9,1429.6 1242.5,1429.6 1243.2,1429.7 1243.8,1429.7 1244.5,1429.7 1245.1,1429.7 1245.8,1429.8 1246.4,1429.8 1247.0,1429.8 1247.7,1429.8 1248.3,1429.8 1249.0,1429.8 1249.6,1429.9 1250.3,1429.9 1250.9,1429.9 1251.6,1429.9 1252.2,1429.9 1252.9,1429.9 1253.5,1430.0 1254.2,1430.0 1254.8,1430.0 1255.4,1430.0 1256.1,1430.0 1256.7,1430.0 1257.4,1430.0 1258.0,1430.1 1258.7,1430.1 1259.3,1430.1 1260.0,1430.1 1260.6,1430.1 1261.3,1430.1 1261.9,1430.1 1262.5,1430.1 1263.2,1430.2 1263.8,1430.2 1264.5,1430.2 1265.1,1430.2 1265.8,1430.2 1266.4,1430.2 1267.1,1430.2 1267.7,1430.2 1268.4,1430.2 1269.0,1430.2 1269.7,1430.3 1270.3,1430.3 1270.9,1430.3 1271.6,1430.3 1272.2,1430.3 1272.9,1430.3 1273.5,1430.3 1274.2,1430.3 1274.8,1430.3 1275.5,1430.3 1276.1,1430.3 1276.8,1430.3 1277.4,1430.4 1278.1,1430.4 1278.7,1430.4" fill="none" stroke="#e60f1c" stroke-width="9.0" stroke-linejoin="round"/>
<rect x="761.70" y="1072.20" width="518.00" height="377.20" fill="none" stroke="#4a4a4a" stroke-width="2.2"/>
<line x1="753.70" y1="1443.70" x2="761.70" y2="1443.70" stroke="#4a4a4a" stroke-width="2.2"/>
<line x1="753.70" y1="1369.40" x2="761.70" y2="1369.40" stroke="#4a4a4a" stroke-width="2.2"/>
<line x1="753.70" y1="1295.10" x2="761.70" y2="1295.10" stroke="#4a4a4a" stroke-width="2.2"/>
<line x1="753.70" y1="1220.80" x2="761.70" y2="1220.80" stroke="#4a4a4a" stroke-width="2.2"/>
<line x1="753.70" y1="1146.50" x2="761.70" y2="1146.50" stroke="#4a4a4a" stroke-width="2.2"/>
<line x1="753.70" y1="1072.20" x2="761.70" y2="1072.20" stroke="#4a4a4a" stroke-width="2.2"/>
<line x1="757.20" y1="1406.55" x2="761.70" y2="1406.55" stroke="#4a4a4a" stroke-width="2.2"/>
<line x1="757.20" y1="1332.25" x2="761.70" y2="1332.25" stroke="#4a4a4a" stroke-width="2.2"/>
<line x1="757.20" y1="1257.95" x2="761.70" y2="1257.95" stroke="#4a4a4a" stroke-width="2.2"/>
<line x1="757.20" y1="1183.65" x2="761.70" y2="1183.65" stroke="#4a4a4a" stroke-width="2.2"/>
<line x1="757.20" y1="1109.35" x2="761.70" y2="1109.35" stroke="#4a4a4a" stroke-width="2.2"/>
<line x1="761.90" y1="1449.40" x2="761.90" y2="1457.40" stroke="#4a4a4a" stroke-width="2.2"/>
<line x1="891.10" y1="1449.40" x2="891.10" y2="1457.40" stroke="#4a4a4a" stroke-width="2.2"/>
<line x1="1020.30" y1="1449.40" x2="1020.30" y2="1457.40" stroke="#4a4a4a" stroke-width="2.2"/>
<line x1="1149.50" y1="1449.40" x2="1149.50" y2="1457.40" stroke="#4a4a4a" stroke-width="2.2"/>
<line x1="1278.70" y1="1449.40" x2="1278.70" y2="1457.40" stroke="#4a4a4a" stroke-width="2.2"/>
<line x1="826.50" y1="1449.40" x2="826.50" y2="1453.90" stroke="#4a4a4a" stroke-width="2.2"/>
<line x1="955.70" y1="1449.40" x2="955.70" y2="1453.90" stroke="#4a4a4a" stroke-width="2.2"/>
<line x1="1084.90" y1="1449.40" x2="1084.90" y2="1453.90" stroke="#4a4a4a" stroke-width="2.2"/>
<line x1="1214.10" y1="1449.40" x2="1214.10" y2="1453.90" stroke="#4a4a4a" stroke-width="2.2"/>
<text x="708.50" y="1450.90" font-family='"Liberation Serif", serif' font-size="28.60" font-weight="bold" fill="#1a1a1a" textLength="39.00" lengthAdjust="spacingAndGlyphs">0.0</text>
<text x="708.50" y="1376.60" font-family='"Liberation Serif", serif' font-size="28.60" font-weight="bold" fill="#1a1a1a" textLength="39.00" lengthAdjust="spacingAndGlyphs">0.2</text>
<text x="708.50" y="1302.30" font-family='"Liberation Serif", serif' font-size="28.60" font-weight="bold" fill="#1a1a1a" textLength="39.00" lengthAdjust="spacingAndGlyphs">0.4</text>
<text x="708.50" y="1228.00" font-family='"Liberation Serif", serif' font-size="28.60" font-weight="bold" fill="#1a1a1a" textLength="39.00" lengthAdjust="spacingAndGlyphs">0.6</text>
<text x="708.50" y="1153.70" font-family='"Liberation Serif", serif' font-size="28.60" font-weight="bold" fill="#1a1a1a" textLength="39.00" lengthAdjust="spacingAndGlyphs">0.8</text>
<text x="708.50" y="1079.40" font-family='"Liberation Serif", serif' font-size="28.60" font-weight="bold" fill="#1a1a1a" textLength="39.00" lengthAdjust="spacingAndGlyphs">1.0</text>
<text x="736.40" y="1484.70" font-family='"Liberation Serif", serif' font-size="29.00" font-weight="bold" fill="#1a1a1a" textLength="41.00" lengthAdjust="spacingAndGlyphs">-20</text>
<text x="865.60" y="1484.70" font-family='"Liberation Serif", serif' font-size="29.00" font-weight="bold" fill="#1a1a1a" textLength="41.00" lengthAdjust="spacingAndGlyphs">-10</text>
<text x="1013.30" y="1484.70" font-family='"Liberation Serif", serif' font-size="29.00" font-weight="bold" fill="#1a1a1a" textLength="14.00" lengthAdjust="spacingAndGlyphs">0</text>
<text x="1134.50" y="1484.70" font-family='"Liberation Serif", serif' font-size="29.00" font-weight="bold" fill="#1a1a1a" textLength="30.00" lengthAdjust="spacingAndGlyphs">10</text>
<text x="1263.70" y="1484.70" font-family='"Liberation Serif", serif' font-size="29.00" font-weight="bold" fill="#1a1a1a" textLength="30.00" lengthAdjust="spacingAndGlyphs">20</text>
<text x="880.40" y="1523.60" font-family='"Liberation Serif", serif' font-size="39.00" font-weight="bold" fill="#111" textLength="279.59" lengthAdjust="spacingAndGlyphs">Delay Time (ps)</text>
<text transform="translate(683.00,1390.50) rotate(-90)" x="0" y="0" font-family='"Liberation Serif", serif' font-size="40.00" font-weight="bold" fill="#111" textLength="257.38" lengthAdjust="spacingAndGlyphs">Intensity (a.u.)</text>
<circle cx="795.40" cy="1104.30" r="5.00" fill="none" stroke="#4248b0" stroke-width="1.7"/>
<text x="822.00" y="1111.00" font-family='"Liberation Serif", serif' font-size="18.50" fill="#444" textLength="145.90" lengthAdjust="spacingAndGlyphs">Experimental data</text>
<circle cx="795.40" cy="1132.40" r="5.20" fill="#e60f1c" stroke="none" stroke-width="1"/>
<text x="822.00" y="1138.70" font-family='"Liberation Serif", serif' font-size="18.50" fill="#444" textLength="36.00" lengthAdjust="spacingAndGlyphs">Sech</text>
<text x="859.00" y="1128.00" font-family='"Liberation Serif", serif' font-size="8.00" fill="#444" textLength="3.50" lengthAdjust="spacingAndGlyphs">2</text>
<text x="866.00" y="1138.70" font-family='"Liberation Serif", serif' font-size="18.50" fill="#444" textLength="19.49" lengthAdjust="spacingAndGlyphs">fit</text>
<text x="782.20" y="1191.00" font-family='"Liberation Serif", serif' font-size="48.00" fill="#1a1a1a" textLength="55.30" lengthAdjust="spacingAndGlyphs">(h)</text>
<text x="829.30" y="1266.40" font-family='"Liberation Serif", serif' font-size="25.00" fill="#333" textLength="112.30" lengthAdjust="spacingAndGlyphs">τ = 6.1 ps</text>
<polyline points="1078.7,1188.2 1079.2,1188.2 1079.7,1188.2 1080.2,1188.2 1080.7,1188.2 1081.2,1188.2 1081.7,1188.2 1082.2,1188.2 1082.7,1188.2 1083.2,1188.2 1083.7,1188.2 1084.2,1188.2 1084.7,1188.2 1085.2,1188.2 1085.7,1188.2 1086.2,1188.2 1086.7,1188.2 1087.2,1188.2 1087.7,1188.2 1088.2,1188.2 1088.7,1188.2 1089.2,1188.2 1089.7,1188.2 1090.2,1188.2 1090.7,1188.2 1091.2,1188.2 1091.7,1188.2 1092.2,1188.2 1092.7,1188.2 1093.2,1188.2 1093.7,1188.2 1094.2,1188.2 1094.7,1188.2 1095.2,1188.2 1095.7,1188.2 1096.2,1188.2 1096.7,1188.2 1097.2,1188.2 1097.7,1188.2 1098.2,1188.2 1098.7,1188.2 1099.2,1188.2 1099.7,1188.2 1100.2,1188.2 1100.7,1188.2 1101.2,1188.2 1101.7,1188.2 1102.2,1188.2 1102.7,1188.2 1103.2,1188.2 1103.7,1188.2 1104.2,1188.2 1104.7,1188.2 1105.2,1188.2 1105.7,1188.2 1106.2,1188.2 1106.7,1188.2 1107.2,1188.2 1107.7,1188.2 1108.2,1188.2 1108.7,1188.2 1109.2,1188.2 1109.7,1188.2 1110.2,1188.2 1110.7,1188.2 1111.2,1188.2 1111.7,1188.2 1112.2,1188.2 1112.7,1188.2 1113.2,1188.2 1113.7,1188.2 1114.2,1188.2 1114.7,1188.2 1115.2,1188.2 1115.7,1188.2 1116.2,1188.2 1116.7,1188.2 1117.2,1188.2 1117.7,1188.2 1118.2,1188.2 1118.7,1188.2 1119.2,1188.2 1119.7,1188.2 1120.2,1188.2 1120.7,1188.2 1121.2,1188.2 1121.7,1188.2 1122.2,1188.2 1122.7,1188.2 1123.2,1188.2 1123.7,1188.2 1124.2,1188.2 1124.7,1188.2 1125.2,1188.2 1125.7,1188.2 1126.2,1188.2 1126.7,1188.2 1127.2,1188.2 1127.7,1188.2 1128.2,1188.2 1128.7,1188.2 1129.2,1188.2 1129.7,1188.2 1130.2,1188.2 1130.7,1188.2 1131.2,1188.2 1131.7,1188.2 1132.2,1188.2 1132.7,1188.2 1133.2,1188.2 1133.7,1188.2 1134.2,1188.2 1134.7,1188.2 1135.2,1188.2 1135.7,1188.2 1136.2,1188.2 1136.7,1188.2 1137.2,1188.2 1137.7,1188.2 1138.2,1188.2 1138.7,1188.2 1139.2,1188.2 1139.7,1188.2 1140.2,1188.2 1140.7,1188.2 1141.2,1188.2 1141.7,1188.2 1142.2,1188.2 1142.7,1188.2 1143.2,1188.2 1143.7,1188.2 1144.2,1188.2 1144.7,1188.2 1145.2,1188.2 1145.7,1188.2 1146.2,1188.2 1146.7,1188.2 1147.2,1188.2 1147.7,1188.2 1148.2,1188.2 1148.7,1188.2 1149.2,1188.2 1149.7,1188.2 1150.2,1188.2 1150.7,1188.2 1151.2,1188.2 1151.7,1188.2 1152.2,1188.2 1152.7,1188.2 1153.2,1188.2 1153.7,1188.2 1154.2,1188.2 1154.7,1188.2 1155.2,1188.2 1155.7,1188.2 1156.2,1188.2 1156.7,1188.2 1157.2,1188.2 1157.7,1188.2 1158.2,1188.2 1158.7,1188.2 1159.2,1188.2 1159.7,1188.2 1160.2,1188.2 1160.7,1188.2 1161.2,1188.2 1161.7,1188.1 1162.2,1188.0 1162.7,1187.8 1163.2,1187.5 1163.7,1186.9 1164.2,1186.0 1164.7,1184.5 1165.2,1182.3 1165.7,1179.2 1166.2,1175.2 1166.7,1170.0 1167.2,1163.7 1167.7,1156.3 1168.2,1148.1 1168.7,1139.3 1169.2,1130.1 1169.7,1121.1 1170.2,1112.5 1170.7,1104.6 1171.2,1097.8 1171.7,1092.0 1172.2,1087.5 1172.7,1084.1 1173.2,1081.7 1173.7,1080.3 1174.2,1079.5 1174.7,1079.2 1175.2,1079.2 1175.7,1079.2 1176.2,1079.5 1176.7,1080.3 1177.2,1081.7 1177.7,1084.1 1178.2,1087.5 1178.7,1092.0 1179.2,1097.8 1179.7,1104.6 1180.2,1112.5 1180.7,1121.1 1181.2,1130.1 1181.7,1139.3 1182.2,1148.1 1182.7,1156.3 1183.2,1163.7 1183.7,1170.0 1184.2,1175.2 1184.7,1179.2 1185.2,1182.3 1185.7,1184.5 1186.2,1186.0 1186.7,1186.9 1187.2,1187.5 1187.7,1187.8 1188.2,1188.0 1188.7,1188.1 1189.2,1188.2 1189.7,1188.2 1190.2,1188.2 1190.7,1188.2 1191.2,1188.2 1191.7,1188.2 1192.2,1188.2 1192.7,1188.2 1193.2,1188.2 1193.7,1188.2 1194.2,1188.2 1194.7,1188.2 1195.2,1188.2 1195.7,1188.2 1196.2,1188.2 1196.7,1188.2 1197.2,1188.2 1197.7,1188.2 1198.2,1188.2 1198.7,1188.2 1199.2,1188.2 1199.7,1188.2 1200.2,1188.2 1200.7,1188.2 1201.2,1188.2 1201.7,1188.2 1202.2,1188.2 1202.7,1188.2 1203.2,1188.2 1203.7,1188.2 1204.2,1188.2 1204.7,1188.2 1205.2,1188.2 1205.7,1188.2 1206.2,1188.2 1206.7,1188.2 1207.2,1188.2 1207.7,1188.2 1208.2,1188.2 1208.7,1188.2 1209.2,1188.2 1209.7,1188.2 1210.2,1188.2 1210.7,1188.2 1211.2,1188.2 1211.7,1188.2 1212.2,1188.2 1212.7,1188.2 1213.2,1188.2 1213.7,1188.2 1214.2,1188.2 1214.7,1188.2 1215.2,1188.2 1215.7,1188.2 1216.2,1188.2 1216.7,1188.2 1217.2,1188.2 1217.7,1188.2 1218.2,1188.2 1218.7,1188.2 1219.2,1188.2 1219.7,1188.2 1220.2,1188.2 1220.7,1188.2 1221.2,1188.2 1221.7,1188.2 1222.2,1188.2 1222.7,1188.2 1223.2,1188.2 1223.7,1188.2 1224.2,1188.2 1224.7,1188.2 1225.2,1188.2 1225.7,1188.2 1226.2,1188.2 1226.7,1188.2 1227.2,1188.2 1227.7,1188.2 1228.2,1188.2 1228.7,1188.2 1229.2,1188.2 1229.7,1188.2 1230.2,1188.2 1230.7,1188.2 1231.2,1188.2 1231.7,1188.2 1232.2,1188.2 1232.7,1188.2 1233.2,1188.2 1233.7,1188.2 1234.2,1188.2 1234.7,1188.2 1235.2,1188.2 1235.7,1188.2 1236.2,1188.2 1236.7,1188.2 1237.2,1188.2 1237.7,1188.2 1238.2,1188.2 1238.7,1188.2 1239.2,1188.2 1239.7,1188.2 1240.2,1188.2 1240.7,1188.2 1241.2,1188.2 1241.7,1188.2 1242.2,1188.2 1242.7,1188.2 1243.2,1188.2 1243.7,1188.2 1244.2,1188.2 1244.7,1188.2 1245.2,1188.2 1245.7,1188.2 1246.2,1188.2 1246.7,1188.2 1247.2,1188.2 1247.7,1188.2 1248.2,1188.2 1248.7,1188.2 1249.2,1188.2 1249.7,1188.2 1250.2,1188.2 1250.7,1188.2 1251.2,1188.2 1251.7,1188.2 1252.2,1188.2 1252.7,1188.2 1253.2,1188.2 1253.7,1188.2 1254.2,1188.2 1254.7,1188.2 1255.2,1188.2 1255.7,1188.2 1256.2,1188.2 1256.7,1188.2 1257.2,1188.2 1257.7,1188.2 1258.2,1188.2 1258.7,1188.2 1259.2,1188.2 1259.7,1188.2 1260.2,1188.2 1260.7,1188.2 1261.2,1188.2" fill="none" stroke="#e26060" stroke-width="1.8" stroke-linejoin="round"/>
<text x="1065.50" y="1204.90" font-family='"Liberation Serif", serif' font-size="13.00" font-weight="bold" fill="#333" textLength="30.00" lengthAdjust="spacingAndGlyphs">1062</text>
<text x="1109.90" y="1204.90" font-family='"Liberation Serif", serif' font-size="13.00" font-weight="bold" fill="#333" textLength="30.00" lengthAdjust="spacingAndGlyphs">1063</text>
<text x="1155.10" y="1204.90" font-family='"Liberation Serif", serif' font-size="13.00" font-weight="bold" fill="#333" textLength="30.00" lengthAdjust="spacingAndGlyphs">1064</text>
<text x="1201.30" y="1204.90" font-family='"Liberation Serif", serif' font-size="13.00" font-weight="bold" fill="#333" textLength="30.00" lengthAdjust="spacingAndGlyphs">1065</text>
<text x="1246.60" y="1204.90" font-family='"Liberation Serif", serif' font-size="13.00" font-weight="bold" fill="#333" textLength="30.00" lengthAdjust="spacingAndGlyphs">1066</text>
<text x="1130.00" y="1218.40" font-family='"Liberation Serif", serif' font-size="9.00" font-weight="bold" fill="#444" textLength="80.00" lengthAdjust="spacingAndGlyphs">Wavelength(nm)</text>
<text x="1089.50" y="1121.50" font-family='"Liberation Serif", serif' font-size="18.50" fill="#444" textLength="58.91" lengthAdjust="spacingAndGlyphs">FWHM</text>
<text x="1079.60" y="1148.70" font-family='"Liberation Serif", serif' font-size="18.50" fill="#444" textLength="82.40" lengthAdjust="spacingAndGlyphs">0.288 nm</text>
<text x="1184.60" y="1138.70" font-family='"Liberation Serif", serif' font-size="18.50" fill="#444" textLength="92.40" lengthAdjust="spacingAndGlyphs">1064.1 nm</text>
<polygon points="1407.3,1454.0 1407.3,1401.8 1408.5,1404.7 1409.7,1391.1 1410.9,1385.0 1412.1,1381.0 1413.3,1385.1 1414.5,1391.6 1415.7,1386.9 1416.9,1390.4 1418.1,1387.6 1419.3,1389.7 1420.5,1392.6 1421.7,1407.9 1422.9,1383.6 1424.1,1389.6 1425.3,1382.7 1426.5,1390.8 1427.7,1379.5 1428.9,1393.0 1430.1,1388.7 1431.3,1384.4 1432.5,1375.2 1433.7,1384.3 1434.9,1386.1 1436.1,1392.6 1437.3,1392.1 1438.5,1390.8 1439.7,1380.1 1440.9,1383.5 1442.1,1382.6 1443.3,1394.6 1444.5,1373.2 1445.7,1392.1 1446.9,1390.1 1448.1,1389.0 1449.3,1384.5 1450.5,1379.6 1451.7,1399.1 1452.9,1376.5 1454.1,1379.8 1455.3,1398.7 1456.5,1392.0 1457.7,1387.5 1458.9,1384.9 1460.1,1393.6 1461.3,1387.5 1462.5,1382.0 1463.7,1385.1 1464.9,1385.1 1466.1,1380.6 1467.3,1394.7 1468.5,1387.8 1469.7,1394.8 1470.9,1386.4 1472.1,1384.0 1473.3,1389.6 1474.5,1384.8 1475.7,1381.7 1476.9,1376.3 1478.1,1392.5 1479.3,1375.6 1480.5,1391.5 1481.7,1390.4 1482.9,1388.1 1484.1,1387.8 1485.3,1387.2 1486.5,1387.5 1487.7,1384.6 1488.9,1386.2 1490.1,1365.1 1491.3,1380.3 1492.5,1378.9 1493.7,1380.6 1494.9,1378.9 1496.1,1387.3 1497.3,1384.4 1498.5,1385.3 1499.7,1385.0 1500.9,1389.9 1502.1,1397.3 1503.3,1388.0 1504.5,1392.9 1505.7,1391.0 1506.9,1381.8 1508.1,1395.3 1509.3,1385.9 1510.5,1384.4 1511.7,1385.3 1512.9,1398.9 1514.1,1409.4 1515.3,1391.3 1516.5,1389.8 1517.7,1387.8 1518.9,1387.0 1520.1,1391.8 1521.3,1389.7 1522.5,1388.9 1523.7,1389.2 1524.9,1393.6 1526.1,1390.8 1527.3,1386.2 1528.5,1387.8 1529.7,1394.5 1530.9,1385.5 1532.1,1392.2 1533.3,1389.0 1534.5,1390.7 1535.7,1385.4 1536.9,1387.4 1538.1,1381.8 1539.3,1386.6 1540.5,1386.1 1541.7,1389.6 1542.9,1391.6 1544.1,1387.4 1545.3,1379.5 1546.5,1388.8 1547.7,1387.0 1548.9,1386.5 1550.1,1383.8 1551.3,1375.4 1552.5,1383.0 1553.7,1380.0 1554.9,1385.9 1556.1,1389.2 1557.3,1397.3 1558.5,1405.2 1559.7,1386.6 1560.9,1384.9 1562.1,1374.8 1563.3,1387.5 1564.5,1389.7 1565.7,1382.5 1566.9,1403.4 1568.1,1391.5 1569.3,1379.6 1570.5,1401.9 1571.7,1393.6 1572.9,1378.3 1574.1,1384.2 1575.3,1373.5 1576.5,1393.7 1577.7,1385.3 1578.9,1378.4 1580.1,1386.3 1581.3,1397.2 1582.5,1391.3 1583.7,1390.5 1584.9,1386.1 1586.1,1392.7 1587.3,1389.0 1588.5,1369.5 1589.7,1384.7 1590.9,1393.9 1592.1,1386.5 1593.3,1390.1 1594.5,1400.1 1595.7,1374.5 1596.9,1385.7 1598.1,1389.1 1598.1,1454.0" fill="#3a44a0"/>
<polygon points="1624.5,1454.0 1624.5,1381.4 1625.7,1373.4 1626.9,1387.5 1628.1,1379.4 1629.3,1384.0 1630.5,1383.9 1631.7,1369.8 1632.9,1385.4 1634.1,1393.1 1635.3,1389.5 1636.5,1396.3 1637.7,1390.2 1638.9,1375.1 1640.1,1385.3 1641.3,1403.4 1642.5,1384.7 1643.7,1390.0 1644.9,1391.8 1646.1,1389.1 1647.3,1399.1 1648.5,1390.2 1649.7,1386.4 1650.9,1391.7 1652.1,1385.0 1653.3,1387.3 1654.5,1386.2 1655.7,1389.8 1656.9,1386.2 1658.1,1376.4 1659.3,1383.8 1660.5,1386.7 1661.7,1399.8 1662.9,1365.6 1664.1,1404.0 1665.3,1380.8 1666.5,1387.4 1667.7,1387.5 1668.9,1401.5 1670.1,1393.8 1671.3,1382.8 1672.5,1387.1 1673.7,1390.8 1674.9,1384.7 1676.1,1381.8 1677.3,1379.4 1678.5,1367.4 1679.7,1390.6 1680.9,1387.9 1682.1,1386.6 1683.3,1379.2 1684.5,1374.5 1685.7,1378.4 1686.9,1379.8 1688.1,1380.2 1689.3,1375.8 1690.5,1385.4 1691.7,1394.2 1692.9,1387.6 1694.1,1377.2 1695.3,1384.1 1696.5,1383.8 1697.7,1388.9 1698.9,1389.1 1700.1,1387.4 1701.3,1370.0 1702.5,1387.3 1703.7,1384.0 1704.9,1384.6 1706.1,1391.7 1707.3,1390.9 1708.5,1385.0 1709.7,1379.3 1710.9,1391.3 1712.1,1386.3 1713.3,1393.5 1714.5,1391.1 1715.7,1390.4 1716.9,1382.4 1718.1,1388.1 1719.3,1388.3 1720.5,1380.6 1721.7,1392.3 1722.9,1396.5 1724.1,1391.1 1725.3,1380.9 1726.5,1384.4 1727.7,1390.7 1728.9,1378.6 1730.1,1388.3 1731.3,1385.9 1732.5,1385.4 1733.7,1381.1 1734.9,1387.9 1736.1,1382.3 1737.3,1403.8 1738.5,1386.5 1739.7,1385.1 1740.9,1380.3 1742.1,1385.6 1743.3,1383.9 1744.5,1399.1 1745.7,1384.8 1746.9,1402.2 1748.1,1387.1 1749.3,1388.2 1750.5,1386.2 1751.7,1386.9 1752.9,1391.7 1754.1,1378.8 1755.3,1379.0 1756.5,1386.9 1757.7,1385.5 1758.9,1386.5 1760.1,1387.8 1761.3,1384.4 1762.5,1375.1 1763.7,1388.2 1764.9,1392.1 1766.1,1386.3 1767.3,1393.8 1768.5,1393.3 1769.7,1385.1 1770.9,1382.1 1772.1,1400.3 1773.3,1402.4 1774.5,1386.9 1775.7,1387.7 1776.9,1384.2 1778.1,1390.2 1779.3,1391.8 1780.5,1393.1 1781.7,1381.0 1782.9,1391.1 1784.1,1387.4 1785.3,1391.9 1786.5,1387.2 1787.7,1383.4 1788.9,1375.0 1790.1,1389.7 1791.3,1387.9 1792.5,1389.3 1793.7,1382.4 1794.9,1388.5 1796.1,1387.5 1797.3,1389.1 1798.5,1391.8 1799.7,1383.4 1800.9,1387.3 1802.1,1379.0 1803.3,1379.9 1804.5,1383.5 1805.7,1390.3 1806.9,1380.4 1808.1,1380.4 1809.3,1384.4 1810.5,1401.0 1811.7,1384.1 1812.9,1388.3 1814.1,1385.9 1815.3,1392.4 1816.5,1387.1 1817.7,1387.8 1818.9,1385.7 1820.1,1387.2 1821.3,1384.2 1822.5,1395.3 1823.7,1388.9 1824.9,1391.2 1826.1,1392.4 1827.3,1383.1 1828.5,1395.7 1829.7,1380.6 1830.9,1391.3 1832.1,1384.2 1833.3,1387.6 1834.5,1378.2 1835.7,1370.8 1836.9,1375.0 1838.1,1382.3 1839.3,1388.0 1840.5,1393.7 1841.7,1395.0 1842.9,1371.6 1844.1,1389.3 1845.3,1396.5 1846.5,1372.8 1847.7,1387.3 1848.9,1386.3 1850.1,1376.1 1851.3,1405.8 1852.5,1392.3 1853.7,1385.2 1854.9,1390.3 1856.1,1385.2 1857.3,1385.7 1858.5,1396.1 1859.7,1386.7 1860.9,1402.9 1862.1,1379.5 1863.3,1391.0 1864.5,1388.1 1865.7,1392.7 1866.9,1395.2 1868.1,1394.8 1869.3,1385.9 1870.5,1391.9 1871.7,1390.1 1872.9,1387.2 1874.1,1406.7 1875.3,1391.2 1876.5,1387.1 1877.7,1381.3 1878.9,1383.5 1880.1,1404.8 1881.3,1386.6 1882.5,1387.1 1883.7,1391.8 1884.9,1380.2 1886.1,1384.3 1887.3,1389.1 1888.5,1401.0 1889.7,1383.2 1890.9,1384.8 1892.1,1389.9 1893.3,1369.9 1894.5,1388.4 1895.7,1396.3 1896.9,1390.3 1898.1,1383.8 1899.3,1379.3 1900.5,1370.7 1901.7,1395.0 1902.9,1384.9 1904.1,1374.3 1905.3,1391.1 1906.5,1383.6 1907.7,1392.6 1908.9,1381.1 1910.1,1385.9 1911.3,1392.1 1912.5,1380.9 1913.7,1394.5 1914.9,1404.0 1916.1,1389.7 1917.3,1388.5 1918.5,1379.5 1919.7,1383.2 1920.9,1389.7 1922.1,1389.7 1923.3,1390.3 1924.5,1386.1 1925.7,1387.8 1926.9,1394.1 1928.1,1387.9 1929.3,1384.6 1930.5,1404.6 1931.7,1378.4 1932.9,1385.7 1934.1,1381.0 1935.3,1382.9 1936.5,1380.0 1937.7,1385.3 1938.9,1393.7 1940.1,1384.2 1941.3,1374.2 1942.5,1387.9 1943.7,1383.9 1944.9,1390.4 1946.1,1371.6 1947.3,1387.8 1948.5,1379.8 1948.5,1454.0" fill="#3a44a0"/>
<rect x="1410.1" y="1426.7" width="1.7" height="27.3" fill="#fff"/><rect x="1414.2" y="1415.0" width="1.2" height="39.0" fill="#fff"/><rect x="1417.8" y="1423.8" width="1.1" height="30.2" fill="#fff"/><rect x="1423.1" y="1440.6" width="1.4" height="13.4" fill="#fff"/><rect x="1426.0" y="1420.2" width="1.3" height="33.8" fill="#fff"/><rect x="1428.8" y="1412.9" width="0.8" height="41.1" fill="#fff"/><rect x="1431.1" y="1434.2" width="1.4" height="19.8" fill="#fff"/><rect x="1435.8" y="1429.1" width="1.5" height="24.9" fill="#fff"/><rect x="1440.6" y="1432.9" width="1.9" height="21.1" fill="#fff"/><rect x="1446.7" y="1410.5" width="1.8" height="43.5" fill="#fff"/><rect x="1450.9" y="1434.4" width="1.7" height="19.6" fill="#fff"/><rect x="1454.1" y="1410.7" width="1.1" height="43.3" fill="#fff"/><rect x="1458.5" y="1414.6" width="1.2" height="39.4" fill="#fff"/><rect x="1463.0" y="1431.1" width="1.2" height="22.9" fill="#fff"/><rect x="1465.7" y="1413.4" width="1.5" height="40.6" fill="#fff"/><rect x="1468.7" y="1433.8" width="1.6" height="20.2" fill="#fff"/><rect x="1473.5" y="1414.8" width="1.2" height="39.2" fill="#fff"/><rect x="1477.1" y="1436.0" width="1.0" height="18.0" fill="#fff"/><rect x="1480.5" y="1441.3" width="1.4" height="12.7" fill="#fff"/><rect x="1485.2" y="1430.2" width="2.1" height="23.8" fill="#fff"/><rect x="1490.6" y="1433.2" width="0.8" height="20.8" fill="#fff"/><rect x="1493.8" y="1433.3" width="1.9" height="20.7" fill="#fff"/><rect x="1499.9" y="1431.6" width="1.9" height="22.4" fill="#fff"/><rect x="1504.2" y="1426.7" width="2.1" height="27.3" fill="#fff"/><rect x="1508.7" y="1418.8" width="1.1" height="35.2" fill="#fff"/><rect x="1512.2" y="1433.4" width="2.2" height="20.6" fill="#fff"/><rect x="1516.8" y="1435.3" width="1.4" height="18.7" fill="#fff"/><rect x="1519.7" y="1423.7" width="1.6" height="30.3" fill="#fff"/><rect x="1525.5" y="1424.7" width="1.5" height="29.3" fill="#fff"/><rect x="1532.1" y="1434.5" width="1.8" height="19.5" fill="#fff"/><rect x="1538.9" y="1434.5" width="1.2" height="19.5" fill="#fff"/><rect x="1541.7" y="1436.3" width="2.1" height="17.7" fill="#fff"/><rect x="1548.0" y="1439.8" width="1.6" height="14.2" fill="#fff"/><rect x="1551.1" y="1427.5" width="1.9" height="26.5" fill="#fff"/><rect x="1554.5" y="1427.1" width="1.1" height="26.9" fill="#fff"/><rect x="1561.6" y="1439.9" width="0.8" height="14.1" fill="#fff"/><rect x="1563.9" y="1419.4" width="1.0" height="34.6" fill="#fff"/><rect x="1567.3" y="1410.4" width="1.0" height="43.6" fill="#fff"/><rect x="1570.7" y="1419.1" width="1.8" height="34.9" fill="#fff"/><rect x="1574.9" y="1432.5" width="1.1" height="21.5" fill="#fff"/><rect x="1577.5" y="1423.2" width="1.4" height="30.8" fill="#fff"/><rect x="1580.4" y="1442.6" width="2.0" height="11.4" fill="#fff"/><rect x="1585.7" y="1422.2" width="1.0" height="31.8" fill="#fff"/><rect x="1590.9" y="1440.5" width="2.0" height="13.5" fill="#fff"/><rect x="1595.3" y="1412.3" width="1.6" height="41.7" fill="#fff"/><rect x="1626.3" y="1412.5" width="1.8" height="41.5" fill="#fff"/><rect x="1631.5" y="1443.0" width="1.3" height="11.0" fill="#fff"/><rect x="1642.4" y="1420.5" width="1.4" height="33.5" fill="#fff"/><rect x="1645.2" y="1437.2" width="1.2" height="16.8" fill="#fff"/><rect x="1648.8" y="1444.3" width="1.0" height="9.7" fill="#fff"/><rect x="1651.4" y="1414.7" width="0.9" height="39.3" fill="#fff"/><rect x="1654.6" y="1423.0" width="2.1" height="31.0" fill="#fff"/><rect x="1659.1" y="1410.5" width="0.8" height="43.5" fill="#fff"/><rect x="1668.6" y="1436.8" width="1.9" height="17.2" fill="#fff"/><rect x="1672.0" y="1433.1" width="0.9" height="20.9" fill="#fff"/><rect x="1674.4" y="1431.5" width="1.2" height="22.5" fill="#fff"/><rect x="1678.0" y="1410.5" width="1.6" height="43.5" fill="#fff"/><rect x="1681.9" y="1440.5" width="1.8" height="13.5" fill="#fff"/><rect x="1685.3" y="1425.7" width="2.2" height="28.3" fill="#fff"/><rect x="1688.9" y="1427.2" width="0.9" height="26.8" fill="#fff"/><rect x="1692.2" y="1411.2" width="2.0" height="42.8" fill="#fff"/><rect x="1696.6" y="1445.5" width="1.4" height="8.5" fill="#fff"/><rect x="1699.5" y="1416.3" width="1.0" height="37.7" fill="#fff"/><rect x="1704.7" y="1423.8" width="2.0" height="30.2" fill="#fff"/><rect x="1709.9" y="1445.8" width="1.0" height="8.2" fill="#fff"/><rect x="1715.2" y="1433.2" width="2.0" height="20.8" fill="#fff"/><rect x="1719.5" y="1434.8" width="1.1" height="19.2" fill="#fff"/><rect x="1722.1" y="1435.7" width="0.9" height="18.3" fill="#fff"/><rect x="1729.0" y="1418.0" width="1.0" height="36.0" fill="#fff"/><rect x="1731.5" y="1421.3" width="2.0" height="32.7" fill="#fff"/><rect x="1737.7" y="1420.3" width="2.0" height="33.7" fill="#fff"/><rect x="1742.1" y="1441.8" width="0.8" height="12.2" fill="#fff"/><rect x="1744.5" y="1416.9" width="2.0" height="37.1" fill="#fff"/><rect x="1748.0" y="1415.6" width="1.2" height="38.4" fill="#fff"/><rect x="1753.3" y="1425.3" width="1.7" height="28.7" fill="#fff"/><rect x="1758.3" y="1425.3" width="1.9" height="28.7" fill="#fff"/><rect x="1768.8" y="1430.6" width="1.0" height="23.4" fill="#fff"/><rect x="1776.7" y="1412.3" width="1.1" height="41.7" fill="#fff"/><rect x="1781.1" y="1414.8" width="1.7" height="39.2" fill="#fff"/><rect x="1784.3" y="1410.6" width="0.9" height="43.4" fill="#fff"/><rect x="1790.3" y="1432.4" width="1.4" height="21.6" fill="#fff"/><rect x="1794.1" y="1421.1" width="1.7" height="32.9" fill="#fff"/><rect x="1797.2" y="1433.3" width="1.8" height="20.7" fill="#fff"/><rect x="1800.5" y="1423.7" width="2.2" height="30.3" fill="#fff"/><rect x="1804.2" y="1439.2" width="1.3" height="14.8" fill="#fff"/><rect x="1808.8" y="1411.8" width="1.9" height="42.2" fill="#fff"/><rect x="1814.9" y="1412.6" width="1.0" height="41.4" fill="#fff"/><rect x="1820.1" y="1431.8" width="2.1" height="22.2" fill="#fff"/><rect x="1825.5" y="1436.8" width="2.0" height="17.2" fill="#fff"/><rect x="1829.9" y="1417.6" width="1.9" height="36.4" fill="#fff"/><rect x="1837.7" y="1423.5" width="1.8" height="30.5" fill="#fff"/><rect x="1842.8" y="1411.6" width="1.7" height="42.4" fill="#fff"/><rect x="1847.8" y="1445.5" width="1.8" height="8.5" fill="#fff"/><rect x="1856.5" y="1425.8" width="1.1" height="28.2" fill="#fff"/><rect x="1860.9" y="1437.6" width="1.6" height="16.4" fill="#fff"/><rect x="1865.8" y="1423.8" width="2.1" height="30.2" fill="#fff"/><rect x="1869.4" y="1412.6" width="1.1" height="41.4" fill="#fff"/><rect x="1872.0" y="1413.7" width="1.1" height="40.3" fill="#fff"/><rect x="1876.3" y="1422.4" width="1.3" height="31.6" fill="#fff"/><rect x="1885.5" y="1439.8" width="1.4" height="14.2" fill="#fff"/><rect x="1888.3" y="1443.5" width="1.1" height="10.5" fill="#fff"/><rect x="1894.5" y="1436.1" width="1.5" height="17.9" fill="#fff"/><rect x="1900.2" y="1427.1" width="1.7" height="26.9" fill="#fff"/><rect x="1906.1" y="1416.9" width="2.0" height="37.1" fill="#fff"/><rect x="1913.2" y="1422.9" width="1.9" height="31.1" fill="#fff"/><rect x="1918.4" y="1414.4" width="1.8" height="39.6" fill="#fff"/><rect x="1922.6" y="1420.9" width="1.0" height="33.1" fill="#fff"/><rect x="1927.0" y="1420.3" width="1.1" height="33.7" fill="#fff"/><rect x="1930.4" y="1440.9" width="2.1" height="13.1" fill="#fff"/><rect x="1934.0" y="1421.1" width="1.1" height="32.9" fill="#fff"/><rect x="1937.5" y="1435.7" width="2.1" height="18.3" fill="#fff"/><rect x="1942.9" y="1426.7" width="1.1" height="27.3" fill="#fff"/><rect x="1946.4" y="1435.8" width="2.1" height="18.2" fill="#fff"/>
<polyline points="1598.2,1453.0 1598.3,1366.0 1599.3,1320.0 1600.3,1264.0 1601.7,1210.0 1603.8,1162.0 1605.2,1130.0 1607.5,1100.0 1609.0,1088.0 1610.8,1084.2 1612.6,1088.0 1614.2,1100.0 1616.3,1130.0 1617.6,1162.0 1619.1,1210.0 1620.4,1264.0 1621.8,1320.0 1623.0,1366.0 1623.3,1453.0" fill="none" stroke="#3a44a0" stroke-width="3.0" stroke-linejoin="round"/>
<rect x="1406.30" y="1057.70" width="544.30" height="397.30" fill="none" stroke="#4a4a4a" stroke-width="2.2"/>
<line x1="1398.30" y1="1057.70" x2="1406.30" y2="1057.70" stroke="#4a4a4a" stroke-width="2.2"/>
<line x1="1398.30" y1="1123.81" x2="1406.30" y2="1123.81" stroke="#4a4a4a" stroke-width="2.2"/>
<line x1="1398.30" y1="1189.91" x2="1406.30" y2="1189.91" stroke="#4a4a4a" stroke-width="2.2"/>
<line x1="1398.30" y1="1256.02" x2="1406.30" y2="1256.02" stroke="#4a4a4a" stroke-width="2.2"/>
<line x1="1398.30" y1="1322.12" x2="1406.30" y2="1322.12" stroke="#4a4a4a" stroke-width="2.2"/>
<line x1="1398.30" y1="1388.22" x2="1406.30" y2="1388.22" stroke="#4a4a4a" stroke-width="2.2"/>
<line x1="1398.30" y1="1454.33" x2="1406.30" y2="1454.33" stroke="#4a4a4a" stroke-width="2.2"/>
<line x1="1401.80" y1="1090.75" x2="1406.30" y2="1090.75" stroke="#4a4a4a" stroke-width="2.2"/>
<line x1="1401.80" y1="1156.86" x2="1406.30" y2="1156.86" stroke="#4a4a4a" stroke-width="2.2"/>
<line x1="1401.80" y1="1222.96" x2="1406.30" y2="1222.96" stroke="#4a4a4a" stroke-width="2.2"/>
<line x1="1401.80" y1="1289.07" x2="1406.30" y2="1289.07" stroke="#4a4a4a" stroke-width="2.2"/>
<line x1="1401.80" y1="1355.17" x2="1406.30" y2="1355.17" stroke="#4a4a4a" stroke-width="2.2"/>
<line x1="1401.80" y1="1421.28" x2="1406.30" y2="1421.28" stroke="#4a4a4a" stroke-width="2.2"/>
<line x1="1406.30" y1="1455.00" x2="1406.30" y2="1463.00" stroke="#4a4a4a" stroke-width="2.2"/>
<line x1="1474.40" y1="1455.00" x2="1474.40" y2="1463.00" stroke="#4a4a4a" stroke-width="2.2"/>
<line x1="1542.50" y1="1455.00" x2="1542.50" y2="1463.00" stroke="#4a4a4a" stroke-width="2.2"/>
<line x1="1610.60" y1="1455.00" x2="1610.60" y2="1463.00" stroke="#4a4a4a" stroke-width="2.2"/>
<line x1="1678.70" y1="1455.00" x2="1678.70" y2="1463.00" stroke="#4a4a4a" stroke-width="2.2"/>
<line x1="1746.80" y1="1455.00" x2="1746.80" y2="1463.00" stroke="#4a4a4a" stroke-width="2.2"/>
<line x1="1814.90" y1="1455.00" x2="1814.90" y2="1463.00" stroke="#4a4a4a" stroke-width="2.2"/>
<line x1="1883.00" y1="1455.00" x2="1883.00" y2="1463.00" stroke="#4a4a4a" stroke-width="2.2"/>
<line x1="1951.10" y1="1455.00" x2="1951.10" y2="1463.00" stroke="#4a4a4a" stroke-width="2.2"/>
<line x1="1440.35" y1="1455.00" x2="1440.35" y2="1459.50" stroke="#4a4a4a" stroke-width="2.2"/>
<line x1="1508.45" y1="1455.00" x2="1508.45" y2="1459.50" stroke="#4a4a4a" stroke-width="2.2"/>
<line x1="1576.55" y1="1455.00" x2="1576.55" y2="1459.50" stroke="#4a4a4a" stroke-width="2.2"/>
<line x1="1644.65" y1="1455.00" x2="1644.65" y2="1459.50" stroke="#4a4a4a" stroke-width="2.2"/>
<line x1="1712.75" y1="1455.00" x2="1712.75" y2="1459.50" stroke="#4a4a4a" stroke-width="2.2"/>
<line x1="1780.85" y1="1455.00" x2="1780.85" y2="1459.50" stroke="#4a4a4a" stroke-width="2.2"/>
<line x1="1848.95" y1="1455.00" x2="1848.95" y2="1459.50" stroke="#4a4a4a" stroke-width="2.2"/>
<line x1="1917.05" y1="1455.00" x2="1917.05" y2="1459.50" stroke="#4a4a4a" stroke-width="2.2"/>
<text x="1375.90" y="1065.50" font-family='"Liberation Serif", serif' font-size="30.50" font-weight="bold" fill="#1a1a1a" textLength="15.50" lengthAdjust="spacingAndGlyphs">0</text>
<text x="1348.40" y="1131.61" font-family='"Liberation Serif", serif' font-size="30.50" font-weight="bold" fill="#1a1a1a" textLength="43.00" lengthAdjust="spacingAndGlyphs">-15</text>
<text x="1348.40" y="1197.71" font-family='"Liberation Serif", serif' font-size="30.50" font-weight="bold" fill="#1a1a1a" textLength="43.00" lengthAdjust="spacingAndGlyphs">-30</text>
<text x="1348.40" y="1263.82" font-family='"Liberation Serif", serif' font-size="30.50" font-weight="bold" fill="#1a1a1a" textLength="43.00" lengthAdjust="spacingAndGlyphs">-45</text>
<text x="1348.40" y="1329.92" font-family='"Liberation Serif", serif' font-size="30.50" font-weight="bold" fill="#1a1a1a" textLength="43.00" lengthAdjust="spacingAndGlyphs">-60</text>
<text x="1348.40" y="1396.02" font-family='"Liberation Serif", serif' font-size="30.50" font-weight="bold" fill="#1a1a1a" textLength="43.00" lengthAdjust="spacingAndGlyphs">-75</text>
<text x="1348.40" y="1462.13" font-family='"Liberation Serif", serif' font-size="30.50" font-weight="bold" fill="#1a1a1a" textLength="43.00" lengthAdjust="spacingAndGlyphs">-90</text>
<text x="1380.80" y="1492.50" font-family='"Liberation Serif", serif' font-size="30.00" font-weight="bold" fill="#1a1a1a" textLength="50.99" lengthAdjust="spacingAndGlyphs">110</text>
<text x="1448.90" y="1492.50" font-family='"Liberation Serif", serif' font-size="30.00" font-weight="bold" fill="#1a1a1a" textLength="51.00" lengthAdjust="spacingAndGlyphs">120</text>
<text x="1517.00" y="1492.50" font-family='"Liberation Serif", serif' font-size="30.00" font-weight="bold" fill="#1a1a1a" textLength="51.00" lengthAdjust="spacingAndGlyphs">130</text>
<text x="1585.10" y="1492.50" font-family='"Liberation Serif", serif' font-size="30.00" font-weight="bold" fill="#1a1a1a" textLength="51.00" lengthAdjust="spacingAndGlyphs">140</text>
<text x="1653.20" y="1492.50" font-family='"Liberation Serif", serif' font-size="30.00" font-weight="bold" fill="#1a1a1a" textLength="51.00" lengthAdjust="spacingAndGlyphs">150</text>
<text x="1721.30" y="1492.50" font-family='"Liberation Serif", serif' font-size="30.00" font-weight="bold" fill="#1a1a1a" textLength="51.00" lengthAdjust="spacingAndGlyphs">160</text>
<text x="1789.40" y="1492.50" font-family='"Liberation Serif", serif' font-size="30.00" font-weight="bold" fill="#1a1a1a" textLength="51.00" lengthAdjust="spacingAndGlyphs">170</text>
<text x="1857.50" y="1492.50" font-family='"Liberation Serif", serif' font-size="30.00" font-weight="bold" fill="#1a1a1a" textLength="51.00" lengthAdjust="spacingAndGlyphs">180</text>
<text x="1925.60" y="1492.50" font-family='"Liberation Serif", serif' font-size="30.00" font-weight="bold" fill="#1a1a1a" textLength="51.00" lengthAdjust="spacingAndGlyphs">190</text>
<text x="1537.90" y="1528.80" font-family='"Liberation Serif", serif' font-size="30.70" font-weight="bold" fill="#111" textLength="256.81" lengthAdjust="spacingAndGlyphs">Frequecny (MHz)</text>
<text transform="translate(1333.50,1429.70) rotate(-90)" x="0" y="0" font-family='"Liberation Serif", serif' font-size="32.00" font-weight="bold" fill="#111" textLength="338.91" lengthAdjust="spacingAndGlyphs">RF power density (dBm)</text>
<text x="1431.50" y="1123.00" font-family='"Liberation Serif", serif' font-size="48.00" fill="#1a1a1a" textLength="43.79" lengthAdjust="spacingAndGlyphs">(i)</text>
<text x="1481.80" y="1251.60" font-family='"Liberation Serif", serif' font-size="36.00" font-weight="bold" fill="#1a1a1a" textLength="98.81" lengthAdjust="spacingAndGlyphs">70 dB</text>
<rect x="1683.20" y="1073.00" width="246.00" height="203.30" fill="#ffffff" stroke="none" stroke-width="1"/>
<polygon points="1684.0,1275.7 1684.0,1225.9 1685.0,1224.9 1686.0,1227.5 1687.0,1232.0 1688.0,1223.6 1689.0,1225.9 1690.0,1223.2 1691.0,1230.5 1692.0,1224.3 1693.0,1229.5 1694.0,1229.4 1695.0,1221.7 1696.0,1222.4 1697.0,1226.4 1698.0,1218.7 1699.0,1224.7 1700.0,1226.5 1701.0,1217.5 1702.0,1223.2 1703.0,1226.9 1704.0,1225.6 1705.0,1226.2 1706.0,1222.4 1707.0,1224.1 1708.0,1225.3 1709.0,1223.5 1710.0,1226.2 1711.0,1222.4 1712.0,1225.3 1713.0,1229.0 1714.0,1227.6 1715.0,1216.5 1716.0,1227.5 1717.0,1228.3 1718.0,1225.7 1719.0,1232.3 1720.0,1222.6 1721.0,1228.9 1722.0,1228.1 1723.0,1232.7 1724.0,1227.3 1725.0,1224.9 1726.0,1225.5 1727.0,1224.1 1728.0,1225.2 1729.0,1225.8 1730.0,1222.8 1731.0,1235.5 1732.0,1226.6 1733.0,1226.0 1734.0,1227.4 1735.0,1230.6 1736.0,1223.7 1737.0,1222.0 1738.0,1227.2 1739.0,1221.6 1740.0,1224.9 1741.0,1224.7 1742.0,1228.8 1743.0,1226.7 1744.0,1229.2 1745.0,1226.6 1746.0,1225.9 1747.0,1228.3 1748.0,1228.2 1749.0,1221.3 1750.0,1226.2 1751.0,1220.6 1752.0,1223.7 1753.0,1222.1 1754.0,1220.0 1755.0,1224.7 1756.0,1224.8 1757.0,1226.9 1758.0,1226.3 1759.0,1225.1 1760.0,1228.6 1761.0,1224.6 1762.0,1221.9 1763.0,1221.2 1764.0,1227.5 1765.0,1223.3 1766.0,1234.2 1767.0,1221.4 1768.0,1223.9 1769.0,1227.9 1770.0,1219.3 1771.0,1223.6 1772.0,1224.4 1773.0,1228.7 1774.0,1224.3 1775.0,1237.3 1776.0,1222.2 1777.0,1225.3 1778.0,1226.9 1779.0,1219.4 1780.0,1223.7 1781.0,1225.3 1782.0,1226.9 1783.0,1225.3 1784.0,1225.7 1785.0,1226.4 1786.0,1220.5 1787.0,1224.8 1788.0,1222.7 1789.0,1224.4 1790.0,1218.1 1791.0,1221.9 1792.0,1223.9 1793.0,1218.7 1794.0,1227.6 1795.0,1224.9 1796.0,1224.4 1797.0,1229.7 1798.0,1223.6 1799.0,1223.2 1800.0,1226.7 1801.0,1225.6 1802.0,1215.2 1803.0,1224.1 1804.0,1227.9 1805.0,1226.4 1806.0,1221.9 1807.0,1220.2 1808.0,1228.3 1809.0,1223.3 1810.0,1220.1 1811.0,1224.5 1812.0,1226.7 1813.0,1218.7 1814.0,1224.7 1815.0,1228.4 1816.0,1225.2 1817.0,1222.7 1818.0,1222.7 1819.0,1211.0 1820.0,1217.3 1821.0,1220.0 1822.0,1228.1 1823.0,1227.7 1824.0,1230.6 1825.0,1227.7 1826.0,1235.5 1827.0,1222.4 1828.0,1226.2 1829.0,1224.0 1830.0,1224.9 1831.0,1228.4 1832.0,1226.3 1833.0,1222.4 1834.0,1225.8 1835.0,1230.2 1836.0,1225.4 1837.0,1229.9 1838.0,1225.6 1839.0,1226.1 1840.0,1224.9 1841.0,1226.4 1842.0,1227.7 1843.0,1225.2 1844.0,1226.6 1845.0,1225.9 1846.0,1226.5 1847.0,1229.1 1848.0,1231.1 1849.0,1224.6 1850.0,1219.3 1851.0,1222.8 1852.0,1225.1 1853.0,1227.0 1854.0,1228.1 1855.0,1230.8 1856.0,1225.8 1857.0,1228.1 1858.0,1221.9 1859.0,1221.2 1860.0,1231.3 1861.0,1231.5 1862.0,1219.2 1863.0,1221.1 1864.0,1225.4 1865.0,1225.5 1866.0,1226.8 1867.0,1225.0 1868.0,1230.1 1869.0,1223.8 1870.0,1218.3 1871.0,1233.3 1872.0,1222.2 1873.0,1221.8 1874.0,1228.0 1875.0,1227.0 1876.0,1223.7 1877.0,1223.0 1878.0,1218.0 1879.0,1226.2 1880.0,1219.4 1881.0,1226.4 1882.0,1216.1 1883.0,1221.5 1884.0,1223.7 1885.0,1226.1 1886.0,1217.9 1887.0,1224.2 1888.0,1225.7 1889.0,1225.4 1890.0,1222.3 1891.0,1222.5 1892.0,1219.7 1893.0,1233.4 1894.0,1231.2 1895.0,1226.0 1896.0,1228.6 1897.0,1227.4 1898.0,1225.0 1899.0,1223.3 1900.0,1223.2 1901.0,1226.2 1902.0,1223.1 1903.0,1223.5 1904.0,1227.8 1905.0,1227.8 1906.0,1222.6 1907.0,1226.2 1908.0,1221.5 1909.0,1224.5 1910.0,1227.2 1911.0,1222.4 1912.0,1223.7 1913.0,1231.1 1914.0,1231.8 1915.0,1221.9 1916.0,1223.4 1917.0,1221.8 1918.0,1226.9 1919.0,1222.9 1920.0,1231.0 1921.0,1225.0 1922.0,1223.3 1923.0,1226.9 1924.0,1225.9 1925.0,1226.4 1926.0,1210.5 1927.0,1228.0 1928.0,1223.9 1928.0,1275.7" fill="#3a44a0"/>
<rect x="1685.0" y="1258.7" width="0.7" height="17.0" fill="#fff"/><rect x="1688.1" y="1255.5" width="1.3" height="20.2" fill="#fff"/><rect x="1691.8" y="1256.0" width="1.2" height="19.7" fill="#fff"/><rect x="1694.5" y="1259.4" width="0.7" height="16.3" fill="#fff"/><rect x="1697.6" y="1254.8" width="1.2" height="20.9" fill="#fff"/><rect x="1701.2" y="1252.2" width="1.4" height="23.5" fill="#fff"/><rect x="1705.0" y="1255.6" width="1.3" height="20.1" fill="#fff"/><rect x="1708.6" y="1262.6" width="1.0" height="13.1" fill="#fff"/><rect x="1712.9" y="1267.2" width="1.1" height="8.5" fill="#fff"/><rect x="1718.2" y="1257.6" width="1.1" height="18.1" fill="#fff"/><rect x="1721.7" y="1269.2" width="1.3" height="6.5" fill="#fff"/><rect x="1726.4" y="1256.5" width="1.0" height="19.2" fill="#fff"/><rect x="1729.8" y="1258.2" width="1.6" height="17.5" fill="#fff"/><rect x="1732.8" y="1262.5" width="1.2" height="13.2" fill="#fff"/><rect x="1736.5" y="1258.8" width="1.2" height="16.9" fill="#fff"/><rect x="1741.9" y="1255.4" width="1.6" height="20.3" fill="#fff"/><rect x="1748.6" y="1263.0" width="1.1" height="12.7" fill="#fff"/><rect x="1751.2" y="1263.4" width="1.0" height="12.3" fill="#fff"/><rect x="1753.7" y="1256.9" width="0.7" height="18.8" fill="#fff"/><rect x="1762.1" y="1259.1" width="0.7" height="16.6" fill="#fff"/><rect x="1764.4" y="1252.0" width="1.0" height="23.7" fill="#fff"/><rect x="1767.8" y="1266.6" width="1.0" height="9.1" fill="#fff"/><rect x="1771.2" y="1266.1" width="1.2" height="9.6" fill="#fff"/><rect x="1773.9" y="1257.2" width="1.5" height="18.5" fill="#fff"/><rect x="1777.8" y="1263.6" width="1.2" height="12.1" fill="#fff"/><rect x="1782.3" y="1265.7" width="1.4" height="10.0" fill="#fff"/><rect x="1787.9" y="1252.1" width="1.4" height="23.6" fill="#fff"/><rect x="1792.5" y="1263.1" width="1.5" height="12.6" fill="#fff"/><rect x="1805.5" y="1266.1" width="0.7" height="9.6" fill="#fff"/><rect x="1809.5" y="1253.3" width="1.2" height="22.4" fill="#fff"/><rect x="1816.7" y="1258.1" width="1.3" height="17.6" fill="#fff"/><rect x="1820.4" y="1269.5" width="1.0" height="6.2" fill="#fff"/><rect x="1826.5" y="1263.3" width="1.1" height="12.4" fill="#fff"/><rect x="1830.9" y="1265.3" width="0.9" height="10.4" fill="#fff"/><rect x="1833.3" y="1268.5" width="0.6" height="7.2" fill="#fff"/><rect x="1836.4" y="1261.4" width="1.4" height="14.3" fill="#fff"/><rect x="1840.1" y="1267.8" width="1.3" height="7.9" fill="#fff"/><rect x="1844.7" y="1252.2" width="1.2" height="23.5" fill="#fff"/><rect x="1847.5" y="1265.8" width="0.8" height="9.9" fill="#fff"/><rect x="1852.5" y="1265.8" width="1.4" height="9.9" fill="#fff"/><rect x="1855.4" y="1253.7" width="0.8" height="22.0" fill="#fff"/><rect x="1858.5" y="1250.9" width="1.2" height="24.8" fill="#fff"/><rect x="1861.2" y="1263.2" width="1.5" height="12.5" fill="#fff"/><rect x="1867.9" y="1264.7" width="0.6" height="11.0" fill="#fff"/><rect x="1870.0" y="1266.8" width="1.1" height="8.9" fill="#fff"/><rect x="1872.6" y="1265.0" width="1.5" height="10.7" fill="#fff"/><rect x="1875.6" y="1259.4" width="1.6" height="16.3" fill="#fff"/><rect x="1878.7" y="1256.9" width="0.6" height="18.8" fill="#fff"/><rect x="1882.6" y="1268.7" width="1.4" height="7.0" fill="#fff"/><rect x="1886.4" y="1259.8" width="1.5" height="15.9" fill="#fff"/><rect x="1889.4" y="1265.1" width="0.6" height="10.6" fill="#fff"/><rect x="1891.5" y="1253.6" width="0.9" height="22.1" fill="#fff"/><rect x="1894.8" y="1250.7" width="1.2" height="25.0" fill="#fff"/><rect x="1902.0" y="1259.4" width="0.8" height="16.3" fill="#fff"/><rect x="1904.3" y="1254.6" width="0.9" height="21.1" fill="#fff"/><rect x="1906.6" y="1250.1" width="0.8" height="25.6" fill="#fff"/><rect x="1908.9" y="1268.3" width="1.6" height="7.4" fill="#fff"/><rect x="1912.0" y="1258.3" width="0.7" height="17.4" fill="#fff"/><rect x="1915.0" y="1258.0" width="1.0" height="17.7" fill="#fff"/><rect x="1917.5" y="1254.0" width="1.0" height="21.7" fill="#fff"/><rect x="1920.1" y="1252.1" width="0.7" height="23.6" fill="#fff"/><rect x="1922.3" y="1257.5" width="0.8" height="18.2" fill="#fff"/><rect x="1925.5" y="1260.7" width="0.9" height="15.0" fill="#fff"/>
<polygon points="1689.0,1275.7 1689.6,1230.8 1690.4,1083.8 1691.1,1090.6 1692.2,1090.6 1692.9,1083.8 1693.7,1230.8 1694.3,1275.7" fill="#5058b4"/>
<line x1="1691.60" y1="1235.36" x2="1691.60" y2="1275.30" stroke="#9aa0dc" stroke-width="0.9"/>
<polygon points="1713.6,1275.7 1714.2,1230.8 1715.0,1100.3 1715.7,1107.1 1716.8,1107.1 1717.5,1100.3 1718.3,1230.8 1718.9,1275.7" fill="#5058b4"/>
<line x1="1716.22" y1="1235.36" x2="1716.22" y2="1275.30" stroke="#9aa0dc" stroke-width="0.9"/>
<polygon points="1738.2,1275.7 1738.8,1230.8 1739.6,1103.2 1740.3,1110.0 1741.4,1110.0 1742.1,1103.2 1742.9,1230.8 1743.5,1275.7" fill="#5058b4"/>
<line x1="1740.84" y1="1235.36" x2="1740.84" y2="1275.30" stroke="#9aa0dc" stroke-width="0.9"/>
<polygon points="1762.9,1275.7 1763.5,1230.8 1764.3,1105.5 1765.0,1112.2 1766.1,1112.2 1766.8,1105.5 1767.6,1230.8 1768.2,1275.7" fill="#5058b4"/>
<line x1="1765.46" y1="1235.36" x2="1765.46" y2="1275.30" stroke="#9aa0dc" stroke-width="0.9"/>
<polygon points="1787.5,1275.7 1788.1,1230.8 1788.9,1108.2 1789.6,1114.9 1790.7,1114.9 1791.4,1108.2 1792.2,1230.8 1792.8,1275.7" fill="#5058b4"/>
<line x1="1790.08" y1="1235.36" x2="1790.08" y2="1275.30" stroke="#9aa0dc" stroke-width="0.9"/>
<polygon points="1812.1,1275.7 1812.7,1230.8 1813.5,1114.0 1814.2,1120.8 1815.3,1120.8 1816.0,1114.0 1816.8,1230.8 1817.4,1275.7" fill="#5058b4"/>
<line x1="1814.70" y1="1235.36" x2="1814.70" y2="1275.30" stroke="#9aa0dc" stroke-width="0.9"/>
<polygon points="1836.7,1275.7 1837.3,1230.8 1838.1,1112.9 1838.8,1119.7 1839.9,1119.7 1840.6,1112.9 1841.4,1230.8 1842.0,1275.7" fill="#5058b4"/>
<line x1="1839.32" y1="1235.36" x2="1839.32" y2="1275.30" stroke="#9aa0dc" stroke-width="0.9"/>
<polygon points="1861.3,1275.7 1861.9,1230.8 1862.7,1127.6 1863.4,1134.3 1864.5,1134.3 1865.2,1127.6 1866.0,1230.8 1866.6,1275.7" fill="#5058b4"/>
<line x1="1863.94" y1="1235.36" x2="1863.94" y2="1275.30" stroke="#9aa0dc" stroke-width="0.9"/>
<polygon points="1886.0,1275.7 1886.6,1230.8 1887.4,1137.3 1888.1,1144.0 1889.2,1144.0 1889.9,1137.3 1890.7,1230.8 1891.3,1275.7" fill="#5058b4"/>
<line x1="1888.56" y1="1235.36" x2="1888.56" y2="1275.30" stroke="#9aa0dc" stroke-width="0.9"/>
<polygon points="1910.6,1275.7 1911.2,1230.8 1912.0,1129.6 1912.7,1136.4 1913.8,1136.4 1914.5,1129.6 1915.3,1230.8 1915.9,1275.7" fill="#5058b4"/>
<line x1="1913.18" y1="1235.36" x2="1913.18" y2="1275.30" stroke="#9aa0dc" stroke-width="0.9"/>
<rect x="1683.20" y="1073.00" width="246.00" height="203.30" fill="none" stroke="#555" stroke-width="1.6"/>
<line x1="1679.20" y1="1073.00" x2="1683.20" y2="1073.00" stroke="#555" stroke-width="1.4"/>
<line x1="1679.20" y1="1118.10" x2="1683.20" y2="1118.10" stroke="#555" stroke-width="1.4"/>
<line x1="1679.20" y1="1163.20" x2="1683.20" y2="1163.20" stroke="#555" stroke-width="1.4"/>
<line x1="1679.20" y1="1208.30" x2="1683.20" y2="1208.30" stroke="#555" stroke-width="1.4"/>
<line x1="1679.20" y1="1253.40" x2="1683.20" y2="1253.40" stroke="#555" stroke-width="1.4"/>
<line x1="1717.20" y1="1276.30" x2="1717.20" y2="1280.30" stroke="#555" stroke-width="1.4"/>
<line x1="1770.20" y1="1276.30" x2="1770.20" y2="1280.30" stroke="#555" stroke-width="1.4"/>
<line x1="1823.20" y1="1276.30" x2="1823.20" y2="1280.30" stroke="#555" stroke-width="1.4"/>
<line x1="1876.20" y1="1276.30" x2="1876.20" y2="1280.30" stroke="#555" stroke-width="1.4"/>
<line x1="1929.20" y1="1276.30" x2="1929.20" y2="1280.30" stroke="#555" stroke-width="1.4"/>
<text x="1669.50" y="1078.50" font-family='"Liberation Serif", serif' font-size="16.50" font-weight="bold" fill="#222" textLength="9.00" lengthAdjust="spacingAndGlyphs">0</text>
<text x="1652.50" y="1123.60" font-family='"Liberation Serif", serif' font-size="16.50" font-weight="bold" fill="#222" textLength="26.00" lengthAdjust="spacingAndGlyphs">-20</text>
<text x="1652.50" y="1168.70" font-family='"Liberation Serif", serif' font-size="16.50" font-weight="bold" fill="#222" textLength="26.00" lengthAdjust="spacingAndGlyphs">-40</text>
<text x="1652.50" y="1213.80" font-family='"Liberation Serif", serif' font-size="16.50" font-weight="bold" fill="#222" textLength="26.00" lengthAdjust="spacingAndGlyphs">-60</text>
<text x="1652.50" y="1258.90" font-family='"Liberation Serif", serif' font-size="16.50" font-weight="bold" fill="#222" textLength="26.00" lengthAdjust="spacingAndGlyphs">-80</text>
<text x="1702.70" y="1298.60" font-family='"Liberation Serif", serif' font-size="17.00" font-weight="bold" fill="#222" textLength="29.00" lengthAdjust="spacingAndGlyphs">300</text>
<text x="1755.70" y="1298.60" font-family='"Liberation Serif", serif' font-size="17.00" font-weight="bold" fill="#222" textLength="29.00" lengthAdjust="spacingAndGlyphs">600</text>
<text x="1808.70" y="1298.60" font-family='"Liberation Serif", serif' font-size="17.00" font-weight="bold" fill="#222" textLength="29.00" lengthAdjust="spacingAndGlyphs">900</text>
<text x="1856.20" y="1298.60" font-family='"Liberation Serif", serif' font-size="17.00" font-weight="bold" fill="#222" textLength="40.00" lengthAdjust="spacingAndGlyphs">1200</text>
<text x="1909.20" y="1298.60" font-family='"Liberation Serif", serif' font-size="17.00" font-weight="bold" fill="#222" textLength="40.00" lengthAdjust="spacingAndGlyphs">1500</text>
<text x="1733.80" y="1316.00" font-family='"Liberation Serif", serif' font-size="17.00" font-weight="bold" fill="#222" textLength="145.80" lengthAdjust="spacingAndGlyphs">Frequency (MHz)</text>
<text transform="translate(1643.50,1294.80) rotate(-90)" x="0" y="0" font-family='"Liberation Serif", serif' font-size="17.00" font-weight="bold" fill="#222" textLength="233.40" lengthAdjust="spacingAndGlyphs">RF power density (dBm)</text>
<rect x="2.80" y="1542.00" width="647.00" height="527.70" fill="#c3c2c2" stroke="none" stroke-width="1"/>
<rect x="2.80" y="1542.00" width="647.00" height="527.70" fill="#000" stroke="none" stroke-width="1" filter="url(#temBg)" opacity="0.6"/>
<path d="M316.0,1638.3 L329.5,1626.0 L358.6,1611.5 L392.2,1610.3 L396.6,1616.0 L419.0,1622.7 L428.0,1636.0 L425.7,1649.5 L434.7,1647.3 L454.8,1631.6 L472.7,1621.5 L490.6,1623.8 L515.2,1647.3 L530.9,1665.2 L533.1,1685.3 L548.8,1707.7 L575.6,1739.0 L598.0,1761.4 L620.4,1779.3 L624.9,1806.0 L618.2,1822.4 L607.0,1856.0 L609.2,1867.0 L598.0,1885.0 L589.0,1900.7 L575.6,1923.0 L564.5,1929.8 L573.4,1938.7 L577.9,1956.6 L575.6,1979.0 L569.0,1994.7 L580.1,1997.0 L582.4,2012.6 L575.6,2028.2 L560.0,2030.5 L544.3,2021.5 L530.9,2037.2 L508.5,2039.4 L501.8,2059.6 L495.1,2059.6 L483.9,2046.1 L468.2,2035.0 L441.4,2032.7 L423.5,2030.5 L405.6,2012.6 L396.6,2021.5 L365.3,2030.5 L340.7,2023.8 L304.9,2014.8 L293.7,2019.3 L273.6,2012.6 L255.7,2001.4 L253.4,1974.5 L257.9,1934.3 L253.4,1900.7 L255.7,1862.7 L262.4,1844.8 L264.6,1822.4 L269.1,1806.0 L278.0,1795.0 L282.5,1772.6 L284.8,1739.0 L272.4,1716.6 L273.6,1694.3 L291.5,1685.3 L304.9,1667.4 Z" fill="none" stroke="#f4f4f4" stroke-width="9" filter="url(#blur3)"/>
<path d="M316.0,1638.3 L329.5,1626.0 L358.6,1611.5 L392.2,1610.3 L396.6,1616.0 L419.0,1622.7 L428.0,1636.0 L425.7,1649.5 L434.7,1647.3 L454.8,1631.6 L472.7,1621.5 L490.6,1623.8 L515.2,1647.3 L530.9,1665.2 L533.1,1685.3 L548.8,1707.7 L575.6,1739.0 L598.0,1761.4 L620.4,1779.3 L624.9,1806.0 L618.2,1822.4 L607.0,1856.0 L609.2,1867.0 L598.0,1885.0 L589.0,1900.7 L575.6,1923.0 L564.5,1929.8 L573.4,1938.7 L577.9,1956.6 L575.6,1979.0 L569.0,1994.7 L580.1,1997.0 L582.4,2012.6 L575.6,2028.2 L560.0,2030.5 L544.3,2021.5 L530.9,2037.2 L508.5,2039.4 L501.8,2059.6 L495.1,2059.6 L483.9,2046.1 L468.2,2035.0 L441.4,2032.7 L423.5,2030.5 L405.6,2012.6 L396.6,2021.5 L365.3,2030.5 L340.7,2023.8 L304.9,2014.8 L293.7,2019.3 L273.6,2012.6 L255.7,2001.4 L253.4,1974.5 L257.9,1934.3 L253.4,1900.7 L255.7,1862.7 L262.4,1844.8 L264.6,1822.4 L269.1,1806.0 L278.0,1795.0 L282.5,1772.6 L284.8,1739.0 L272.4,1716.6 L273.6,1694.3 L291.5,1685.3 L304.9,1667.4 Z" fill="#7c7b7a"/>
<clipPath id="blobclip"><path d="M316.0,1638.3 L329.5,1626.0 L358.6,1611.5 L392.2,1610.3 L396.6,1616.0 L419.0,1622.7 L428.0,1636.0 L425.7,1649.5 L434.7,1647.3 L454.8,1631.6 L472.7,1621.5 L490.6,1623.8 L515.2,1647.3 L530.9,1665.2 L533.1,1685.3 L548.8,1707.7 L575.6,1739.0 L598.0,1761.4 L620.4,1779.3 L624.9,1806.0 L618.2,1822.4 L607.0,1856.0 L609.2,1867.0 L598.0,1885.0 L589.0,1900.7 L575.6,1923.0 L564.5,1929.8 L573.4,1938.7 L577.9,1956.6 L575.6,1979.0 L569.0,1994.7 L580.1,1997.0 L582.4,2012.6 L575.6,2028.2 L560.0,2030.5 L544.3,2021.5 L530.9,2037.2 L508.5,2039.4 L501.8,2059.6 L495.1,2059.6 L483.9,2046.1 L468.2,2035.0 L441.4,2032.7 L423.5,2030.5 L405.6,2012.6 L396.6,2021.5 L365.3,2030.5 L340.7,2023.8 L304.9,2014.8 L293.7,2019.3 L273.6,2012.6 L255.7,2001.4 L253.4,1974.5 L257.9,1934.3 L253.4,1900.7 L255.7,1862.7 L262.4,1844.8 L264.6,1822.4 L269.1,1806.0 L278.0,1795.0 L282.5,1772.6 L284.8,1739.0 L272.4,1716.6 L273.6,1694.3 L291.5,1685.3 L304.9,1667.4 Z"/></clipPath>
<g clip-path="url(#blobclip)"><g filter="url(#blur8)"><ellipse cx="362" cy="1690" rx="72" ry="78" fill="#979695"/><ellipse cx="300" cy="1760" rx="30" ry="40" fill="#8f8e8d"/><ellipse cx="272" cy="1950" rx="18" ry="62" fill="#a4a3a2"/><ellipse cx="365" cy="1890" rx="100" ry="105" fill="#464443"/><ellipse cx="330" cy="1975" rx="75" ry="40" fill="#595756"/><ellipse cx="395" cy="1815" rx="70" ry="40" fill="#4e4c4b"/><ellipse cx="505" cy="1735" rx="72" ry="34" fill="#1f1d1b" transform="rotate(28 505 1735)"/><ellipse cx="488" cy="1915" rx="74" ry="86" fill="#141210"/><ellipse cx="525" cy="1975" rx="40" ry="42" fill="#221f1d"/><ellipse cx="570" cy="1830" rx="35" ry="65" fill="#6c6a69"/><ellipse cx="478" cy="1658" rx="42" ry="30" fill="#767473"/><ellipse cx="486" cy="1805" rx="22" ry="28" fill="#a9a7a5"/><ellipse cx="415" cy="2012" rx="80" ry="18" fill="#807e7d"/><ellipse cx="575" cy="1995" rx="14" ry="22" fill="#8a8887"/></g>
<rect x="250" y="1605" width="380" height="460" fill="#000" filter="url(#temTex)" opacity="0.35"/></g>
<circle cx="641.00" cy="1575.00" r="9.00" fill="#cfcfcf" stroke="none" stroke-width="1" opacity="0.8"/>
<rect x="3.30" y="1541.80" width="262.40" height="271.70" fill="#464545" stroke="none" stroke-width="1"/>
<rect x="3.30" y="1541.80" width="262.40" height="271.70" fill="url(#lattice)" stroke="none" stroke-width="1" opacity="0.45"/>
<rect x="3.30" y="1541.80" width="262.40" height="271.70" fill="#000" stroke="none" stroke-width="1" filter="url(#temTex2)" opacity="0.6"/>
<rect x="3.30" y="1541.80" width="262.40" height="271.70" fill="#000" stroke="none" stroke-width="1" filter="url(#temTex3)" opacity="0.5"/>
<line x1="84.30" y1="1667.50" x2="158.00" y2="1747.30" stroke="#e0e0e0" stroke-width="1.1"/>
<line x1="92.00" y1="1667.00" x2="165.50" y2="1746.00" stroke="#e0e0e0" stroke-width="1.1"/>
<line x1="88.80" y1="1735.20" x2="152.00" y2="1677.30" stroke="#d8d8d8" stroke-width="1.0"/>
<text x="111.40" y="1673.50" font-family='"Liberation Serif", serif' font-size="10.00" font-weight="bold" fill="#e8e8e8" textLength="33.10" lengthAdjust="spacingAndGlyphs">10 A</text>
<text x="12.80" y="1798.40" font-family='"Liberation Serif", serif' font-size="9.50" font-weight="bold" fill="#dcdcdc" textLength="38.40" lengthAdjust="spacingAndGlyphs">5 nm</text>
<line x1="12.80" y1="1803.70" x2="45.00" y2="1803.70" stroke="#dcdcdc" stroke-width="1.2"/>
<text x="24.60" y="1925.50" font-family='"Liberation Serif", serif' font-size="47.00" fill="#1a1a1a" textLength="43.99" lengthAdjust="spacingAndGlyphs">(j)</text>
<text x="26.40" y="2041.60" font-family='"Liberation Sans", sans-serif' font-size="15.50" fill="#f2f2f2" textLength="66.61" lengthAdjust="spacingAndGlyphs" font-style="italic">100 nm</text>
<line x1="25.00" y1="2047.20" x2="80.00" y2="2047.20" stroke="#f2f2f2" stroke-width="2.0"/>
<text x="19.00" y="2060.50" font-family='"Liberation Sans", sans-serif' font-size="11.50" fill="#f0f0f0" textLength="202.99" lengthAdjust="spacingAndGlyphs">Indicated magnification: 20kx</text>
<polyline points="736.8,1973.3 737.5,1973.3 738.2,1973.3 738.9,1973.3 739.6,1973.3 740.3,1973.3 741.0,1973.3 741.7,1973.3 742.4,1973.3 743.1,1973.3 743.8,1973.3 744.5,1973.3 745.2,1973.3 745.9,1973.3 746.6,1973.3 747.3,1973.3 748.0,1973.3 748.7,1973.3 749.4,1973.3 750.1,1973.3 750.8,1973.3 751.5,1973.3 752.2,1973.3 752.9,1973.3 753.6,1973.3 754.3,1973.3 755.0,1973.3 755.7,1973.3 756.4,1973.3 757.1,1973.3 757.8,1973.3 758.5,1973.3 759.2,1973.3 759.9,1973.3 760.6,1973.3 761.3,1973.3 762.0,1973.3 762.7,1973.3 763.4,1973.3 764.1,1973.3 764.8,1973.3 765.5,1973.3 766.2,1973.3 766.9,1973.3 767.6,1973.3 768.3,1973.3 769.0,1973.3 769.7,1973.3 770.4,1973.3 771.1,1973.3 771.8,1973.3 772.4,1973.3 773.1,1973.3 773.8,1973.3 774.5,1973.3 775.2,1973.3 775.9,1973.3 776.6,1973.3 777.3,1973.3 778.0,1973.3 778.7,1973.3 779.4,1973.3 780.1,1973.3 780.8,1973.3 781.5,1973.3 782.2,1973.3 782.9,1973.3 783.6,1973.3 784.3,1973.3 785.0,1973.3 785.7,1973.3 786.4,1973.3 787.1,1973.3 787.8,1973.3 788.5,1973.3 789.2,1973.3 789.9,1973.3 790.6,1973.3 791.3,1973.3 792.0,1973.3 792.7,1973.3 793.4,1973.3 794.1,1973.3 794.8,1973.3 795.5,1973.3 796.2,1973.3 796.9,1973.3 797.6,1973.3 798.3,1973.3 799.0,1973.3 799.7,1973.3 800.4,1973.3 801.1,1973.3 801.8,1973.3 802.5,1973.3 803.2,1973.3 803.9,1973.3 804.6,1973.3 805.3,1973.3 806.0,1973.3 806.7,1973.3 807.4,1973.3 808.1,1973.3 808.8,1973.3 809.5,1973.3 810.2,1973.3 810.9,1973.3 811.6,1973.3 812.3,1973.3 813.0,1973.3 813.7,1973.3 814.4,1973.3 815.1,1973.3 815.8,1973.3 816.5,1973.3 817.2,1973.3 817.9,1973.3 818.6,1973.3 819.3,1973.3 820.0,1973.3 820.7,1973.3 821.4,1973.3 822.1,1973.3 822.8,1973.3 823.5,1973.3 824.2,1973.3 824.9,1973.3 825.6,1973.3 826.3,1973.3 827.0,1973.3 827.7,1973.3 828.4,1973.3 829.1,1973.3 829.8,1973.3 830.5,1973.3 831.2,1973.3 831.9,1973.3 832.6,1973.3 833.3,1973.3 834.0,1973.3 834.7,1973.3 835.4,1973.3 836.1,1973.3 836.8,1973.3 837.5,1973.3 838.2,1973.3 838.9,1973.3 839.6,1973.3 840.3,1973.3 841.0,1973.3 841.6,1973.3 842.3,1973.3 843.0,1973.3 843.7,1973.3 844.4,1973.3 845.1,1973.3 845.8,1973.3 846.5,1973.3 847.2,1973.3 847.9,1973.3 848.6,1973.3 849.3,1973.3 850.0,1973.3 850.7,1973.3 851.4,1973.3 852.1,1973.3 852.8,1973.3 853.5,1973.3 854.2,1973.3 854.9,1973.3 855.6,1973.3 856.3,1973.3 857.0,1973.3 857.7,1973.3 858.4,1973.3 859.1,1973.3 859.8,1973.3 860.5,1973.3 861.2,1973.3 861.9,1973.3 862.6,1973.3 863.3,1973.3 864.0,1973.3 864.7,1973.3 865.4,1973.3 866.1,1973.3 866.8,1973.3 867.5,1973.3 868.2,1973.3 868.9,1973.3 869.6,1973.3 870.3,1973.3 871.0,1973.3 871.7,1973.3 872.4,1973.3 873.1,1973.3 873.8,1973.3 874.5,1973.3 875.2,1973.3 875.9,1973.3 876.6,1973.3 877.3,1973.3 878.0,1973.3 878.7,1973.3 879.4,1973.3 880.1,1973.3 880.8,1973.3 881.5,1973.3 882.2,1973.3 882.9,1973.3 883.6,1973.3 884.3,1973.3 885.0,1973.3 885.7,1973.3 886.4,1973.3 887.1,1973.3 887.8,1973.3 888.5,1973.3 889.2,1973.3 889.9,1973.3 890.6,1973.3 891.3,1973.3 892.0,1973.3 892.7,1973.3 893.4,1973.3 894.1,1973.3 894.8,1973.3 895.5,1973.3 896.2,1973.3 896.9,1973.3 897.6,1973.3 898.3,1973.3 899.0,1973.3 899.7,1973.3 900.4,1973.3 901.1,1973.3 901.8,1973.3 902.5,1973.3 903.2,1973.3 903.9,1973.3 904.6,1973.3 905.3,1973.3 906.0,1973.3 906.7,1973.3 907.4,1973.3 908.1,1973.3 908.8,1973.3 909.5,1973.3 910.2,1973.3 910.9,1973.3 911.5,1973.3 912.2,1973.3 912.9,1973.3 913.6,1973.3 914.3,1973.3 915.0,1973.3 915.7,1973.3 916.4,1973.3 917.1,1973.3 917.8,1973.3 918.5,1973.3 919.2,1973.3 919.9,1973.3 920.6,1973.3 921.3,1973.2 922.0,1973.2 922.7,1973.2 923.4,1973.2 924.1,1973.2 924.8,1973.2 925.5,1973.2 926.2,1973.1 926.9,1973.1 927.6,1973.1 928.3,1973.0 929.0,1973.0 929.7,1973.0 930.4,1972.9 931.1,1972.9 931.8,1972.8 932.5,1972.8 933.2,1972.7 933.9,1972.7 934.6,1972.6 935.3,1972.5 936.0,1972.4 936.7,1972.3 937.4,1972.2 938.1,1972.1 938.8,1972.0 939.5,1971.8 940.2,1971.7 940.9,1971.5 941.6,1971.3 942.3,1971.1 943.0,1970.9 943.7,1970.7 944.4,1970.4 945.1,1970.2 945.8,1969.9 946.5,1969.5 947.2,1969.2 947.9,1968.8 948.6,1968.4 949.3,1968.0 950.0,1967.5 950.7,1967.0 951.4,1966.5 952.1,1965.9 952.8,1965.3 953.5,1964.6 954.2,1963.9 954.9,1963.1 955.6,1962.3 956.3,1961.4 957.0,1960.5 957.7,1959.5 958.4,1958.4 959.1,1957.3 959.8,1956.1 960.5,1954.8 961.2,1953.5 961.9,1952.0 962.6,1950.5 963.3,1948.9 964.0,1947.2 964.7,1945.4 965.4,1943.5 966.1,1941.5 966.8,1939.4 967.5,1937.2 968.2,1934.9 968.9,1932.5 969.6,1929.9 970.3,1927.2 971.0,1924.4 971.7,1921.5 972.4,1918.5 973.1,1915.3 973.8,1911.9 974.5,1908.5 975.2,1904.9 975.9,1901.1 976.6,1897.3 977.3,1893.2 978.0,1889.1 978.7,1884.7 979.4,1880.3 980.1,1875.7 980.8,1871.0 981.4,1866.1 982.1,1861.0 982.8,1855.9 983.5,1850.6 984.2,1845.2 984.9,1839.6 985.6,1833.9 986.3,1828.1 987.0,1822.2 987.7,1816.1 988.4,1810.0 989.1,1803.7 989.8,1797.4 990.5,1791.0 991.2,1784.5 991.9,1777.9 992.6,1771.2 993.3,1764.6 994.0,1757.8 994.7,1751.0 995.4,1744.3 996.1,1737.4 996.8,1730.6 997.5,1723.8 998.2,1717.1 998.9,1710.3 999.6,1703.6 1000.3,1697.0 1001.0,1690.4 1001.7,1683.9 1002.4,1677.5 1003.1,1671.2 1003.8,1665.1 1004.5,1659.0 1005.2,1653.1 1005.9,1647.4 1006.6,1641.9 1007.3,1636.5 1008.0,1631.3 1008.7,1626.3 1009.4,1621.6 1010.1,1617.1 1010.8,1612.8 1011.5,1608.7 1012.2,1605.0 1012.9,1601.4 1013.6,1598.2 1014.3,1595.3 1015.0,1592.6 1015.7,1590.2 1016.4,1588.2 1017.1,1586.4 1017.8,1585.0 1018.5,1583.9 1019.2,1583.1 1019.9,1582.6 1020.6,1582.4 1021.3,1582.6 1022.0,1583.1 1022.7,1583.9 1023.4,1585.0 1024.1,1586.4 1024.8,1588.2 1025.5,1590.2 1026.2,1592.6 1026.9,1595.3 1027.6,1598.2 1028.3,1601.4 1029.0,1605.0 1029.7,1608.7 1030.4,1612.8 1031.1,1617.1 1031.8,1621.6 1032.5,1626.3 1033.2,1631.3 1033.9,1636.5 1034.6,1641.9 1035.3,1647.4 1036.0,1653.1 1036.7,1659.0 1037.4,1665.1 1038.1,1671.2 1038.8,1677.5 1039.5,1683.9 1040.2,1690.4 1040.9,1697.0 1041.6,1703.6 1042.3,1710.3 1043.0,1717.1 1043.7,1723.8 1044.4,1730.6 1045.1,1737.4 1045.8,1744.3 1046.5,1751.0 1047.2,1757.8 1047.9,1764.6 1048.6,1771.2 1049.3,1777.9 1050.0,1784.5 1050.7,1791.0 1051.3,1797.4 1052.0,1803.7 1052.7,1810.0 1053.4,1816.1 1054.1,1822.2 1054.8,1828.1 1055.5,1833.9 1056.2,1839.6 1056.9,1845.2 1057.6,1850.6 1058.3,1855.9 1059.0,1861.0 1059.7,1866.1 1060.4,1871.0 1061.1,1875.7 1061.8,1880.3 1062.5,1884.7 1063.2,1889.1 1063.9,1893.2 1064.6,1897.3 1065.3,1901.1 1066.0,1904.9 1066.7,1908.5 1067.4,1911.9 1068.1,1915.3 1068.8,1918.5 1069.5,1921.5 1070.2,1924.4 1070.9,1927.2 1071.6,1929.9 1072.3,1932.5 1073.0,1934.9 1073.7,1937.2 1074.4,1939.4 1075.1,1941.5 1075.8,1943.5 1076.5,1945.4 1077.2,1947.2 1077.9,1948.9 1078.6,1950.5 1079.3,1952.0 1080.0,1953.5 1080.7,1954.8 1081.4,1956.1 1082.1,1957.3 1082.8,1958.4 1083.5,1959.5 1084.2,1960.5 1084.9,1961.4 1085.6,1962.3 1086.3,1963.1 1087.0,1963.9 1087.7,1964.6 1088.4,1965.3 1089.1,1965.9 1089.8,1966.5 1090.5,1967.0 1091.2,1967.5 1091.9,1968.0 1092.6,1968.4 1093.3,1968.8 1094.0,1969.2 1094.7,1969.5 1095.4,1969.9 1096.1,1970.2 1096.8,1970.4 1097.5,1970.7 1098.2,1970.9 1098.9,1971.1 1099.6,1971.3 1100.3,1971.5 1101.0,1971.7 1101.7,1971.8 1102.4,1972.0 1103.1,1972.1 1103.8,1972.2 1104.5,1972.3 1105.2,1972.4 1105.9,1972.5 1106.6,1972.6 1107.3,1972.7 1108.0,1972.7 1108.7,1972.8 1109.4,1972.8 1110.1,1972.9 1110.8,1972.9 1111.5,1973.0 1112.2,1973.0 1112.9,1973.0 1113.6,1973.1 1114.3,1973.1 1115.0,1973.1 1115.7,1973.2 1116.4,1973.2 1117.1,1973.2 1117.8,1973.2 1118.5,1973.2 1119.2,1973.2 1119.9,1973.2 1120.6,1973.3 1121.2,1973.3 1121.9,1973.3 1122.6,1973.3 1123.3,1973.3 1124.0,1973.3 1124.7,1973.3 1125.4,1973.3 1126.1,1973.3 1126.8,1973.3 1127.5,1973.3 1128.2,1973.3 1128.9,1973.3 1129.6,1973.3 1130.3,1973.3 1131.0,1973.3 1131.7,1973.3 1132.4,1973.3 1133.1,1973.3 1133.8,1973.3 1134.5,1973.3 1135.2,1973.3 1135.9,1973.3 1136.6,1973.3 1137.3,1973.3 1138.0,1973.3 1138.7,1973.3 1139.4,1973.3 1140.1,1973.3 1140.8,1973.3 1141.5,1973.3 1142.2,1973.3 1142.9,1973.3 1143.6,1973.3 1144.3,1973.3 1145.0,1973.3 1145.7,1973.3 1146.4,1973.3 1147.1,1973.3 1147.8,1973.3 1148.5,1973.3 1149.2,1973.3 1149.9,1973.3 1150.6,1973.3 1151.3,1973.3 1152.0,1973.3 1152.7,1973.3 1153.4,1973.3 1154.1,1973.3 1154.8,1973.3 1155.5,1973.3 1156.2,1973.3 1156.9,1973.3 1157.6,1973.3 1158.3,1973.3 1159.0,1973.3 1159.7,1973.3 1160.4,1973.3 1161.1,1973.3 1161.8,1973.3 1162.5,1973.3 1163.2,1973.3 1163.9,1973.3 1164.6,1973.3 1165.3,1973.3 1166.0,1973.3 1166.7,1973.3 1167.4,1973.3 1168.1,1973.3 1168.8,1973.3 1169.5,1973.3 1170.2,1973.3 1170.9,1973.3 1171.6,1973.3 1172.3,1973.3 1173.0,1973.3 1173.7,1973.3 1174.4,1973.3 1175.1,1973.3 1175.8,1973.3 1176.5,1973.3 1177.2,1973.3 1177.9,1973.3 1178.6,1973.3 1179.3,1973.3 1180.0,1973.3 1180.7,1973.3 1181.4,1973.3 1182.1,1973.3 1182.8,1973.3 1183.5,1973.3 1184.2,1973.3 1184.9,1973.3 1185.6,1973.3 1186.3,1973.3 1187.0,1973.3 1187.7,1973.3 1188.4,1973.3 1189.1,1973.3 1189.8,1973.3 1190.5,1973.3 1191.2,1973.3 1191.8,1973.3 1192.5,1973.3 1193.2,1973.3 1193.9,1973.3 1194.6,1973.3 1195.3,1973.3 1196.0,1973.3 1196.7,1973.3 1197.4,1973.3 1198.1,1973.3 1198.8,1973.3 1199.5,1973.3 1200.2,1973.3 1200.9,1973.3 1201.6,1973.3 1202.3,1973.3 1203.0,1973.3 1203.7,1973.3 1204.4,1973.3 1205.1,1973.3 1205.8,1973.3 1206.5,1973.3 1207.2,1973.3 1207.9,1973.3 1208.6,1973.3 1209.3,1973.3 1210.0,1973.3 1210.7,1973.3 1211.4,1973.3 1212.1,1973.3 1212.8,1973.3 1213.5,1973.3 1214.2,1973.3 1214.9,1973.3 1215.6,1973.3 1216.3,1973.3 1217.0,1973.3 1217.7,1973.3 1218.4,1973.3 1219.1,1973.3 1219.8,1973.3 1220.5,1973.3 1221.2,1973.3 1221.9,1973.3 1222.6,1973.3 1223.3,1973.3 1224.0,1973.3 1224.7,1973.3 1225.4,1973.3 1226.1,1973.3 1226.8,1973.3 1227.5,1973.3 1228.2,1973.3 1228.9,1973.3 1229.6,1973.3 1230.3,1973.3 1231.0,1973.3 1231.7,1973.3 1232.4,1973.3 1233.1,1973.3 1233.8,1973.3 1234.5,1973.3 1235.2,1973.3 1235.9,1973.3 1236.6,1973.3 1237.3,1973.3 1238.0,1973.3 1238.7,1973.3 1239.4,1973.3 1240.1,1973.3 1240.8,1973.3 1241.5,1973.3 1242.2,1973.3 1242.9,1973.3 1243.6,1973.3 1244.3,1973.3 1245.0,1973.3 1245.7,1973.3 1246.4,1973.3 1247.1,1973.3 1247.8,1973.3 1248.5,1973.3 1249.2,1973.3 1249.9,1973.3 1250.6,1973.3 1251.3,1973.3 1252.0,1973.3 1252.7,1973.3 1253.4,1973.3 1254.1,1973.3 1254.8,1973.3 1255.5,1973.3 1256.2,1973.3 1256.9,1973.3 1257.6,1973.3 1258.3,1973.3 1259.0,1973.3 1259.7,1973.3 1260.4,1973.3 1261.0,1973.3 1261.7,1973.3 1262.4,1973.3 1263.1,1973.3 1263.8,1973.3 1264.5,1973.3 1265.2,1973.3 1265.9,1973.3 1266.6,1973.3 1267.3,1973.3 1268.0,1973.3 1268.7,1973.3 1269.4,1973.3 1270.1,1973.3 1270.8,1973.3 1271.5,1973.3 1272.2,1973.3 1272.9,1973.3 1273.6,1973.3 1274.3,1973.3 1275.0,1973.3 1275.7,1973.3 1276.4,1973.3 1277.1,1973.3 1277.8,1973.3 1278.5,1973.3 1279.2,1973.3 1279.9,1973.3 1280.6,1973.3 1281.3,1973.3 1282.0,1973.3 1282.7,1973.3 1283.4,1973.3 1284.1,1973.3 1284.8,1973.3 1285.5,1973.3 1286.2,1973.3 1286.9,1973.3 1287.6,1973.3 1288.3,1973.3 1289.0,1973.3 1289.7,1973.3 1290.4,1973.3 1291.1,1973.3 1291.8,1973.3 1292.5,1973.3 1293.2,1973.3 1293.9,1973.3 1294.6,1973.3 1295.3,1973.3 1296.0,1973.3" fill="none" stroke="#f04646" stroke-width="3.0" stroke-linejoin="round"/>
<g><circle cx="741.49" cy="1982.97" r="4.80" fill="#33339a" stroke="none" stroke-width="1"/><circle cx="752.36" cy="1978.44" r="4.80" fill="#33339a" stroke="none" stroke-width="1"/><circle cx="763.22" cy="1962.68" r="4.80" fill="#33339a" stroke="none" stroke-width="1"/><circle cx="774.09" cy="1979.35" r="4.80" fill="#33339a" stroke="none" stroke-width="1"/><circle cx="784.06" cy="1980.25" r="4.80" fill="#33339a" stroke="none" stroke-width="1"/><circle cx="794.93" cy="1976.09" r="4.80" fill="#33339a" stroke="none" stroke-width="1"/><circle cx="805.80" cy="1964.49" r="4.80" fill="#33339a" stroke="none" stroke-width="1"/><circle cx="816.30" cy="1977.17" r="4.80" fill="#33339a" stroke="none" stroke-width="1"/><circle cx="826.63" cy="1973.91" r="4.80" fill="#33339a" stroke="none" stroke-width="1"/><circle cx="837.50" cy="1982.97" r="4.80" fill="#33339a" stroke="none" stroke-width="1"/><circle cx="848.37" cy="1967.57" r="4.80" fill="#33339a" stroke="none" stroke-width="1"/><circle cx="858.33" cy="1989.31" r="4.80" fill="#33339a" stroke="none" stroke-width="1"/><circle cx="869.20" cy="1968.12" r="4.80" fill="#33339a" stroke="none" stroke-width="1"/><circle cx="879.17" cy="1976.63" r="4.80" fill="#33339a" stroke="none" stroke-width="1"/><circle cx="890.04" cy="1964.86" r="4.80" fill="#33339a" stroke="none" stroke-width="1"/><circle cx="900.91" cy="1979.35" r="4.80" fill="#33339a" stroke="none" stroke-width="1"/><circle cx="910.87" cy="1970.29" r="4.80" fill="#33339a" stroke="none" stroke-width="1"/><circle cx="921.74" cy="1971.20" r="4.80" fill="#33339a" stroke="none" stroke-width="1"/><circle cx="931.70" cy="1966.67" r="4.80" fill="#33339a" stroke="none" stroke-width="1"/><circle cx="942.57" cy="1954.35" r="4.80" fill="#33339a" stroke="none" stroke-width="1"/><circle cx="953.44" cy="1944.93" r="4.80" fill="#33339a" stroke="none" stroke-width="1"/><circle cx="964.31" cy="1942.21" r="4.80" fill="#33339a" stroke="none" stroke-width="1"/><circle cx="975.18" cy="1918.12" r="4.80" fill="#33339a" stroke="none" stroke-width="1"/><circle cx="985.51" cy="1849.28" r="4.80" fill="#33339a" stroke="none" stroke-width="1"/><circle cx="964.53" cy="1942.21" r="4.80" fill="#33339a" stroke="none" stroke-width="1"/><circle cx="975.40" cy="1918.12" r="4.80" fill="#33339a" stroke="none" stroke-width="1"/><circle cx="985.36" cy="1848.91" r="4.80" fill="#33339a" stroke="none" stroke-width="1"/><circle cx="1058.73" cy="1833.51" r="4.80" fill="#33339a" stroke="none" stroke-width="1"/><circle cx="1069.60" cy="1898.73" r="4.80" fill="#33339a" stroke="none" stroke-width="1"/><circle cx="1079.57" cy="1938.59" r="4.80" fill="#33339a" stroke="none" stroke-width="1"/><circle cx="1090.43" cy="1963.95" r="4.80" fill="#33339a" stroke="none" stroke-width="1"/><circle cx="1100.94" cy="1972.10" r="4.80" fill="#33339a" stroke="none" stroke-width="1"/><circle cx="1111.81" cy="1971.20" r="4.80" fill="#33339a" stroke="none" stroke-width="1"/><circle cx="1122.14" cy="1978.44" r="4.80" fill="#33339a" stroke="none" stroke-width="1"/><circle cx="1133.01" cy="1982.97" r="4.80" fill="#33339a" stroke="none" stroke-width="1"/><circle cx="1143.88" cy="1970.29" r="4.80" fill="#33339a" stroke="none" stroke-width="1"/><circle cx="1153.84" cy="1975.72" r="4.80" fill="#33339a" stroke="none" stroke-width="1"/><circle cx="1164.35" cy="1954.35" r="4.80" fill="#33339a" stroke="none" stroke-width="1"/><circle cx="1175.22" cy="1982.61" r="4.80" fill="#33339a" stroke="none" stroke-width="1"/><circle cx="1185.54" cy="1962.14" r="4.80" fill="#33339a" stroke="none" stroke-width="1"/><circle cx="1195.87" cy="1978.44" r="4.80" fill="#33339a" stroke="none" stroke-width="1"/><circle cx="1206.74" cy="1956.16" r="4.80" fill="#33339a" stroke="none" stroke-width="1"/><circle cx="1217.25" cy="1965.76" r="4.80" fill="#33339a" stroke="none" stroke-width="1"/><circle cx="1227.75" cy="1980.25" r="4.80" fill="#33339a" stroke="none" stroke-width="1"/><circle cx="1238.62" cy="1973.01" r="4.80" fill="#33339a" stroke="none" stroke-width="1"/><circle cx="1248.95" cy="1977.54" r="4.80" fill="#33339a" stroke="none" stroke-width="1"/><circle cx="1259.82" cy="1960.87" r="4.80" fill="#33339a" stroke="none" stroke-width="1"/><circle cx="1270.14" cy="1979.35" r="4.80" fill="#33339a" stroke="none" stroke-width="1"/><circle cx="1280.65" cy="1983.88" r="4.80" fill="#33339a" stroke="none" stroke-width="1"/><circle cx="1292.43" cy="1966.67" r="4.80" fill="#33339a" stroke="none" stroke-width="1"/><circle cx="1017.00" cy="1590.70" r="4.80" fill="#33339a" stroke="none" stroke-width="1"/><circle cx="1006.40" cy="1630.40" r="4.80" fill="#33339a" stroke="none" stroke-width="1"/><circle cx="1027.20" cy="1625.40" r="4.80" fill="#33339a" stroke="none" stroke-width="1"/><circle cx="1037.70" cy="1705.80" r="4.80" fill="#33339a" stroke="none" stroke-width="1"/><circle cx="996.20" cy="1731.30" r="4.80" fill="#33339a" stroke="none" stroke-width="1"/><circle cx="1048.50" cy="1779.90" r="4.80" fill="#33339a" stroke="none" stroke-width="1"/><circle cx="992.40" cy="1796.70" r="4.80" fill="#33339a" stroke="none" stroke-width="1"/></g>
<line x1="1130.00" y1="1706.50" x2="1212.00" y2="1706.50" stroke="#c8c8c8" stroke-width="1.2"/>
<polyline points="1047.0,1705.8 1047.6,1705.8 1048.2,1705.8 1048.8,1705.8 1049.4,1705.8 1050.0,1705.8 1050.6,1705.8 1051.2,1705.8 1051.8,1705.8 1052.4,1705.8 1053.0,1705.8 1053.6,1705.8 1054.2,1705.8 1054.8,1705.8 1055.4,1705.8 1056.0,1705.8 1056.6,1705.8 1057.2,1705.8 1057.8,1705.8 1058.4,1705.8 1059.0,1705.8 1059.6,1705.8 1060.2,1705.8 1060.8,1705.8 1061.4,1705.8 1062.0,1705.8 1062.6,1705.8 1063.2,1705.8 1063.8,1705.8 1064.4,1705.8 1065.0,1705.8 1065.6,1705.8 1066.2,1705.8 1066.8,1705.8 1067.4,1705.8 1068.0,1705.8 1068.6,1705.8 1069.2,1705.8 1069.8,1705.8 1070.4,1705.8 1071.0,1705.8 1071.6,1705.8 1072.2,1705.8 1072.8,1705.8 1073.4,1705.8 1074.0,1705.8 1074.6,1705.8 1075.2,1705.8 1075.8,1705.8 1076.4,1705.8 1077.0,1705.8 1077.6,1705.8 1078.2,1705.8 1078.8,1705.8 1079.4,1705.8 1080.0,1705.8 1080.6,1705.8 1081.2,1705.8 1081.8,1705.8 1082.4,1705.8 1083.0,1705.8 1083.6,1705.8 1084.2,1705.8 1084.8,1705.8 1085.4,1705.8 1086.0,1705.8 1086.6,1705.8 1087.2,1705.8 1087.8,1705.8 1088.4,1705.8 1089.0,1705.8 1089.6,1705.8 1090.2,1705.8 1090.8,1705.8 1091.4,1705.8 1092.0,1705.8 1092.6,1705.8 1093.2,1705.8 1093.8,1705.8 1094.4,1705.8 1095.0,1705.8 1095.6,1705.8 1096.2,1705.8 1096.8,1705.8 1097.4,1705.8 1098.0,1705.8 1098.6,1705.8 1099.2,1705.8 1099.8,1705.8 1100.4,1705.8 1101.0,1705.8 1101.6,1705.8 1102.2,1705.8 1102.8,1705.8 1103.4,1705.8 1104.0,1705.8 1104.6,1705.8 1105.2,1705.8 1105.8,1705.8 1106.4,1705.8 1107.0,1705.8 1107.6,1705.8 1108.2,1705.8 1108.8,1705.8 1109.4,1705.8 1110.0,1705.8 1110.6,1705.8 1111.2,1705.8 1111.8,1705.8 1112.4,1705.8 1113.0,1705.8 1113.6,1705.8 1114.2,1705.8 1114.8,1705.8 1115.4,1705.8 1116.0,1705.8 1116.6,1705.7 1117.2,1705.7 1117.8,1705.7 1118.4,1705.7 1119.0,1705.7 1119.6,1705.7 1120.2,1705.6 1120.8,1705.6 1121.4,1705.6 1122.0,1705.6 1122.6,1705.5 1123.2,1705.5 1123.8,1705.4 1124.4,1705.3 1125.0,1705.3 1125.6,1705.2 1126.2,1705.1 1126.8,1704.9 1127.4,1704.8 1128.0,1704.7 1128.6,1704.5 1129.2,1704.3 1129.8,1704.1 1130.4,1703.8 1131.0,1703.5 1131.6,1703.2 1132.2,1702.8 1132.8,1702.4 1133.4,1702.0 1134.0,1701.5 1134.6,1700.9 1135.2,1700.3 1135.8,1699.6 1136.4,1698.9 1137.0,1698.1 1137.6,1697.2 1138.2,1696.2 1138.8,1695.1 1139.4,1693.9 1140.0,1692.6 1140.6,1691.3 1141.2,1689.8 1141.8,1688.1 1142.4,1686.4 1143.0,1684.5 1143.6,1682.6 1144.2,1680.4 1144.8,1678.2 1145.4,1675.8 1146.0,1673.2 1146.6,1670.5 1147.2,1667.7 1147.8,1664.7 1148.4,1661.6 1149.0,1658.3 1149.6,1655.0 1150.2,1651.5 1150.8,1647.8 1151.4,1644.1 1152.0,1640.2 1152.6,1636.3 1153.2,1632.2 1153.8,1628.1 1154.4,1623.9 1155.0,1619.7 1155.6,1615.5 1156.2,1611.2 1156.8,1607.0 1157.4,1602.7 1158.0,1598.6 1158.6,1594.4 1159.2,1590.4 1159.8,1586.5 1160.4,1582.6 1161.0,1579.0 1161.6,1575.4 1162.2,1572.1 1162.8,1569.0 1163.4,1566.0 1164.0,1563.4 1164.6,1560.9 1165.2,1558.7 1165.8,1556.9 1166.4,1555.2 1167.0,1553.9 1167.6,1552.9 1168.2,1552.2 1168.8,1551.9 1169.4,1551.8 1170.0,1552.1 1170.6,1552.7 1171.2,1553.6 1171.8,1554.8 1172.4,1556.3 1173.0,1558.1 1173.6,1560.2 1174.2,1562.5 1174.8,1565.1 1175.4,1568.0 1176.0,1571.0 1176.6,1574.3 1177.2,1577.8 1177.8,1581.4 1178.4,1585.2 1179.0,1589.1 1179.6,1593.1 1180.2,1597.2 1180.8,1601.3 1181.4,1605.6 1182.0,1609.8 1182.6,1614.1 1183.2,1618.3 1183.8,1622.5 1184.4,1626.7 1185.0,1630.9 1185.6,1634.9 1186.2,1638.9 1186.8,1642.8 1187.4,1646.6 1188.0,1650.3 1188.6,1653.8 1189.2,1657.2 1189.8,1660.5 1190.4,1663.7 1191.0,1666.7 1191.6,1669.6 1192.2,1672.3 1192.8,1674.9 1193.4,1677.4 1194.0,1679.7 1194.6,1681.9 1195.2,1683.9 1195.8,1685.8 1196.4,1687.6 1197.0,1689.2 1197.6,1690.8 1198.2,1692.2 1198.8,1693.5 1199.4,1694.7 1200.0,1695.8 1200.6,1696.8 1201.2,1697.8 1201.8,1698.6 1202.4,1699.4 1203.0,1700.1 1203.6,1700.7 1204.2,1701.3 1204.8,1701.8 1205.4,1702.3 1206.0,1702.7 1206.6,1703.1 1207.2,1703.4 1207.8,1703.7 1208.4,1704.0 1209.0,1704.2 1209.6,1704.4 1210.2,1704.6 1210.8,1704.8 1211.4,1704.9 1212.0,1705.0 1212.6,1705.1 1213.2,1705.2 1213.8,1705.3 1214.4,1705.4 1215.0,1705.4 1215.6,1705.5 1216.2,1705.5 1216.8,1705.6 1217.4,1705.6 1218.0,1705.6 1218.6,1705.7 1219.2,1705.7 1219.8,1705.7 1220.4,1705.7 1221.0,1705.7 1221.6,1705.7 1222.2,1705.8 1222.8,1705.8 1223.4,1705.8 1224.0,1705.8 1224.6,1705.8 1225.2,1705.8 1225.8,1705.8 1226.4,1705.8 1227.0,1705.8 1227.6,1705.8 1228.2,1705.8 1228.8,1705.8 1229.4,1705.8 1230.0,1705.8 1230.6,1705.8 1231.2,1705.8 1231.8,1705.8 1232.4,1705.8 1233.0,1705.8 1233.6,1705.8 1234.2,1705.8 1234.8,1705.8 1235.4,1705.8 1236.0,1705.8 1236.6,1705.8 1237.2,1705.8 1237.8,1705.8 1238.4,1705.8 1239.0,1705.8 1239.6,1705.8 1240.2,1705.8 1240.8,1705.8 1241.4,1705.8 1242.0,1705.8 1242.6,1705.8 1243.2,1705.8 1243.8,1705.8 1244.4,1705.8 1245.0,1705.8 1245.6,1705.8 1246.2,1705.8 1246.8,1705.8 1247.4,1705.8 1248.0,1705.8 1248.6,1705.8 1249.2,1705.8 1249.8,1705.8 1250.4,1705.8 1251.0,1705.8 1251.6,1705.8 1252.2,1705.8 1252.8,1705.8 1253.4,1705.8 1254.0,1705.8 1254.6,1705.8 1255.2,1705.8 1255.8,1705.8 1256.4,1705.8 1257.0,1705.8 1257.6,1705.8 1258.2,1705.8 1258.8,1705.8 1259.4,1705.8 1260.0,1705.8 1260.6,1705.8 1261.2,1705.8 1261.8,1705.8 1262.4,1705.8 1263.0,1705.8 1263.6,1705.8 1264.2,1705.8 1264.8,1705.8 1265.4,1705.8 1266.0,1705.8 1266.6,1705.8 1267.2,1705.8 1267.8,1705.8 1268.4,1705.8 1269.0,1705.8 1269.6,1705.8 1270.2,1705.8 1270.8,1705.8 1271.4,1705.8 1272.0,1705.8 1272.6,1705.8 1273.2,1705.8 1273.8,1705.8 1274.4,1705.8 1275.0,1705.8 1275.6,1705.8 1276.2,1705.8 1276.8,1705.8 1277.4,1705.8 1278.0,1705.8 1278.6,1705.8 1279.2,1705.8 1279.8,1705.8 1280.4,1705.8 1281.0,1705.8 1281.6,1705.8" fill="none" stroke="#8c8ce0" stroke-width="2.0" stroke-linejoin="round"/>
<rect x="736.60" y="1551.00" width="560.40" height="438.30" fill="none" stroke="#555" stroke-width="2.2"/>
<line x1="729.60" y1="1989.30" x2="736.60" y2="1989.30" stroke="#555" stroke-width="2.2"/>
<line x1="729.60" y1="1909.52" x2="736.60" y2="1909.52" stroke="#555" stroke-width="2.2"/>
<line x1="729.60" y1="1829.74" x2="736.60" y2="1829.74" stroke="#555" stroke-width="2.2"/>
<line x1="729.60" y1="1749.96" x2="736.60" y2="1749.96" stroke="#555" stroke-width="2.2"/>
<line x1="729.60" y1="1670.18" x2="736.60" y2="1670.18" stroke="#555" stroke-width="2.2"/>
<line x1="729.60" y1="1590.40" x2="736.60" y2="1590.40" stroke="#555" stroke-width="2.2"/>
<line x1="732.60" y1="1949.41" x2="736.60" y2="1949.41" stroke="#555" stroke-width="2.2"/>
<line x1="732.60" y1="1869.63" x2="736.60" y2="1869.63" stroke="#555" stroke-width="2.2"/>
<line x1="732.60" y1="1789.85" x2="736.60" y2="1789.85" stroke="#555" stroke-width="2.2"/>
<line x1="732.60" y1="1710.07" x2="736.60" y2="1710.07" stroke="#555" stroke-width="2.2"/>
<line x1="732.60" y1="1630.29" x2="736.60" y2="1630.29" stroke="#555" stroke-width="2.2"/>
<line x1="736.80" y1="1989.30" x2="736.80" y2="1996.30" stroke="#555" stroke-width="2.2"/>
<line x1="876.60" y1="1989.30" x2="876.60" y2="1996.30" stroke="#555" stroke-width="2.2"/>
<line x1="1016.40" y1="1989.30" x2="1016.40" y2="1996.30" stroke="#555" stroke-width="2.2"/>
<line x1="1156.20" y1="1989.30" x2="1156.20" y2="1996.30" stroke="#555" stroke-width="2.2"/>
<line x1="1296.00" y1="1989.30" x2="1296.00" y2="1996.30" stroke="#555" stroke-width="2.2"/>
<line x1="806.70" y1="1989.30" x2="806.70" y2="1993.30" stroke="#555" stroke-width="2.2"/>
<line x1="946.50" y1="1989.30" x2="946.50" y2="1993.30" stroke="#555" stroke-width="2.2"/>
<line x1="1086.30" y1="1989.30" x2="1086.30" y2="1993.30" stroke="#555" stroke-width="2.2"/>
<line x1="1226.10" y1="1989.30" x2="1226.10" y2="1993.30" stroke="#555" stroke-width="2.2"/>
<text x="693.40" y="1998.10" font-family='"Liberation Serif", serif' font-size="26.50" font-weight="bold" fill="#222" textLength="27.40" lengthAdjust="spacingAndGlyphs">0.0</text>
<text x="693.40" y="1918.32" font-family='"Liberation Serif", serif' font-size="26.50" font-weight="bold" fill="#222" textLength="27.40" lengthAdjust="spacingAndGlyphs">0.2</text>
<text x="693.40" y="1838.54" font-family='"Liberation Serif", serif' font-size="26.50" font-weight="bold" fill="#222" textLength="27.40" lengthAdjust="spacingAndGlyphs">0.4</text>
<text x="693.40" y="1758.76" font-family='"Liberation Serif", serif' font-size="26.50" font-weight="bold" fill="#222" textLength="27.40" lengthAdjust="spacingAndGlyphs">0.6</text>
<text x="693.40" y="1678.98" font-family='"Liberation Serif", serif' font-size="26.50" font-weight="bold" fill="#222" textLength="27.40" lengthAdjust="spacingAndGlyphs">0.8</text>
<text x="693.40" y="1599.20" font-family='"Liberation Serif", serif' font-size="26.50" font-weight="bold" fill="#222" textLength="27.40" lengthAdjust="spacingAndGlyphs">1.0</text>
<text x="724.30" y="2024.60" font-family='"Liberation Serif", serif' font-size="26.00" font-weight="bold" fill="#222" textLength="18.00" lengthAdjust="spacingAndGlyphs">-2</text>
<text x="864.10" y="2024.60" font-family='"Liberation Serif", serif' font-size="26.00" font-weight="bold" fill="#222" textLength="18.00" lengthAdjust="spacingAndGlyphs">-1</text>
<text x="1011.15" y="2024.60" font-family='"Liberation Serif", serif' font-size="26.00" font-weight="bold" fill="#222" textLength="10.50" lengthAdjust="spacingAndGlyphs">0</text>
<text x="1150.95" y="2024.60" font-family='"Liberation Serif", serif' font-size="26.00" font-weight="bold" fill="#222" textLength="10.50" lengthAdjust="spacingAndGlyphs">1</text>
<text x="1290.75" y="2024.60" font-family='"Liberation Serif", serif' font-size="26.00" font-weight="bold" fill="#222" textLength="10.50" lengthAdjust="spacingAndGlyphs">2</text>
<text x="944.40" y="2063.00" font-family='"Liberation Serif", serif' font-size="24.50" font-weight="bold" fill="#222" textLength="161.39" lengthAdjust="spacingAndGlyphs">Delay Time (ps)</text>
<text transform="translate(677.50,1867.50) rotate(-90)" x="0" y="0" font-family='"Liberation Serif", serif' font-size="24.50" font-weight="bold" fill="#222" textLength="159.89" lengthAdjust="spacingAndGlyphs">Intensity (a.u.)</text>
<circle cx="775.00" cy="1594.30" r="5.50" fill="#33339a" stroke="none" stroke-width="1"/>
<text x="804.00" y="1601.60" font-family='"Liberation Serif", serif' font-size="25.00" font-weight="bold" fill="#222" textLength="188.59" lengthAdjust="spacingAndGlyphs">Experimental data</text>
<line x1="752.40" y1="1638.20" x2="796.70" y2="1638.20" stroke="#ee5050" stroke-width="3.0"/>
<text x="804.00" y="1645.00" font-family='"Liberation Serif", serif' font-size="25.00" font-weight="bold" fill="#222" textLength="46.50" lengthAdjust="spacingAndGlyphs">Sech</text>
<text x="852.30" y="1634.30" font-family='"Liberation Sans", sans-serif' font-size="21.00" font-weight="bold" fill="#222" textLength="10.30" lengthAdjust="spacingAndGlyphs">2</text>
<text x="871.00" y="1645.00" font-family='"Liberation Serif", serif' font-size="25.00" font-weight="bold" fill="#222" textLength="20.00" lengthAdjust="spacingAndGlyphs">fit</text>
<text x="881.90" y="1760.10" font-family='"Liberation Serif", serif' font-size="20.50" font-weight="bold" fill="#222" textLength="82.40" lengthAdjust="spacingAndGlyphs">τ=316 fs</text>
<text x="769.60" y="1844.40" font-family='"Liberation Serif", serif' font-size="48.00" fill="#1a1a1a" textLength="56.10" lengthAdjust="spacingAndGlyphs">(k)</text>
<text x="1066.25" y="1724.80" font-family='"Liberation Serif", serif' font-size="15.00" font-weight="bold" fill="#333" textLength="28.50" lengthAdjust="spacingAndGlyphs">1040</text>
<text x="1133.25" y="1724.80" font-family='"Liberation Serif", serif' font-size="15.00" font-weight="bold" fill="#333" textLength="28.50" lengthAdjust="spacingAndGlyphs">1050</text>
<text x="1200.75" y="1724.80" font-family='"Liberation Serif", serif' font-size="15.00" font-weight="bold" fill="#333" textLength="28.50" lengthAdjust="spacingAndGlyphs">1060</text>
<text x="1268.25" y="1724.80" font-family='"Liberation Serif", serif' font-size="15.00" font-weight="bold" fill="#333" textLength="28.50" lengthAdjust="spacingAndGlyphs">1070</text>
<text x="1114.90" y="1741.00" font-family='"Liberation Serif", serif' font-size="15.00" font-weight="bold" fill="#333" textLength="111.40" lengthAdjust="spacingAndGlyphs">Wavelength (nm)</text>
<text x="1049.70" y="1578.40" font-family='"Liberation Serif", serif' font-size="13.50" font-weight="bold" fill="#333" textLength="86.00" lengthAdjust="spacingAndGlyphs">λc:1053.2 nm</text>
<text x="1050.60" y="1610.70" font-family='"Liberation Serif", serif' font-size="13.50" font-weight="bold" fill="#333" textLength="106.00" lengthAdjust="spacingAndGlyphs">FWHM:4.26 nm</text>
<polyline points="1399.3,1941.0 1399.8,1916.7 1400.4,1936.9 1400.9,1961.2 1401.5,1939.7 1402.0,1892.6 1402.6,1973.6 1403.1,1965.7 1403.7,1910.9 1404.2,1942.9 1404.8,1935.1 1405.3,1932.2 1405.9,1920.1 1406.4,1961.5 1407.0,1931.0 1407.5,1909.5 1408.1,1937.5 1408.6,1953.3 1409.2,1928.0 1409.7,1932.8 1410.3,1929.6 1410.8,1945.0 1411.4,1920.5 1411.9,1927.2 1412.5,1942.3 1413.0,1910.6 1413.6,1900.1 1414.1,1935.4 1414.7,1971.0 1415.2,1945.1 1415.8,1959.9 1416.3,1950.3 1416.9,1891.4 1417.4,1943.3 1418.0,1950.7 1418.5,1960.4 1419.1,1963.0 1419.6,1951.5 1420.2,1948.9 1420.7,1949.8 1421.3,1928.9 1421.8,1922.7 1422.4,1942.3 1422.9,1956.8 1423.5,1878.4 1424.0,1926.6 1424.6,1942.0 1425.1,1917.3 1425.7,1910.9 1426.2,1936.3 1426.8,1917.9 1427.3,1976.3 1427.9,1928.1 1428.4,1917.5 1429.0,1914.0 1429.5,1931.5 1430.1,1927.5 1430.6,1955.2 1431.2,1878.8 1431.7,1954.7 1432.3,1962.0 1432.8,1904.1 1433.4,1903.5 1433.9,1931.0 1434.5,1953.5 1435.0,1947.7 1435.6,1944.2 1436.1,1995.7 1436.7,1946.4 1437.2,1956.9 1437.8,1963.1 1438.3,1983.9 1438.9,1962.5 1439.4,1940.3 1440.0,1900.7 1440.5,1919.4 1441.1,1929.2 1441.6,1953.8 1442.2,1994.5 1442.7,1965.0 1443.3,1935.2 1443.8,1937.9 1444.4,1959.1 1444.9,1896.7 1445.5,1926.3 1446.0,1949.9 1446.6,1924.7 1447.1,1909.4 1447.7,1926.6 1448.2,1958.0 1448.8,1887.2 1449.3,1950.6 1449.9,1896.8 1450.4,1973.8 1451.0,1914.2 1451.5,1895.2 1452.1,1919.1 1452.6,1931.4 1453.2,1926.8 1453.7,1947.9 1454.3,1911.2 1454.8,1940.3 1455.4,1899.5 1455.9,1920.3 1456.5,1917.5 1457.0,1921.1 1457.6,1942.8 1458.1,1876.2 1458.7,1877.8 1459.2,1909.6 1459.8,1940.5 1460.3,1906.4 1460.9,1947.1 1461.4,1955.8 1462.0,1953.5 1462.5,1947.2 1463.1,1926.7 1463.6,1933.8 1464.2,1936.4 1464.7,1924.5 1465.3,1933.7 1465.8,1899.4 1466.4,1923.1 1466.9,1972.8 1467.5,1972.9 1468.0,1926.6 1468.6,1934.1 1469.1,1932.6 1469.7,1929.8 1470.2,1954.5 1470.8,1925.7 1471.3,1953.3 1471.9,1960.1 1472.4,1946.7 1473.0,1930.7 1473.5,1934.9 1474.1,1920.3 1474.6,1944.7 1475.2,1953.1 1475.7,1931.5 1476.3,1952.8 1476.8,1941.3 1477.4,1972.6 1477.9,1952.4 1478.5,1966.3 1479.0,1970.5 1479.6,1991.4 1480.1,1929.3 1480.7,1950.9 1481.2,1931.0 1481.8,1969.5 1482.3,1951.7 1482.9,1939.1 1483.4,1949.4 1484.0,1947.9 1484.5,1926.8 1485.1,1949.3 1485.6,1959.2 1486.2,1977.3 1486.7,1938.4 1487.3,1955.0 1487.8,1965.0 1488.4,1945.3 1488.9,1947.9 1489.5,1967.2 1490.0,1966.7 1490.6,1984.2 1491.1,1907.2 1491.7,1949.3 1492.2,1944.0 1492.8,1933.7 1493.3,1935.5 1493.9,1931.0 1494.4,1916.1 1495.0,1953.2 1495.5,1945.2 1496.1,1944.8 1496.6,1921.9 1497.2,1899.7 1497.7,1967.0 1498.3,1942.9 1498.8,1923.2 1499.4,1945.2 1499.9,1928.4 1500.5,1943.8 1501.0,1942.8 1501.6,1970.3 1502.1,1926.7 1502.7,1930.4 1503.2,1909.2 1503.8,1985.5 1504.3,1914.2 1504.9,1915.8 1505.4,1931.0 1506.0,1937.9 1506.5,1942.3 1507.1,1969.7 1507.6,1959.7 1508.2,1994.1 1508.7,1959.8 1509.3,1939.5 1509.8,1972.3 1510.4,1929.9 1510.9,1936.2 1511.5,1979.7 1512.0,1957.4 1512.6,1943.6 1513.1,1914.9 1513.7,1954.6 1514.2,1913.4 1514.8,1950.0 1515.3,1937.6 1515.9,1906.0 1516.4,1943.9 1517.0,1918.1 1517.5,1921.6 1518.1,1949.0 1518.6,1955.4 1519.2,1937.8 1519.7,1964.4 1520.3,1938.4 1520.8,1936.7 1521.4,1957.8 1521.9,1902.8 1522.5,1943.3 1523.0,1953.8 1523.6,1918.3 1524.1,1948.3 1524.7,1913.2 1525.2,1965.9 1525.8,1945.9 1526.3,1897.5 1526.9,1954.0 1527.4,1912.8 1528.0,1930.3 1528.5,1934.2 1529.1,1933.2 1529.6,1940.9 1530.2,1939.4 1530.7,1944.5 1531.3,1948.0 1531.8,1913.5 1532.4,1988.3 1532.9,1946.3 1533.5,1935.9 1534.0,1953.4 1534.6,1903.3 1535.1,1922.2 1535.7,1953.9 1536.2,1953.5 1536.8,1912.6 1537.3,1924.9 1537.9,1931.5 1538.4,1924.4 1539.0,1912.6 1539.5,1872.5 1540.1,1930.5 1540.6,1861.7 1541.2,1905.2 1541.7,1879.5 1542.3,1904.9 1542.8,1945.4 1543.4,1909.9 1543.9,1888.1 1544.5,1933.7 1545.0,1942.8 1545.6,1882.9 1546.1,1907.4 1546.7,1924.5 1547.2,1952.6 1547.8,1921.1 1548.3,1927.0 1548.9,1925.6 1549.4,1916.0 1550.0,1967.2 1550.5,1909.4 1551.1,1953.7 1551.6,1896.6 1552.2,1924.7 1552.7,1918.5 1553.3,1967.1 1553.8,1940.3 1554.4,1951.7 1554.9,1925.8 1555.5,1933.3 1556.0,1980.6 1556.6,1903.0 1557.1,1925.3 1557.7,1930.0 1558.2,1876.4 1558.8,1923.4 1559.3,1885.7 1559.9,1944.1 1560.4,1916.4 1561.0,1885.9 1561.5,1958.1 1562.1,1945.5 1562.6,1925.0 1563.2,1946.3 1563.7,1956.4 1564.3,1926.4 1564.8,1924.1 1565.4,1966.0 1565.9,1910.3 1566.5,1887.0 1567.0,1915.0 1567.6,1862.9 1568.1,1897.8 1568.7,1875.5 1569.2,1881.7 1569.8,1892.8 1570.3,1896.5 1570.9,1936.5 1571.4,1955.7 1572.0,1921.5 1572.5,1911.3 1573.1,1929.4 1573.6,1944.5 1574.2,1932.4 1574.7,1943.8 1575.3,1896.9 1575.8,1920.5 1576.4,1939.0 1576.9,1909.2 1577.5,1981.7 1578.0,1965.0 1578.6,1924.7 1579.1,1924.7 1579.7,1970.3 1580.2,1882.1 1580.8,1933.7 1581.3,1935.2 1581.9,1892.7 1582.4,1910.8 1583.0,1917.8 1583.5,1884.3 1584.1,1873.7 1584.6,1900.1 1585.2,1878.0 1585.7,1874.5 1586.3,1920.7 1586.8,1897.1" fill="none" stroke="#3a44a0" stroke-width="3.0" stroke-linejoin="round"/>
<polyline points="1599.9,1892.1 1600.4,1871.2 1601.0,1947.7 1601.5,1944.9 1602.1,1923.9 1602.6,1919.5 1603.2,1867.9 1603.7,1908.7 1604.3,1915.4 1604.8,1920.3 1605.4,1933.7 1605.9,1909.3 1606.5,1951.5 1607.0,1968.3 1607.6,1898.9 1608.1,1901.6 1608.7,1907.8 1609.2,1891.5 1609.8,1894.6 1610.3,1905.3 1610.9,1871.1 1611.4,1903.2 1612.0,1883.4 1612.5,1907.5 1613.1,1853.2 1613.6,1940.5 1614.2,1927.2 1614.7,1898.9 1615.3,1921.5 1615.8,1934.8 1616.4,1940.7 1616.9,1904.8 1617.5,1886.1 1618.0,1929.3 1618.6,1926.3 1619.1,1932.3 1619.7,1923.3 1620.2,1903.5 1620.8,1934.1 1621.3,1902.4 1621.9,1886.5 1622.4,1945.5 1623.0,1900.5 1623.5,1902.3 1624.1,1948.9 1624.6,1911.4 1625.2,1927.5 1625.7,1924.0 1626.3,1899.5 1626.8,1915.7 1627.4,1895.4 1627.9,1908.5 1628.5,1898.3 1629.0,1915.8 1629.6,1909.2 1630.1,1852.5 1630.7,1904.9 1631.2,1918.6 1631.8,1898.2 1632.3,1946.7 1632.9,1919.3 1633.4,1898.5 1634.0,1852.5 1634.5,1931.4 1635.1,1882.7 1635.6,1927.8 1636.2,1971.5 1636.7,1912.2 1637.3,1927.0 1637.8,1916.6 1638.4,1933.0 1638.9,1915.9 1639.5,1979.1 1640.0,1924.6 1640.6,1915.3 1641.1,1938.0 1641.7,1895.3 1642.2,1936.1 1642.8,1889.0 1643.3,1910.4 1643.9,1889.3 1644.4,1931.1 1645.0,1913.4 1645.5,1949.4 1646.1,1926.7 1646.6,1929.1 1647.2,1954.9 1647.7,1955.8 1648.3,1928.0 1648.8,1958.3 1649.4,1911.5 1649.9,1953.5 1650.5,1909.6 1651.0,1912.4 1651.6,1917.2 1652.1,1910.6 1652.7,1949.4 1653.2,1937.8 1653.8,1929.9 1654.3,1908.3 1654.9,1950.4 1655.4,1937.5 1656.0,1917.8 1656.5,1926.4 1657.1,1923.9 1657.6,1932.5 1658.2,1911.6 1658.7,1896.4 1659.3,1929.3 1659.8,1956.4 1660.4,1963.4 1660.9,1924.7 1661.5,1946.5 1662.0,1951.4 1662.6,1940.6 1663.1,1931.4 1663.7,1893.4 1664.2,1940.2 1664.8,1902.1 1665.3,1891.0 1665.9,1950.4 1666.4,1920.3 1667.0,1957.0 1667.5,1949.3 1668.1,1939.0 1668.6,1890.3 1669.2,1918.3 1669.7,1902.2 1670.3,1900.4 1670.8,1930.9 1671.4,1903.4 1671.9,1922.1 1672.5,1938.1 1673.0,1991.9 1673.6,1994.7 1674.1,1956.7 1674.7,1923.3 1675.2,1903.6 1675.8,1961.9 1676.3,1936.1 1676.9,1945.6 1677.4,1936.8 1678.0,1920.5 1678.5,1884.5 1679.1,1915.4 1679.6,1923.5 1680.2,1981.6 1680.7,1949.6 1681.3,1918.3 1681.8,1916.8 1682.4,1921.3 1682.9,1910.4 1683.5,1921.6 1684.0,1924.2 1684.6,1917.9 1685.1,1920.4 1685.7,1968.7 1686.2,1937.4 1686.8,1940.1 1687.3,1927.5 1687.9,1911.2 1688.4,1954.9 1689.0,1903.9 1689.5,1922.5 1690.1,1971.4 1690.6,1937.8 1691.2,1928.8 1691.7,1927.5 1692.3,1925.4 1692.8,1905.6 1693.4,1966.7 1693.9,1942.0 1694.5,1933.5 1695.0,1978.6 1695.6,1898.8 1696.1,1958.6 1696.7,1995.3 1697.2,1917.3 1697.8,1931.8 1698.3,1961.9 1698.9,1910.5 1699.4,1933.8 1700.0,1983.0 1700.5,1913.7 1701.1,1935.5 1701.6,1923.8 1702.2,1958.0 1702.7,1870.1 1703.3,1945.6 1703.8,1991.6 1704.4,1967.5 1704.9,1907.8 1705.5,1956.0 1706.0,1973.7 1706.6,1898.3 1707.1,1961.0 1707.7,1930.1 1708.2,1966.0 1708.8,1899.4 1709.3,1928.8 1709.9,1951.8 1710.4,1914.4 1711.0,1949.9 1711.5,1934.6 1712.1,1928.2 1712.6,1956.7 1713.2,1930.4 1713.7,1938.8 1714.3,1942.0 1714.8,1995.7 1715.4,1964.9 1715.9,1980.5 1716.5,1959.4 1717.0,1963.3 1717.6,1965.2 1718.1,1960.5 1718.7,1946.6 1719.2,1943.6 1719.8,1950.1 1720.3,1967.9 1720.9,1971.4 1721.4,1954.9 1722.0,1961.3 1722.5,1927.9 1723.1,1961.5 1723.6,1939.8 1724.2,1970.7 1724.7,1924.9 1725.3,1902.8 1725.8,1938.7 1726.4,1943.4 1726.9,1937.0 1727.5,1968.9 1728.0,1973.1 1728.6,1879.0 1729.1,1959.2 1729.7,1967.9 1730.2,1877.1 1730.8,1939.5 1731.3,1945.6 1731.9,1920.5 1732.4,1961.3 1733.0,1942.4 1733.5,1893.7 1734.1,1975.2 1734.6,1964.1 1735.2,1939.0 1735.7,1939.5 1736.3,1940.0 1736.8,1975.6 1737.4,1945.5 1737.9,1936.1 1738.5,1929.6 1739.0,1957.4 1739.6,1886.3 1740.1,1952.2 1740.7,1904.9 1741.2,1935.0 1741.8,1932.5 1742.3,1938.2 1742.9,1923.6 1743.4,1985.5 1744.0,1934.7 1744.5,1958.0 1745.1,1924.8 1745.6,1960.1 1746.2,1973.9 1746.7,1963.1 1747.3,1953.8 1747.8,1995.7 1748.4,1932.4 1748.9,1919.7 1749.5,1950.1 1750.0,1989.3 1750.6,1918.2 1751.1,1956.9 1751.7,1984.0 1752.2,1916.2 1752.8,1896.9 1753.3,1956.1 1753.9,1955.0 1754.4,1958.8 1755.0,1911.1 1755.5,1925.1 1756.1,1922.2 1756.6,1936.5 1757.2,1903.2 1757.7,1956.9 1758.3,1906.7 1758.8,1957.4 1759.4,1933.6 1759.9,1941.1 1760.5,1940.9 1761.0,1902.6 1761.6,1914.9 1762.1,1976.4 1762.7,1950.8 1763.2,1995.7 1763.8,1918.8 1764.3,1969.7 1764.9,1930.1 1765.4,1926.3 1766.0,1928.5 1766.5,1944.2 1767.1,1940.8 1767.6,1930.4 1768.2,1974.4 1768.7,1990.5 1769.3,1909.2 1769.8,1953.6 1770.4,1985.4 1770.9,1960.8 1771.5,1928.3 1772.0,1975.1 1772.6,1968.5 1773.1,1936.3 1773.7,1947.7 1774.2,1960.7 1774.8,1931.3 1775.3,1980.0 1775.9,1961.1 1776.4,1969.2 1777.0,1913.5 1777.5,1958.4 1778.1,1953.8 1778.6,1963.2 1779.2,1930.6 1779.7,1995.7 1780.3,1988.8 1780.8,1981.3 1781.4,1946.7 1781.9,1928.3 1782.5,1930.8 1783.0,1977.9 1783.6,1950.2 1784.1,1945.5 1784.7,1919.2 1785.2,1925.7 1785.8,1969.2 1786.3,1938.0 1786.9,1950.8 1787.4,1984.5 1788.0,1956.4 1788.5,1939.4 1789.1,1957.5 1789.6,1958.8 1790.2,1975.2 1790.7,1959.8 1791.3,1894.1 1791.8,1981.6 1792.4,1966.8 1792.9,1947.6 1793.5,1947.5 1794.0,1914.6 1794.6,1938.3 1795.1,1964.0 1795.7,1933.0 1796.2,1931.0 1796.8,1983.2 1797.3,1972.6 1797.9,1995.7 1798.4,1990.2 1799.0,1948.5 1799.5,1923.2 1800.1,1943.5 1800.6,1910.1 1801.2,1945.4 1801.7,1921.3 1802.3,1929.8 1802.8,1933.4 1803.4,1942.0 1803.9,1929.5 1804.5,1934.4 1805.0,1910.8 1805.6,1931.4 1806.1,1935.2 1806.7,1942.6 1807.2,1969.1 1807.8,1968.3 1808.3,1970.2 1808.9,1952.8 1809.4,1902.7 1810.0,1928.2 1810.5,1964.8 1811.1,1956.5 1811.6,1934.2 1812.2,1972.0 1812.7,1961.7 1813.3,1981.4 1813.8,1939.0 1814.4,1924.2 1814.9,1932.1 1815.5,1933.8 1816.0,1918.6 1816.6,1950.1 1817.1,1967.7 1817.7,1922.6 1818.2,1909.1 1818.8,1929.3 1819.3,1940.1 1819.9,1927.4 1820.4,1923.5 1821.0,1930.4 1821.5,1973.1 1822.1,1921.1 1822.6,1945.4 1823.2,1920.9 1823.7,1962.8 1824.3,1938.2 1824.8,1903.7 1825.4,1932.4 1825.9,1933.4 1826.5,1910.7 1827.0,1938.3 1827.6,1949.1 1828.1,1941.5 1828.7,1897.0 1829.2,1905.8 1829.8,1917.1 1830.3,1932.9 1830.9,1916.8 1831.4,1954.2 1832.0,1920.8 1832.5,1960.2 1833.1,1969.1 1833.6,1957.0 1834.2,1954.6 1834.7,1940.5 1835.3,1966.4 1835.8,1968.3 1836.4,1953.9 1836.9,1953.8 1837.5,1963.3 1838.0,1975.0 1838.6,1944.4 1839.1,1950.4 1839.7,1964.8 1840.2,1970.4 1840.8,1963.4 1841.3,1961.3 1841.9,1970.7 1842.4,1948.2 1843.0,1926.8 1843.5,1952.1 1844.1,1933.3 1844.6,1942.8 1845.2,1894.0 1845.7,1936.4 1846.3,1916.0 1846.8,1959.7 1847.4,1995.4 1847.9,1969.2 1848.5,1941.6 1849.0,1930.3 1849.6,1957.1 1850.1,1920.4 1850.7,1954.7 1851.2,1944.5 1851.8,1892.3 1852.3,1933.2 1852.9,1959.8 1853.4,1933.0 1854.0,1965.4 1854.5,1916.5 1855.1,1982.6 1855.6,1934.2 1856.2,1964.5 1856.7,1964.0 1857.3,1940.2 1857.8,1975.8 1858.4,1981.7 1858.9,1943.8 1859.5,1943.2 1860.0,1922.1 1860.6,1942.3 1861.1,1927.7 1861.7,1961.1 1862.2,1939.1 1862.8,1995.7 1863.3,1950.7 1863.9,1937.5 1864.4,1932.4 1865.0,1957.7 1865.5,1931.3 1866.1,1943.2 1866.6,1953.5 1867.2,1961.3 1867.7,1965.1 1868.3,1922.5 1868.8,1995.7 1869.4,1933.2 1869.9,1932.8 1870.5,1928.7 1871.0,1914.9 1871.6,1951.1 1872.1,1936.0 1872.7,1911.7 1873.2,1926.8 1873.8,1944.2 1874.3,1924.2 1874.9,1978.4 1875.4,1921.5 1876.0,1942.2 1876.5,1916.0 1877.1,1950.2 1877.6,1930.9 1878.2,1927.9 1878.7,1864.0 1879.3,1931.3 1879.8,1938.0 1880.4,1889.4 1880.9,1949.7 1881.5,1919.7 1882.0,1924.7 1882.6,1933.1 1883.1,1939.3 1883.7,1972.1 1884.2,1926.9 1884.8,1995.7 1885.3,1960.7 1885.9,1972.7 1886.4,1930.3 1887.0,1936.7 1887.5,1945.3 1888.1,1967.4 1888.6,1967.9 1889.2,1929.6 1889.7,1946.3 1890.3,1938.6 1890.8,1994.0 1891.4,1952.6 1891.9,1967.9 1892.5,1937.8 1893.0,1952.9 1893.6,1976.3 1894.1,1934.7 1894.7,1903.5 1895.2,1991.7 1895.8,1974.8 1896.3,1964.7 1896.9,1971.3 1897.4,1946.3 1898.0,1943.0 1898.5,1945.1 1899.1,1938.6 1899.6,1943.9 1900.2,1945.0 1900.7,1961.7 1901.3,1944.0 1901.8,1951.6 1902.4,1971.2 1902.9,1956.8 1903.5,1912.2 1904.0,1890.4 1904.6,1947.6 1905.1,1874.1 1905.7,1936.9 1906.2,1941.5 1906.8,1963.1 1907.3,1940.8 1907.9,1954.5 1908.4,1995.7 1909.0,1966.3 1909.5,1937.3 1910.1,1940.9 1910.6,1963.6 1911.2,1933.6 1911.7,1915.8 1912.3,1969.1 1912.8,1902.1 1913.4,1935.8 1913.9,1968.0 1914.5,1926.9 1915.0,1981.3 1915.6,1965.7 1916.1,1950.7 1916.7,1952.0 1917.2,1981.0 1917.8,1946.0 1918.3,1918.5 1918.9,1970.8 1919.4,1918.5 1920.0,1943.9 1920.5,1939.8 1921.1,1900.2 1921.6,1961.3 1922.2,1926.0 1922.7,1927.9 1923.3,1883.8 1923.8,1920.3 1924.4,1884.7 1924.9,1935.4 1925.5,1932.9 1926.0,1937.9 1926.6,1889.0 1927.1,1921.1 1927.7,1954.6 1928.2,1922.6 1928.8,1917.4 1929.3,1889.7 1929.9,1915.5 1930.4,1941.5 1931.0,1896.9 1931.5,1940.6 1932.1,1917.4 1932.6,1915.2 1933.2,1963.7 1933.7,1918.6 1934.3,1928.2 1934.8,1967.8 1935.4,1956.9 1935.9,1959.5 1936.5,1945.7 1937.0,1939.1 1937.6,1934.6 1938.1,1920.8 1938.7,1961.9 1939.2,1903.7 1939.8,1974.0 1940.3,1984.4 1940.9,1964.2 1941.4,1919.8 1942.0,1962.3 1942.5,1982.9 1943.1,1922.0 1943.6,1951.4 1944.2,1922.3 1944.7,1934.0 1945.3,1918.0 1945.8,1935.9 1946.4,1921.0 1946.9,1976.5 1947.5,1948.3 1948.0,1922.0 1948.6,1929.1 1949.1,1928.6 1949.7,1978.3 1950.2,1922.6 1950.8,1958.3 1951.3,1930.6 1951.9,1950.6 1952.4,1956.8 1953.0,1950.4 1953.5,1895.5 1954.1,1886.6 1954.6,1941.2 1955.2,1944.2 1955.7,1939.6 1956.3,1937.2 1956.8,1916.0 1957.4,1933.5 1957.9,1942.4 1958.5,1935.8 1959.0,1935.2 1959.6,1914.6 1960.1,1905.7 1960.7,1995.7 1961.2,1938.6 1961.8,1955.1 1962.3,1972.2 1962.9,1946.0 1963.4,1949.5 1964.0,1944.9 1964.5,1940.9 1965.1,1936.8 1965.6,1977.7 1966.2,1963.4 1966.7,1993.6 1967.3,1957.3" fill="none" stroke="#3a44a0" stroke-width="3.0" stroke-linejoin="round"/>
<polyline points="1585.1,1896.8 1587.0,1772.7 1588.9,1661.9 1591.4,1615.3 1594.0,1608.7 1596.5,1615.3 1599.0,1661.9 1600.9,1772.7 1602.2,1861.4 1604.1,1887.9" fill="none" stroke="#3a44a0" stroke-width="2.4" stroke-linejoin="round"/>
<rect x="1398.80" y="1551.20" width="569.30" height="444.80" fill="none" stroke="#555" stroke-width="2.2"/>
<line x1="1391.80" y1="1595.40" x2="1398.80" y2="1595.40" stroke="#555" stroke-width="2.2"/>
<line x1="1391.80" y1="1684.05" x2="1398.80" y2="1684.05" stroke="#555" stroke-width="2.2"/>
<line x1="1391.80" y1="1772.70" x2="1398.80" y2="1772.70" stroke="#555" stroke-width="2.2"/>
<line x1="1391.80" y1="1861.35" x2="1398.80" y2="1861.35" stroke="#555" stroke-width="2.2"/>
<line x1="1391.80" y1="1950.00" x2="1398.80" y2="1950.00" stroke="#555" stroke-width="2.2"/>
<line x1="1394.80" y1="1639.73" x2="1398.80" y2="1639.73" stroke="#555" stroke-width="2.2"/>
<line x1="1394.80" y1="1728.38" x2="1398.80" y2="1728.38" stroke="#555" stroke-width="2.2"/>
<line x1="1394.80" y1="1817.03" x2="1398.80" y2="1817.03" stroke="#555" stroke-width="2.2"/>
<line x1="1394.80" y1="1905.68" x2="1398.80" y2="1905.68" stroke="#555" stroke-width="2.2"/>
<line x1="1462.60" y1="1996.00" x2="1462.60" y2="2003.00" stroke="#555" stroke-width="2.2"/>
<line x1="1588.90" y1="1996.00" x2="1588.90" y2="2003.00" stroke="#555" stroke-width="2.2"/>
<line x1="1715.20" y1="1996.00" x2="1715.20" y2="2003.00" stroke="#555" stroke-width="2.2"/>
<line x1="1841.50" y1="1996.00" x2="1841.50" y2="2003.00" stroke="#555" stroke-width="2.2"/>
<line x1="1967.80" y1="1996.00" x2="1967.80" y2="2003.00" stroke="#555" stroke-width="2.2"/>
<line x1="1399.45" y1="1996.00" x2="1399.45" y2="2000.00" stroke="#555" stroke-width="2.2"/>
<line x1="1525.75" y1="1996.00" x2="1525.75" y2="2000.00" stroke="#555" stroke-width="2.2"/>
<line x1="1652.05" y1="1996.00" x2="1652.05" y2="2000.00" stroke="#555" stroke-width="2.2"/>
<line x1="1778.35" y1="1996.00" x2="1778.35" y2="2000.00" stroke="#555" stroke-width="2.2"/>
<line x1="1904.65" y1="1996.00" x2="1904.65" y2="2000.00" stroke="#555" stroke-width="2.2"/>
<text x="1352.70" y="1603.50" font-family='"Liberation Serif", serif' font-size="26.00" font-weight="bold" fill="#222" textLength="32.00" lengthAdjust="spacingAndGlyphs">-20</text>
<text x="1352.70" y="1692.15" font-family='"Liberation Serif", serif' font-size="26.00" font-weight="bold" fill="#222" textLength="32.00" lengthAdjust="spacingAndGlyphs">-40</text>
<text x="1352.70" y="1780.80" font-family='"Liberation Serif", serif' font-size="26.00" font-weight="bold" fill="#222" textLength="32.00" lengthAdjust="spacingAndGlyphs">-60</text>
<text x="1352.70" y="1869.45" font-family='"Liberation Serif", serif' font-size="26.00" font-weight="bold" fill="#222" textLength="32.00" lengthAdjust="spacingAndGlyphs">-80</text>
<text x="1341.70" y="1958.10" font-family='"Liberation Serif", serif' font-size="26.00" font-weight="bold" fill="#222" textLength="43.00" lengthAdjust="spacingAndGlyphs">-100</text>
<text x="1451.10" y="2030.50" font-family='"Liberation Serif", serif' font-size="25.00" font-weight="bold" fill="#222" textLength="23.00" lengthAdjust="spacingAndGlyphs">63</text>
<text x="1577.40" y="2030.50" font-family='"Liberation Serif", serif' font-size="25.00" font-weight="bold" fill="#222" textLength="23.00" lengthAdjust="spacingAndGlyphs">64</text>
<text x="1703.70" y="2030.50" font-family='"Liberation Serif", serif' font-size="25.00" font-weight="bold" fill="#222" textLength="23.00" lengthAdjust="spacingAndGlyphs">65</text>
<text x="1830.00" y="2030.50" font-family='"Liberation Serif", serif' font-size="25.00" font-weight="bold" fill="#222" textLength="23.00" lengthAdjust="spacingAndGlyphs">66</text>
<text x="1956.30" y="2030.50" font-family='"Liberation Serif", serif' font-size="25.00" font-weight="bold" fill="#222" textLength="23.00" lengthAdjust="spacingAndGlyphs">67</text>
<text x="1574.00" y="2063.50" font-family='"Liberation Serif", serif' font-size="26.00" font-weight="bold" fill="#222" textLength="201.60" lengthAdjust="spacingAndGlyphs">Frequency (MHz)</text>
<text transform="translate(1337.50,1869.00) rotate(-90)" x="0" y="0" font-family='"Liberation Serif", serif' font-size="26.00" font-weight="bold" fill="#222" textLength="174.19" lengthAdjust="spacingAndGlyphs">Intensity (dBm)</text>
<text x="1411.60" y="1626.60" font-family='"Liberation Serif", serif' font-size="50.00" fill="#1a1a1a" textLength="43.99" lengthAdjust="spacingAndGlyphs">(l)</text>
<text x="1505.10" y="1748.80" font-family='"Liberation Serif", serif' font-size="27.00" font-weight="bold" fill="#222" textLength="59.70" lengthAdjust="spacingAndGlyphs">63 dB</text>
<rect x="1652.10" y="1562.40" width="298.50" height="229.40" fill="#ffffff" stroke="none" stroke-width="1"/>
<polygon points="1652.9,1791.2 1652.9,1765.9 1653.9,1764.4 1654.9,1761.2 1655.9,1765.8 1656.9,1767.3 1657.9,1768.8 1658.9,1766.4 1659.9,1766.3 1660.9,1763.6 1661.9,1766.9 1662.9,1766.9 1663.9,1766.0 1664.9,1766.3 1665.9,1764.3 1666.9,1766.4 1667.9,1764.4 1668.9,1764.4 1669.9,1763.6 1670.9,1759.1 1671.9,1766.6 1672.9,1769.4 1673.9,1761.9 1674.9,1761.4 1675.9,1763.4 1676.9,1764.5 1677.9,1763.3 1678.9,1767.9 1679.9,1763.0 1680.9,1766.9 1681.9,1766.7 1682.9,1766.3 1683.9,1767.1 1684.9,1764.6 1685.9,1770.5 1686.9,1768.8 1687.9,1763.1 1688.9,1764.4 1689.9,1765.3 1690.9,1764.8 1691.9,1766.7 1692.9,1762.3 1693.9,1767.8 1694.9,1758.9 1695.9,1761.2 1696.9,1758.3 1697.9,1764.0 1698.9,1764.3 1699.9,1764.4 1700.9,1763.5 1701.9,1764.8 1702.9,1763.9 1703.9,1764.8 1704.9,1762.9 1705.9,1764.5 1706.9,1764.6 1707.9,1764.9 1708.9,1765.9 1709.9,1765.1 1710.9,1766.7 1711.9,1767.1 1712.9,1763.0 1713.9,1763.7 1714.9,1768.0 1715.9,1763.1 1716.9,1765.1 1717.9,1761.9 1718.9,1765.0 1719.9,1764.3 1720.9,1763.8 1721.9,1765.5 1722.9,1765.0 1723.9,1763.3 1724.9,1766.5 1725.9,1767.6 1726.9,1762.7 1727.9,1767.7 1728.9,1766.6 1729.9,1769.8 1730.9,1758.3 1731.9,1757.1 1732.9,1759.5 1733.9,1763.9 1734.9,1764.4 1735.9,1763.6 1736.9,1763.7 1737.9,1766.8 1738.9,1764.9 1739.9,1762.3 1740.9,1764.5 1741.9,1769.2 1742.9,1767.2 1743.9,1764.0 1744.9,1766.0 1745.9,1765.4 1746.9,1766.0 1747.9,1763.6 1748.9,1757.5 1749.9,1762.7 1750.9,1764.6 1751.9,1766.5 1752.9,1761.2 1753.9,1765.2 1754.9,1764.1 1755.9,1764.1 1756.9,1764.4 1757.9,1766.0 1758.9,1765.1 1759.9,1767.7 1760.9,1766.3 1761.9,1765.5 1762.9,1765.7 1763.9,1765.4 1764.9,1764.6 1765.9,1765.7 1766.9,1764.5 1767.9,1765.1 1768.9,1761.4 1769.9,1763.3 1770.9,1761.9 1771.9,1767.2 1772.9,1763.1 1773.9,1766.1 1774.9,1766.2 1775.9,1765.7 1776.9,1764.3 1777.9,1762.9 1778.9,1763.8 1779.9,1761.9 1780.9,1760.3 1781.9,1763.5 1782.9,1767.1 1783.9,1766.0 1784.9,1757.9 1785.9,1763.1 1786.9,1766.3 1787.9,1763.3 1788.9,1764.9 1789.9,1764.1 1790.9,1763.6 1791.9,1766.7 1792.9,1762.8 1793.9,1765.9 1794.9,1765.9 1795.9,1764.5 1796.9,1759.6 1797.9,1764.4 1798.9,1765.4 1799.9,1762.3 1800.9,1765.2 1801.9,1763.9 1802.9,1763.4 1803.9,1769.5 1804.9,1761.6 1805.9,1765.1 1806.9,1765.4 1807.9,1763.9 1808.9,1761.2 1809.9,1763.6 1810.9,1765.4 1811.9,1765.6 1812.9,1765.5 1813.9,1763.6 1814.9,1768.3 1815.9,1762.5 1816.9,1765.8 1817.9,1765.5 1818.9,1762.7 1819.9,1761.5 1820.9,1764.9 1821.9,1768.6 1822.9,1763.3 1823.9,1763.4 1824.9,1757.2 1825.9,1766.2 1826.9,1768.0 1827.9,1764.2 1828.9,1767.6 1829.9,1764.9 1830.9,1758.1 1831.9,1767.2 1832.9,1768.0 1833.9,1765.1 1834.9,1763.7 1835.9,1767.2 1836.9,1764.8 1837.9,1761.4 1838.9,1765.3 1839.9,1764.6 1840.9,1768.7 1841.9,1764.9 1842.9,1765.1 1843.9,1766.7 1844.9,1764.7 1845.9,1771.9 1846.9,1764.1 1847.9,1766.4 1848.9,1766.0 1849.9,1760.0 1850.9,1765.9 1851.9,1765.4 1852.9,1760.9 1853.9,1764.9 1854.9,1764.4 1855.9,1762.5 1856.9,1766.3 1857.9,1767.8 1858.9,1765.0 1859.9,1764.3 1860.9,1764.4 1861.9,1763.8 1862.9,1761.3 1863.9,1770.6 1864.9,1766.2 1865.9,1761.6 1866.9,1763.8 1867.9,1768.5 1868.9,1762.5 1869.9,1766.5 1870.9,1764.8 1871.9,1761.4 1872.9,1763.6 1873.9,1764.8 1874.9,1760.0 1875.9,1765.1 1876.9,1765.6 1877.9,1764.9 1878.9,1765.4 1879.9,1762.4 1880.9,1759.4 1881.9,1764.8 1882.9,1764.7 1883.9,1764.0 1884.9,1762.9 1885.9,1763.8 1886.9,1761.8 1887.9,1764.7 1888.9,1764.7 1889.9,1762.3 1890.9,1764.0 1891.9,1764.7 1892.9,1761.8 1893.9,1769.8 1894.9,1765.9 1895.9,1765.2 1896.9,1766.2 1897.9,1766.6 1898.9,1766.5 1899.9,1763.7 1900.9,1763.7 1901.9,1766.0 1902.9,1765.2 1903.9,1763.5 1904.9,1764.4 1905.9,1765.6 1906.9,1766.0 1907.9,1763.6 1908.9,1765.3 1909.9,1768.0 1910.9,1764.6 1911.9,1763.7 1912.9,1762.4 1913.9,1765.5 1914.9,1765.3 1915.9,1765.4 1916.9,1765.3 1917.9,1763.6 1918.9,1766.3 1919.9,1767.9 1920.9,1764.3 1921.9,1765.2 1922.9,1765.6 1923.9,1762.5 1924.9,1762.6 1925.9,1767.8 1926.9,1766.9 1927.9,1766.3 1928.9,1764.0 1929.9,1768.3 1930.9,1762.6 1931.9,1769.2 1932.9,1767.2 1933.9,1766.1 1934.9,1768.1 1935.9,1765.5 1936.9,1761.0 1937.9,1767.6 1938.9,1760.6 1939.9,1766.7 1940.9,1765.6 1941.9,1766.5 1942.9,1764.4 1943.9,1763.4 1944.9,1765.4 1945.9,1769.1 1946.9,1764.1 1947.9,1762.8 1948.9,1765.2 1948.9,1791.2" fill="#3a44a0"/>

<polygon points="1670.2,1762.3 1671.1,1627.6 1671.7,1623.6 1672.6,1623.6 1673.2,1627.6 1674.1,1762.3" fill="#4a52b0"/>
<polygon points="1689.3,1762.3 1690.2,1631.5 1690.8,1627.5 1691.7,1627.5 1692.3,1631.5 1693.2,1762.3" fill="#4a52b0"/>
<polygon points="1708.3,1762.3 1709.2,1637.0 1709.8,1633.0 1710.7,1633.0 1711.3,1637.0 1712.2,1762.3" fill="#4a52b0"/>
<polygon points="1727.4,1762.3 1728.3,1640.3 1728.9,1636.3 1729.8,1636.3 1730.4,1640.3 1731.3,1762.3" fill="#4a52b0"/>
<polygon points="1746.4,1762.3 1747.3,1638.3 1747.9,1634.3 1748.8,1634.3 1749.4,1638.3 1750.3,1762.3" fill="#4a52b0"/>
<polygon points="1765.5,1762.3 1766.4,1638.9 1767.0,1634.9 1767.9,1634.9 1768.5,1638.9 1769.4,1762.3" fill="#4a52b0"/>
<polygon points="1784.6,1762.3 1785.5,1646.1 1786.1,1642.1 1787.0,1642.1 1787.6,1646.1 1788.5,1762.3" fill="#4a52b0"/>
<polygon points="1803.6,1762.3 1804.5,1657.8 1805.1,1653.8 1806.0,1653.8 1806.6,1657.8 1807.5,1762.3" fill="#4a52b0"/>
<polygon points="1822.7,1762.3 1823.6,1672.4 1824.2,1668.4 1825.1,1668.4 1825.7,1672.4 1826.6,1762.3" fill="#4a52b0"/>
<polygon points="1841.7,1762.3 1842.6,1683.1 1843.2,1679.1 1844.1,1679.1 1844.7,1683.1 1845.6,1762.3" fill="#4a52b0"/>
<polygon points="1860.8,1762.3 1861.7,1684.0 1862.3,1680.0 1863.2,1680.0 1863.8,1684.0 1864.7,1762.3" fill="#4a52b0"/>
<polygon points="1879.9,1762.3 1880.8,1702.5 1881.4,1698.5 1882.3,1698.5 1882.9,1702.5 1883.8,1762.3" fill="#4a52b0"/>
<polygon points="1898.9,1762.3 1899.8,1708.3 1900.4,1704.3 1901.3,1704.3 1901.9,1708.3 1902.8,1762.3" fill="#4a52b0"/>
<polygon points="1918.0,1762.3 1918.9,1723.9 1919.5,1719.9 1920.4,1719.9 1921.0,1723.9 1921.9,1762.3" fill="#4a52b0"/>
<polygon points="1937.0,1762.3 1937.9,1738.5 1938.5,1734.5 1939.4,1734.5 1940.0,1738.5 1940.9,1762.3" fill="#4a52b0"/>
<line x1="1652.90" y1="1562.40" x2="1652.90" y2="1762.30" stroke="#5a62c0" stroke-width="1.4"/>
<rect x="1652.10" y="1562.40" width="298.50" height="229.40" fill="none" stroke="#777" stroke-width="1.4"/>
<line x1="1649.10" y1="1562.40" x2="1652.10" y2="1562.40" stroke="#666" stroke-width="1.2"/>
<line x1="1649.10" y1="1595.17" x2="1652.10" y2="1595.17" stroke="#666" stroke-width="1.2"/>
<line x1="1649.10" y1="1627.94" x2="1652.10" y2="1627.94" stroke="#666" stroke-width="1.2"/>
<line x1="1649.10" y1="1660.71" x2="1652.10" y2="1660.71" stroke="#666" stroke-width="1.2"/>
<line x1="1649.10" y1="1693.48" x2="1652.10" y2="1693.48" stroke="#666" stroke-width="1.2"/>
<line x1="1649.10" y1="1726.25" x2="1652.10" y2="1726.25" stroke="#666" stroke-width="1.2"/>
<line x1="1649.10" y1="1759.02" x2="1652.10" y2="1759.02" stroke="#666" stroke-width="1.2"/>
<line x1="1649.10" y1="1791.79" x2="1652.10" y2="1791.79" stroke="#666" stroke-width="1.2"/>
<line x1="1652.10" y1="1791.80" x2="1652.10" y2="1794.80" stroke="#666" stroke-width="1.2"/>
<line x1="1711.80" y1="1791.80" x2="1711.80" y2="1794.80" stroke="#666" stroke-width="1.2"/>
<line x1="1771.50" y1="1791.80" x2="1771.50" y2="1794.80" stroke="#666" stroke-width="1.2"/>
<line x1="1831.20" y1="1791.80" x2="1831.20" y2="1794.80" stroke="#666" stroke-width="1.2"/>
<line x1="1890.90" y1="1791.80" x2="1890.90" y2="1794.80" stroke="#666" stroke-width="1.2"/>
<line x1="1950.60" y1="1791.80" x2="1950.60" y2="1794.80" stroke="#666" stroke-width="1.2"/>
<text x="1629.30" y="1566.90" font-family='"Liberation Serif", serif' font-size="13.00" font-weight="bold" fill="#333" textLength="16.00" lengthAdjust="spacingAndGlyphs">-20</text>
<text x="1629.30" y="1599.67" font-family='"Liberation Serif", serif' font-size="13.00" font-weight="bold" fill="#333" textLength="16.00" lengthAdjust="spacingAndGlyphs">-30</text>
<text x="1629.30" y="1632.44" font-family='"Liberation Serif", serif' font-size="13.00" font-weight="bold" fill="#333" textLength="16.00" lengthAdjust="spacingAndGlyphs">-40</text>
<text x="1629.30" y="1665.21" font-family='"Liberation Serif", serif' font-size="13.00" font-weight="bold" fill="#333" textLength="16.00" lengthAdjust="spacingAndGlyphs">-50</text>
<text x="1629.30" y="1697.98" font-family='"Liberation Serif", serif' font-size="13.00" font-weight="bold" fill="#333" textLength="16.00" lengthAdjust="spacingAndGlyphs">-60</text>
<text x="1629.30" y="1730.75" font-family='"Liberation Serif", serif' font-size="13.00" font-weight="bold" fill="#333" textLength="16.00" lengthAdjust="spacingAndGlyphs">-70</text>
<text x="1629.30" y="1763.52" font-family='"Liberation Serif", serif' font-size="13.00" font-weight="bold" fill="#333" textLength="16.00" lengthAdjust="spacingAndGlyphs">-80</text>
<text x="1629.30" y="1796.29" font-family='"Liberation Serif", serif' font-size="13.00" font-weight="bold" fill="#333" textLength="16.00" lengthAdjust="spacingAndGlyphs">-90</text>
<text x="1649.35" y="1811.40" font-family='"Liberation Serif", serif' font-size="13.00" font-weight="bold" fill="#333" textLength="5.50" lengthAdjust="spacingAndGlyphs">0</text>
<text x="1701.80" y="1811.40" font-family='"Liberation Serif", serif' font-size="13.00" font-weight="bold" fill="#333" textLength="20.00" lengthAdjust="spacingAndGlyphs">200</text>
<text x="1761.50" y="1811.40" font-family='"Liberation Serif", serif' font-size="13.00" font-weight="bold" fill="#333" textLength="20.00" lengthAdjust="spacingAndGlyphs">400</text>
<text x="1821.20" y="1811.40" font-family='"Liberation Serif", serif' font-size="13.00" font-weight="bold" fill="#333" textLength="20.00" lengthAdjust="spacingAndGlyphs">600</text>
<text x="1880.90" y="1811.40" font-family='"Liberation Serif", serif' font-size="13.00" font-weight="bold" fill="#333" textLength="20.00" lengthAdjust="spacingAndGlyphs">800</text>
<text x="1937.10" y="1811.40" font-family='"Liberation Serif", serif' font-size="13.00" font-weight="bold" fill="#333" textLength="27.00" lengthAdjust="spacingAndGlyphs">1000</text>
<text x="1740.60" y="1830.80" font-family='"Liberation Serif", serif' font-size="13.00" font-weight="bold" fill="#333" textLength="123.40" lengthAdjust="spacingAndGlyphs">Frequency (MHz)</text>
<text transform="translate(1616.50,1740.40) rotate(-90)" x="0" y="0" font-family='"Liberation Serif", serif' font-size="13.50" font-weight="bold" fill="#333" textLength="116.39" lengthAdjust="spacingAndGlyphs">Intensity (dBm)</text>
</svg></body></html>
